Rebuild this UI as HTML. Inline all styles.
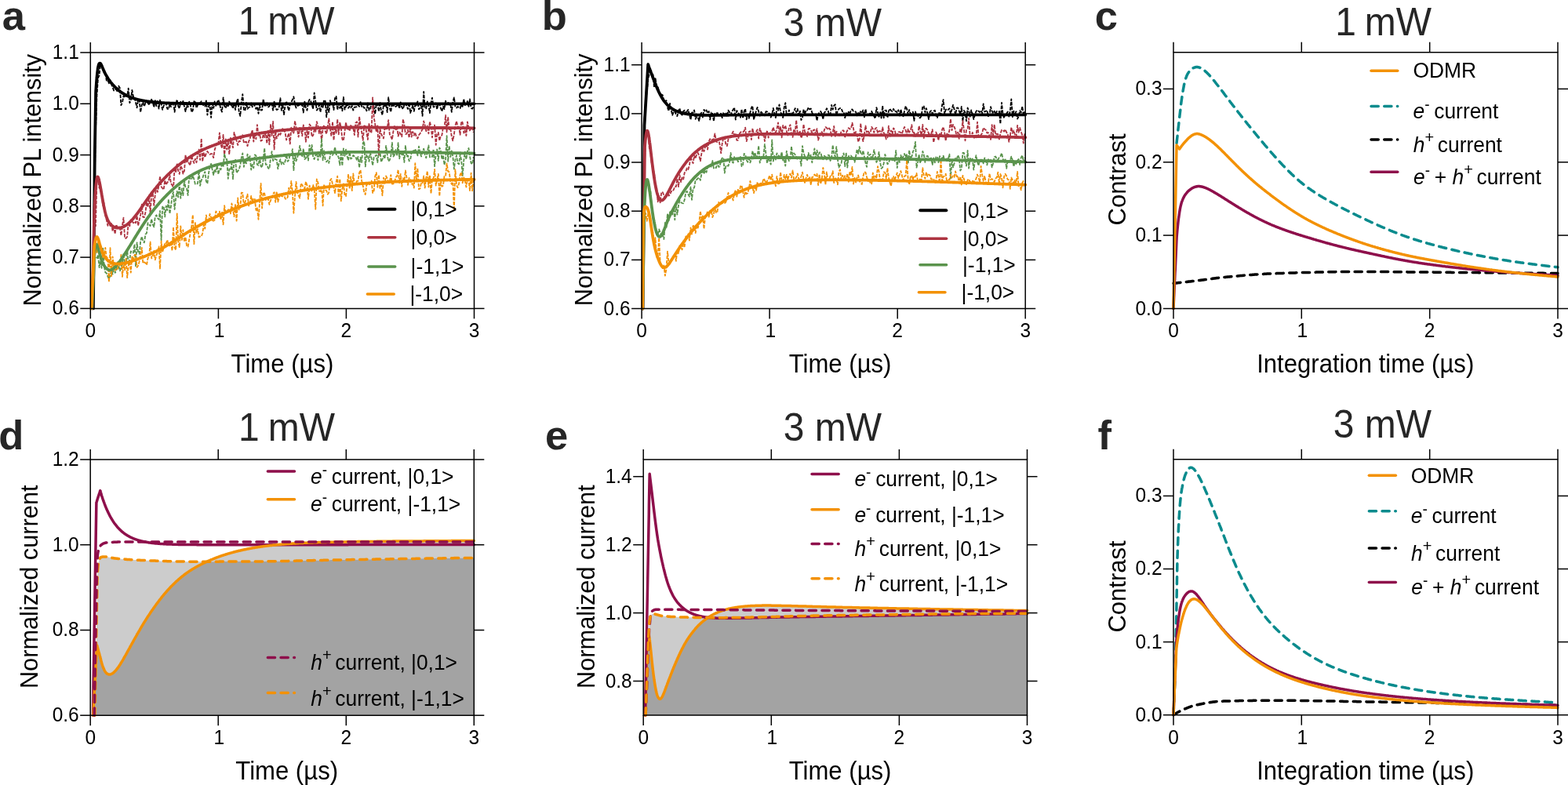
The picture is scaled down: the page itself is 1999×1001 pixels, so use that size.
<!DOCTYPE html>
<html><head><meta charset="utf-8"><title>Figure</title>
<style>html,body{margin:0;padding:0;background:#fff;overflow:hidden}svg{display:block}</style></head><body>
<svg width="1999" height="1001" viewBox="0 0 1999 1001" font-family='"Liberation Sans", Arial, Helvetica, sans-serif'>
<rect width="1999" height="1001" fill="#fff"/>
<g><path d="M117.3 393.4L118.8 390.8L120.4 245.1L121.9 168.4L123.5 121.1L125 99.6L126.6 95.8L128.1 79.9L129.6 83L131.2 88L132.7 92.5L134.3 92.7L135.8 102.7L137.4 102.1L138.9 106.2L140.5 102.3L142 107.4L143.6 111.1L145.1 115.5L146.7 114.1L148.2 114.1L149.8 117.1L151.3 109.6L152.9 112.4L154.4 134.2L156 130.6L157.5 122.1L159.1 124.4L160.6 121.7L162.2 122.4L163.7 112.6L165.3 131.2L166.8 127.8L168.4 114.9L169.9 123.2L171.5 123.6L173 130.7L174.6 137.4L176.1 126.8L177.7 128.5L179.2 143.1L180.8 133.6L182.3 130.5L183.9 135.6L185.4 131.2L187 130.4L188.5 131L190.1 134.2L191.6 128.3L193.2 126.8L194.7 130.2L196.3 136.7L197.8 128.2L199.4 135.2L200.9 127.7L202.5 138.6L204 127.7L205.6 133L207.1 139.9L208.7 134.8L210.2 132.9L211.8 131.7L213.3 138.8L214.9 139.5L216.4 132.4L218 136.1L219.5 132.3L221 129.4L222.6 142.8L224.1 132.3L225.7 127L227.2 135.4L228.8 138.3L230.3 129.7L231.9 132.5L233.4 128.9L235 135.9L236.5 142.2L238.1 134.6L239.6 136.5L241.2 129.7L242.7 133L244.3 143.1L245.8 140.7L247.4 129.2L248.9 130.3L250.5 137.7L252 134.1L253.6 131.7L255.1 131.5L256.7 129.3L258.2 132.7L259.8 135.2L261.3 135.6L262.9 128.3L264.4 146.7L266 135L267.5 134L269.1 150L270.6 132.4L272.2 137.8L273.7 129.4L275.3 134.9L276.8 130.5L278.4 127.4L279.9 132.1L281.5 139.1L283 142.6L284.6 124.5L286.1 134.8L287.7 138L289.2 133.4L290.8 135.3L292.3 129.5L293.9 134L295.4 134.2L297 138.2L298.5 131.6L300.1 140L301.6 130.5L303.2 125.8L304.7 142.7L306.3 147.9L307.8 130.8L309.3 120.1L310.9 139.8L312.4 141.2L314 131L315.5 138.9L317.1 137L318.6 136.2L320.2 131.3L321.7 136.5L323.3 132.7L324.8 135.2L326.4 138.9L327.9 136L329.5 144.8L331 134.2L332.6 140.5L334.1 140.3L335.7 126.2L337.2 134.5L338.8 134.5L340.3 131.4L341.9 136.6L343.4 135.5L345 131.9L346.5 132.7L348.1 140.7L349.6 129.6L351.2 137.5L352.7 140.1L354.3 139.2L355.8 136.4L357.4 125.2L358.9 140.8L360.5 133.4L362 146.1L363.6 134.2L365.1 129.2L366.7 135.6L368.2 141.2L369.8 133L371.3 130.4L372.9 126.9L374.4 123.3L376 133.1L377.5 137.5L379.1 134.9L380.6 134.6L382.2 133.6L383.7 134.4L385.3 133.3L386.8 143.5L388.4 129.6L389.9 137.4L391.5 140.7L393 130.7L394.6 126.9L396.1 128.8L397.6 133.3L399.2 139.4L400.7 118.3L402.3 129.4L403.8 140.6L405.4 138.6L406.9 133.8L408.5 142.9L410 133.3L411.6 136.8L413.1 127.4L414.7 128.9L416.2 149.3L417.8 134L419.3 143.2L420.9 128.1L422.4 133.3L424 131.2L425.5 140.1L427.1 124.1L428.6 123L430.2 140.1L431.7 132.2L433.3 138L434.8 134.4L436.4 141.3L437.9 123.9L439.5 139.6L441 135.9L442.6 131.5L444.1 137.8L445.7 135.6L447.2 137.4L448.8 135L450.3 140.7L451.9 136.7L453.4 136.5L455 136.1L456.5 133.9L458.1 135.9L459.6 130.1L461.2 136L462.7 135L464.3 137.9L465.8 137.2L467.4 141.3L468.9 131.4L470.5 140.6L472 138.4L473.6 132.2L475.1 132L476.7 136.5L478.2 145.4L479.8 131.9L481.3 132.8L482.9 142.1L484.4 130L486 142L487.5 146.7L489 133.2L490.6 135.2L492.1 133.1L493.7 143.1L495.2 124.2L496.8 137.6L498.3 142.8L499.9 130.8L501.4 136.2L503 132.4L504.5 136.1L506.1 134.6L507.6 132.9L509.2 138.4L510.7 130.5L512.3 136.8L513.8 139.1L515.4 133.8L516.9 131.8L518.5 135.5L520 139L521.6 130.8L523.1 144L524.7 140L526.2 134L527.8 141.8L529.3 134.1L530.9 134.5L532.4 129.3L534 139.3L535.5 137.7L537.1 132.4L538.6 147.9L540.2 117L541.7 138.1L543.3 138.3L544.8 129.5L546.4 134.5L547.9 144.1L549.5 130.8L551 124.7L552.6 136.7L554.1 135.8L555.7 131.5L557.2 139.3L558.8 131.8L560.3 133.1L561.9 138L563.4 142L565 135.5L566.5 139.1L568.1 128.7L569.6 133.4L571.2 129.9L572.7 133.5L574.3 132.8L575.8 142.9L577.3 130.5L578.9 124.3L580.4 136L582 137.5L583.5 136L585.1 136.9L586.6 138.1L588.2 133.5L589.7 135.9L591.3 126.3L592.8 134.2L594.4 132.4L595.9 129L597.5 135.9L599 126.3L600.6 137.7L602.1 138.7L603.7 136.3" fill="none" stroke="#000000" stroke-width="1.8" stroke-dasharray="4.5 1.5" stroke-linejoin="round"/>
<path d="M117.3 393.4L118.8 337.7L120.4 277.1L121.9 288.4L123.5 230.3L125 228.2L126.6 239.8L128.1 237.4L129.6 248.4L131.2 262.4L132.7 259L134.3 274.8L135.8 280.3L137.4 287.8L138.9 281.9L140.5 288.1L142 285.1L143.6 294.6L145.1 290.3L146.7 298.3L148.2 286.4L149.8 290.1L151.3 290.6L152.9 290.1L154.4 300.2L156 287.2L157.5 277.7L159.1 303.8L160.6 303.9L162.2 301.7L163.7 284.1L165.3 288.3L166.8 280.5L168.4 281.9L169.9 284.4L171.5 282.5L173 284.3L174.6 275.1L176.1 287.7L177.7 280.7L179.2 273.9L180.8 260.6L182.3 276.9L183.9 277L185.4 271.1L187 257.8L188.5 264.2L190.1 250.8L191.6 271.5L193.2 247.8L194.7 246.3L196.3 261.8L197.8 248.4L199.4 238.8L200.9 244.9L202.5 236.4L204 224.7L205.6 237.9L207.1 240.1L208.7 241.8L210.2 229.9L211.8 235.7L213.3 232.5L214.9 231.1L216.4 223.3L218 234.1L219.5 235.9L221 240.9L222.6 213.4L224.1 220L225.7 208.3L227.2 217.9L228.8 221.8L230.3 211.7L231.9 214.4L233.4 221.6L235 217.8L236.5 197.5L238.1 206.5L239.6 204.9L241.2 208.8L242.7 210.6L244.3 198.2L245.8 204.3L247.4 208L248.9 202.6L250.5 207.2L252 197L253.6 190.7L255.1 204L256.7 176.6L258.2 205.9L259.8 194.4L261.3 200.7L262.9 195.6L264.4 192.9L266 195.6L267.5 196.9L269.1 196L270.6 196.4L272.2 201.1L273.7 191.1L275.3 185.8L276.8 181.5L278.4 182.8L279.9 169.3L281.5 184.1L283 189.1L284.6 171.8L286.1 199.8L287.7 177.3L289.2 190.6L290.8 180.7L292.3 196.9L293.9 175.8L295.4 183L297 188.3L298.5 168.9L300.1 175L301.6 179.4L303.2 185L304.7 179.8L306.3 180L307.8 173.2L309.3 172.3L310.9 182.4L312.4 181.2L314 180.7L315.5 186.2L317.1 180.4L318.6 177.2L320.2 170.5L321.7 165.7L323.3 180.7L324.8 170.6L326.4 177.4L327.9 159.1L329.5 174L331 169.8L332.6 179.8L334.1 178.7L335.7 171.1L337.2 175.1L338.8 169.5L340.3 183L341.9 166.8L343.4 184.3L345 158.8L346.5 173L348.1 154.9L349.6 190.5L351.2 167.2L352.7 176.5L354.3 173.4L355.8 169.5L357.4 171.8L358.9 167.5L360.5 163.8L362 164.3L363.6 169.5L365.1 178.5L366.7 174.3L368.2 169.8L369.8 183.5L371.3 162.7L372.9 169.7L374.4 169.7L376 154.1L377.5 162.8L379.1 165.9L380.6 174.6L382.2 162.8L383.7 164.7L385.3 173.4L386.8 159.5L388.4 163.2L389.9 180.9L391.5 165.8L393 175.7L394.6 158.4L396.1 160.7L397.6 174.3L399.2 172.7L400.7 165.5L402.3 167.9L403.8 155.1L405.4 160.7L406.9 170L408.5 161.8L410 180.5L411.6 163.6L413.1 159.5L414.7 167L416.2 170.8L417.8 161.6L419.3 151.5L420.9 164.1L422.4 173.6L424 155.1L425.5 178.9L427.1 161.8L428.6 169.6L430.2 152L431.7 171.4L433.3 155.8L434.8 163.1L436.4 177.7L437.9 179.4L439.5 167.5L441 155.9L442.6 164.3L444.1 164.7L445.7 166.9L447.2 159.9L448.8 162.4L450.3 163.1L451.9 172.2L453.4 156.6L455 155.3L456.5 174.5L458.1 148.6L459.6 159.9L461.2 168.6L462.7 178.8L464.3 160.4L465.8 161.1L467.4 169.4L468.9 178L470.5 157L472 169.3L473.6 168.5L475.1 124.3L476.7 149.8L478.2 158.3L479.8 168.4L481.3 160.5L482.9 197.9L484.4 164.4L486 170.6L487.5 174.4L489 176.5L490.6 161.4L492.1 164.5L493.7 164L495.2 153.1L496.8 171.3L498.3 174.1L499.9 178L501.4 167.6L503 159.8L504.5 166.3L506.1 160.6L507.6 173.7L509.2 168.6L510.7 170.8L512.3 174.2L513.8 151.9L515.4 159.2L516.9 170.8L518.5 170.8L520 165.7L521.6 175.7L523.1 162.2L524.7 174.6L526.2 168L527.8 172.7L529.3 168.8L530.9 174.9L532.4 176.7L534 172.3L535.5 170.3L537.1 167.5L538.6 164.9L540.2 154.5L541.7 159.6L543.3 167.3L544.8 160.3L546.4 170.4L547.9 155.1L549.5 161.6L551 175.3L552.6 160.1L554.1 159.7L555.7 184.8L557.2 170.9L558.8 169L560.3 179.4L561.9 173.2L563.4 172.4L565 162L566.5 163.5L568.1 146.8L569.6 168.5L571.2 149.1L572.7 165.1L574.3 163.7L575.8 174L577.3 179.4L578.9 171.2L580.4 160.2L582 154.4L583.5 161.4L585.1 162.2L586.6 171.8L588.2 154.7L589.7 156.1L591.3 169.6L592.8 166.1L594.4 173L595.9 155.3L597.5 162.9L599 166.5L600.6 162.9L602.1 162.7L603.7 168.8" fill="none" stroke="#ad3340" stroke-width="1.8" stroke-dasharray="4.5 1.5" stroke-linejoin="round"/>
<path d="M117.3 383.3L118.8 381.9L120.4 327.8L121.9 328.5L123.5 329.8L125 324.8L126.6 341.2L128.1 332.9L129.6 341.9L131.2 315.6L132.7 339.2L134.3 347.2L135.8 348.4L137.4 352.4L138.9 355.8L140.5 351.3L142 344.9L143.6 349.7L145.1 340.5L146.7 347.9L148.2 345.3L149.8 333.2L151.3 339.2L152.9 345.3L154.4 341.6L156 334.8L157.5 323.3L159.1 337.5L160.6 335.6L162.2 317.8L163.7 336.8L165.3 330.8L166.8 320.5L168.4 320.9L169.9 322.5L171.5 311.6L173 339.3L174.6 309.3L176.1 321.1L177.7 323.7L179.2 307.2L180.8 301.6L182.3 307.3L183.9 309.4L185.4 299L187 297.1L188.5 284.2L190.1 286.5L191.6 288.1L193.2 279.2L194.7 286.4L196.3 289.4L197.8 276.3L199.4 274.2L200.9 277.9L202.5 279.9L204 269L205.6 306.2L207.1 263.5L208.7 263.1L210.2 276.5L211.8 262.6L213.3 268.2L214.9 254.1L216.4 272.5L218 262.8L219.5 249.6L221 244.8L222.6 267L224.1 253.6L225.7 243.8L227.2 251.5L228.8 234.3L230.3 252.9L231.9 240.4L233.4 249.2L235 230.2L236.5 239.2L238.1 240.5L239.6 249L241.2 223.4L242.7 229L244.3 227.9L245.8 224L247.4 228.7L248.9 234.7L250.5 234.9L252 234L253.6 217.5L255.1 236.9L256.7 229.9L258.2 227.1L259.8 222.3L261.3 219.1L262.9 231.4L264.4 234.2L266 221.1L267.5 211.7L269.1 208.9L270.6 216.1L272.2 223.1L273.7 215.9L275.3 219.2L276.8 211.1L278.4 222.2L279.9 215.1L281.5 216.4L283 207.3L284.6 213.1L286.1 196L287.7 203.2L289.2 202.9L290.8 227.9L292.3 215.4L293.9 217L295.4 208.5L297 228.4L298.5 203.3L300.1 203.9L301.6 220.6L303.2 218.1L304.7 216.5L306.3 210.3L307.8 201.1L309.3 195.4L310.9 212.8L312.4 204.2L314 208.4L315.5 196.7L317.1 203.8L318.6 199.1L320.2 216.5L321.7 209.9L323.3 214.2L324.8 197.3L326.4 198.5L327.9 209.9L329.5 210.8L331 200.4L332.6 212.2L334.1 213.6L335.7 203.3L337.2 188.9L338.8 209.9L340.3 210.1L341.9 214.4L343.4 215.3L345 201.8L346.5 193.1L348.1 205.1L349.6 202.6L351.2 203.1L352.7 203.6L354.3 215.4L355.8 207.5L357.4 203.2L358.9 209.5L360.5 207.1L362 209.4L363.6 205.7L365.1 197L366.7 205.9L368.2 203.9L369.8 196.8L371.3 197.9L372.9 190.2L374.4 217.2L376 195.9L377.5 205.4L379.1 200.8L380.6 195.6L382.2 186L383.7 193.9L385.3 200.2L386.8 189.6L388.4 203.1L389.9 201.9L391.5 195.1L393 204.7L394.6 185.1L396.1 193.2L397.6 184.8L399.2 200.5L400.7 203L402.3 197.7L403.8 194.8L405.4 204.2L406.9 197.2L408.5 199.9L410 176.5L411.6 204.4L413.1 192.1L414.7 204.2L416.2 206.4L417.8 204.5L419.3 207.9L420.9 198.2L422.4 191.8L424 198L425.5 194.7L427.1 187.4L428.6 197.1L430.2 197.6L431.7 200.9L433.3 210.5L434.8 193.4L436.4 211.4L437.9 189.4L439.5 198.9L441 190.6L442.6 199.2L444.1 204.6L445.7 193.5L447.2 202.6L448.8 201.2L450.3 198L451.9 199.5L453.4 199.9L455 204.5L456.5 199.8L458.1 213.8L459.6 200.7L461.2 207L462.7 182.3L464.3 180.2L465.8 212.4L467.4 197.3L468.9 199.3L470.5 205.9L472 194.5L473.6 201.7L475.1 211L476.7 200.3L478.2 199.4L479.8 197.6L481.3 207.2L482.9 193.9L484.4 193.1L486 206.6L487.5 203.1L489 198.9L490.6 202.4L492.1 185.8L493.7 196.9L495.2 205.6L496.8 204L498.3 198.8L499.9 181.9L501.4 199.7L503 197.5L504.5 191L506.1 198.7L507.6 182.1L509.2 202.3L510.7 193.1L512.3 197.3L513.8 194L515.4 207L516.9 185.8L518.5 199.4L520 198.3L521.6 205.3L523.1 203.8L524.7 194.6L526.2 191.6L527.8 193.2L529.3 190L530.9 193.6L532.4 198.3L534 186.7L535.5 194.5L537.1 199.5L538.6 193.6L540.2 189.6L541.7 197.2L543.3 201.4L544.8 193.7L546.4 185.3L547.9 200.5L549.5 199.6L551 200L552.6 190.2L554.1 212.2L555.7 196.4L557.2 190.5L558.8 205L560.3 188.5L561.9 191.5L563.4 203.2L565 197.8L566.5 210.3L568.1 203.4L569.6 173.1L571.2 205.8L572.7 186.1L574.3 200L575.8 192.3L577.3 199.2L578.9 215.6L580.4 203.6L582 198.2L583.5 207.8L585.1 209.3L586.6 197L588.2 204.3L589.7 224.1L591.3 204.6L592.8 193.6L594.4 203.2L595.9 193.1L597.5 188.9L599 199.4L600.6 208L602.1 209.3L603.7 200.1" fill="none" stroke="#5a934c" stroke-width="1.8" stroke-dasharray="4.5 1.5" stroke-linejoin="round"/>
<path d="M117.3 386L118.8 348.1L120.4 301.3L121.9 305.5L123.5 323.1L125 308.7L126.6 316.7L128.1 314.3L129.6 333.4L131.2 321.5L132.7 324.7L134.3 315.9L135.8 328.7L137.4 328.6L138.9 359.6L140.5 316.1L142 352.3L143.6 327.3L145.1 339.9L146.7 344.8L148.2 343.1L149.8 343.4L151.3 334.5L152.9 338.6L154.4 324.9L156 352.9L157.5 337.2L159.1 344.4L160.6 330L162.2 354.2L163.7 338.8L165.3 333.7L166.8 347.6L168.4 326.2L169.9 332.6L171.5 325.1L173 325L174.6 340.9L176.1 338.8L177.7 333.2L179.2 324.6L180.8 315.9L182.3 335.7L183.9 334.3L185.4 335.3L187 337.8L188.5 329.2L190.1 327.7L191.6 308.5L193.2 329.5L194.7 327L196.3 320L197.8 331.3L199.4 325.6L200.9 321.6L202.5 314.4L204 342.5L205.6 307.7L207.1 321.5L208.7 316.2L210.2 309.6L211.8 310.2L213.3 305.9L214.9 312.5L216.4 313.4L218 309.4L219.5 319.6L221 289.5L222.6 315.7L224.1 318.9L225.7 272.3L227.2 308.5L228.8 315.2L230.3 288.4L231.9 306L233.4 293.2L235 308.2L236.5 302.3L238.1 313.6L239.6 314.5L241.2 305.6L242.7 297L244.3 288.6L245.8 273.9L247.4 311.1L248.9 284.1L250.5 296.9L252 292.1L253.6 302.5L255.1 301.6L256.7 301.4L258.2 297.5L259.8 286.6L261.3 291.7L262.9 274.3L264.4 282.8L266 281.9L267.5 272.8L269.1 277.3L270.6 281.2L272.2 281.7L273.7 280.4L275.3 269.5L276.8 271.2L278.4 274L279.9 269.6L281.5 280.3L283 270.7L284.6 286.3L286.1 262.2L287.7 272.2L289.2 270.7L290.8 266.5L292.3 271L293.9 272.4L295.4 259.5L297 268L298.5 276.1L300.1 260.3L301.6 281.6L303.2 252.5L304.7 267.4L306.3 265L307.8 245.6L309.3 245.9L310.9 262.6L312.4 257.8L314 253.3L315.5 247.7L317.1 262.5L318.6 259.8L320.2 250L321.7 257.6L323.3 253L324.8 253.7L326.4 268L327.9 265.2L329.5 279.9L331 259.2L332.6 233.8L334.1 265.5L335.7 245.2L337.2 246.7L338.8 255.2L340.3 254.4L341.9 253.2L343.4 260.8L345 255.5L346.5 253.1L348.1 247.1L349.6 245.2L351.2 257.9L352.7 244.2L354.3 257.4L355.8 251.9L357.4 247L358.9 250L360.5 250.5L362 246.8L363.6 253.5L365.1 254L366.7 251.6L368.2 239.6L369.8 248.4L371.3 231L372.9 245.1L374.4 271.8L376 250L377.5 231.9L379.1 245.7L380.6 249.2L382.2 252.6L383.7 233.7L385.3 236.1L386.8 238.7L388.4 240.5L389.9 231.6L391.5 236.6L393 253.8L394.6 236.6L396.1 241.4L397.6 243.6L399.2 235.9L400.7 241.9L402.3 266.8L403.8 228.5L405.4 232.7L406.9 243.4L408.5 244.2L410 238.9L411.6 262.4L413.1 235.2L414.7 242.2L416.2 243L417.8 247.7L419.3 245.4L420.9 230.1L422.4 227.9L424 234.8L425.5 239.3L427.1 246.2L428.6 232.5L430.2 224.7L431.7 251.9L433.3 228.1L434.8 256.3L436.4 240.6L437.9 234.3L439.5 249L441 250.1L442.6 235.5L444.1 222.1L445.7 240.9L447.2 225.3L448.8 243.2L450.3 221.5L451.9 235.3L453.4 234.2L455 230.8L456.5 230.5L458.1 220.1L459.6 216.9L461.2 230.9L462.7 236.8L464.3 245.3L465.8 248L467.4 235L468.9 235.8L470.5 235.3L472 234.7L473.6 230.5L475.1 246L476.7 243.2L478.2 224.9L479.8 220.1L481.3 238.8L482.9 223.1L484.4 239.8L486 236.1L487.5 249.3L489 226.6L490.6 233.8L492.1 224.5L493.7 227.5L495.2 232.6L496.8 231.9L498.3 223.1L499.9 234.5L501.4 234.3L503 232.4L504.5 226L506.1 224.9L507.6 216.4L509.2 233.3L510.7 221.8L512.3 237.9L513.8 227.2L515.4 231.1L516.9 217.4L518.5 226.9L520 235.8L521.6 227L523.1 228.9L524.7 234.4L526.2 234.2L527.8 239.6L529.3 208.2L530.9 230.3L532.4 214.5L534 241.3L535.5 240.5L537.1 232.6L538.6 233.3L540.2 224.4L541.7 239.6L543.3 226.5L544.8 218.2L546.4 238.7L547.9 223.2L549.5 246.8L551 227.9L552.6 227.7L554.1 216L555.7 236.6L557.2 229.3L558.8 221.8L560.3 250.1L561.9 230.6L563.4 237.9L565 236.5L566.5 224.7L568.1 224.5L569.6 208.5L571.2 218.7L572.7 219.4L574.3 231.7L575.8 235L577.3 229.1L578.9 268.4L580.4 216.1L582 235.9L583.5 239.2L585.1 234L586.6 222.7L588.2 219.6L589.7 233.3L591.3 226.4L592.8 230.6L594.4 238.5L595.9 228.6L597.5 229.8L599 243.1L600.6 220.7L602.1 243.3L603.7 228" fill="none" stroke="#f39104" stroke-width="1.8" stroke-dasharray="4.5 1.5" stroke-linejoin="round"/>
<path d="M118.9 393.4L119.1 373.8L119.3 354.3L119.5 334.7L119.7 315.2L119.9 295.6L120.1 276.1L120.3 256.5L120.5 237L120.6 217.4L120.8 197.9L120.8 197.6L121 186L121.2 174.3L121.4 162.6L121.6 150.8L121.8 139.1L122 127.4L122.1 119.2L122.2 116L122.4 113.1L122.6 110.1L122.8 107.3L123 104.6L123.2 102.1L123.4 99.7L123.5 98.8L123.6 97.5L123.8 95.4L124 93.5L124.2 91.8L124.4 90.2L124.6 88.8L124.7 87.5L124.9 86.4L125.1 85.6L125.1 85.3L125.3 84.4L125.5 83.6L125.7 82.9L125.9 82.3L126.1 81.9L126.3 81.4L126.5 81.1L126.7 80.9L126.9 80.7L127.1 80.6L127.3 80.6L127.5 80.6L127.7 80.7L127.9 80.8L127.9 80.8L128.1 81L128.3 81.2L128.5 81.5L128.7 81.8L128.9 82.1L129 82.5L129.2 82.9L129.4 83.3L129.6 83.7L129.8 84.1L130 84.6L130.2 85L130.4 85.5L130.6 86L130.8 86.5L131 86.9L131.2 87.4L131.4 87.9L131.6 88.4L131.6 88.4L131.8 88.8L132 89.3L132.2 89.7L132.4 90.2L132.6 90.6L132.8 91L133 91.4L133.1 91.8L133.3 92.2L133.5 92.6L133.7 93L133.9 93.4L134.1 93.8L134.3 94.2L134.5 94.5L134.7 94.9L134.9 95.3L135.1 95.6L135.3 96L135.5 96.3L135.7 96.6L135.9 97L136.1 97.3L136.3 97.6L136.5 97.9L136.7 98.3L136.9 98.6L137.1 98.9L137.3 99.2L137.4 99.5L137.6 99.8L137.8 100.1L138 100.4L138.1 100.5L138.2 100.7L138.4 101L138.6 101.3L138.8 101.6L139 101.8L139.2 102.1L139.4 102.4L139.6 102.7L139.8 102.9L140 103.2L140.2 103.5L140.4 103.7L140.6 104L140.8 104.3L141 104.5L141.2 104.8L141.4 105L141.5 105.3L141.7 105.5L141.9 105.8L142.1 106L142.3 106.2L142.5 106.5L142.7 106.7L142.9 107L143.1 107.2L143.3 107.4L143.5 107.6L143.7 107.9L143.9 108.1L144.1 108.3L144.3 108.5L144.5 108.7L144.7 109L144.9 109.2L145.1 109.4L145.3 109.6L145.5 109.8L145.7 110L145.8 110.2L146 110.4L146.2 110.6L146.4 110.8L146.6 111L146.8 111.2L147 111.4L147.2 111.6L147.4 111.8L147.6 112L147.8 112.1L147.9 112.3L148 112.3L148.2 112.5L148.4 112.7L148.6 112.9L148.8 113.1L149 113.2L149.2 113.4L149.4 113.6L149.6 113.7L149.8 113.9L149.9 114.1L150.1 114.2L150.3 114.4L150.5 114.6L150.7 114.7L150.9 114.9L151.1 115.1L151.3 115.2L151.5 115.4L151.7 115.5L151.9 115.7L152.1 115.8L152.3 116L152.5 116.1L152.7 116.3L152.9 116.4L153.1 116.6L153.3 116.7L153.5 116.9L153.7 117L153.9 117.1L154.1 117.3L154.2 117.4L154.4 117.6L154.6 117.7L154.8 117.8L155 118L155.2 118.1L155.4 118.2L155.6 118.3L155.8 118.5L156 118.6L156.2 118.7L156.4 118.9L156.6 119L156.8 119.1L157 119.2L157.2 119.3L157.4 119.5L157.6 119.6L157.8 119.7L158 119.8L158.2 119.9L158.3 120L158.5 120.1L158.7 120.3L158.9 120.4L159.1 120.5L159.3 120.6L159.5 120.7L159.7 120.8L159.9 120.9L160.1 121L160.3 121.1L160.5 121.2L160.7 121.3L160.9 121.4L161 121.5L161.1 121.5L161.3 121.6L161.5 121.7L161.7 121.8L161.9 121.9L162.1 122L162.3 122.1L162.5 122.2L162.6 122.3L162.8 122.4L163 122.5L163.2 122.6L163.4 122.7L163.6 122.7L163.8 122.8L164 122.9L164.2 123L164.4 123.1L164.6 123.2L164.8 123.3L165 123.3L165.2 123.4L165.4 123.5L165.6 123.6L165.8 123.7L166 123.7L166.2 123.8L166.4 123.9L166.6 124L166.7 124.1L166.9 124.1L167.1 124.2L167.3 124.3L167.5 124.3L167.7 124.4L167.9 124.5L168.1 124.6L168.3 124.6L168.5 124.7L168.7 124.8L168.9 124.8L169.1 124.9L169.3 125L169.5 125L169.7 125.1L169.9 125.2L170.1 125.2L170.3 125.3L170.5 125.4L170.7 125.4L170.9 125.5L171 125.6L171.2 125.6L171.4 125.7L171.6 125.7L171.8 125.8L172 125.9L172.2 125.9L172.4 126L172.6 126L172.8 126.1L173 126.2L173.2 126.2L173.4 126.3L173.6 126.3L173.8 126.4L174 126.4L174.2 126.5L174.4 126.5L174.6 126.6L174.8 126.7L175 126.7L175.1 126.8L175.3 126.8L175.5 126.9L175.7 126.9L175.9 127L176.1 127L176.3 127.1L176.5 127.1L176.7 127.1L176.9 127.2L177.1 127.2L177.3 127.3L177.3 127.3L177.5 127.3L177.7 127.4L177.9 127.4L178.1 127.5L178.3 127.5L178.5 127.6L178.7 127.6L178.9 127.6L179.1 127.7L179.3 127.7L179.4 127.8L179.6 127.8L179.8 127.9L180 127.9L180.2 127.9L180.4 128L180.6 128L180.8 128.1L181 128.1L181.2 128.1L181.4 128.2L181.6 128.2L181.8 128.3L182 128.3L182.2 128.3L182.4 128.4L182.6 128.4L182.8 128.4L183 128.5L183.2 128.5L183.4 128.5L183.5 128.6L183.7 128.6L183.9 128.6L184.1 128.7L184.3 128.7L184.5 128.7L184.7 128.8L184.9 128.8L185.1 128.8L185.3 128.9L185.5 128.9L185.7 128.9L185.9 129L186.1 129L186.3 129L186.5 129.1L186.7 129.1L186.9 129.1L187.1 129.2L187.3 129.2L187.5 129.2L187.7 129.2L187.8 129.3L188 129.3L188.2 129.3L188.4 129.4L188.6 129.4L188.8 129.4L189 129.4L189.2 129.5L189.4 129.5L189.6 129.5L189.8 129.5L190 129.6L190.2 129.6L190.4 129.6L190.6 129.6L190.8 129.7L191 129.7L191.2 129.7L191.4 129.7L191.6 129.8L191.8 129.8L191.9 129.8L192.1 129.8L192.3 129.9L192.5 129.9L192.7 129.9L192.9 129.9L193.1 129.9L193.3 130L193.5 130L193.7 130L193.9 130L194.1 130.1L194.3 130.1L194.5 130.1L194.7 130.1L194.9 130.1L195.1 130.2L195.3 130.2L195.5 130.2L195.7 130.2L195.9 130.2L196.1 130.3L196.2 130.3L196.4 130.3L196.6 130.3L196.8 130.3L197.5 130.4L198.2 130.5L198.9 130.5L199.6 130.6L200.2 130.6L200.9 130.7L201.6 130.7L202.3 130.8L203 130.8L203.6 130.9L204.3 130.9L205 131L205.7 131L206.4 131.1L207 131.1L207.7 131.1L208.4 131.2L209.1 131.2L209.8 131.3L210.4 131.3L211.1 131.3L211.8 131.4L212.5 131.4L213.2 131.4L213.8 131.4L214.5 131.5L215.2 131.5L215.9 131.5L216.6 131.6L217.3 131.6L217.9 131.6L218.6 131.6L219.3 131.6L220 131.7L220.7 131.7L221.3 131.7L222 131.7L222.7 131.7L223.4 131.8L224.1 131.8L224.7 131.8L225.4 131.8L226.1 131.8L226.8 131.8L227.5 131.9L228.1 131.9L228.8 131.9L229.4 131.9L229.5 131.9L230.2 131.9L230.9 131.9L231.5 131.9L232.2 132L232.9 132L233.6 132L234.3 132L234.9 132L235.6 132L236.3 132L237 132L237.7 132L238.3 132L239 132.1L239.7 132.1L240.4 132.1L241.1 132.1L241.8 132.1L242.4 132.1L243.1 132.1L243.8 132.1L244.5 132.1L245.2 132.1L245.8 132.1L246.5 132.1L247.2 132.1L247.9 132.1L248.6 132.1L249.2 132.2L249.9 132.2L250.6 132.2L251.3 132.2L252 132.2L252.6 132.2L253.3 132.2L254 132.2L254.7 132.2L255.4 132.2L256 132.2L256.7 132.2L257.4 132.2L258.1 132.2L258.8 132.2L259.4 132.2L260.1 132.2L260.8 132.2L261.5 132.2L262.2 132.2L262.8 132.2L263.5 132.2L264.2 132.2L264.9 132.2L265.6 132.2L266.3 132.2L266.9 132.2L267.6 132.2L268.3 132.2L269 132.2L269.7 132.2L270.3 132.2L271 132.2L271.7 132.2L272.4 132.2L273.1 132.2L273.7 132.2L274.4 132.2L275.1 132.3L275.8 132.3L276.5 132.3L277.1 132.3L277.8 132.3L278.4 132.3L278.5 132.3L279.2 132.3L279.9 132.3L280.5 132.3L281.2 132.3L281.9 132.3L282.6 132.3L283.3 132.3L283.9 132.3L284.6 132.3L285.3 132.3L286 132.3L286.7 132.3L287.4 132.3L288 132.3L288.7 132.3L289.4 132.3L290.1 132.3L290.8 132.3L291.4 132.3L292.1 132.3L292.8 132.3L293.5 132.3L294.2 132.3L294.8 132.3L295.5 132.3L296.2 132.3L296.9 132.3L297.6 132.3L298.2 132.3L298.9 132.3L299.6 132.3L300.3 132.3L301 132.3L301.6 132.3L302.3 132.3L303 132.3L303.7 132.3L304.4 132.3L305 132.3L305.7 132.3L306.4 132.3L307.1 132.3L307.8 132.3L308.4 132.3L309.1 132.3L309.8 132.3L310.5 132.3L311.2 132.3L311.9 132.3L312.5 132.3L313.2 132.3L313.9 132.3L314.6 132.3L315.3 132.3L315.9 132.3L316.6 132.3L317.3 132.3L318 132.3L318.7 132.3L319.3 132.3L320 132.3L320.7 132.3L321.4 132.3L322.1 132.3L322.7 132.3L323.4 132.3L324.1 132.3L324.8 132.3L325.5 132.3L326.1 132.3L326.8 132.3L327.5 132.3L328.2 132.3L328.9 132.3L329.5 132.3L330.2 132.3L330.9 132.3L331.6 132.3L332.3 132.3L332.9 132.3L333.6 132.3L334.3 132.3L335 132.3L335.7 132.3L336.4 132.3L337 132.3L337.7 132.3L338.4 132.3L339.1 132.3L339.8 132.3L340.4 132.3L341.1 132.3L341.8 132.3L342.5 132.3L343.2 132.3L343.8 132.3L344.5 132.3L345.2 132.3L345.9 132.3L346.6 132.3L347.2 132.3L347.9 132.3L348.6 132.3L349.3 132.3L350 132.3L350.6 132.3L351.3 132.3L352 132.3L352.7 132.3L353.4 132.3L354 132.3L354.7 132.3L355.4 132.3L356.1 132.3L356.8 132.3L357.4 132.3L358.1 132.3L358.8 132.3L359.5 132.3L359.9 132.3L360.2 132.3L360.9 132.3L361.5 132.3L362.2 132.3L362.9 132.3L363.6 132.3L364.3 132.3L364.9 132.3L365.6 132.3L366.3 132.3L367 132.3L367.7 132.3L368.3 132.3L369 132.3L369.7 132.3L370.4 132.3L371.1 132.3L371.7 132.3L372.4 132.3L373.1 132.3L373.8 132.3L374.5 132.3L375.1 132.3L375.8 132.3L376.5 132.3L377.2 132.3L377.9 132.3L378.5 132.3L379.2 132.3L379.9 132.3L380.6 132.3L381.3 132.3L382 132.3L382.6 132.3L383.3 132.3L384 132.3L384.7 132.3L385.4 132.3L386 132.3L386.7 132.3L387.4 132.3L388.1 132.3L388.8 132.3L389.4 132.3L390.1 132.3L390.8 132.3L391.5 132.3L392.2 132.3L392.8 132.3L393.5 132.3L394.2 132.3L394.9 132.3L395.6 132.3L396.2 132.3L396.9 132.3L397.6 132.3L398.3 132.3L399 132.3L399.6 132.3L400.3 132.3L401 132.3L401.7 132.3L402.4 132.3L403 132.3L403.7 132.3L404.4 132.3L405.1 132.3L405.8 132.3L406.5 132.3L407.1 132.3L407.8 132.3L408.5 132.3L409.2 132.3L409.9 132.3L410.5 132.3L411.2 132.3L411.9 132.3L412.6 132.3L413.3 132.3L413.9 132.3L414.6 132.3L415.3 132.3L416 132.3L416.7 132.3L417.3 132.3L418 132.3L418.7 132.3L419.4 132.3L420.1 132.3L420.7 132.3L421.4 132.3L422.1 132.3L422.8 132.3L423.5 132.3L424.1 132.3L424.8 132.3L425.5 132.3L426.2 132.3L426.9 132.3L427.5 132.3L428.2 132.3L428.9 132.3L429.6 132.3L430.3 132.3L431 132.3L431.6 132.3L432.3 132.3L433 132.3L433.7 132.3L434.4 132.3L435 132.3L435.7 132.3L436.4 132.3L437.1 132.3L437.8 132.3L438.4 132.3L439.1 132.3L439.8 132.3L440.5 132.3L441.2 132.3L441.8 132.3L442.5 132.3L443.2 132.3L443.9 132.3L444.6 132.3L445.2 132.3L445.9 132.3L446.6 132.3L447.3 132.3L448 132.3L448.6 132.3L449.3 132.3L450 132.3L450.7 132.3L451.4 132.3L452.1 132.3L452.7 132.3L453.4 132.3L454.1 132.3L454.8 132.3L455.5 132.3L456.1 132.3L456.8 132.3L457.5 132.3L458.2 132.3L458.9 132.3L459.5 132.3L460.2 132.3L460.9 132.3L461.6 132.3L462.3 132.3L462.9 132.3L463.6 132.3L464.3 132.3L465 132.3L465.7 132.3L466.3 132.3L467 132.3L467.7 132.3L468.4 132.3L469.1 132.3L469.7 132.3L470.4 132.3L471.1 132.3L471.8 132.3L472.5 132.3L473.1 132.3L473.8 132.3L474 132.3L474.5 132.3L475.2 132.3L475.9 132.3L476.6 132.3L477.2 132.3L477.9 132.3L478.6 132.3L479.3 132.3L480 132.3L480.6 132.3L481.3 132.3L482 132.3L482.7 132.3L483.4 132.3L484 132.3L484.7 132.3L485.4 132.3L486.1 132.3L486.8 132.3L487.4 132.3L488.1 132.3L488.8 132.3L489.5 132.3L490.2 132.3L490.8 132.3L491.5 132.3L492.2 132.3L492.9 132.3L493.6 132.3L494.2 132.3L494.9 132.3L495.6 132.3L496.3 132.3L497 132.3L497.6 132.3L498.3 132.3L499 132.3L499.7 132.3L500.4 132.3L501.1 132.3L501.7 132.3L502.4 132.3L503.1 132.3L503.8 132.3L504.5 132.3L505.1 132.3L505.8 132.3L506.5 132.3L507.2 132.3L507.9 132.3L508.5 132.3L509.2 132.3L509.9 132.3L510.6 132.3L511.3 132.3L511.9 132.3L512.6 132.3L513.3 132.3L514 132.3L514.7 132.3L515.3 132.3L516 132.3L516.7 132.3L517.4 132.3L518.1 132.3L518.7 132.3L519.4 132.3L520.1 132.3L520.8 132.3L521.5 132.3L522.1 132.3L522.8 132.3L523.5 132.3L524.2 132.3L524.9 132.3L525.6 132.3L526.2 132.3L526.9 132.3L527.6 132.3L528.3 132.3L529 132.3L529.6 132.3L530.3 132.3L531 132.3L531.7 132.3L532.4 132.3L533 132.3L533.7 132.3L534.4 132.3L535.1 132.3L535.8 132.3L536.4 132.3L537.1 132.3L537.8 132.3L538.5 132.3L539.2 132.3L539.8 132.3L540.5 132.3L541.2 132.3L541.9 132.3L542.6 132.3L543.2 132.3L543.9 132.3L544.6 132.3L545.3 132.3L546 132.3L546.7 132.3L547.3 132.3L548 132.3L548.7 132.3L549.4 132.3L550.1 132.3L550.7 132.3L551.4 132.3L552.1 132.3L552.8 132.3L553.5 132.3L554.1 132.3L554.8 132.3L555.5 132.3L556.2 132.3L556.9 132.3L557.5 132.3L558.2 132.3L558.9 132.3L559.6 132.3L560.3 132.3L560.9 132.3L561.6 132.3L562.3 132.3L563 132.3L563.7 132.3L564.3 132.3L565 132.3L565.7 132.3L566.4 132.3L567.1 132.3L567.7 132.3L568.4 132.3L569.1 132.3L569.8 132.3L570.5 132.3L571.2 132.3L571.8 132.3L572.5 132.3L573.2 132.3L573.9 132.3L574.6 132.3L575.2 132.3L575.9 132.3L576.6 132.3L577.3 132.3L578 132.3L578.6 132.3L579.3 132.3L580 132.3L580.7 132.3L581.4 132.3L582 132.3L582.7 132.3L583.4 132.3L584.1 132.3L584.8 132.3L585.4 132.3L586.1 132.3L586.8 132.3L587.5 132.3L588.2 132.3L588.8 132.3L589.5 132.3L590.2 132.3L590.9 132.3L591.6 132.3L592.2 132.3L592.9 132.3L593.6 132.3L594.3 132.3L595 132.3L595.7 132.3L596.3 132.3L597 132.3L597.7 132.3L598.4 132.3L599.1 132.3L599.7 132.3L600.4 132.3L601.1 132.3L601.8 132.3L602.5 132.3L603.1 132.3L603.8 132.3L604.5 132.3" fill="none" stroke="#000000" stroke-width="3.8" stroke-linejoin="round" stroke-linecap="round"/>
<path d="M117.3 393.4L117.5 385.4L117.7 377.4L117.9 369.4L118.1 361.5L118.3 353.5L118.5 345.5L118.7 337.5L118.9 329.5L119.1 321.5L119.3 313.6L119.5 305.6L119.7 297.6L119.8 289.6L120 281.6L120.2 275.9L120.2 272.9L120.4 268.5L120.6 264.3L120.8 260.2L121 256.2L121.2 252.5L121.4 249L121.6 245.7L121.8 242.7L122 239.9L122.1 238.6L122.2 237.4L122.4 235.2L122.6 233.2L122.8 231.5L123 230L123.2 228.8L123.4 227.7L123.6 226.9L123.8 226.2L123.9 226L124 225.8L124.2 225.5L124.4 225.4L124.6 225.4L124.8 225.6L125 225.9L125.2 226.3L125.4 226.8L125.6 227.4L125.8 228L125.9 228.3L126 228.8L126.2 229.5L126.4 230.4L126.6 231.2L126.8 232.1L127 233.1L127.2 234.1L127.4 235.1L127.6 236.2L127.8 237.3L128 238.4L128.2 239.5L128.4 240.6L128.6 241.7L128.8 242.9L129 244.1L129.2 245.2L129.4 246.4L129.6 247.6L129.8 248.7L130 249.6L130 249.9L130.2 251L130.4 252.2L130.6 253.3L130.8 254.4L131 255.6L131.2 256.7L131.4 257.8L131.6 258.8L131.8 259.9L132 260.9L132.2 262L132.4 263L132.6 264L132.8 264.9L133 265.9L133.2 266.8L133.4 267.7L133.6 268.6L133.8 269.5L134 270.3L134.2 271.1L134.4 271.9L134.6 272.6L134.8 273.4L135 274.1L135 274.2L135.2 274.8L135.4 275.4L135.6 276L135.8 276.6L136 277.2L136.2 277.8L136.4 278.3L136.6 278.8L136.8 279.3L137 279.8L137.2 280.2L137.4 280.7L137.6 281.1L137.8 281.5L138 281.9L138.2 282.2L138.4 282.6L138.6 282.9L138.8 283.3L139 283.6L139.2 283.9L139.4 284.2L139.6 284.4L139.8 284.7L140 285L140.2 285.2L140.4 285.5L140.6 285.7L140.8 285.9L141 286.1L141.2 286.3L141.4 286.5L141.4 286.5L141.6 286.7L141.8 286.9L142 287.1L142.2 287.3L142.4 287.4L142.6 287.6L142.8 287.8L143 287.9L143.2 288.1L143.4 288.2L143.6 288.4L143.8 288.5L144 288.6L144.2 288.7L144.4 288.9L144.6 289L144.8 289.1L145 289.2L145.2 289.3L145.4 289.4L145.6 289.5L145.8 289.6L146 289.7L146.2 289.7L146.4 289.8L146.6 289.9L146.8 290L147 290L147.2 290.1L147.4 290.1L147.6 290.2L147.8 290.2L148 290.3L148.2 290.3L148.4 290.4L148.6 290.4L148.8 290.4L149 290.5L149.2 290.5L149.4 290.5L149.6 290.5L149.8 290.5L150 290.5L150.2 290.6L150.4 290.6L150.6 290.6L150.8 290.6L151 290.6L151.2 290.6L151.2 290.6L151.4 290.6L151.6 290.5L151.8 290.5L152 290.5L152.2 290.5L152.4 290.5L152.6 290.5L152.8 290.4L153 290.4L153.2 290.4L153.4 290.3L153.6 290.3L153.8 290.3L154 290.2L154.2 290.2L154.4 290.1L154.6 290.1L154.8 290L155 290L155.2 289.9L155.3 289.8L155.5 289.8L155.7 289.7L155.9 289.7L156.1 289.6L156.3 289.5L156.5 289.4L156.7 289.4L156.9 289.3L157.1 289.2L157.3 289.1L157.5 289L157.7 288.9L157.9 288.8L158.1 288.7L158.3 288.6L158.5 288.5L158.7 288.4L158.9 288.3L159.1 288.2L159.3 288.1L159.5 288L159.7 287.8L159.9 287.7L160.1 287.6L160.3 287.5L160.5 287.3L160.7 287.2L160.9 287.1L161.1 286.9L161.3 286.8L161.5 286.7L161.7 286.5L161.9 286.4L161.9 286.4L162.1 286.2L162.3 286.1L162.5 285.9L162.7 285.8L162.9 285.6L163.1 285.4L163.3 285.3L163.5 285.1L163.7 284.9L163.9 284.8L164.1 284.6L164.3 284.4L164.5 284.2L164.7 284.1L164.9 283.9L165.1 283.7L165.3 283.5L165.5 283.3L165.7 283.1L165.9 282.9L166.1 282.7L166.3 282.5L166.5 282.3L166.7 282.1L166.9 281.9L167.1 281.7L167.3 281.5L167.5 281.3L167.7 281.1L167.9 280.9L168.1 280.7L168.3 280.4L168.5 280.2L168.7 280L168.9 279.8L169.1 279.6L169.3 279.3L169.5 279.1L169.7 278.9L169.9 278.6L170.1 278.4L170.3 278.2L170.5 277.9L170.7 277.7L170.9 277.5L171.1 277.2L171.3 277L171.5 276.7L171.7 276.5L171.9 276.2L172.1 276L172.3 275.7L172.5 275.5L172.7 275.2L172.9 275L173.1 274.7L173.3 274.5L173.5 274.2L173.7 274L173.9 273.7L174.1 273.4L174.3 273.2L174.5 272.9L174.7 272.6L174.9 272.4L175.1 272.1L175.3 271.8L175.5 271.6L175.5 271.6L175.7 271.3L175.9 271L176.1 270.7L176.3 270.5L176.5 270.2L176.7 269.9L176.9 269.6L177.1 269.4L177.3 269.1L177.5 268.8L177.7 268.5L177.9 268.2L178.1 268L178.3 267.7L178.5 267.4L178.7 267.1L178.9 266.8L179.1 266.5L179.3 266.2L179.5 266L179.7 265.7L179.9 265.4L180.1 265.1L180.3 264.8L180.5 264.5L180.7 264.2L180.9 263.9L181.1 263.6L181.3 263.4L181.5 263.1L181.7 262.8L181.9 262.5L182.1 262.2L182.3 261.9L182.5 261.6L182.7 261.3L182.9 261L183.1 260.7L183.3 260.4L183.5 260.2L183.7 259.9L183.9 259.6L184.1 259.3L184.3 259L184.5 258.7L184.7 258.4L184.9 258.1L185.1 257.8L185.3 257.5L185.5 257.3L185.7 257L185.9 256.7L186.1 256.4L186.3 256.1L186.5 255.8L186.7 255.5L186.9 255.2L187.1 255L187.3 254.7L187.5 254.4L187.7 254.1L187.9 253.8L188.1 253.5L188.3 253.3L188.5 253L188.7 252.7L188.9 252.4L189.1 252.1L189.3 251.9L189.5 251.6L189.7 251.3L189.9 251L190 250.8L190.1 250.8L190.3 250.5L190.5 250.2L190.7 249.9L190.9 249.7L191 249.4L191.2 249.1L191.4 248.8L191.6 248.6L191.8 248.3L192 248L192.2 247.8L192.4 247.5L192.6 247.2L192.8 247L193 246.7L193.2 246.5L193.4 246.2L193.6 245.9L193.8 245.7L194 245.4L194.2 245.2L194.4 244.9L194.6 244.6L194.8 244.4L195 244.1L195.2 243.9L195.4 243.6L195.6 243.4L195.8 243.1L196 242.9L196.2 242.6L196.4 242.4L196.6 242.1L196.8 241.9L197.5 241L198.2 240.2L198.9 239.4L199.6 238.5L200.2 237.7L200.9 236.9L201.6 236.1L202.3 235.3L203 234.6L203.6 233.8L204.3 233L205 232.3L205.7 231.5L206.4 230.8L207 230L207.7 229.3L208.4 228.6L209.1 227.9L209.8 227.2L210 226.9L210.4 226.5L211.1 225.8L211.8 225.1L212.5 224.4L213.2 223.7L213.8 223L214.5 222.4L215.2 221.7L215.9 221.1L216.6 220.4L217.3 219.8L217.9 219.1L218.6 218.5L219.3 217.9L220 217.3L220.7 216.7L221.3 216.1L222 215.5L222.7 214.9L223.4 214.3L224.1 213.7L224.7 213.1L225.4 212.5L226.1 212L226.8 211.4L227.5 210.9L228.1 210.3L228.8 209.8L229.5 209.2L230.1 208.8L230.2 208.7L230.9 208.2L231.5 207.6L232.2 207.1L232.9 206.6L233.6 206.1L234.3 205.6L234.9 205.1L235.6 204.6L236.3 204.1L237 203.6L237.7 203.2L238.3 202.7L239 202.2L239.7 201.8L240.4 201.3L241.1 200.9L241.8 200.4L242.4 200L243.1 199.5L243.8 199.1L244.5 198.7L245.2 198.3L245.8 197.9L246.5 197.5L247.2 197L247.9 196.7L248.6 196.3L249.2 195.9L249.9 195.5L250 195.4L250.6 195.1L251.3 194.7L252 194.4L252.6 194L253.3 193.7L254 193.3L254.7 193L255.4 192.6L256 192.3L256.7 191.9L257.4 191.6L258.1 191.3L258.8 191L259.4 190.6L260.1 190.3L260.8 190L261.5 189.7L262.2 189.4L262.8 189.1L263.5 188.8L264.2 188.5L264.9 188.2L265.6 187.9L266.3 187.7L266.9 187.4L267.6 187.1L268.3 186.8L269 186.6L269.7 186.3L270.3 186L271 185.8L271.7 185.5L272.4 185.3L273.1 185L273.7 184.8L274.4 184.5L275.1 184.3L275.8 184L276.5 183.8L277.1 183.5L277.8 183.3L278.5 183.1L279.2 182.8L279.9 182.6L280 182.5L280.5 182.4L281.2 182.1L281.9 181.9L282.6 181.7L283.3 181.5L283.9 181.2L284.6 181L285.3 180.8L286 180.6L286.7 180.4L287.4 180.2L288 179.9L288.7 179.7L289.4 179.5L290.1 179.3L290.8 179.1L291.4 178.9L292.1 178.7L292.8 178.5L293.5 178.3L294.2 178.1L294.8 177.9L295.5 177.8L296.2 177.6L296.9 177.4L297.6 177.2L298.2 177L298.9 176.8L299.6 176.6L300.3 176.5L301 176.3L301.6 176.1L302.3 175.9L303 175.8L303.7 175.6L304.4 175.4L305 175.2L305.7 175.1L306.4 174.9L307.1 174.7L307.8 174.6L308.4 174.4L309.1 174.3L309.8 174.1L310.5 173.9L311.2 173.8L311.9 173.6L312.5 173.5L313.2 173.3L313.9 173.2L314.6 173L315.1 172.9L315.3 172.9L315.9 172.8L316.6 172.6L317.3 172.5L318 172.3L318.7 172.2L319.3 172.1L320 171.9L320.7 171.8L321.4 171.7L322.1 171.5L322.7 171.4L323.4 171.3L324.1 171.1L324.8 171L325.5 170.9L326.1 170.8L326.8 170.6L327.5 170.5L328.2 170.4L328.9 170.3L329.5 170.2L330.2 170.1L330.9 169.9L331.6 169.8L332.3 169.7L332.9 169.6L333.6 169.5L334.3 169.4L335 169.3L335.7 169.2L336.4 169.1L337 169L337.7 168.9L338.4 168.8L339.1 168.7L339.8 168.6L340.4 168.5L341.1 168.4L341.8 168.3L342.5 168.2L343.2 168.1L343.8 168L344.5 167.9L345.2 167.8L345.9 167.7L346.6 167.6L347.2 167.6L347.9 167.5L348.6 167.4L349.3 167.3L350 167.2L350.6 167.1L351.3 167.1L352 167L352.7 166.9L353.4 166.8L354 166.7L354.7 166.7L355.4 166.6L356.1 166.5L356.8 166.4L357.4 166.4L358.1 166.3L358.8 166.2L359.5 166.2L360.2 166.1L360.9 166L361.5 166L362.2 165.9L362.9 165.8L363.6 165.8L364.3 165.7L364.9 165.6L365.6 165.6L366.3 165.5L367 165.5L367.7 165.4L368.3 165.3L369 165.3L369.7 165.2L370 165.2L370.4 165.2L371.1 165.1L371.7 165.1L372.4 165L373.1 165L373.8 164.9L374.5 164.9L375.1 164.8L375.8 164.8L376.5 164.7L377.2 164.7L377.9 164.6L378.5 164.6L379.2 164.5L379.9 164.5L380.6 164.4L381.3 164.4L382 164.4L382.6 164.3L383.3 164.3L384 164.2L384.7 164.2L385.4 164.1L386 164.1L386.7 164.1L387.4 164L388.1 164L388.8 164L389.4 163.9L390.1 163.9L390.8 163.9L391.5 163.8L392.2 163.8L392.8 163.8L393.5 163.7L394.2 163.7L394.9 163.7L395.6 163.6L396.2 163.6L396.9 163.6L397.6 163.5L398.3 163.5L399 163.5L399.6 163.5L400.3 163.4L401 163.4L401.7 163.4L402.4 163.4L403 163.3L403.7 163.3L404.4 163.3L405.1 163.3L405.8 163.2L406.5 163.2L407.1 163.2L407.8 163.2L408.5 163.1L409.2 163.1L409.9 163.1L410.5 163.1L411.2 163.1L411.9 163L412.6 163L413.3 163L413.9 163L414.6 163L415.3 163L416 162.9L416.7 162.9L417.3 162.9L418 162.9L418.7 162.9L419.4 162.9L420.1 162.9L420.7 162.8L421.4 162.8L422.1 162.8L422.8 162.8L423.5 162.8L424.1 162.8L424.8 162.8L425.1 162.8L425.5 162.8L426.2 162.7L426.9 162.7L427.5 162.7L428.2 162.7L428.9 162.7L429.6 162.7L430.3 162.7L431 162.7L431.6 162.7L432.3 162.7L433 162.6L433.7 162.6L434.4 162.6L435 162.6L435.7 162.6L436.4 162.6L437.1 162.6L437.8 162.6L438.4 162.6L439.1 162.6L439.8 162.6L440.5 162.6L441.2 162.6L441.8 162.6L442.5 162.6L443.2 162.5L443.9 162.5L444.6 162.5L445.2 162.5L445.9 162.5L446.6 162.5L447.3 162.5L448 162.5L448.6 162.5L449.3 162.5L450 162.5L450.7 162.5L451.4 162.5L452.1 162.5L452.7 162.5L453.4 162.5L454.1 162.5L454.8 162.5L455.5 162.5L456.1 162.5L456.8 162.5L457.5 162.5L458.2 162.5L458.9 162.5L459.5 162.5L460.2 162.5L460.9 162.5L461.6 162.5L462.3 162.5L462.9 162.5L463.6 162.5L464.3 162.5L465 162.5L465.7 162.5L466.3 162.5L467 162.5L467.7 162.5L468.4 162.5L469.1 162.5L469.7 162.5L470.4 162.5L471.1 162.5L471.8 162.5L472.5 162.5L473.1 162.5L473.8 162.5L474.5 162.5L475.2 162.5L475.9 162.5L476.6 162.5L477.2 162.5L477.9 162.5L478.6 162.5L479.3 162.5L480 162.5L480.6 162.5L481.3 162.5L482 162.5L482.7 162.6L483.4 162.6L484 162.6L484.7 162.6L485.4 162.6L486.1 162.6L486.8 162.6L487.4 162.6L488.1 162.6L488.8 162.6L489.5 162.6L490.2 162.6L490.4 162.6L490.8 162.6L491.5 162.6L492.2 162.6L492.9 162.6L493.6 162.6L494.2 162.6L494.9 162.6L495.6 162.6L496.3 162.6L497 162.6L497.6 162.6L498.3 162.6L499 162.6L499.7 162.6L500.4 162.6L501.1 162.6L501.7 162.6L502.4 162.6L503.1 162.7L503.8 162.7L504.5 162.7L505.1 162.7L505.8 162.7L506.5 162.7L507.2 162.7L507.9 162.7L508.5 162.7L509.2 162.7L509.9 162.7L510.6 162.7L511.3 162.7L511.9 162.7L512.6 162.7L513.3 162.7L514 162.7L514.7 162.7L515.3 162.7L516 162.7L516.7 162.7L517.4 162.7L518.1 162.7L518.7 162.7L519.4 162.7L520.1 162.7L520.8 162.7L521.5 162.8L522.1 162.8L522.8 162.8L523.5 162.8L524.2 162.8L524.9 162.8L525.6 162.8L526.2 162.8L526.9 162.8L527.6 162.8L528.3 162.8L529 162.8L529.6 162.8L530.3 162.8L531 162.8L531.7 162.8L532.4 162.8L533 162.8L533.7 162.8L534.4 162.8L535.1 162.8L535.8 162.8L536.4 162.8L537.1 162.8L537.8 162.9L538.5 162.9L539.2 162.9L539.8 162.9L540.5 162.9L541.2 162.9L541.9 162.9L542.6 162.9L543.2 162.9L543.9 162.9L544.6 162.9L545.3 162.9L546 162.9L546.7 162.9L547.3 162.9L548 162.9L548.7 162.9L549.4 162.9L550.1 162.9L550.7 162.9L551.4 162.9L552.1 162.9L552.8 162.9L553.5 163L554.1 163L554.8 163L555.5 163L556.2 163L556.9 163L557.5 163L558.2 163L558.9 163L559.6 163L560.3 163L560.9 163L561.6 163L562.3 163L563 163L563.7 163L564.3 163L565 163L565.7 163L566.4 163L567.1 163L567.7 163L568.4 163L569.1 163.1L569.8 163.1L570.5 163.1L571.2 163.1L571.8 163.1L572.5 163.1L573.2 163.1L573.9 163.1L574.6 163.1L575.2 163.1L575.9 163.1L576.6 163.1L577.3 163.1L578 163.1L578.6 163.1L579.3 163.1L580 163.1L580.7 163.1L581.4 163.1L582 163.1L582.7 163.1L583.4 163.1L584.1 163.2L584.8 163.2L585.4 163.2L586.1 163.2L586.8 163.2L587.5 163.2L588.2 163.2L588.8 163.2L589.5 163.2L590.2 163.2L590.9 163.2L591.6 163.2L592.2 163.2L592.9 163.2L593.6 163.2L594.3 163.2L595 163.2L595.7 163.2L596.3 163.2L597 163.2L597.7 163.2L598.4 163.2L599.1 163.2L599.7 163.3L600.4 163.3L601.1 163.3L601.8 163.3L602.5 163.3L603.1 163.3L603.8 163.3L604.5 163.3" fill="none" stroke="#ad3340" stroke-width="3.8" stroke-linejoin="round" stroke-linecap="round"/>
<path d="M117.3 393.4L117.5 389L117.7 384.5L117.9 380.1L118.1 375.7L118.3 371.2L118.5 366.8L118.7 362.4L118.9 357.9L119.1 353.5L119.3 349L119.5 344.6L119.7 340.2L119.8 335.7L120 331.3L120.2 328.1L120.2 326.5L120.4 324.7L120.6 323L120.8 321.3L121 319.7L121.2 318.3L121.4 316.9L121.6 315.7L121.8 314.7L122 313.7L122.2 313L122.4 312.4L122.6 312L122.6 312L122.8 311.7L123 311.6L123.2 311.7L123.4 311.9L123.6 312.1L123.8 312.5L124 313L124.2 313.5L124.4 314.1L124.6 314.7L124.8 315.4L125 316.1L125.1 316.2L125.2 316.8L125.4 317.5L125.6 318.2L125.8 318.9L126 319.7L126.2 320.4L126.4 321.2L126.6 321.9L126.8 322.6L127 323.4L127.2 324.1L127.4 324.8L127.6 325.5L127.8 326.2L128 326.9L128.2 327.6L128.4 328.3L128.6 329L128.8 329.6L129 330.2L129.2 330.8L129.4 331.4L129.6 332L129.8 332.6L130 333L130 333.1L130.2 333.6L130.4 334.1L130.6 334.6L130.8 335L131 335.5L131.2 335.9L131.4 336.3L131.6 336.7L131.8 337.1L132 337.4L132.2 337.8L132.4 338.1L132.6 338.4L132.8 338.7L133 339L133.2 339.3L133.4 339.6L133.6 339.9L133.8 340.1L134 340.4L134.2 340.6L134.4 340.9L134.6 341.1L134.8 341.3L134.9 341.4L135 341.5L135.2 341.7L135.4 341.9L135.6 342.1L135.8 342.3L136 342.5L136.2 342.7L136.4 342.8L136.6 343L136.8 343.1L137 343.3L137.2 343.4L137.4 343.5L137.6 343.6L137.8 343.7L138 343.8L138.2 343.9L138.4 344L138.6 344.1L138.8 344.2L139 344.2L139.2 344.2L139.4 344.3L139.4 344.3L139.6 344.3L139.8 344.3L140 344.3L140.2 344.3L140.4 344.3L140.6 344.3L140.8 344.3L141 344.2L141.2 344.2L141.4 344.1L141.6 344.1L141.8 344L142 343.9L142.2 343.9L142.4 343.8L142.6 343.7L142.8 343.6L143 343.5L143.2 343.4L143.4 343.2L143.6 343.1L143.8 343L144 342.9L144.2 342.7L144.4 342.6L144.6 342.4L144.8 342.3L145 342.1L145.2 341.9L145.4 341.8L145.6 341.6L145.8 341.4L146 341.2L146.2 341L146.4 340.8L146.6 340.6L146.8 340.4L147 340.2L147.2 340L147.4 339.8L147.6 339.6L147.8 339.4L148 339.2L148.2 338.9L148.4 338.7L148.6 338.5L148.8 338.2L149 338L149.2 337.8L149.4 337.5L149.6 337.3L149.8 337L150 336.8L150.2 336.5L150.4 336.3L150.6 336L150.8 335.8L151 335.5L151.2 335.2L151.4 335L151.6 334.7L151.8 334.4L152 334.2L152.2 333.9L152.4 333.6L152.6 333.4L152.8 333.1L153 332.8L153 332.8L153.2 332.5L153.4 332.3L153.6 332L153.8 331.7L154 331.4L154.2 331.1L154.4 330.9L154.6 330.6L154.8 330.3L155 330L155.2 329.7L155.3 329.4L155.5 329.1L155.7 328.8L155.9 328.5L156.1 328.3L156.3 328L156.5 327.7L156.7 327.4L156.9 327.1L157.1 326.8L157.3 326.5L157.5 326.2L157.7 325.9L157.9 325.6L158.1 325.3L158.3 325L158.5 324.7L158.7 324.4L158.9 324.1L159.1 323.8L159.3 323.5L159.5 323.1L159.7 322.8L159.9 322.5L160.1 322.2L160.3 321.9L160.5 321.6L160.7 321.3L160.9 321L161.1 320.7L161.3 320.4L161.5 320L161.7 319.7L161.9 319.4L162.1 319.1L162.3 318.8L162.5 318.5L162.7 318.2L162.9 317.8L163.1 317.5L163.3 317.2L163.5 316.9L163.7 316.6L163.7 316.6L163.9 316.2L164.1 315.9L164.3 315.6L164.5 315.3L164.7 315L164.9 314.6L165.1 314.3L165.3 314L165.5 313.7L165.7 313.3L165.9 313L166.1 312.7L166.3 312.4L166.5 312L166.7 311.7L166.9 311.4L167.1 311.1L167.3 310.7L167.5 310.4L167.7 310.1L167.9 309.8L168.1 309.4L168.3 309.1L168.5 308.8L168.7 308.5L168.9 308.1L169.1 307.8L169.3 307.5L169.5 307.2L169.7 306.8L169.9 306.5L170.1 306.2L170.3 305.8L170.5 305.5L170.7 305.2L170.9 304.9L170.9 304.9L171.1 304.5L171.3 304.2L171.5 303.9L171.7 303.6L171.9 303.2L172.1 302.9L172.3 302.6L172.5 302.3L172.7 301.9L172.9 301.6L173.1 301.3L173.3 301L173.5 300.6L173.7 300.3L173.9 300L174.1 299.7L174.3 299.3L174.5 299L174.7 298.7L174.9 298.4L175.1 298L175.3 297.7L175.5 297.4L175.7 297.1L175.9 296.8L176.1 296.4L176.3 296.1L176.5 295.8L176.7 295.5L176.9 295.2L177.1 294.8L177.3 294.5L177.5 294.2L177.7 293.9L177.9 293.6L178.1 293.2L178.3 292.9L178.5 292.6L178.7 292.3L178.9 292L179.1 291.7L179.3 291.4L179.5 291L179.7 290.7L179.9 290.4L179.9 290.4L180.1 290.1L180.3 289.8L180.5 289.5L180.7 289.2L180.9 288.9L181.1 288.6L181.3 288.2L181.5 287.9L181.7 287.6L181.9 287.3L182.1 287L182.3 286.7L182.5 286.4L182.7 286.1L182.9 285.8L183.1 285.5L183.3 285.2L183.5 284.9L183.7 284.6L183.9 284.3L184.1 284L184.3 283.7L184.5 283.4L184.7 283.1L184.9 282.8L185.1 282.5L185.3 282.2L185.5 281.9L185.7 281.6L185.9 281.3L186.1 281L186.3 280.7L186.5 280.5L186.7 280.2L186.9 279.9L187.1 279.6L187.3 279.3L187.5 279L187.7 278.7L187.9 278.4L188.1 278.2L188.3 277.9L188.5 277.6L188.7 277.3L188.8 277L188.9 277L189.1 276.7L189.3 276.5L189.5 276.2L189.7 275.9L189.9 275.6L190.1 275.4L190.3 275.1L190.5 274.8L190.7 274.5L190.9 274.3L191 274L191.2 273.7L191.4 273.4L191.6 273.2L191.8 272.9L192 272.6L192.2 272.4L192.4 272.1L192.6 271.8L192.8 271.6L193 271.3L193.2 271.1L193.4 270.8L193.6 270.5L193.8 270.3L194 270L194.2 269.7L194.4 269.5L194.6 269.2L194.8 269L195 268.7L195.2 268.5L195.4 268.2L195.6 268L195.8 267.7L196 267.4L196.2 267.2L196.4 266.9L196.6 266.7L196.8 266.4L197.5 265.6L198.2 264.8L198.9 263.9L199.6 263.1L199.8 262.9L200.2 262.3L200.9 261.5L201.6 260.7L202.3 259.9L203 259.1L203.6 258.4L204.3 257.6L205 256.8L205.7 256.1L206.4 255.3L207 254.6L207.7 253.9L208.4 253.1L209.1 252.4L209.8 251.7L210 251.4L210.4 251L211.1 250.3L211.8 249.6L212.5 248.9L213.2 248.2L213.8 247.5L214.5 246.9L215.2 246.2L215.9 245.5L216.6 244.9L217.3 244.2L217.9 243.6L218.6 242.9L219.3 242.3L220 241.7L220.7 241.1L221.3 240.5L222 239.9L222.7 239.3L223.4 238.7L224.1 238.1L224.7 237.5L225.4 236.9L226.1 236.4L226.8 235.8L227.5 235.2L228.1 234.7L228.8 234.1L229.5 233.6L230.1 233.1L230.2 233.1L230.9 232.5L231.5 232L232.2 231.5L232.9 231L233.6 230.5L234.3 230L234.9 229.5L235.6 229L236.3 228.5L237 228.1L237.7 227.6L238.3 227.1L239 226.7L239.7 226.2L240.4 225.8L241.1 225.4L241.8 224.9L242.4 224.5L243.1 224.1L243.8 223.7L244.5 223.3L245.2 222.9L245.8 222.5L246.5 222.1L247.2 221.7L247.9 221.3L248.6 221L249.2 220.6L249.9 220.2L250 220.2L250.6 219.9L251.3 219.5L252 219.2L252.6 218.9L253.3 218.5L254 218.2L254.7 217.9L255.4 217.6L256 217.3L256.7 216.9L257.4 216.6L258.1 216.4L258.8 216.1L259.4 215.8L260.1 215.5L260.8 215.2L261.5 215L262.2 214.7L262.8 214.4L263.5 214.2L264.2 213.9L264.9 213.7L265.6 213.4L266.3 213.2L266.9 213L267.6 212.7L268.3 212.5L269 212.3L269.7 212.1L270.3 211.9L271 211.7L271.7 211.5L272.4 211.3L273.1 211.1L273.7 210.9L274.4 210.7L275.1 210.5L275.8 210.3L276.5 210.1L277.1 210L277.8 209.8L278.5 209.6L279.2 209.5L279.9 209.3L280 209.3L280.5 209.1L281.2 209L281.9 208.8L282.6 208.7L283.3 208.5L283.9 208.4L284.6 208.3L285.3 208.1L286 208L286.7 207.9L287.4 207.7L288 207.6L288.7 207.5L289.4 207.4L290.1 207.2L290.8 207.1L291.4 207L292.1 206.9L292.8 206.8L293.5 206.7L294.2 206.6L294.8 206.5L295.5 206.4L296.2 206.3L296.9 206.2L297.6 206.1L298.2 206L298.9 205.9L299.6 205.8L300.3 205.7L301 205.6L301.6 205.5L302.3 205.4L303 205.3L303.7 205.2L304.4 205.1L305 205L305.7 205L306.4 204.9L307.1 204.8L307.8 204.7L308.4 204.6L309.1 204.5L309.8 204.4L310.5 204.4L311.2 204.3L311.9 204.2L312.5 204.1L313.2 204L313.9 203.9L314.6 203.8L315.1 203.8L315.3 203.8L315.9 203.7L316.6 203.6L317.3 203.5L318 203.4L318.7 203.3L319.3 203.2L320 203.1L320.7 203.1L321.4 203L322.1 202.9L322.7 202.8L323.4 202.7L324.1 202.6L324.8 202.5L325.5 202.4L326.1 202.4L326.8 202.3L327.5 202.2L328.2 202.1L328.9 202L329.5 201.9L330.2 201.8L330.9 201.7L331.6 201.7L332.3 201.6L332.9 201.5L333.6 201.4L334.3 201.3L335 201.2L335.7 201.1L336.4 201L337 201L337.7 200.9L338.4 200.8L339.1 200.7L339.8 200.6L340.4 200.5L341.1 200.4L341.8 200.4L342.5 200.3L343.2 200.2L343.8 200.1L344.5 200L345.2 199.9L345.9 199.9L346.6 199.8L347.2 199.7L347.9 199.6L348.6 199.5L349.3 199.5L350 199.4L350.6 199.3L351.3 199.2L352 199.1L352.7 199.1L353.4 199L354 198.9L354.7 198.8L355.4 198.8L356.1 198.7L356.8 198.6L357.4 198.5L358.1 198.5L358.8 198.4L359.5 198.3L360.2 198.3L360.9 198.2L361.5 198.1L362.2 198L362.9 198L363.6 197.9L364.3 197.8L364.9 197.8L365.6 197.7L366.3 197.6L367 197.6L367.7 197.5L368.3 197.5L369 197.4L369.7 197.3L370 197.3L370.4 197.3L371.1 197.2L371.7 197.1L372.4 197.1L373.1 197L373.8 197L374.5 196.9L375.1 196.9L375.8 196.8L376.5 196.8L377.2 196.7L377.9 196.6L378.5 196.6L379.2 196.5L379.9 196.5L380.6 196.4L381.3 196.4L382 196.3L382.6 196.3L383.3 196.3L384 196.2L384.7 196.2L385.4 196.1L386 196.1L386.7 196L387.4 196L388.1 195.9L388.8 195.9L389.4 195.9L390.1 195.8L390.8 195.8L391.5 195.7L392.2 195.7L392.8 195.6L393.5 195.6L394.2 195.6L394.9 195.5L395.6 195.5L396.2 195.5L396.9 195.4L397.6 195.4L398.3 195.4L399 195.3L399.6 195.3L400.3 195.3L401 195.2L401.7 195.2L402.4 195.2L403 195.1L403.7 195.1L404.4 195.1L405.1 195L405.8 195L406.5 195L407.1 194.9L407.8 194.9L408.5 194.9L409.2 194.9L409.9 194.8L410.5 194.8L411.2 194.8L411.9 194.8L412.6 194.7L413.3 194.7L413.9 194.7L414.6 194.7L415.3 194.6L416 194.6L416.7 194.6L417.3 194.6L418 194.5L418.7 194.5L419.4 194.5L420.1 194.5L420.7 194.5L421.4 194.4L422.1 194.4L422.8 194.4L423.5 194.4L424.1 194.4L424.8 194.3L425.1 194.3L425.5 194.3L426.2 194.3L426.9 194.3L427.5 194.3L428.2 194.3L428.9 194.2L429.6 194.2L430.3 194.2L431 194.2L431.6 194.2L432.3 194.2L433 194.2L433.7 194.1L434.4 194.1L435 194.1L435.7 194.1L436.4 194.1L437.1 194.1L437.8 194.1L438.4 194L439.1 194L439.8 194L440.5 194L441.2 194L441.8 194L442.5 194L443.2 194L443.9 194L444.6 194L445.2 193.9L445.9 193.9L446.6 193.9L447.3 193.9L448 193.9L448.6 193.9L449.3 193.9L450 193.9L450.7 193.9L451.4 193.9L452.1 193.9L452.7 193.9L453.4 193.9L454.1 193.8L454.8 193.8L455.5 193.8L456.1 193.8L456.8 193.8L457.5 193.8L458.2 193.8L458.9 193.8L459.5 193.8L460.2 193.8L460.9 193.8L461.6 193.8L462.3 193.8L462.9 193.8L463.6 193.8L464.3 193.8L465 193.8L465.7 193.8L466.3 193.8L467 193.8L467.7 193.8L468.4 193.8L469.1 193.8L469.7 193.8L470.4 193.8L471.1 193.8L471.8 193.8L472.5 193.8L473.1 193.8L473.8 193.8L474.5 193.8L475.2 193.8L475.9 193.8L476.6 193.8L477.2 193.8L477.9 193.8L478.6 193.8L479.3 193.8L479.9 193.8L480 193.8L480.6 193.8L481.3 193.8L482 193.8L482.7 193.8L483.4 193.8L484 193.8L484.7 193.8L485.4 193.8L486.1 193.8L486.8 193.8L487.4 193.8L488.1 193.8L488.8 193.8L489.5 193.8L490.2 193.8L490.8 193.8L491.5 193.8L492.2 193.8L492.9 193.8L493.6 193.8L494.2 193.8L494.9 193.8L495.6 193.8L496.3 193.8L497 193.9L497.6 193.9L498.3 193.9L499 193.9L499.7 193.9L500.4 193.9L501.1 193.9L501.7 193.9L502.4 193.9L503.1 193.9L503.8 193.9L504.5 193.9L505.1 193.9L505.8 193.9L506.5 193.9L507.2 193.9L507.9 193.9L508.5 194L509.2 194L509.9 194L510.6 194L511.3 194L511.9 194L512.6 194L513.3 194L514 194L514.7 194L515.3 194L516 194L516.7 194L517.4 194.1L518.1 194.1L518.7 194.1L519.4 194.1L520.1 194.1L520.8 194.1L521.5 194.1L522.1 194.1L522.8 194.1L523.5 194.1L524.2 194.1L524.9 194.2L525.6 194.2L526.2 194.2L526.9 194.2L527.6 194.2L528.3 194.2L529 194.2L529.6 194.2L530.3 194.2L531 194.2L531.7 194.3L532.4 194.3L533 194.3L533.7 194.3L534.4 194.3L535.1 194.3L535.8 194.3L536.4 194.3L537.1 194.3L537.8 194.3L538.5 194.4L539.2 194.4L539.8 194.4L540.5 194.4L541.2 194.4L541.9 194.4L542.6 194.4L543.2 194.4L543.9 194.4L544.6 194.5L545.3 194.5L546 194.5L546.7 194.5L547.3 194.5L548 194.5L548.7 194.5L549.4 194.5L550.1 194.6L550.7 194.6L551.4 194.6L552.1 194.6L552.8 194.6L553.5 194.6L554.1 194.6L554.8 194.6L555.5 194.6L556.2 194.7L556.9 194.7L557.5 194.7L558.2 194.7L558.9 194.7L559.6 194.7L560.3 194.7L560.9 194.7L561.6 194.8L562.3 194.8L563 194.8L563.7 194.8L564.3 194.8L565 194.8L565.7 194.8L566.4 194.8L567.1 194.9L567.7 194.9L568.4 194.9L569.1 194.9L569.8 194.9L570.5 194.9L571.2 194.9L571.8 194.9L572.5 195L573.2 195L573.9 195L574.6 195L575.2 195L575.9 195L576.6 195L577.3 195.1L578 195.1L578.6 195.1L579.3 195.1L580 195.1L580.7 195.1L581.4 195.1L582 195.1L582.7 195.2L583.4 195.2L584.1 195.2L584.8 195.2L585.4 195.2L586.1 195.2L586.8 195.2L587.5 195.2L588.2 195.3L588.8 195.3L589.5 195.3L590.2 195.3L590.9 195.3L591.6 195.3L592.2 195.3L592.9 195.4L593.6 195.4L594.3 195.4L595 195.4L595.7 195.4L596.3 195.4L597 195.4L597.7 195.4L598.4 195.5L599.1 195.5L599.7 195.5L600.4 195.5L601.1 195.5L601.8 195.5L602.5 195.5L603.1 195.6L603.8 195.6L604.5 195.6" fill="none" stroke="#5a934c" stroke-width="3.8" stroke-linejoin="round" stroke-linecap="round"/>
<path d="M116.6 393.4L116.8 389L117 384.6L117.2 380.2L117.4 375.8L117.6 371.4L117.8 367.1L118 362.7L118.2 358.3L118.4 353.9L118.6 349.5L118.8 345.1L119 340.7L119.2 336.3L119.4 331.9L119.6 327.5L119.8 323.1L120 318.8L120.2 315.1L120.2 314.3L120.4 313L120.6 311.8L120.8 310.6L121 309.5L121.2 308.4L121.4 307.4L121.6 306.4L121.8 305.6L122 304.8L122.2 304.1L122.4 303.5L122.6 303L122.8 302.6L123 302.3L123.2 302.1L123.4 302L123.6 302L123.6 302L123.8 302.1L124 302.3L124.2 302.6L124.4 303L124.6 303.4L124.8 303.9L125 304.4L125.3 305L125.5 305.6L125.7 306.2L125.9 306.9L126.1 307.6L126.3 308.3L126.5 309L126.7 309.7L126.7 309.9L126.9 310.4L127.1 311.1L127.3 311.7L127.5 312.4L127.7 313.1L127.9 313.7L128.1 314.4L128.3 315L128.5 315.6L128.7 316.3L128.9 316.9L129.1 317.5L129.3 318.1L129.5 318.6L129.7 319.2L129.9 319.7L130.1 320.3L130.3 320.8L130.5 321.3L130.7 321.8L130.9 322.3L131.1 322.8L131.3 323.2L131.5 323.7L131.7 324.1L131.9 324.5L131.9 324.6L132.1 324.9L132.3 325.3L132.5 325.7L132.7 326.1L132.9 326.4L133.1 326.8L133.3 327.1L133.5 327.4L133.7 327.7L133.9 328L134.1 328.3L134.3 328.6L134.5 328.8L134.7 329.1L134.9 329.4L135 329.5L135.1 329.6L135.3 329.8L135.5 330.1L135.7 330.3L135.9 330.5L136.1 330.7L136.3 331L136.5 331.2L136.7 331.4L136.9 331.5L137.1 331.7L137.3 331.9L137.5 332.1L137.7 332.3L137.9 332.4L138.1 332.6L138.3 332.8L138.5 332.9L138.7 333.1L138.9 333.2L139.1 333.3L139.3 333.5L139.5 333.6L139.7 333.7L139.9 333.9L140.1 334L140.3 334.1L140.5 334.2L140.7 334.3L140.9 334.4L141.1 334.5L141.3 334.6L141.4 334.7L141.5 334.7L141.7 334.8L141.9 334.9L142.1 335L142.3 335.1L142.5 335.2L142.7 335.2L142.9 335.3L143.1 335.4L143.3 335.4L143.5 335.5L143.7 335.6L144 335.6L144.2 335.7L144.4 335.8L144.6 335.8L144.8 335.9L145 335.9L145.2 336L145.4 336L145.6 336L145.8 336.1L146 336.1L146.2 336.2L146.4 336.2L146.6 336.2L146.8 336.2L147 336.3L147.2 336.3L147.4 336.3L147.6 336.3L147.8 336.4L148 336.4L148.2 336.4L148.4 336.4L148.6 336.4L148.8 336.4L149 336.4L149.2 336.5L149.4 336.5L149.6 336.5L149.8 336.5L150 336.5L150.2 336.5L150.4 336.5L150.6 336.5L150.8 336.5L151 336.5L151.2 336.5L151.4 336.5L151.6 336.4L151.8 336.4L152 336.4L152.2 336.4L152.4 336.4L152.6 336.4L152.8 336.4L153 336.4L153 336.3L153.2 336.3L153.4 336.3L153.6 336.3L153.8 336.3L154 336.3L154.2 336.2L154.4 336.2L154.6 336.2L154.8 336.2L155 336.1L155.2 336.1L155.4 336.1L155.6 336L155.8 336L156 336L156.2 336L156.4 335.9L156.6 335.9L156.8 335.9L157 335.8L157.2 335.8L157.4 335.7L157.6 335.7L157.8 335.7L158 335.6L158.2 335.6L158.4 335.6L158.6 335.5L158.8 335.5L159 335.4L159.2 335.4L159.4 335.3L159.6 335.3L159.8 335.2L160 335.2L160.2 335.2L160.4 335.1L160.6 335.1L160.8 335L161 335L161.2 334.9L161.4 334.9L161.6 334.8L161.8 334.8L162 334.7L162.2 334.7L162.4 334.6L162.7 334.6L162.9 334.5L163.1 334.4L163.3 334.4L163.5 334.3L163.7 334.3L163.9 334.2L164.1 334.2L164.3 334.1L164.5 334.1L164.7 334L164.9 333.9L165.1 333.9L165.3 333.8L165.5 333.8L165.7 333.7L165.9 333.6L166.1 333.6L166.3 333.5L166.5 333.5L166.7 333.4L166.9 333.3L167.1 333.3L167.3 333.2L167.5 333.1L167.7 333.1L167.9 333L168.1 333L168.3 332.9L168.5 332.8L168.7 332.8L168.9 332.7L169.1 332.6L169.3 332.6L169.5 332.5L169.7 332.4L169.9 332.4L170.1 332.3L170.3 332.2L170.5 332.2L170.7 332.1L170.9 332L170.9 332L171.1 332L171.3 331.9L171.5 331.8L171.7 331.7L171.9 331.7L172.1 331.6L172.3 331.5L172.5 331.5L172.7 331.4L172.9 331.3L173.1 331.3L173.3 331.2L173.5 331.1L173.7 331L173.9 331L174.1 330.9L174.3 330.8L174.5 330.8L174.7 330.7L174.9 330.6L175.1 330.5L175.3 330.5L175.5 330.4L175.7 330.3L175.9 330.2L176.1 330.2L176.3 330.1L176.5 330L176.7 329.9L176.9 329.9L177.1 329.8L177.3 329.7L177.5 329.6L177.7 329.6L177.9 329.5L178.1 329.4L178.3 329.3L178.5 329.3L178.7 329.2L178.9 329.1L179.1 329L179.3 329L179.5 328.9L179.7 328.8L179.9 328.7L180.1 328.6L180.3 328.6L180.5 328.5L180.7 328.4L180.9 328.3L181.1 328.2L181.4 328.2L181.6 328.1L181.8 328L182 327.9L182.2 327.9L182.4 327.8L182.6 327.7L182.8 327.6L183 327.5L183.2 327.5L183.4 327.4L183.6 327.3L183.8 327.2L184 327.1L184.2 327L184.4 327L184.6 326.9L184.8 326.8L185 326.7L185.2 326.6L185.4 326.6L185.6 326.5L185.8 326.4L186 326.3L186.2 326.2L186.4 326.1L186.6 326.1L186.8 326L187 325.9L187.2 325.8L187.4 325.7L187.6 325.6L187.8 325.6L188 325.5L188.2 325.4L188.4 325.3L188.6 325.2L188.8 325.1L188.8 325.1L189 325L189.2 325L189.4 324.9L189.6 324.8L189.8 324.7L190 324.6L190.2 324.5L190.4 324.4L190.6 324.4L190.8 324.3L191 324.2L191.2 324.1L191.4 324L191.6 323.9L191.8 323.8L192 323.8L192.2 323.7L192.4 323.6L192.6 323.5L192.8 323.4L193 323.3L193.2 323.2L193.4 323.1L193.6 323L193.8 323L194 322.9L194.2 322.8L194.4 322.7L194.6 322.6L194.8 322.5L195 322.4L195.2 322.3L195.4 322.2L195.6 322.1L195.8 322L196 322L196.2 321.9L196.4 321.8L196.6 321.7L196.8 321.6L197.5 321.3L198.2 320.9L198.9 320.6L199.6 320.3L200.2 319.9L200.9 319.6L201.6 319.3L202.3 318.9L203 318.6L203.6 318.2L204.3 317.8L205 317.5L205 317.5L205.7 317.1L206.4 316.7L207 316.3L207.7 316L208.4 315.6L209.1 315.2L209.8 314.8L210.4 314.4L211.1 314L211.8 313.6L212.5 313.2L213.2 312.7L213.8 312.3L214.5 311.9L215.2 311.5L215.9 311.1L216.6 310.6L217.3 310.2L217.9 309.8L218.6 309.4L219.3 308.9L220 308.5L220.7 308.1L221.3 307.6L222 307.2L222.7 306.7L223.4 306.3L224.1 305.9L224.7 305.4L225.4 305L226.1 304.5L226.8 304.1L227.5 303.7L228.1 303.2L228.8 302.8L229.5 302.4L230.2 301.9L230.9 301.5L231.5 301L232.2 300.6L232.9 300.2L233.6 299.7L234.3 299.3L234.9 298.9L235.6 298.4L236.3 298L237 297.6L237.7 297.1L238.3 296.7L239 296.3L239.7 295.9L240.4 295.5L241.1 295L241.8 294.6L241.8 294.6L242.4 294.2L243.1 293.8L243.8 293.4L244.5 293L245.2 292.6L245.8 292.2L246.5 291.8L247.2 291.4L247.9 291L248.6 290.6L249.2 290.2L249.9 289.8L250.6 289.4L251.3 289L252 288.6L252.6 288.2L253.3 287.9L254 287.5L254.7 287.1L255.4 286.7L256 286.4L256.7 286L257.4 285.6L258.1 285.2L258.8 284.9L259.4 284.5L260.1 284.1L260.8 283.8L261.5 283.4L262.2 283.1L262.8 282.7L263.5 282.4L264.2 282L264.9 281.7L265.6 281.3L266.3 281L266.9 280.6L267.6 280.3L268.3 279.9L269 279.6L269.7 279.3L270.3 278.9L271 278.6L271.7 278.2L272.4 277.9L273.1 277.6L273.7 277.3L274.4 276.9L275.1 276.6L275.8 276.3L276.5 276L277.1 275.6L277.8 275.3L278.5 275L279.2 274.7L279.9 274.4L280.5 274.1L281.2 273.8L281.9 273.4L282.6 273.1L283.3 272.8L283.9 272.5L284.6 272.2L285.3 271.9L286 271.6L286.7 271.3L287.4 271L288 270.7L288.7 270.4L289.4 270.2L289.9 269.9L290.1 269.9L290.8 269.6L291.4 269.3L292.1 269L292.8 268.7L293.5 268.4L294.2 268.2L294.8 267.9L295.5 267.6L296.2 267.3L296.9 267L297.6 266.8L298.2 266.5L298.9 266.2L299.6 266L300.3 265.7L301 265.4L301.6 265.2L302.3 264.9L303 264.6L303.7 264.4L304.4 264.1L305 263.9L305.7 263.6L306.4 263.4L307.1 263.1L307.8 262.9L308.4 262.6L309.1 262.4L309.8 262.1L310.5 261.9L311.2 261.6L311.9 261.4L312.5 261.1L313.2 260.9L313.9 260.7L314.6 260.4L315.3 260.2L315.9 260L316.6 259.7L317.3 259.5L318 259.3L318.7 259L319.3 258.8L320 258.6L320.7 258.4L321.4 258.2L322.1 257.9L322.7 257.7L323.4 257.5L324.1 257.3L324.8 257.1L325.5 256.9L326.1 256.6L326.8 256.4L327.5 256.2L328.2 256L328.9 255.8L329.5 255.6L329.9 255.5L330.2 255.4L330.9 255.2L331.6 255L332.3 254.8L332.9 254.6L333.6 254.4L334.3 254.2L335 254L335.7 253.9L336.4 253.7L337 253.5L337.7 253.3L338.4 253.1L339.1 252.9L339.8 252.7L340.4 252.6L341.1 252.4L341.8 252.2L342.5 252L343.2 251.9L343.8 251.7L344.5 251.5L345.2 251.3L345.9 251.2L346.6 251L347.2 250.8L347.9 250.7L348.6 250.5L349.3 250.3L350 250.2L350.6 250L351.3 249.8L352 249.7L352.7 249.5L353.4 249.4L354 249.2L354.7 249L355.4 248.9L356.1 248.7L356.8 248.6L357.4 248.4L358.1 248.3L358.8 248.1L359.5 248L360.2 247.8L360.9 247.7L361.5 247.5L362.2 247.4L362.9 247.3L363.6 247.1L364.3 247L364.9 246.8L365.6 246.7L366.3 246.6L367 246.4L367.7 246.3L368.3 246.1L369 246L369.7 245.9L369.8 245.8L370.4 245.7L371.1 245.6L371.7 245.5L372.4 245.3L373.1 245.2L373.8 245.1L374.5 245L375.1 244.8L375.8 244.7L376.5 244.6L377.2 244.5L377.9 244.3L378.5 244.2L379.2 244.1L379.9 244L380.6 243.8L381.3 243.7L382 243.6L382.6 243.5L383.3 243.4L384 243.3L384.7 243.1L385.4 243L386 242.9L386.7 242.8L387.4 242.7L388.1 242.6L388.8 242.5L389.4 242.4L390.1 242.2L390.8 242.1L391.5 242L392.2 241.9L392.8 241.8L393.5 241.7L394.2 241.6L394.9 241.5L395.6 241.4L396.2 241.3L396.9 241.2L397.6 241.1L398.3 241L399 240.9L399.6 240.8L400.3 240.7L401 240.6L401.7 240.5L402.4 240.4L403 240.3L403.7 240.2L404.4 240.1L405.1 240L405.8 239.9L406.5 239.8L407.1 239.7L407.8 239.6L408.5 239.5L409.2 239.4L409.8 239.4L409.9 239.3L410.5 239.3L411.2 239.2L411.9 239.1L412.6 239L413.3 238.9L413.9 238.8L414.6 238.7L415.3 238.6L416 238.6L416.7 238.5L417.3 238.4L418 238.3L418.7 238.2L419.4 238.1L420.1 238.1L420.7 238L421.4 237.9L422.1 237.8L422.8 237.7L423.5 237.7L424.1 237.6L424.8 237.5L425.5 237.4L426.2 237.3L426.9 237.3L427.5 237.2L428.2 237.1L428.9 237L429.6 237L430.3 236.9L431 236.8L431.6 236.7L432.3 236.7L433 236.6L433.7 236.5L434.4 236.5L435 236.4L435.7 236.3L436.4 236.3L437.1 236.2L437.8 236.1L438.4 236.1L439.1 236L439.8 235.9L440.5 235.9L441.2 235.8L441.8 235.7L442.5 235.7L443.2 235.6L443.9 235.5L444.6 235.5L445.2 235.4L445.9 235.3L446.6 235.3L447.3 235.2L448 235.2L448.6 235.1L449.3 235.1L449.9 235L450 235L450.7 234.9L451.4 234.9L452.1 234.8L452.7 234.8L453.4 234.7L454.1 234.7L454.8 234.6L455.5 234.5L456.1 234.5L456.8 234.4L457.5 234.4L458.2 234.3L458.9 234.3L459.5 234.2L460.2 234.2L460.9 234.1L461.6 234.1L462.3 234L462.9 234L463.6 233.9L464.3 233.9L465 233.8L465.7 233.8L466.3 233.7L467 233.7L467.7 233.7L468.4 233.6L469.1 233.6L469.7 233.5L470.4 233.5L471.1 233.4L471.8 233.4L472.5 233.3L473.1 233.3L473.8 233.3L474.5 233.2L475.2 233.2L475.9 233.1L476.6 233.1L477.2 233L477.9 233L478.6 233L479.3 232.9L480 232.9L480.6 232.8L481.3 232.8L482 232.8L482.7 232.7L483.4 232.7L484 232.6L484.7 232.6L485.4 232.6L486.1 232.5L486.8 232.5L487.4 232.5L488.1 232.4L488.8 232.4L489.5 232.3L489.9 232.3L490.2 232.3L490.8 232.3L491.5 232.2L492.2 232.2L492.9 232.2L493.6 232.1L494.2 232.1L494.9 232.1L495.6 232L496.3 232L497 232L497.6 231.9L498.3 231.9L499 231.9L499.7 231.8L500.4 231.8L501.1 231.8L501.7 231.7L502.4 231.7L503.1 231.7L503.8 231.6L504.5 231.6L505.1 231.6L505.8 231.5L506.5 231.5L507.2 231.5L507.9 231.4L508.5 231.4L509.2 231.4L509.9 231.4L510.6 231.3L511.3 231.3L511.9 231.3L512.6 231.2L513.3 231.2L514 231.2L514.7 231.2L515.3 231.1L516 231.1L516.7 231.1L517.4 231L518.1 231L518.7 231L519.4 231L520.1 230.9L520.8 230.9L521.5 230.9L522.1 230.9L522.8 230.8L523.5 230.8L524.2 230.8L524.9 230.7L525.6 230.7L526.2 230.7L526.9 230.7L527.6 230.6L528.3 230.6L529 230.6L529.6 230.6L530.3 230.6L531 230.5L531.7 230.5L532.4 230.5L533 230.5L533.7 230.4L534.4 230.4L535.1 230.4L535.8 230.4L536.4 230.3L537.1 230.3L537.8 230.3L538.5 230.3L539.2 230.3L539.3 230.3L539.8 230.2L540.5 230.2L541.2 230.2L541.9 230.2L542.6 230.2L543.2 230.1L543.9 230.1L544.6 230.1L545.3 230.1L546 230.1L546.7 230L547.3 230L548 230L548.7 230L549.4 230L550.1 230L550.7 229.9L551.4 229.9L552.1 229.9L552.8 229.9L553.5 229.9L554.1 229.8L554.8 229.8L555.5 229.8L556.2 229.8L556.9 229.8L557.5 229.8L558.2 229.7L558.9 229.7L559.6 229.7L560.3 229.7L560.9 229.7L561.6 229.7L562.3 229.6L563 229.6L563.7 229.6L564.3 229.6L565 229.6L565.7 229.6L566.4 229.6L567.1 229.5L567.7 229.5L568.4 229.5L569.1 229.5L569.8 229.5L570.5 229.5L571.2 229.5L571.8 229.4L572.5 229.4L573.2 229.4L573.9 229.4L574.6 229.4L575.2 229.4L575.9 229.4L576.6 229.3L577.3 229.3L578 229.3L578.6 229.3L579.3 229.3L580 229.3L580.7 229.3L581.4 229.3L582 229.2L582.7 229.2L583.4 229.2L584.1 229.2L584.8 229.2L585.4 229.2L586.1 229.2L586.8 229.2L587.5 229.1L588.2 229.1L588.8 229.1L589.5 229.1L590.2 229.1L590.9 229.1L591.6 229.1L592.2 229.1L592.9 229L593.6 229L594.3 229L595 229L595.7 229L596.3 229L597 229L597.7 229L598.4 228.9L599.1 228.9L599.7 228.9L600.4 228.9L601.1 228.9L601.8 228.9L602.5 228.9L603.1 228.9L603.8 228.9L604.5 228.8" fill="none" stroke="#f39104" stroke-width="3.8" stroke-linejoin="round" stroke-linecap="round"/>
</g>
<path d="M820.1 320.8L821.6 151.5L823.2 127.7L824.7 117.8L826.3 100.8L827.8 94.4L829.3 88.9L830.9 95.1L832.4 95L834 111.1L835.5 99.1L837.1 110.5L838.6 110.4L840.2 117.5L841.7 121.7L843.3 120.5L844.8 121.3L846.4 128.4L847.9 130.2L849.5 128.1L851 137L852.6 141.5L854.1 132L855.7 140L857.2 146.9L858.8 142.7L860.3 141.9L861.9 146.1L863.4 148.1L865 141.4L866.5 138.1L868.1 145L869.6 146.7L871.2 141.8L872.7 140.6L874.3 145.7L875.8 142L877.4 139.9L878.9 146L880.5 152.8L882 143.7L883.6 143.2L885.1 140.5L886.7 151.8L888.2 148.9L889.8 149.9L891.3 154.1L892.9 145.5L894.4 143.7L895.9 149.6L897.5 139.8L899 142.4L900.6 140.4L902.1 144.4L903.7 141.9L905.2 152.5L906.8 143.5L908.3 143.5L909.9 154.6L911.4 144.7L913 147.5L914.5 142.7L916.1 148.3L917.6 146.3L919.2 144.6L920.7 150.2L922.3 143.2L923.8 146.5L925.4 143.6L926.9 148.3L928.5 140.7L930 142.9L931.6 146.5L933.1 142.6L934.7 139.6L936.2 137.1L937.8 152.7L939.3 141.2L940.9 143.1L942.4 145.6L944 149.8L945.5 139.2L947.1 150.9L948.6 142.3L950.2 138.8L951.7 152.3L953.3 146.2L954.8 150.8L956.4 143.5L957.9 137.5L959.4 135.1L961 152.8L962.5 147.1L964.1 141.1L965.6 136.9L967.2 142.3L968.7 147.7L970.3 142.7L971.8 144.2L973.4 145L974.9 147.4L976.5 142.1L978 142.4L979.6 144.2L981.1 144.8L982.7 149.7L984.2 145.9L985.8 138L987.3 144.4L988.9 150.2L990.4 137.2L992 140.9L993.5 133.5L995.1 143L996.6 145.4L998.2 150L999.7 137.1L1001.3 131.2L1002.8 147L1004.4 146.2L1005.9 140.4L1007.5 147.1L1009 144.5L1010.6 144.8L1012.1 142.3L1013.7 138.1L1015.2 143.1L1016.8 138.9L1018.3 147.1L1019.9 141.7L1021.4 153.2L1023 150L1024.5 139.5L1026 146L1027.6 140.5L1029.1 140.7L1030.7 137L1032.2 139.4L1033.8 138.5L1035.3 143.7L1036.9 146.5L1038.4 146.6L1040 145.5L1041.5 153.7L1043.1 145.8L1044.6 143.6L1046.2 142L1047.7 144.8L1049.3 152.2L1050.8 143.6L1052.4 142.2L1053.9 138.2L1055.5 140.5L1057 146.2L1058.6 146.6L1060.1 133.8L1061.7 139.7L1063.2 134.7L1064.8 133.3L1066.3 147L1067.9 141.4L1069.4 138.9L1071 138L1072.5 138.2L1074.1 142.3L1075.6 142.4L1077.2 150.2L1078.7 144L1080.3 146.7L1081.8 142.6L1083.4 145.4L1084.9 140.3L1086.5 139.4L1088 141.8L1089.6 141.8L1091.1 142.8L1092.6 147.4L1094.2 144L1095.7 145.5L1097.3 141.4L1098.8 143.2L1100.4 140.5L1101.9 149.4L1103.5 139.1L1105 146.8L1106.6 146.7L1108.1 144.2L1109.7 145.9L1111.2 141.9L1112.8 145.9L1114.3 148.2L1115.9 151.1L1117.4 137.1L1119 143L1120.5 148.7L1122.1 143.2L1123.6 150.5L1125.2 134.9L1126.7 150.3L1128.3 141L1129.8 140.7L1131.4 150L1132.9 141.8L1134.5 138.6L1136 141.1L1137.6 142L1139.1 138.8L1140.7 142.5L1142.2 141.7L1143.8 143.8L1145.3 140.3L1146.9 147.6L1148.4 139.5L1150 145.6L1151.5 148.3L1153.1 141.5L1154.6 135.3L1156.1 138.8L1157.7 145.6L1159.2 140L1160.8 145.4L1162.3 143.8L1163.9 142.8L1165.4 154L1167 142.3L1168.5 148L1170.1 146.5L1171.6 150.1L1173.2 150.3L1174.7 147.6L1176.3 135.5L1177.8 135.5L1179.4 143.4L1180.9 138.1L1182.5 144.5L1184 152.1L1185.6 142.5L1187.1 141.2L1188.7 145.2L1190.2 141.8L1191.8 140.6L1193.3 147.3L1194.9 150.1L1196.4 144.3L1198 144.2L1199.5 144.9L1201.1 134L1202.6 127.1L1204.2 145.2L1205.7 140L1207.3 138.8L1208.8 139.9L1210.4 138.3L1211.9 145L1213.5 139.8L1215 133.8L1216.6 139.5L1218.1 146.1L1219.7 137.6L1221.2 137.3L1222.7 141.5L1224.3 145.9L1225.8 136L1227.4 154.9L1228.9 140.9L1230.5 143.3L1232 154.4L1233.6 137.5L1235.1 141.6L1236.7 148.7L1238.2 140.4L1239.8 145.2L1241.3 152.1L1242.9 146.4L1244.4 142L1246 140.3L1247.5 141.7L1249.1 143L1250.6 141L1252.2 144.2L1253.7 132.3L1255.3 142.5L1256.8 141.9L1258.4 140.7L1259.9 148.2L1261.5 146.5L1263 136.1L1264.6 141.7L1266.1 144.5L1267.7 141.6L1269.2 145.5L1270.8 141.9L1272.3 146.3L1273.9 141.9L1275.4 157.9L1277 130.8L1278.5 145.6L1280.1 150.6L1281.6 144.3L1283.2 145L1284.7 142.5L1286.3 148.6L1287.8 141.4L1289.3 126.3L1290.9 149.2L1292.4 141.6L1294 144.7L1295.5 142.3L1297.1 151.7L1298.6 148.6L1300.2 141.1L1301.7 143.4L1303.3 135.6L1304.8 146.5L1306.4 142.4" fill="none" stroke="#000000" stroke-width="1.8" stroke-dasharray="4.5 1.5" stroke-linejoin="round"/>
<path d="M820.1 343.8L821.6 216.5L823.2 173L824.7 172.6L826.3 169.7L827.8 188.8L829.3 195.2L830.9 210.2L832.4 215.3L834 220L835.5 234.4L837.1 239.1L838.6 257.4L840.2 250.4L841.7 258.3L843.3 245.1L844.8 245.2L846.4 249L847.9 253.2L849.5 248.2L851 246.2L852.6 249.6L854.1 248.3L855.7 244L857.2 244.3L858.8 242L860.3 238L861.9 238L863.4 227.9L865 238.1L866.5 223.2L868.1 232.1L869.6 226.3L871.2 228.6L872.7 220.2L874.3 218.8L875.8 214.4L877.4 216.1L878.9 210.7L880.5 199.5L882 204.9L883.6 208.2L885.1 198.2L886.7 202.2L888.2 196.6L889.8 194.9L891.3 198.7L892.9 205.3L894.4 195.6L895.9 189.5L897.5 193.1L899 187.6L900.6 183.6L902.1 190.6L903.7 180.2L905.2 177.2L906.8 179.2L908.3 177.9L909.9 177.4L911.4 170.5L913 180.7L914.5 181L916.1 177.2L917.6 184.5L919.2 195.4L920.7 183L922.3 175.8L923.8 174.7L925.4 184.8L926.9 186.1L928.5 177.4L930 176.2L931.6 175.1L933.1 170.9L934.7 167.6L936.2 172.5L937.8 170.1L939.3 178.8L940.9 178.9L942.4 171.2L944 168.6L945.5 168L947.1 168.5L948.6 167.2L950.2 162.6L951.7 180.2L953.3 174.6L954.8 168.1L956.4 167.2L957.9 178.1L959.4 163.7L961 172.1L962.5 170.8L964.1 168L965.6 165.3L967.2 176.7L968.7 163.8L970.3 168.4L971.8 172.8L973.4 170L974.9 180L976.5 171.8L978 166.3L979.6 175.6L981.1 169.7L982.7 168.7L984.2 167.5L985.8 162.3L987.3 167.7L988.9 168.9L990.4 164.6L992 156.4L993.5 169.1L995.1 161.8L996.6 175.4L998.2 159.9L999.7 163.6L1001.3 160L1002.8 167.4L1004.4 172.6L1005.9 162.4L1007.5 159.1L1009 171.7L1010.6 174.9L1012.1 164.7L1013.7 168L1015.2 153.3L1016.8 170.4L1018.3 169.9L1019.9 167.7L1021.4 176L1023 171.9L1024.5 158.5L1026 167.9L1027.6 170.5L1029.1 174L1030.7 164.2L1032.2 163.8L1033.8 166L1035.3 169.4L1036.9 165.8L1038.4 165.4L1040 171L1041.5 164.2L1043.1 178.7L1044.6 174.3L1046.2 169.2L1047.7 168.1L1049.3 173.7L1050.8 165.9L1052.4 162.1L1053.9 162.9L1055.5 165.3L1057 163.4L1058.6 165.6L1060.1 173.8L1061.7 168.9L1063.2 161L1064.8 173.9L1066.3 167.6L1067.9 170L1069.4 172.7L1071 173.3L1072.5 167.5L1074.1 166.4L1075.6 166.4L1077.2 175.7L1078.7 169.6L1080.3 166.3L1081.8 163.1L1083.4 164.6L1084.9 163.8L1086.5 156.6L1088 163.9L1089.6 172.6L1091.1 168L1092.6 172.1L1094.2 180.9L1095.7 177.2L1097.3 157.3L1098.8 174.3L1100.4 180.2L1101.9 171.5L1103.5 160.4L1105 168.7L1106.6 166.3L1108.1 169.9L1109.7 169.3L1111.2 161.8L1112.8 164.3L1114.3 169L1115.9 163.8L1117.4 162.9L1119 169.7L1120.5 167.1L1122.1 167.2L1123.6 172.1L1125.2 162.5L1126.7 169.5L1128.3 171.9L1129.8 177.5L1131.4 175.3L1132.9 160.6L1134.5 174.7L1136 166.4L1137.6 170.7L1139.1 163.3L1140.7 165.6L1142.2 172.9L1143.8 171.8L1145.3 168.3L1146.9 168.2L1148.4 169L1150 170.5L1151.5 165.5L1153.1 161.9L1154.6 166L1156.1 172.8L1157.7 164.7L1159.2 168.6L1160.8 166.5L1162.3 159.2L1163.9 170.1L1165.4 169L1167 173.7L1168.5 170.5L1170.1 172L1171.6 160.6L1173.2 167.4L1174.7 172.1L1176.3 158.9L1177.8 176.1L1179.4 164.6L1180.9 163.8L1182.5 166.1L1184 170.5L1185.6 169.9L1187.1 171L1188.7 165.1L1190.2 181.6L1191.8 174.7L1193.3 168.5L1194.9 172.4L1196.4 178.9L1198 170.6L1199.5 173.4L1201.1 165.2L1202.6 162L1204.2 169.1L1205.7 179.7L1207.3 170.5L1208.8 174.4L1210.4 165.9L1211.9 151.7L1213.5 166.2L1215 158.9L1216.6 161.6L1218.1 166L1219.7 174.2L1221.2 168.6L1222.7 176.8L1224.3 163.7L1225.8 168.5L1227.4 154L1228.9 165.4L1230.5 179.4L1232 165.7L1233.6 164.3L1235.1 150.8L1236.7 174.4L1238.2 174.1L1239.8 168.9L1241.3 174.9L1242.9 176.6L1244.4 175.2L1246 155.7L1247.5 172.8L1249.1 174.9L1250.6 172L1252.2 169.7L1253.7 162.9L1255.3 164.8L1256.8 165.7L1258.4 169.6L1259.9 169.1L1261.5 173.3L1263 177.9L1264.6 159.2L1266.1 172.4L1267.7 158.8L1269.2 171.8L1270.8 170.6L1272.3 171L1273.9 177.5L1275.4 170.6L1277 165.7L1278.5 165.9L1280.1 167.7L1281.6 165L1283.2 168.8L1284.7 170.5L1286.3 180.9L1287.8 173.3L1289.3 162.3L1290.9 169.9L1292.4 166.4L1294 171.8L1295.5 174.2L1297.1 159.9L1298.6 168.8L1300.2 162.9L1301.7 168L1303.3 172.4L1304.8 182.7L1306.4 170.4" fill="none" stroke="#ad3340" stroke-width="1.8" stroke-dasharray="4.5 1.5" stroke-linejoin="round"/>
<path d="M820.1 342.4L821.6 278.9L823.2 233.8L824.7 235.9L826.3 232.5L827.8 242.2L829.3 243.5L830.9 263.3L832.4 278.9L834 279.2L835.5 287.1L837.1 298.5L838.6 299.5L840.2 292.4L841.7 296.6L843.3 302.1L844.8 299.7L846.4 305L847.9 283.9L849.5 290.9L851 272.5L852.6 281.4L854.1 270.3L855.7 269.7L857.2 273.5L858.8 264.9L860.3 280.4L861.9 261.4L863.4 273.6L865 261.8L866.5 255.8L868.1 258.1L869.6 259.1L871.2 259.3L872.7 254.8L874.3 245.3L875.8 243.9L877.4 247.8L878.9 250.7L880.5 238.3L882 254.9L883.6 240.3L885.1 239.3L886.7 229.5L888.2 229.1L889.8 227.3L891.3 226.6L892.9 229.9L894.4 221.9L895.9 215.8L897.5 222L899 217.1L900.6 219.8L902.1 212.4L903.7 213.2L905.2 211L906.8 212.7L908.3 204.9L909.9 214.6L911.4 213.6L913 214.1L914.5 207L916.1 212.8L917.6 212.3L919.2 204.4L920.7 201.5L922.3 201L923.8 220.7L925.4 211.1L926.9 211.3L928.5 211.6L930 207L931.6 194.9L933.1 205.7L934.7 207.7L936.2 199.8L937.8 202.9L939.3 201.7L940.9 206.3L942.4 202.5L944 200L945.5 212.2L947.1 210.4L948.6 196L950.2 197.1L951.7 204.1L953.3 206.7L954.8 202.2L956.4 207.4L957.9 202.8L959.4 192.2L961 199.4L962.5 194.5L964.1 201.8L965.6 198.6L967.2 185.8L968.7 207.5L970.3 202.2L971.8 201.1L973.4 198.8L974.9 183.8L976.5 196.5L978 208L979.6 201.5L981.1 204.7L982.7 209.7L984.2 178.5L985.8 205.5L987.3 198.6L988.9 203.6L990.4 195.3L992 197.9L993.5 199.1L995.1 200.5L996.6 193.7L998.2 204.6L999.7 203.6L1001.3 211.5L1002.8 192.7L1004.4 201.3L1005.9 205.2L1007.5 202L1009 186.6L1010.6 200.9L1012.1 195.3L1013.7 197.3L1015.2 199.9L1016.8 203.5L1018.3 201.6L1019.9 201.7L1021.4 211.5L1023 186.2L1024.5 195L1026 199.3L1027.6 201L1029.1 204.1L1030.7 195L1032.2 201L1033.8 197.5L1035.3 207.4L1036.9 198L1038.4 189.5L1040 201.6L1041.5 191.7L1043.1 199.9L1044.6 194.3L1046.2 194.5L1047.7 199.9L1049.3 203.2L1050.8 198.7L1052.4 200L1053.9 203.5L1055.5 197.9L1057 198L1058.6 205L1060.1 201L1061.7 185L1063.2 196.1L1064.8 199.9L1066.3 187.2L1067.9 202.9L1069.4 213.6L1071 210.6L1072.5 208.6L1074.1 199.2L1075.6 195.4L1077.2 212.1L1078.7 194.7L1080.3 213.6L1081.8 199.3L1083.4 198.2L1084.9 198.4L1086.5 200.7L1088 199.9L1089.6 206.8L1091.1 199.3L1092.6 190.5L1094.2 195.9L1095.7 187.1L1097.3 195.2L1098.8 197.1L1100.4 192.1L1101.9 199.7L1103.5 207.8L1105 212.8L1106.6 194.2L1108.1 198L1109.7 196.6L1111.2 202.8L1112.8 199.2L1114.3 191.1L1115.9 199.3L1117.4 207L1119 203.4L1120.5 193.8L1122.1 206.9L1123.6 214.8L1125.2 213.3L1126.7 208.3L1128.3 197L1129.8 200.8L1131.4 209.3L1132.9 208.1L1134.5 202.5L1136 202.2L1137.6 204.4L1139.1 202.7L1140.7 205.5L1142.2 191.9L1143.8 214L1145.3 200.8L1146.9 206.9L1148.4 197.8L1150 202.8L1151.5 199.6L1153.1 196L1154.6 200.5L1156.1 196.4L1157.7 209L1159.2 191.6L1160.8 202.9L1162.3 199.7L1163.9 193.5L1165.4 189.9L1167 180.8L1168.5 213.7L1170.1 206.9L1171.6 196.8L1173.2 207.9L1174.7 202.9L1176.3 192.9L1177.8 197.4L1179.4 207.1L1180.9 199.6L1182.5 198.7L1184 201.7L1185.6 202.7L1187.1 201.4L1188.7 210.1L1190.2 201.5L1191.8 207.4L1193.3 200.2L1194.9 200L1196.4 207.1L1198 199.1L1199.5 200.5L1201.1 202.7L1202.6 198.6L1204.2 204.2L1205.7 204L1207.3 202.2L1208.8 202.9L1210.4 196.6L1211.9 227.7L1213.5 204.3L1215 213.4L1216.6 208.3L1218.1 201.6L1219.7 203L1221.2 197.9L1222.7 201.4L1224.3 217.6L1225.8 215.2L1227.4 195L1228.9 195L1230.5 202.8L1232 211.6L1233.6 192L1235.1 214.6L1236.7 201.9L1238.2 203.9L1239.8 202.4L1241.3 216.5L1242.9 205.9L1244.4 198.1L1246 206.5L1247.5 211.2L1249.1 204L1250.6 203.5L1252.2 204.8L1253.7 208.3L1255.3 201.3L1256.8 204.9L1258.4 210.4L1259.9 203.1L1261.5 204.5L1263 203.6L1264.6 213.4L1266.1 208.5L1267.7 200.1L1269.2 199.5L1270.8 202.7L1272.3 203.7L1273.9 200.7L1275.4 199.3L1277 195.2L1278.5 202.1L1280.1 207.6L1281.6 202.1L1283.2 214.9L1284.7 204.3L1286.3 207L1287.8 204.8L1289.3 199.6L1290.9 204.4L1292.4 212.4L1294 206.6L1295.5 209L1297.1 204.9L1298.6 202.9L1300.2 210L1301.7 201L1303.3 198.1L1304.8 206.4L1306.4 201.1" fill="none" stroke="#5a934c" stroke-width="1.8" stroke-dasharray="4.5 1.5" stroke-linejoin="round"/>
<path d="M820.1 278L821.6 271.3L823.2 272.1L824.7 281.8L826.3 272.8L827.8 270.2L829.3 284.4L830.9 290.7L832.4 296.8L834 314.9L835.5 303.2L837.1 327.7L838.6 326L840.2 303.2L841.7 336L843.3 337.3L844.8 342.2L846.4 338.5L847.9 351.6L849.5 343.1L851 320.6L852.6 335.9L854.1 336.4L855.7 331.1L857.2 328.7L858.8 327.8L860.3 323.3L861.9 332.9L863.4 318.7L865 323.2L866.5 313.3L868.1 315.4L869.6 318.4L871.2 311.4L872.7 314.3L874.3 301.5L875.8 305L877.4 298.3L878.9 306.7L880.5 290.3L882 298.5L883.6 287.8L885.1 288.6L886.7 297.1L888.2 287.8L889.8 290.6L891.3 283.9L892.9 269.2L894.4 279L895.9 275.4L897.5 291.8L899 276.8L900.6 274.5L902.1 269.1L903.7 276.6L905.2 268.9L906.8 268.2L908.3 277.1L909.9 273.2L911.4 264L913 271.3L914.5 270.2L916.1 257.8L917.6 259.7L919.2 261.1L920.7 258.1L922.3 259.6L923.8 259.1L925.4 257.5L926.9 251.9L928.5 245.9L930 254.3L931.6 251.1L933.1 250.9L934.7 255.5L936.2 246.5L937.8 242.4L939.3 250.5L940.9 240.8L942.4 247.4L944 237.5L945.5 236.4L947.1 244.1L948.6 251.9L950.2 244.3L951.7 247.3L953.3 246.3L954.8 240L956.4 230.9L957.9 238L959.4 238.1L961 246.2L962.5 239.1L964.1 242.7L965.6 232.1L967.2 237.2L968.7 234.2L970.3 233.6L971.8 234.1L973.4 227.7L974.9 229.7L976.5 233.6L978 230.8L979.6 228.3L981.1 223.7L982.7 229.9L984.2 222.6L985.8 233.1L987.3 230.9L988.9 237.3L990.4 224.8L992 234.3L993.5 234.1L995.1 219.5L996.6 231L998.2 231.9L999.7 222.8L1001.3 228.6L1002.8 222.7L1004.4 229.5L1005.9 223.4L1007.5 221.5L1009 226.6L1010.6 217.4L1012.1 228.9L1013.7 227.9L1015.2 226.2L1016.8 221.3L1018.3 228L1019.9 228.7L1021.4 225L1023 219.7L1024.5 228.4L1026 232.9L1027.6 226.8L1029.1 222.8L1030.7 228.9L1032.2 225.3L1033.8 235.8L1035.3 225.8L1036.9 225.3L1038.4 222.5L1040 224.1L1041.5 221.7L1043.1 236.2L1044.6 222.2L1046.2 234.4L1047.7 228.8L1049.3 214L1050.8 221.1L1052.4 235.4L1053.9 219.4L1055.5 230.2L1057 229.7L1058.6 224.5L1060.1 224.9L1061.7 218.2L1063.2 233.2L1064.8 227.9L1066.3 227.1L1067.9 235.3L1069.4 219.4L1071 216.3L1072.5 228.9L1074.1 223.6L1075.6 227.1L1077.2 224.2L1078.7 229.2L1080.3 221.3L1081.8 231.9L1083.4 218.5L1084.9 223.8L1086.5 212.9L1088 234.5L1089.6 226.8L1091.1 232.6L1092.6 226.5L1094.2 223.5L1095.7 230.7L1097.3 233.4L1098.8 235L1100.4 224.7L1101.9 219.2L1103.5 219.8L1105 225.8L1106.6 231.1L1108.1 227.9L1109.7 234L1111.2 234.4L1112.8 220.5L1114.3 227.6L1115.9 224.5L1117.4 227.6L1119 212.2L1120.5 218.6L1122.1 230.4L1123.6 228.2L1125.2 229.9L1126.7 219.4L1128.3 219.8L1129.8 227.9L1131.4 214.3L1132.9 226.3L1134.5 232.9L1136 237.3L1137.6 227.3L1139.1 224.9L1140.7 229.7L1142.2 224.7L1143.8 220.4L1145.3 227L1146.9 222.3L1148.4 218L1150 224.2L1151.5 229.9L1153.1 224.6L1154.6 224.1L1156.1 204.4L1157.7 229.3L1159.2 235.2L1160.8 225.5L1162.3 223.7L1163.9 229.4L1165.4 224.2L1167 225.6L1168.5 220.9L1170.1 231.8L1171.6 231.1L1173.2 227.5L1174.7 230.2L1176.3 214.1L1177.8 224.5L1179.4 227.7L1180.9 219.6L1182.5 225L1184 222.5L1185.6 223.5L1187.1 228.6L1188.7 228.6L1190.2 227.9L1191.8 233.7L1193.3 229.8L1194.9 219L1196.4 224.8L1198 233.1L1199.5 203.2L1201.1 233.7L1202.6 225L1204.2 224.5L1205.7 221.6L1207.3 233L1208.8 228.4L1210.4 229.5L1211.9 222.5L1213.5 226.6L1215 224.2L1216.6 225.8L1218.1 218.4L1219.7 225.2L1221.2 224.1L1222.7 233.7L1224.3 225.2L1225.8 235.5L1227.4 223.9L1228.9 228.1L1230.5 233.6L1232 235.1L1233.6 229.5L1235.1 228.4L1236.7 232.1L1238.2 230.9L1239.8 230.8L1241.3 232L1242.9 230.3L1244.4 227.9L1246 222.5L1247.5 226L1249.1 232.4L1250.6 211.9L1252.2 223.2L1253.7 230.9L1255.3 224.2L1256.8 232.4L1258.4 233.6L1259.9 233.5L1261.5 221.2L1263 229L1264.6 228.1L1266.1 229.5L1267.7 232L1269.2 227.4L1270.8 226.4L1272.3 219.6L1273.9 234.5L1275.4 222L1277 226.6L1278.5 239.3L1280.1 225.1L1281.6 221.7L1283.2 224.5L1284.7 229L1286.3 229.5L1287.8 240.9L1289.3 226.3L1290.9 229.6L1292.4 235.5L1294 229.6L1295.5 234.2L1297.1 218.9L1298.6 237.3L1300.2 235.7L1301.7 242.4L1303.3 233.2L1304.8 230.6L1306.4 231.2" fill="none" stroke="#f39104" stroke-width="1.8" stroke-dasharray="4.5 1.5" stroke-linejoin="round"/>
<path d="M819.4 393.5L819.6 371.3L819.8 349.2L820 327L820.2 304.8L820.4 282.7L820.6 260.5L820.8 238.3L821 216.2L821.2 194L821.4 171.8L821.5 159.8L821.6 158.3L821.8 155L822 151.7L822.2 148.4L822.4 145.1L822.6 141.8L822.8 138.5L823 135.2L823.2 131.9L823.4 128.6L823.6 125.3L823.8 122L824 118.7L824.2 115.4L824.4 112.1L824.6 108.8L824.8 105.5L825 102.1L825.2 98.8L825.4 95.5L825.6 92.2L825.8 88.9L826 85.6L826.2 82.3L826.3 82.1L826.4 82.6L826.6 83.2L826.8 83.8L827 84.4L827.2 85L827.4 85.5L827.6 86.1L827.8 86.6L828 87.2L828.2 87.8L828.5 88.3L828.7 88.9L828.9 89.4L829.1 89.9L829.3 90.5L829.5 91L829.7 91.6L829.9 92.1L830.1 92.7L830.3 93.2L830.3 93.4L830.5 93.8L830.7 94.3L830.9 94.9L831.1 95.4L831.3 95.9L831.5 96.5L831.7 97L831.9 97.6L832.1 98.1L832.3 98.7L832.5 99.2L832.7 99.7L832.9 100.3L833.1 100.8L833.3 101.4L833.5 101.9L833.7 102.4L833.9 102.9L834.1 103.5L834.3 104L834.5 104.5L834.7 105L834.9 105.5L835.1 106L835.3 106.5L835.5 107L835.7 107.5L835.7 107.6L835.9 108L836.1 108.5L836.3 109L836.5 109.5L836.7 110L836.9 110.5L837.1 110.9L837.3 111.4L837.5 111.9L837.7 112.3L837.9 112.8L838.1 113.3L838.3 113.7L838.5 114.2L838.7 114.6L838.9 115L839.1 115.5L839.3 115.9L839.5 116.3L839.7 116.8L839.9 117.2L840.1 117.6L840.3 118L840.5 118.4L840.7 118.8L840.9 119.2L841.1 119.6L841.3 120L841.5 120.4L841.7 120.8L841.9 121.2L842.1 121.5L842.3 121.9L842.5 122.3L842.7 122.6L842.9 123L843.1 123.3L843.3 123.7L843.5 124L843.7 124.4L843.9 124.7L844.1 125L844.3 125.3L844.5 125.7L844.7 126L844.9 126.3L845.1 126.6L845.2 126.6L845.3 126.9L845.5 127.2L845.7 127.5L845.9 127.8L846.1 128.1L846.3 128.4L846.5 128.6L846.7 128.9L846.9 129.2L847.1 129.5L847.3 129.7L847.5 130L847.8 130.2L848 130.5L848.2 130.7L848.4 131L848.6 131.2L848.8 131.5L849 131.7L849.2 131.9L849.4 132.1L849.6 132.4L849.8 132.6L850 132.8L850.2 133L850.4 133.2L850.6 133.4L850.8 133.7L851 133.9L851.2 134.1L851.4 134.3L851.6 134.4L851.8 134.6L852 134.8L852.2 135L852.4 135.2L852.6 135.4L852.8 135.6L853 135.7L853.2 135.9L853.4 136.1L853.6 136.2L853.8 136.4L854 136.6L854.2 136.7L854.4 136.9L854.6 137L854.6 137.1L854.8 137.2L855 137.3L855.2 137.5L855.4 137.6L855.6 137.8L855.8 137.9L856 138.1L856.2 138.2L856.4 138.3L856.6 138.5L856.8 138.6L857 138.7L857.2 138.9L857.4 139L857.6 139.1L857.8 139.2L858 139.4L858.2 139.5L858.4 139.6L858.6 139.7L858.8 139.8L859 139.9L859.2 140.1L859.4 140.2L859.6 140.3L859.8 140.4L860 140.5L860.2 140.6L860.4 140.7L860.6 140.8L860.8 140.9L861 141L861.2 141.1L861.4 141.2L861.6 141.3L861.8 141.4L862 141.4L862.2 141.5L862.4 141.6L862.6 141.7L862.8 141.8L863 141.9L863.2 142L863.4 142L863.6 142.1L863.8 142.2L864 142.3L864.2 142.3L864.4 142.4L864.6 142.5L864.8 142.6L865 142.6L865.2 142.7L865.4 142.8L865.6 142.8L865.8 142.9L866 143L866.2 143L866.4 143.1L866.6 143.2L866.8 143.2L867 143.3L867.3 143.4L867.5 143.4L867.7 143.5L867.9 143.5L868.1 143.6L868.3 143.7L868.5 143.7L868.7 143.8L868.9 143.8L869 143.9L869.1 143.9L869.3 143.9L869.5 144L869.7 144L869.9 144.1L870.1 144.1L870.3 144.2L870.5 144.2L870.7 144.3L870.9 144.3L871.1 144.4L871.3 144.4L871.5 144.5L871.7 144.5L871.9 144.6L872.1 144.6L872.3 144.6L872.5 144.7L872.7 144.7L872.9 144.8L873.1 144.8L873.3 144.8L873.5 144.9L873.7 144.9L873.9 145L874.1 145L874.3 145L874.5 145.1L874.7 145.1L874.9 145.1L875.1 145.2L875.3 145.2L875.5 145.2L875.7 145.3L875.9 145.3L876.1 145.3L876.3 145.4L876.5 145.4L876.7 145.4L876.9 145.5L877.1 145.5L877.3 145.5L877.5 145.5L877.7 145.6L877.9 145.6L878.1 145.6L878.3 145.7L878.5 145.7L878.7 145.7L878.9 145.7L879.1 145.8L879.3 145.8L879.5 145.8L879.7 145.8L879.9 145.9L880.1 145.9L880.3 145.9L880.5 145.9L880.7 145.9L880.9 146L881.1 146L881.3 146L881.5 146L881.7 146L881.9 146.1L882.1 146.1L882.3 146.1L882.5 146.1L882.7 146.1L882.9 146.2L883.1 146.2L883.3 146.2L883.5 146.2L883.7 146.2L883.9 146.2L884.1 146.3L884.3 146.3L884.5 146.3L884.7 146.3L884.9 146.3L885.1 146.3L885.3 146.4L885.5 146.4L885.7 146.4L885.9 146.4L886.1 146.4L886.3 146.4L886.5 146.4L886.8 146.4L887 146.5L887.2 146.5L887.4 146.5L887.6 146.5L887.8 146.5L888 146.5L888.2 146.5L888.4 146.5L888.6 146.6L888.8 146.6L889 146.6L889.2 146.6L889.4 146.6L889.6 146.6L889.8 146.6L890 146.6L890.2 146.6L890.4 146.6L890.6 146.7L890.8 146.7L891 146.7L891.2 146.7L891.4 146.7L891.6 146.7L891.8 146.7L892 146.7L892 146.7L892.2 146.7L892.4 146.7L892.6 146.7L892.8 146.7L893 146.7L893.2 146.8L893.4 146.8L893.6 146.8L893.8 146.8L894 146.8L894.2 146.8L894.4 146.8L894.6 146.8L894.8 146.8L895 146.8L895.2 146.8L895.4 146.8L895.6 146.8L895.8 146.8L896 146.8L896.2 146.8L896.4 146.8L896.6 146.8L896.8 146.9L897 146.9L897.2 146.9L897.4 146.9L897.6 146.9L897.8 146.9L898 146.9L898.2 146.9L898.4 146.9L898.6 146.9L898.8 146.9L899 146.9L899.2 146.9L899.4 146.9L899.6 146.9L900.3 146.9L901 146.9L901.7 146.9L902.3 146.9L903 146.9L903.7 146.9L904.4 147L905.1 147L905.7 147L906.4 147L907.1 147L907.8 147L908.5 147L909.1 147L909.8 147L910.5 147L911.2 146.9L911.9 146.9L912.5 146.9L913.2 146.9L913.9 146.9L914.6 146.9L915.3 146.9L915.9 146.9L916.6 146.9L917.3 146.9L918 146.9L918.7 146.9L919.3 146.9L920 146.9L920.7 146.9L921.4 146.9L922.1 146.8L922.8 146.8L923.4 146.8L924.1 146.8L924.8 146.8L925.5 146.8L926.2 146.8L926.8 146.8L927.5 146.8L928.2 146.8L928.9 146.8L929.6 146.7L930.2 146.7L930.9 146.7L931.6 146.7L932.2 146.7L932.3 146.7L933 146.7L933.6 146.7L934.3 146.7L935 146.7L935.7 146.7L936.4 146.7L937 146.7L937.7 146.6L938.4 146.6L939.1 146.6L939.8 146.6L940.4 146.6L941.1 146.6L941.8 146.6L942.5 146.6L943.2 146.6L943.8 146.6L944.5 146.6L945.2 146.6L945.9 146.6L946.6 146.6L947.2 146.6L947.9 146.5L948.6 146.5L949.3 146.5L950 146.5L950.6 146.5L951.3 146.5L952 146.5L952.7 146.5L953.4 146.5L954.1 146.5L954.7 146.5L955.4 146.5L956.1 146.5L956.8 146.5L957.5 146.5L958.1 146.5L958.8 146.5L959.5 146.5L960.2 146.5L960.9 146.5L961.5 146.5L962.2 146.5L962.9 146.4L963.6 146.4L964.3 146.4L964.9 146.4L965.6 146.4L966.3 146.4L967 146.4L967.7 146.4L968.3 146.4L969 146.4L969.7 146.4L970.4 146.4L971.1 146.4L971.7 146.4L972.4 146.4L973.1 146.4L973.8 146.4L974.5 146.4L975.1 146.4L975.8 146.4L976.5 146.4L977.2 146.4L977.9 146.4L978.5 146.4L979.2 146.4L979.9 146.4L980.6 146.4L981.3 146.4L981.9 146.4L982.6 146.4L983.3 146.4L984 146.4L984.7 146.4L985.4 146.4L986 146.4L986.7 146.4L987.4 146.4L988.1 146.4L988.8 146.4L989.4 146.4L990.1 146.3L990.8 146.3L991.5 146.3L992.2 146.3L992.8 146.3L993.5 146.3L994.2 146.3L994.9 146.3L995.6 146.3L996.2 146.3L996.9 146.3L997.6 146.3L998.3 146.3L999 146.3L999.6 146.3L1000.3 146.3L1001 146.3L1001.7 146.3L1002.4 146.3L1003 146.3L1003.7 146.3L1004.4 146.3L1005.1 146.3L1005.8 146.3L1006.4 146.3L1007.1 146.3L1007.8 146.3L1008.5 146.3L1009.2 146.3L1009.8 146.3L1010.5 146.3L1011.2 146.3L1011.9 146.3L1012.6 146.3L1013.3 146.3L1013.9 146.3L1014.6 146.3L1015.3 146.3L1016 146.3L1016.7 146.3L1017.3 146.3L1018 146.3L1018.7 146.3L1019.4 146.3L1020.1 146.3L1020.7 146.3L1021.4 146.3L1022.1 146.3L1022.8 146.3L1023.5 146.3L1024.1 146.3L1024.8 146.3L1025.5 146.3L1026.2 146.3L1026.9 146.3L1027.5 146.3L1028.2 146.3L1028.9 146.3L1029.6 146.3L1030.3 146.3L1030.9 146.3L1031.6 146.3L1032.3 146.3L1033 146.3L1033.7 146.3L1034.3 146.3L1035 146.3L1035.7 146.3L1036.4 146.3L1037.1 146.3L1037.7 146.3L1038.4 146.3L1039.1 146.3L1039.8 146.3L1040.5 146.3L1041.1 146.3L1041.8 146.3L1042.5 146.3L1043.2 146.3L1043.9 146.3L1044.6 146.3L1045.2 146.3L1045.9 146.3L1046.6 146.3L1047.3 146.3L1048 146.3L1048.6 146.3L1049.3 146.3L1050 146.3L1050.7 146.3L1051.4 146.3L1052 146.3L1052.7 146.3L1053.4 146.3L1054.1 146.3L1054.8 146.3L1055.4 146.3L1056.1 146.3L1056.8 146.3L1057.5 146.3L1058.2 146.3L1058.8 146.3L1059.5 146.3L1060.2 146.3L1060.9 146.3L1061.6 146.3L1062.2 146.3L1062.7 146.3L1062.9 146.3L1063.6 146.3L1064.3 146.3L1065 146.3L1065.6 146.3L1066.3 146.3L1067 146.3L1067.7 146.3L1068.4 146.3L1069 146.3L1069.7 146.3L1070.4 146.3L1071.1 146.3L1071.8 146.3L1072.4 146.3L1073.1 146.3L1073.8 146.3L1074.5 146.3L1075.2 146.3L1075.9 146.3L1076.5 146.3L1077.2 146.3L1077.9 146.3L1078.6 146.3L1079.3 146.3L1079.9 146.3L1080.6 146.3L1081.3 146.3L1082 146.3L1082.7 146.3L1083.3 146.3L1084 146.3L1084.7 146.3L1085.4 146.3L1086.1 146.3L1086.7 146.3L1087.4 146.3L1088.1 146.3L1088.8 146.3L1089.5 146.3L1090.1 146.3L1090.8 146.3L1091.5 146.3L1092.2 146.3L1092.9 146.3L1093.5 146.3L1094.2 146.3L1094.9 146.3L1095.6 146.3L1096.3 146.3L1096.9 146.3L1097.6 146.3L1098.3 146.3L1099 146.3L1099.7 146.3L1100.3 146.3L1101 146.3L1101.7 146.3L1102.4 146.3L1103.1 146.3L1103.7 146.3L1104.4 146.3L1105.1 146.3L1105.8 146.3L1106.5 146.3L1107.2 146.3L1107.8 146.3L1108.5 146.3L1109.2 146.3L1109.9 146.3L1110.6 146.3L1111.2 146.3L1111.9 146.3L1112.6 146.3L1113.3 146.3L1114 146.3L1114.6 146.3L1115.3 146.3L1116 146.3L1116.7 146.3L1117.4 146.3L1118 146.3L1118.7 146.3L1119.4 146.3L1120.1 146.3L1120.8 146.3L1121.4 146.3L1122.1 146.3L1122.8 146.3L1123.5 146.3L1124.2 146.3L1124.8 146.3L1125.5 146.3L1126.2 146.3L1126.9 146.3L1127.6 146.3L1128.2 146.3L1128.9 146.3L1129.6 146.3L1130.3 146.3L1131 146.3L1131.6 146.3L1132.3 146.3L1133 146.3L1133.7 146.3L1134.4 146.3L1135 146.3L1135.7 146.3L1136.4 146.3L1137.1 146.3L1137.8 146.3L1138.5 146.3L1139.1 146.3L1139.8 146.3L1140.5 146.3L1141.2 146.3L1141.9 146.3L1142.5 146.3L1143.2 146.3L1143.9 146.3L1144.6 146.3L1145.3 146.3L1145.9 146.3L1146.6 146.3L1147.3 146.3L1148 146.3L1148.7 146.3L1149.3 146.3L1150 146.3L1150.7 146.3L1151.4 146.3L1152.1 146.3L1152.7 146.3L1153.4 146.3L1154.1 146.3L1154.8 146.3L1155.5 146.3L1156.1 146.3L1156.8 146.3L1157.5 146.3L1158.2 146.3L1158.9 146.3L1159.5 146.3L1160.2 146.3L1160.9 146.3L1161.6 146.3L1162.3 146.3L1162.9 146.3L1163.6 146.3L1164.3 146.3L1165 146.3L1165.7 146.3L1166.3 146.3L1167 146.3L1167.7 146.3L1168.4 146.3L1169.1 146.3L1169.8 146.3L1170.4 146.3L1171.1 146.3L1171.8 146.3L1172.5 146.3L1173.2 146.3L1173.8 146.3L1174.5 146.3L1175.2 146.3L1175.9 146.3L1176.6 146.3L1177.2 146.3L1177.9 146.3L1178.6 146.3L1179.3 146.3L1180 146.3L1180.6 146.3L1181.3 146.3L1182 146.3L1182.7 146.3L1183.4 146.3L1184 146.3L1184.7 146.3L1185.4 146.3L1186.1 146.3L1186.8 146.3L1187.4 146.3L1188.1 146.3L1188.8 146.3L1189.5 146.3L1190.2 146.3L1190.8 146.3L1191.5 146.3L1192.2 146.3L1192.9 146.3L1193.6 146.3L1194.2 146.3L1194.9 146.3L1195.6 146.3L1196.3 146.3L1197 146.3L1197.6 146.3L1198.3 146.3L1199 146.3L1199.7 146.3L1200.4 146.3L1201.1 146.3L1201.7 146.3L1202.4 146.3L1203.1 146.3L1203.8 146.3L1204.5 146.3L1205.1 146.3L1205.8 146.3L1206.5 146.3L1207.2 146.3L1207.9 146.3L1208.5 146.3L1209.2 146.3L1209.9 146.3L1210.6 146.3L1211.3 146.3L1211.9 146.3L1212.6 146.3L1213.3 146.3L1214 146.3L1214.7 146.3L1215.3 146.3L1216 146.3L1216.7 146.3L1217.4 146.3L1218.1 146.3L1218.7 146.3L1219.4 146.3L1220.1 146.3L1220.8 146.3L1221.5 146.3L1222.1 146.3L1222.8 146.3L1223.5 146.3L1224.2 146.3L1224.9 146.3L1225.5 146.3L1226.2 146.3L1226.9 146.3L1227.6 146.3L1228.3 146.3L1228.9 146.3L1229.6 146.3L1230.3 146.3L1231 146.3L1231.7 146.3L1232.4 146.3L1233 146.3L1233.7 146.3L1234.4 146.3L1235.1 146.3L1235.8 146.3L1236.4 146.3L1237.1 146.3L1237.8 146.3L1238.5 146.3L1239.2 146.3L1239.8 146.3L1240.5 146.3L1241.2 146.3L1241.9 146.3L1242.6 146.3L1243.2 146.3L1243.9 146.3L1244.6 146.3L1245.3 146.3L1246 146.3L1246.6 146.3L1247.3 146.3L1248 146.3L1248.7 146.3L1249.4 146.3L1250 146.3L1250.7 146.3L1251.4 146.3L1252.1 146.3L1252.8 146.3L1253.4 146.3L1254.1 146.3L1254.8 146.3L1255.5 146.3L1256.2 146.3L1256.8 146.3L1257.5 146.3L1258.2 146.3L1258.9 146.3L1259.6 146.3L1260.2 146.3L1260.9 146.3L1261.6 146.3L1262.3 146.3L1263 146.3L1263.7 146.3L1264.3 146.3L1265 146.3L1265.7 146.3L1266.4 146.3L1267.1 146.3L1267.7 146.3L1268.4 146.3L1269.1 146.3L1269.8 146.3L1270.5 146.3L1271.1 146.3L1271.8 146.3L1272.5 146.3L1273.2 146.3L1273.9 146.3L1274.5 146.3L1275.2 146.3L1275.9 146.3L1276.6 146.3L1277.3 146.3L1277.9 146.3L1278.6 146.3L1279.3 146.3L1280 146.3L1280.7 146.3L1281.3 146.3L1282 146.3L1282.7 146.3L1283.4 146.3L1284.1 146.3L1284.7 146.3L1285.4 146.3L1286.1 146.3L1286.8 146.3L1287.5 146.3L1288.1 146.3L1288.8 146.3L1289.5 146.3L1290.2 146.3L1290.9 146.3L1291.5 146.3L1292.2 146.3L1292.9 146.3L1293.6 146.3L1294.3 146.3L1295 146.3L1295.6 146.3L1296.3 146.3L1297 146.3L1297.7 146.3L1298.4 146.3L1299 146.3L1299.7 146.3L1300.4 146.3L1301.1 146.3L1301.8 146.3L1302.4 146.3L1303.1 146.3L1303.8 146.3L1304.5 146.3L1305.2 146.3L1305.8 146.3L1306.5 146.3L1307.2 146.3" fill="none" stroke="#000000" stroke-width="3.8" stroke-linejoin="round" stroke-linecap="round"/>
<path d="M819.4 393.5L819.6 378.2L819.8 362.8L820 347.5L820.2 332.2L820.4 316.9L820.6 301.5L820.8 286.2L821 270.9L821 269.2L821.2 254.4L821.4 237.8L821.6 221.2L821.8 204.6L822 188.4L822 187.4L822.2 185L822.4 182.7L822.6 180.5L822.8 178.4L823 176.5L823.2 174.7L823.4 173.1L823.6 171.6L823.8 170.5L823.8 170.4L824 169.3L824.2 168.4L824.4 167.7L824.6 167.2L824.8 166.8L825 166.7L825.2 166.6L825.4 166.8L825.6 167.1L825.8 167.3L825.8 167.5L826 168.1L826.2 168.8L826.4 169.7L826.6 170.7L826.8 171.7L827 172.9L827.2 174.2L827.4 175.5L827.6 176.3L827.6 176.9L827.8 178.4L828 179.9L828.2 181.5L828.5 183.1L828.7 184.8L828.9 186.5L829.1 188.2L829.3 189.9L829.5 191.6L829.7 193.3L829.7 193.5L829.9 195L830.1 196.7L830.3 198.4L830.5 200.1L830.7 201.8L830.9 203.4L831.1 205.1L831.3 206.7L831.5 208.4L831.7 210L831.9 211.5L832.1 213.1L832.3 214.7L832.5 216.2L832.7 217.7L832.9 219.2L833.1 220.6L833.3 222L833.5 223.4L833.7 224.8L833.9 226.2L834 226.9L834.1 227.5L834.3 228.8L834.5 230L834.7 231.3L834.9 232.5L835.1 233.7L835.3 234.8L835.5 235.9L835.7 237L835.9 238.1L836.1 239.1L836.3 240.1L836.5 241L836.7 242L836.9 242.9L837.1 243.7L837.3 244.6L837.5 245.4L837.7 246.1L837.9 246.8L838.1 247.5L838.3 248.2L838.4 248.5L838.5 248.8L838.7 249.4L838.9 250L839.1 250.5L839.3 251L839.5 251.5L839.7 251.9L839.9 252.4L840.1 252.7L840.3 253.1L840.5 253.4L840.7 253.7L840.9 254L841.1 254.2L841.3 254.5L841.5 254.7L841.7 254.9L841.9 255L842.1 255.1L842.3 255.3L842.5 255.3L842.7 255.4L842.8 255.4L842.9 255.5L843.1 255.5L843.3 255.5L843.5 255.5L843.7 255.5L843.9 255.4L844.1 255.4L844.3 255.3L844.5 255.2L844.7 255.1L844.9 255L845.1 254.8L845.3 254.7L845.5 254.5L845.7 254.3L845.9 254.2L846.1 254L846.3 253.7L846.5 253.5L846.7 253.3L846.9 253.1L847.1 252.8L847.3 252.5L847.5 252.3L847.8 252L848 251.7L848.2 251.4L848.4 251.1L848.6 250.8L848.8 250.5L849 250.2L849.1 250L849.2 249.9L849.4 249.6L849.6 249.2L849.8 248.9L850 248.6L850.2 248.2L850.4 247.9L850.6 247.5L850.8 247.1L851 246.8L851.2 246.4L851.4 246.1L851.6 245.7L851.8 245.3L852 244.9L852.2 244.6L852.4 244.2L852.6 243.8L852.8 243.4L853 243L853.2 242.6L853.4 242.2L853.6 241.9L853.8 241.5L854 241.1L854.2 240.7L854.4 240.3L854.6 239.9L854.8 239.5L855 239.1L855.2 238.7L855.4 238.3L855.6 237.9L855.8 237.5L856 237.1L856.2 236.7L856.4 236.3L856.6 235.9L856.8 235.6L857 235.2L857.2 234.8L857.4 234.4L857.6 234L857.8 233.6L858 233.2L858.2 232.8L858.4 232.5L858.5 232.2L858.6 232.1L858.8 231.7L859 231.3L859.2 231L859.4 230.6L859.6 230.2L859.8 229.8L860 229.5L860.2 229.1L860.4 228.8L860.6 228.4L860.8 228L861 227.7L861.2 227.3L861.4 227L861.6 226.6L861.8 226.3L862 225.9L862.2 225.6L862.4 225.2L862.6 224.9L862.8 224.5L863 224.2L863.2 223.9L863.4 223.5L863.6 223.2L863.8 222.9L864 222.5L864.2 222.2L864.4 221.9L864.6 221.5L864.8 221.2L865 220.9L865.2 220.6L865.4 220.2L865.6 219.9L865.8 219.6L866 219.3L866.2 219L866.4 218.7L866.6 218.3L866.8 218L867 217.7L867.3 217.4L867.5 217.1L867.7 216.8L867.8 216.5L867.9 216.5L868.1 216.2L868.3 215.9L868.5 215.6L868.7 215.3L868.9 215L869.1 214.7L869.3 214.4L869.5 214.1L869.7 213.8L869.9 213.5L870.1 213.2L870.3 212.9L870.5 212.7L870.7 212.4L870.9 212.1L871.1 211.8L871.3 211.5L871.5 211.3L871.7 211L871.9 210.7L872.1 210.4L872.3 210.1L872.5 209.9L872.7 209.6L872.9 209.3L873.1 209.1L873.3 208.8L873.5 208.5L873.7 208.3L873.9 208L874.1 207.7L874.3 207.5L874.5 207.2L874.7 207L874.9 206.7L875.1 206.5L875.3 206.2L875.5 205.9L875.7 205.7L875.9 205.4L876.1 205.2L876.3 205L876.5 204.7L876.7 204.5L876.9 204.2L877.1 204L877.3 203.7L877.4 203.6L877.5 203.5L877.7 203.3L877.9 203L878.1 202.8L878.3 202.6L878.5 202.3L878.7 202.1L878.9 201.9L879.1 201.6L879.3 201.4L879.5 201.2L879.7 201L879.9 200.7L880.1 200.5L880.3 200.3L880.5 200.1L880.7 199.9L880.9 199.6L881.1 199.4L881.3 199.2L881.5 199L881.7 198.8L881.9 198.6L882.1 198.4L882.3 198.2L882.5 197.9L882.7 197.7L882.9 197.5L883.1 197.3L883.3 197.1L883.5 196.9L883.7 196.7L883.9 196.5L884.1 196.3L884.3 196.2L884.5 196L884.7 195.8L884.9 195.6L885.1 195.4L885.3 195.2L885.5 195L885.7 194.8L885.9 194.6L886.1 194.5L886.3 194.3L886.5 194.1L886.8 193.9L886.9 193.8L887 193.7L887.2 193.6L887.4 193.4L887.6 193.2L887.8 193L888 192.9L888.2 192.7L888.4 192.5L888.6 192.4L888.8 192.2L889 192L889.2 191.9L889.4 191.7L889.6 191.5L889.8 191.4L890 191.2L890.2 191.1L890.4 190.9L890.6 190.7L890.8 190.6L891 190.4L891.2 190.3L891.4 190.1L891.6 190L891.8 189.8L892 189.7L892.2 189.5L892.4 189.4L892.6 189.2L892.8 189.1L893 189L893.2 188.8L893.4 188.7L893.6 188.5L893.8 188.4L894 188.2L894.2 188.1L894.4 188L894.6 187.8L894.8 187.7L895 187.6L895.2 187.4L895.4 187.3L895.6 187.2L895.8 187L896 186.9L896.2 186.8L896.4 186.7L896.6 186.5L896.8 186.4L897 186.3L897.2 186.2L897.4 186L897.6 185.9L897.8 185.8L898 185.7L898.2 185.6L898.4 185.4L898.6 185.3L898.8 185.2L899 185.1L899.2 185L899.4 184.9L899.6 184.7L900.3 184.4L901 184L901.7 183.6L902.3 183.3L903 182.9L903.7 182.6L904.4 182.3L905.1 181.9L905.7 181.6L905.8 181.6L906.4 181.3L907.1 181L907.8 180.7L908.5 180.4L909.1 180.2L909.8 179.9L910.5 179.6L911.2 179.4L911.9 179.1L912.5 178.9L913.2 178.6L913.9 178.4L914.6 178.2L915.3 177.9L915.9 177.7L916.6 177.5L917.3 177.3L918 177.1L918.7 176.9L919.3 176.7L920 176.5L920 176.5L920.7 176.4L921.4 176.2L922.1 176L922.8 175.9L923.4 175.7L924.1 175.5L924.8 175.4L925.5 175.2L926.2 175.1L926.8 175L927.5 174.8L928.2 174.7L928.9 174.6L929.6 174.5L930.2 174.4L930.9 174.2L931.6 174.1L932.3 174L933 173.9L933.6 173.8L934.3 173.7L935 173.6L935.7 173.5L936.4 173.4L937 173.4L937.7 173.3L938.4 173.2L939.1 173.1L939.8 173L940.4 173L940.4 173L941.1 172.9L941.8 172.8L942.5 172.7L943.2 172.7L943.8 172.6L944.5 172.5L945.2 172.5L945.9 172.4L946.6 172.4L947.2 172.3L947.9 172.2L948.6 172.2L949.3 172.1L950 172.1L950.6 172L951.3 172L952 171.9L952.7 171.9L953.4 171.8L954.1 171.8L954.7 171.8L955.4 171.7L956.1 171.7L956.8 171.6L957.5 171.6L958.1 171.6L958.8 171.5L959.5 171.5L959.9 171.5L960.2 171.5L960.9 171.4L961.5 171.4L962.2 171.4L962.9 171.3L963.6 171.3L964.3 171.3L964.9 171.2L965.6 171.2L966.3 171.2L967 171.2L967.7 171.1L968.3 171.1L969 171.1L969.7 171.1L970.4 171.1L971.1 171L971.7 171L972.4 171L973.1 171L973.8 171L974.5 171L975.1 170.9L975.8 170.9L976.5 170.9L977.2 170.9L977.9 170.9L978.5 170.9L979.2 170.9L979.9 170.9L980.6 170.9L981.3 170.8L981.9 170.8L982.6 170.8L983.3 170.8L984 170.8L984.7 170.8L985.4 170.8L986 170.8L986.7 170.8L987.4 170.8L988.1 170.8L988.8 170.8L989.4 170.8L990.1 170.8L990.8 170.8L991.5 170.8L992.2 170.8L992.8 170.8L993.5 170.8L994.2 170.8L994.9 170.8L995.6 170.8L996.2 170.8L996.9 170.8L997.6 170.8L998.3 170.8L999 170.8L999.6 170.8L1000 170.8L1000.3 170.8L1001 170.8L1001.7 170.8L1002.4 170.8L1003 170.8L1003.7 170.8L1004.4 170.8L1005.1 170.8L1005.8 170.8L1006.4 170.8L1007.1 170.8L1007.8 170.8L1008.5 170.8L1009.2 170.9L1009.8 170.9L1010.5 170.9L1011.2 170.9L1011.9 170.9L1012.6 170.9L1013.3 170.9L1013.9 170.9L1014.6 170.9L1015.3 170.9L1016 170.9L1016.7 170.9L1017.3 170.9L1018 171L1018.7 171L1019.4 171L1020.1 171L1020.7 171L1021.4 171L1022.1 171L1022.8 171L1023.5 171L1024.1 171L1024.8 171L1025.5 171.1L1026.2 171.1L1026.9 171.1L1027.5 171.1L1028.2 171.1L1028.9 171.1L1029.6 171.1L1030.3 171.1L1030.9 171.1L1031.6 171.2L1032.3 171.2L1033 171.2L1033.7 171.2L1034.3 171.2L1035 171.2L1035.7 171.2L1036.4 171.2L1037.1 171.2L1037.7 171.3L1038.4 171.3L1039.1 171.3L1039.8 171.3L1040.5 171.3L1041.1 171.3L1041.8 171.3L1042.5 171.3L1043.2 171.3L1043.9 171.4L1044.6 171.4L1045.2 171.4L1045.9 171.4L1046.6 171.4L1047.3 171.4L1048 171.4L1048.6 171.4L1049.3 171.5L1050 171.5L1050.7 171.5L1051.4 171.5L1052 171.5L1052.7 171.5L1053.4 171.5L1054.1 171.5L1054.8 171.5L1055.4 171.6L1056.1 171.6L1056.8 171.6L1057.5 171.6L1058.2 171.6L1058.8 171.6L1059.5 171.6L1060.2 171.6L1060.9 171.7L1061.6 171.7L1062.2 171.7L1062.9 171.7L1063.6 171.7L1064.3 171.7L1065 171.7L1065.6 171.7L1066.3 171.7L1067 171.8L1067.7 171.8L1068.4 171.8L1069 171.8L1069.7 171.8L1070.4 171.8L1071.1 171.8L1071.8 171.8L1072.4 171.8L1073.1 171.8L1073.8 171.9L1074.5 171.9L1075.2 171.9L1075.9 171.9L1076.5 171.9L1077.2 171.9L1077.9 171.9L1078.6 171.9L1079.3 171.9L1079.9 171.9L1079.9 171.9L1080.6 172L1081.3 172L1082 172L1082.7 172L1083.3 172L1084 172L1084.7 172L1085.4 172L1086.1 172L1086.7 172L1087.4 172L1088.1 172L1088.8 172.1L1089.5 172.1L1090.1 172.1L1090.8 172.1L1091.5 172.1L1092.2 172.1L1092.9 172.1L1093.5 172.1L1094.2 172.1L1094.9 172.1L1095.6 172.1L1096.3 172.1L1096.9 172.1L1097.6 172.2L1098.3 172.2L1099 172.2L1099.7 172.2L1100.3 172.2L1101 172.2L1101.7 172.2L1102.4 172.2L1103.1 172.2L1103.7 172.2L1104.4 172.2L1105.1 172.2L1105.8 172.2L1106.5 172.2L1107.2 172.2L1107.8 172.2L1108.5 172.3L1109.2 172.3L1109.9 172.3L1110.6 172.3L1111.2 172.3L1111.9 172.3L1112.6 172.3L1113.3 172.3L1114 172.3L1114.6 172.3L1115.3 172.3L1116 172.3L1116.7 172.3L1117.4 172.3L1118 172.3L1118.7 172.3L1119.4 172.4L1120.1 172.4L1120.8 172.4L1121.4 172.4L1122.1 172.4L1122.8 172.4L1123.5 172.4L1124.2 172.4L1124.8 172.4L1125.5 172.4L1126.2 172.4L1126.9 172.4L1127.6 172.4L1128.2 172.4L1128.9 172.4L1129.6 172.4L1130.3 172.4L1131 172.4L1131.6 172.5L1132.3 172.5L1133 172.5L1133.7 172.5L1134.4 172.5L1135 172.5L1135.7 172.5L1136.4 172.5L1137.1 172.5L1137.8 172.5L1138.5 172.5L1139.1 172.5L1139.8 172.5L1140.5 172.5L1141.2 172.5L1141.9 172.5L1142.5 172.5L1143.2 172.6L1143.9 172.6L1144.6 172.6L1145.3 172.6L1145.9 172.6L1146.6 172.6L1147.3 172.6L1148 172.6L1148.7 172.6L1149.3 172.6L1150 172.6L1150.7 172.6L1151.4 172.6L1152.1 172.6L1152.7 172.6L1153.4 172.6L1154.1 172.7L1154.8 172.7L1155.5 172.7L1156.1 172.7L1156.8 172.7L1157.5 172.7L1158.2 172.7L1158.9 172.7L1159.5 172.7L1160.2 172.7L1160.9 172.7L1161.6 172.7L1162.3 172.7L1162.9 172.7L1163.6 172.7L1164.3 172.8L1165 172.8L1165.7 172.8L1166.3 172.8L1167 172.8L1167.7 172.8L1168.4 172.8L1169.1 172.8L1169.8 172.8L1170.4 172.8L1171.1 172.8L1171.8 172.8L1172.5 172.8L1173.2 172.9L1173.8 172.9L1174.5 172.9L1175.2 172.9L1175.9 172.9L1176.6 172.9L1176.8 172.9L1177.2 172.9L1177.9 172.9L1178.6 172.9L1179.3 172.9L1180 172.9L1180.6 172.9L1181.3 173L1182 173L1182.7 173L1183.4 173L1184 173L1184.7 173L1185.4 173L1186.1 173L1186.8 173L1187.4 173L1188.1 173L1188.8 173.1L1189.5 173.1L1190.2 173.1L1190.8 173.1L1191.5 173.1L1192.2 173.1L1192.9 173.1L1193.6 173.1L1194.2 173.1L1194.9 173.1L1195.6 173.2L1196.3 173.2L1197 173.2L1197.6 173.2L1198.3 173.2L1199 173.2L1199.7 173.2L1200.4 173.2L1201.1 173.2L1201.7 173.3L1202.4 173.3L1203.1 173.3L1203.8 173.3L1204.5 173.3L1205.1 173.3L1205.8 173.3L1206.5 173.3L1207.2 173.3L1207.9 173.3L1208.5 173.4L1209.2 173.4L1209.9 173.4L1210.6 173.4L1211.3 173.4L1211.9 173.4L1212.6 173.4L1213.3 173.4L1214 173.5L1214.7 173.5L1215.3 173.5L1216 173.5L1216.7 173.5L1217.4 173.5L1218.1 173.5L1218.7 173.5L1219.4 173.5L1220.1 173.6L1220.8 173.6L1221.5 173.6L1222.1 173.6L1222.8 173.6L1223.5 173.6L1224.2 173.6L1224.9 173.6L1225.5 173.7L1226.2 173.7L1226.9 173.7L1227.6 173.7L1228.3 173.7L1228.9 173.7L1229.6 173.7L1230.3 173.7L1231 173.7L1231.7 173.8L1232.4 173.8L1233 173.8L1233.7 173.8L1234.4 173.8L1235.1 173.8L1235.8 173.8L1236.4 173.8L1237.1 173.9L1237.8 173.9L1238.5 173.9L1239.2 173.9L1239.8 173.9L1240.5 173.9L1241.2 173.9L1241.9 173.9L1242.6 174L1243.2 174L1243.9 174L1244.6 174L1245.3 174L1246 174L1246.6 174L1247.3 174.1L1248 174.1L1248.7 174.1L1249.4 174.1L1250 174.1L1250.7 174.1L1251.4 174.1L1252.1 174.1L1252.8 174.2L1253.4 174.2L1254.1 174.2L1254.8 174.2L1255.5 174.2L1256.2 174.2L1256.8 174.2L1257.5 174.2L1258.2 174.3L1258.9 174.3L1259.6 174.3L1260.2 174.3L1260.9 174.3L1261.6 174.3L1262.3 174.3L1263 174.4L1263.7 174.4L1264.3 174.4L1265 174.4L1265.7 174.4L1266.4 174.4L1267.1 174.4L1267.7 174.4L1268.4 174.5L1269.1 174.5L1269.8 174.5L1270.5 174.5L1271.1 174.5L1271.8 174.5L1272.5 174.5L1273.2 174.6L1273.9 174.6L1274.5 174.6L1275.2 174.6L1275.9 174.6L1276.6 174.6L1277.3 174.6L1277.9 174.6L1278.6 174.7L1279.3 174.7L1280 174.7L1280.7 174.7L1281.3 174.7L1282 174.7L1282.7 174.7L1283.4 174.8L1284.1 174.8L1284.7 174.8L1285.4 174.8L1286.1 174.8L1286.8 174.8L1287.5 174.8L1288.1 174.8L1288.8 174.9L1289.5 174.9L1290.2 174.9L1290.9 174.9L1291.5 174.9L1292.2 174.9L1292.9 174.9L1293.6 175L1294.3 175L1295 175L1295.6 175L1296.3 175L1297 175L1297.7 175L1298.4 175L1299 175.1L1299.7 175.1L1300.4 175.1L1301.1 175.1L1301.8 175.1L1302.4 175.1L1303.1 175.1L1303.8 175.2L1304.5 175.2L1305.2 175.2L1305.8 175.2L1306.5 175.2L1307.2 175.2" fill="none" stroke="#ad3340" stroke-width="3.8" stroke-linejoin="round" stroke-linecap="round"/>
<path d="M819.4 393.5L819.6 380.7L819.8 368L820 355.2L820.2 342.4L820.4 329.6L820.6 316.9L820.8 304.1L821 291.3L821.2 278.5L821.4 269.2L821.4 266.7L821.6 262.4L821.8 258.4L822 254.5L822.2 250.9L822.4 247.6L822.6 244.5L822.8 241.7L823 239.6L823 239.3L823.2 237.1L823.4 235.2L823.6 233.7L823.8 232.3L824 231.2L824.2 230.4L824.4 229.7L824.6 229.3L824.8 229L825 228.9L825.2 229L825.4 229.3L825.6 229.6L825.6 229.7L825.8 230.2L826 230.9L826.2 231.7L826.4 232.5L826.6 233.5L826.8 234.6L827 235.8L827.2 237L827.4 238.3L827.6 239.6L827.8 241L827.9 241.3L828 242.5L828.2 243.9L828.5 245.4L828.7 247L828.9 248.5L829.1 250.1L829.3 251.6L829.5 253.2L829.7 254.8L829.9 256.3L830.1 257.9L830.2 258.7L830.3 259.4L830.5 261L830.7 262.5L830.9 264L831.1 265.5L831.3 266.9L831.5 268.4L831.7 269.8L831.9 271.2L832.1 272.6L832.3 273.9L832.5 275.2L832.7 276.5L832.9 277.8L833.1 279L833.3 280.2L833.5 281.4L833.7 282.5L833.9 283.6L834.1 284.7L834.1 284.7L834.3 285.7L834.5 286.7L834.7 287.7L834.9 288.6L835.1 289.5L835.3 290.4L835.5 291.2L835.7 292.1L835.9 292.8L836.1 293.6L836.3 294.3L836.5 294.9L836.7 295.6L836.9 296.2L837.1 296.8L837.3 297.3L837.5 297.8L837.7 298.3L837.9 298.7L838.1 299.2L838.3 299.6L838.5 299.9L838.7 300.2L838.9 300.5L839.1 300.8L839.3 301L839.5 301.2L839.7 301.4L839.9 301.6L839.9 301.6L840.1 301.7L840.3 301.8L840.5 301.8L840.7 301.9L840.9 301.9L841.1 301.9L841.3 301.8L841.5 301.8L841.7 301.7L841.9 301.5L842.1 301.4L842.3 301.2L842.5 301L842.7 300.8L842.9 300.6L843.1 300.4L843.3 300.1L843.5 299.8L843.7 299.5L843.9 299.1L844.1 298.8L844.2 298.7L844.3 298.4L844.5 298L844.7 297.6L844.9 297.2L845.1 296.8L845.3 296.4L845.5 295.9L845.7 295.4L845.9 295L846.1 294.5L846.3 294L846.5 293.5L846.7 292.9L846.9 292.4L847.1 291.9L847.3 291.4L847.5 290.8L847.8 290.3L848 289.8L848.2 289.2L848.4 288.7L848.6 288.1L848.8 287.6L849 287L849.2 286.5L849.4 286L849.6 285.4L849.8 284.9L850 284.3L850.2 283.8L850.4 283.3L850.6 282.8L850.8 282.3L851 281.8L851 281.6L851.2 281.3L851.4 280.8L851.6 280.3L851.8 279.8L852 279.3L852.2 278.9L852.4 278.4L852.6 277.9L852.8 277.5L853 277.1L853.2 276.6L853.4 276.2L853.6 275.8L853.8 275.3L854 274.9L854.2 274.5L854.4 274.1L854.6 273.7L854.8 273.3L855 272.9L855.2 272.5L855.4 272.1L855.6 271.7L855.8 271.3L856 270.9L856.2 270.5L856.4 270.1L856.6 269.7L856.8 269.3L857 269L857.2 268.6L857.4 268.2L857.6 267.8L857.8 267.5L858 267.1L858.2 266.7L858.4 266.3L858.5 266.1L858.6 266L858.8 265.6L859 265.2L859.2 264.9L859.4 264.5L859.6 264.1L859.8 263.8L860 263.4L860.2 263L860.4 262.7L860.6 262.3L860.8 261.9L861 261.6L861.2 261.2L861.4 260.8L861.6 260.5L861.8 260.1L862 259.8L862.2 259.4L862.4 259.1L862.6 258.7L862.8 258.3L863 258L863.2 257.6L863.4 257.3L863.6 256.9L863.8 256.6L864 256.2L864.2 255.9L864.4 255.5L864.6 255.2L864.8 254.8L865 254.5L865.2 254.2L865.4 253.8L865.6 253.5L865.8 253.1L866 252.8L866.2 252.5L866.4 252.1L866.6 251.8L866.8 251.5L867 251.1L867.3 250.8L867.5 250.5L867.7 250.1L867.8 249.9L867.9 249.8L868.1 249.5L868.3 249.2L868.5 248.8L868.7 248.5L868.9 248.2L869.1 247.9L869.3 247.6L869.5 247.2L869.7 246.9L869.9 246.6L870.1 246.3L870.3 246L870.5 245.7L870.7 245.4L870.9 245.1L871.1 244.8L871.3 244.5L871.5 244.2L871.7 243.9L871.9 243.6L872.1 243.3L872.3 243L872.5 242.7L872.7 242.4L872.9 242.1L873.1 241.8L873.3 241.5L873.5 241.2L873.7 240.9L873.9 240.6L874.1 240.4L874.3 240.1L874.5 239.8L874.7 239.5L874.9 239.2L875.1 239L875.3 238.7L875.5 238.4L875.7 238.1L875.9 237.8L876.1 237.6L876.3 237.3L876.5 237L876.7 236.8L876.9 236.5L877.1 236.2L877.3 236L877.4 235.8L877.5 235.7L877.7 235.4L877.9 235.2L878.1 234.9L878.3 234.7L878.5 234.4L878.7 234.2L878.9 233.9L879.1 233.6L879.3 233.4L879.5 233.1L879.7 232.9L879.9 232.7L880.1 232.4L880.3 232.2L880.5 231.9L880.7 231.7L880.9 231.4L881.1 231.2L881.3 231L881.5 230.7L881.7 230.5L881.9 230.2L882.1 230L882.3 229.8L882.5 229.5L882.7 229.3L882.9 229.1L883.1 228.9L883.3 228.6L883.5 228.4L883.7 228.2L883.9 228L884.1 227.7L884.3 227.5L884.5 227.3L884.7 227.1L884.9 226.9L885.1 226.7L885.3 226.4L885.5 226.2L885.7 226L885.9 225.8L886.1 225.6L886.3 225.4L886.5 225.2L886.8 225L886.9 224.8L887 224.8L887.2 224.6L887.4 224.4L887.6 224.2L887.8 224L888 223.8L888.2 223.6L888.4 223.4L888.6 223.2L888.8 223L889 222.8L889.2 222.6L889.4 222.5L889.6 222.3L889.8 222.1L890 221.9L890.2 221.7L890.4 221.5L890.6 221.3L890.8 221.2L891 221L891.2 220.8L891.4 220.6L891.6 220.5L891.8 220.3L892 220.1L892.2 219.9L892.4 219.8L892.6 219.6L892.8 219.4L893 219.3L893.2 219.1L893.4 218.9L893.6 218.8L893.8 218.6L894 218.5L894.2 218.3L894.4 218.1L894.6 218L894.8 217.8L895 217.7L895.2 217.5L895.4 217.4L895.6 217.2L895.8 217.1L896 216.9L896.2 216.8L896.4 216.6L896.6 216.5L896.8 216.3L897 216.2L897.2 216L897.4 215.9L897.6 215.7L897.8 215.6L898 215.5L898.2 215.3L898.4 215.2L898.6 215.1L898.8 214.9L899 214.8L899.2 214.7L899.4 214.5L899.6 214.4L900.3 214L901 213.5L901.7 213.1L902.3 212.7L903 212.3L903.7 212L904.4 211.6L905.1 211.2L905.7 210.9L905.8 210.8L906.4 210.5L907.1 210.2L907.8 209.9L908.5 209.6L909.1 209.3L909.8 209L910.5 208.8L911.2 208.5L911.9 208.2L912.5 208L913.2 207.7L913.9 207.5L914.6 207.3L915.3 207L915.9 206.8L916.6 206.6L917.3 206.4L918 206.2L918.7 206L919.3 205.8L920 205.7L920 205.7L920.7 205.5L921.4 205.3L922.1 205.2L922.8 205L923.4 204.9L924.1 204.7L924.8 204.6L925.5 204.4L926.2 204.3L926.8 204.2L927.5 204L928.2 203.9L928.9 203.8L929.6 203.7L929.9 203.6L930.2 203.6L930.9 203.5L931.6 203.4L932.3 203.3L933 203.2L933.6 203.1L934.3 203L935 202.9L935.7 202.8L936.4 202.7L937 202.6L937.7 202.6L938.4 202.5L939.1 202.4L939.8 202.4L940.4 202.3L941.1 202.2L941.8 202.2L942.5 202.1L943.2 202.1L943.8 202L944.5 202L945.2 201.9L945.9 201.9L946.6 201.8L947.2 201.8L947.9 201.8L948.6 201.7L949.3 201.7L950 201.6L950.6 201.6L951.3 201.6L952 201.5L952.7 201.5L953.4 201.5L954.1 201.5L954.7 201.4L955.4 201.4L956.1 201.4L956.8 201.4L957.5 201.3L958.1 201.3L958.8 201.3L959.5 201.3L959.9 201.3L960.2 201.3L960.9 201.2L961.5 201.2L962.2 201.2L962.9 201.2L963.6 201.2L964.3 201.2L964.9 201.1L965.6 201.1L966.3 201.1L967 201.1L967.7 201.1L968.3 201.1L969 201.1L969.7 201.1L970.4 201L971.1 201L971.7 201L972.4 201L973.1 201L973.8 201L974.5 201L975.1 201L975.8 201L976.5 201L977.2 201L977.9 201L978.5 201L979.2 201L979.9 201L980.6 201L981.3 201L981.9 201L982.6 200.9L983.3 200.9L984 200.9L984.7 200.9L985.4 200.9L986 200.9L986.7 200.9L987.4 200.9L988.1 200.9L988.8 200.9L989.4 200.9L990.1 200.9L990.8 200.9L991.5 201L992.2 201L992.8 201L993.5 201L994.2 201L994.9 201L995.6 201L996.2 201L996.9 201L997.6 201L998.3 201L999 201L999.6 201L1000 201L1000.3 201L1001 201L1001.7 201L1002.4 201L1003 201L1003.7 201L1004.4 201L1005.1 201L1005.8 201L1006.4 201L1007.1 201L1007.8 201.1L1008.5 201.1L1009.2 201.1L1009.8 201.1L1010.5 201.1L1011.2 201.1L1011.9 201.1L1012.6 201.1L1013.3 201.1L1013.9 201.1L1014.6 201.1L1015.3 201.1L1016 201.1L1016.7 201.1L1017.3 201.1L1018 201.2L1018.7 201.2L1019.4 201.2L1020.1 201.2L1020.7 201.2L1021.4 201.2L1022.1 201.2L1022.8 201.2L1023.5 201.2L1024.1 201.2L1024.8 201.2L1025.5 201.2L1026.2 201.2L1026.9 201.3L1027.5 201.3L1028.2 201.3L1028.9 201.3L1029.6 201.3L1030.3 201.3L1030.9 201.3L1031.6 201.3L1032.3 201.3L1033 201.3L1033.7 201.3L1034.3 201.4L1035 201.4L1035.7 201.4L1036.4 201.4L1037.1 201.4L1037.7 201.4L1038.4 201.4L1039.1 201.4L1039.8 201.4L1040.5 201.4L1041.1 201.4L1041.8 201.5L1042.5 201.5L1043.2 201.5L1043.9 201.5L1044.6 201.5L1045.2 201.5L1045.9 201.5L1046.6 201.5L1047.3 201.5L1048 201.5L1048.6 201.5L1049.3 201.6L1050 201.6L1050.7 201.6L1051.4 201.6L1052 201.6L1052.7 201.6L1053.4 201.6L1054.1 201.6L1054.8 201.6L1055.4 201.6L1056.1 201.7L1056.8 201.7L1057.5 201.7L1058.2 201.7L1058.8 201.7L1059.5 201.7L1060.2 201.7L1060.9 201.7L1061.6 201.7L1062.2 201.7L1062.9 201.8L1063.6 201.8L1064.3 201.8L1065 201.8L1065.6 201.8L1066.3 201.8L1067 201.8L1067.7 201.8L1068.4 201.8L1069 201.8L1069.7 201.8L1070.4 201.9L1071.1 201.9L1071.8 201.9L1072.4 201.9L1073.1 201.9L1073.8 201.9L1074.5 201.9L1075.2 201.9L1075.9 201.9L1076.5 201.9L1077.2 202L1077.9 202L1078.6 202L1079.3 202L1079.9 202L1079.9 202L1080.6 202L1081.3 202L1082 202L1082.7 202L1083.3 202L1084 202L1084.7 202L1085.4 202.1L1086.1 202.1L1086.7 202.1L1087.4 202.1L1088.1 202.1L1088.8 202.1L1089.5 202.1L1090.1 202.1L1090.8 202.1L1091.5 202.1L1092.2 202.1L1092.9 202.2L1093.5 202.2L1094.2 202.2L1094.9 202.2L1095.6 202.2L1096.3 202.2L1096.9 202.2L1097.6 202.2L1098.3 202.2L1099 202.2L1099.7 202.2L1100.3 202.2L1101 202.3L1101.7 202.3L1102.4 202.3L1103.1 202.3L1103.7 202.3L1104.4 202.3L1105.1 202.3L1105.8 202.3L1106.5 202.3L1107.2 202.3L1107.8 202.3L1108.5 202.3L1109.2 202.4L1109.9 202.4L1110.6 202.4L1111.2 202.4L1111.9 202.4L1112.6 202.4L1113.3 202.4L1114 202.4L1114.6 202.4L1115.3 202.4L1116 202.4L1116.7 202.4L1117.4 202.5L1118 202.5L1118.7 202.5L1119.4 202.5L1120.1 202.5L1120.8 202.5L1121.4 202.5L1122.1 202.5L1122.8 202.5L1123.5 202.5L1124.2 202.5L1124.8 202.6L1125.5 202.6L1126.2 202.6L1126.9 202.6L1127.6 202.6L1128.2 202.6L1128.9 202.6L1129.6 202.6L1130.3 202.6L1131 202.6L1131.6 202.6L1132.3 202.7L1133 202.7L1133.7 202.7L1134.4 202.7L1135 202.7L1135.7 202.7L1136.4 202.7L1137.1 202.7L1137.8 202.7L1138.5 202.7L1139.1 202.7L1139.8 202.8L1140.5 202.8L1141.2 202.8L1141.9 202.8L1142.5 202.8L1143.2 202.8L1143.9 202.8L1144.6 202.8L1145.3 202.8L1145.9 202.8L1146.6 202.9L1147.3 202.9L1148 202.9L1148.7 202.9L1149.3 202.9L1150 202.9L1150.7 202.9L1151.4 202.9L1152.1 202.9L1152.7 202.9L1153.4 203L1154.1 203L1154.8 203L1155.5 203L1156.1 203L1156.8 203L1157.5 203L1158.2 203L1158.9 203L1159.5 203L1160.2 203.1L1160.9 203.1L1161.6 203.1L1162.3 203.1L1162.9 203.1L1163.6 203.1L1164.3 203.1L1165 203.1L1165.7 203.1L1166.3 203.2L1167 203.2L1167.7 203.2L1168.4 203.2L1169.1 203.2L1169.8 203.2L1170.4 203.2L1171.1 203.2L1171.8 203.3L1172.5 203.3L1173.2 203.3L1173.8 203.3L1174.5 203.3L1175.2 203.3L1175.9 203.3L1176.6 203.3L1176.8 203.3L1177.2 203.4L1177.9 203.4L1178.6 203.4L1179.3 203.4L1180 203.4L1180.6 203.4L1181.3 203.4L1182 203.4L1182.7 203.5L1183.4 203.5L1184 203.5L1184.7 203.5L1185.4 203.5L1186.1 203.5L1186.8 203.5L1187.4 203.6L1188.1 203.6L1188.8 203.6L1189.5 203.6L1190.2 203.6L1190.8 203.6L1191.5 203.6L1192.2 203.6L1192.9 203.7L1193.6 203.7L1194.2 203.7L1194.9 203.7L1195.6 203.7L1196.3 203.7L1197 203.7L1197.6 203.8L1198.3 203.8L1199 203.8L1199.7 203.8L1200.4 203.8L1201.1 203.8L1201.7 203.8L1202.4 203.9L1203.1 203.9L1203.8 203.9L1204.5 203.9L1205.1 203.9L1205.8 203.9L1206.5 204L1207.2 204L1207.9 204L1208.5 204L1209.2 204L1209.9 204L1210.6 204L1211.3 204.1L1211.9 204.1L1212.6 204.1L1213.3 204.1L1214 204.1L1214.7 204.1L1215.3 204.2L1216 204.2L1216.7 204.2L1217.4 204.2L1218.1 204.2L1218.7 204.2L1219.4 204.2L1220.1 204.3L1220.8 204.3L1221.5 204.3L1222.1 204.3L1222.8 204.3L1223.5 204.3L1224.2 204.4L1224.9 204.4L1225.5 204.4L1226.2 204.4L1226.9 204.4L1227.6 204.4L1228.3 204.5L1228.9 204.5L1229.6 204.5L1230.3 204.5L1231 204.5L1231.7 204.5L1232.4 204.5L1233 204.6L1233.7 204.6L1234.4 204.6L1235.1 204.6L1235.8 204.6L1236.4 204.6L1237.1 204.7L1237.8 204.7L1238.5 204.7L1239.2 204.7L1239.8 204.7L1240.5 204.7L1241.2 204.8L1241.9 204.8L1242.6 204.8L1243.2 204.8L1243.9 204.8L1244.6 204.8L1245.3 204.9L1246 204.9L1246.6 204.9L1247.3 204.9L1248 204.9L1248.7 204.9L1249.4 205L1250 205L1250.7 205L1251.4 205L1252.1 205L1252.8 205L1253.4 205.1L1254.1 205.1L1254.8 205.1L1255.5 205.1L1256.2 205.1L1256.8 205.2L1257.5 205.2L1258.2 205.2L1258.9 205.2L1259.6 205.2L1260.2 205.2L1260.9 205.3L1261.6 205.3L1262.3 205.3L1263 205.3L1263.7 205.3L1264.3 205.3L1265 205.4L1265.7 205.4L1266.4 205.4L1267.1 205.4L1267.7 205.4L1268.4 205.4L1269.1 205.5L1269.8 205.5L1270.5 205.5L1271.1 205.5L1271.8 205.5L1272.5 205.5L1273.2 205.6L1273.9 205.6L1274.5 205.6L1275.2 205.6L1275.9 205.6L1276.6 205.6L1277.3 205.7L1277.9 205.7L1278.6 205.7L1279.3 205.7L1280 205.7L1280.7 205.8L1281.3 205.8L1282 205.8L1282.7 205.8L1283.4 205.8L1284.1 205.8L1284.7 205.9L1285.4 205.9L1286.1 205.9L1286.8 205.9L1287.5 205.9L1288.1 205.9L1288.8 206L1289.5 206L1290.2 206L1290.9 206L1291.5 206L1292.2 206L1292.9 206.1L1293.6 206.1L1294.3 206.1L1295 206.1L1295.6 206.1L1296.3 206.1L1297 206.2L1297.7 206.2L1298.4 206.2L1299 206.2L1299.7 206.2L1300.4 206.2L1301.1 206.3L1301.8 206.3L1302.4 206.3L1303.1 206.3L1303.8 206.3L1304.5 206.4L1305.2 206.4L1305.8 206.4L1306.5 206.4L1307.2 206.4" fill="none" stroke="#5a934c" stroke-width="3.8" stroke-linejoin="round" stroke-linecap="round"/>
<path d="M819.1 393.5L819.3 370.4L819.5 347.3L819.7 324.2L819.9 301.2L820.1 281.6L820.1 280.4L820.3 277.7L820.5 275.3L820.7 273L820.9 271L821.1 269.3L821.3 267.8L821.4 267.4L821.5 266.6L821.7 265.7L821.9 265L822.1 264.5L822.3 264.1L822.5 263.8L822.7 263.7L822.9 263.6L823.1 263.6L823.3 263.6L823.5 263.7L823.7 263.8L823.8 263.9L823.9 264L824.1 264.1L824.3 264.3L824.5 264.5L824.7 264.7L824.9 264.9L825.1 265.2L825.3 265.6L825.5 266L825.7 266.4L825.9 266.9L826.1 267.5L826.3 267.8L826.3 268.1L826.5 268.8L826.7 269.5L827 270.3L827.2 271.1L827.4 272L827.6 273L827.8 274L828 275L828.2 276.1L828.4 277.3L828.6 278.4L828.7 279.2L828.8 279.7L829 280.9L829.2 282.2L829.4 283.5L829.6 284.8L829.8 286.2L830 287.5L830.2 288.9L830.4 290.2L830.6 291.6L830.8 293L831 294.3L831.2 295.6L831.4 296.9L831.5 297.4L831.6 298.2L831.8 299.5L832 300.7L832.2 301.9L832.4 303.1L832.6 304.3L832.8 305.4L833 306.5L833.2 307.6L833.4 308.7L833.6 309.7L833.8 310.8L834 311.7L834.2 312.7L834.4 313.6L834.4 313.6L834.6 314.6L834.8 315.4L835 316.3L835.2 317.1L835.4 318L835.6 318.8L835.8 319.5L836 320.3L836.2 321L836.4 321.8L836.6 322.5L836.8 323.2L837 323.8L837.2 324.5L837.4 325.2L837.6 325.8L837.9 326.4L838 326.9L838.1 327.1L838.3 327.7L838.5 328.3L838.7 328.8L838.9 329.4L839.1 330L839.3 330.5L839.5 331.1L839.7 331.6L839.9 332.1L840.1 332.6L840.3 333.1L840.5 333.6L840.7 334.1L840.9 334.5L841.1 335L841.3 335.4L841.5 335.8L841.7 336.2L841.7 336.3L841.9 336.6L842.1 337L842.3 337.3L842.5 337.7L842.7 338L842.9 338.3L843.1 338.6L843.3 338.9L843.5 339.2L843.7 339.4L843.9 339.6L844.1 339.9L844.3 340.1L844.5 340.2L844.7 340.4L844.9 340.6L845.1 340.7L845.3 340.8L845.5 340.9L845.7 341L845.8 341L845.9 341.1L846.1 341.1L846.3 341.2L846.5 341.2L846.7 341.2L846.9 341.2L847.1 341.2L847.3 341.1L847.5 341.1L847.7 341L847.9 340.9L848.1 340.9L848.3 340.8L848.5 340.6L848.8 340.5L849 340.4L849.2 340.2L849.4 340.1L849.6 339.9L849.8 339.8L850 339.6L850.2 339.4L850.4 339.2L850.6 339L850.7 338.9L850.8 338.8L851 338.6L851.2 338.4L851.4 338.1L851.6 337.9L851.8 337.7L852 337.4L852.2 337.2L852.4 336.9L852.6 336.7L852.8 336.4L853 336.1L853.2 335.9L853.4 335.6L853.6 335.3L853.8 335L854 334.7L854.2 334.4L854.4 334.1L854.6 333.8L854.8 333.5L855 333.2L855.2 332.9L855.4 332.6L855.6 332.3L855.8 332L856 331.7L856.2 331.4L856.4 331.1L856.6 330.8L856.8 330.4L857 330.1L857.2 329.8L857.4 329.5L857.6 329.2L857.8 328.9L858 328.5L858.2 328.2L858.4 327.9L858.5 327.8L858.6 327.6L858.8 327.3L859 327L859.2 326.6L859.4 326.3L859.7 326L859.9 325.7L860.1 325.4L860.3 325.1L860.5 324.8L860.7 324.4L860.9 324.1L861.1 323.8L861.3 323.5L861.5 323.2L861.7 322.9L861.9 322.6L862.1 322.3L862.3 322L862.5 321.7L862.7 321.3L862.9 321L863.1 320.7L863.3 320.4L863.5 320.1L863.7 319.8L863.9 319.5L864.1 319.2L864.3 318.9L864.5 318.6L864.7 318.3L864.9 318L865.1 317.7L865.3 317.4L865.5 317.1L865.7 316.8L865.9 316.5L866.1 316.2L866.3 315.9L866.5 315.6L866.7 315.3L866.9 315L867.1 314.7L867.3 314.4L867.5 314.2L867.7 313.9L867.8 313.7L867.9 313.6L868.1 313.3L868.3 313L868.5 312.7L868.7 312.4L868.9 312.1L869.1 311.8L869.3 311.5L869.5 311.3L869.7 311L869.9 310.7L870.1 310.4L870.3 310.1L870.6 309.8L870.8 309.6L871 309.3L871.2 309L871.4 308.7L871.6 308.4L871.8 308.2L872 307.9L872.2 307.6L872.4 307.3L872.6 307L872.8 306.8L873 306.5L873.2 306.2L873.4 305.9L873.6 305.7L873.8 305.4L874 305.1L874.2 304.9L874.4 304.6L874.6 304.3L874.8 304L875 303.8L875.2 303.5L875.4 303.2L875.6 303L875.8 302.7L876 302.4L876.2 302.2L876.4 301.9L876.6 301.6L876.8 301.4L877 301.1L877.2 300.9L877.4 300.6L877.4 300.6L877.6 300.3L877.8 300.1L878 299.8L878.2 299.6L878.4 299.3L878.6 299L878.8 298.8L879 298.5L879.2 298.3L879.4 298L879.6 297.8L879.8 297.5L880 297.3L880.2 297L880.4 296.8L880.6 296.5L880.8 296.3L881 296L881.2 295.8L881.5 295.5L881.7 295.3L881.9 295L882.1 294.8L882.3 294.5L882.5 294.3L882.7 294.1L882.9 293.8L883.1 293.6L883.3 293.3L883.5 293.1L883.7 292.8L883.9 292.6L884.1 292.4L884.3 292.1L884.5 291.9L884.7 291.7L884.9 291.4L885.1 291.2L885.3 290.9L885.5 290.7L885.7 290.5L885.9 290.2L886.1 290L886.3 289.8L886.5 289.5L886.7 289.3L886.9 289.1L887.1 288.9L887.3 288.6L887.5 288.4L887.7 288.2L887.9 287.9L888.1 287.7L888.3 287.5L888.5 287.3L888.7 287L888.9 286.8L889.1 286.6L889.3 286.4L889.5 286.1L889.7 285.9L889.9 285.7L890.1 285.5L890.3 285.3L890.5 285L890.7 284.8L890.9 284.6L891.1 284.4L891.3 284.2L891.5 283.9L891.7 283.7L891.9 283.5L892.1 283.3L892.4 283.1L892.6 282.9L892.8 282.6L893 282.4L893.2 282.2L893.4 282L893.6 281.8L893.8 281.6L894 281.4L894.2 281.2L894.4 281L894.6 280.7L894.8 280.5L895 280.3L895.2 280.1L895.4 279.9L895.6 279.7L895.8 279.5L896 279.3L896.2 279.1L896.4 278.9L896.6 278.7L896.8 278.5L897 278.3L897.2 278.1L897.4 277.9L897.6 277.7L897.8 277.5L898 277.3L898.2 277.1L898.4 276.9L898.6 276.7L898.8 276.5L899 276.3L899.2 276.1L899.4 275.9L899.6 275.7L900.3 275L901 274.4L901.7 273.7L902.3 273.1L903 272.4L903.7 271.8L904.4 271.2L905.1 270.5L905.7 269.9L905.8 269.9L906.4 269.3L907.1 268.7L907.8 268.1L908.5 267.5L909.1 266.9L909.8 266.3L910.5 265.7L911.2 265.2L911.9 264.6L912.5 264L913.2 263.5L913.9 262.9L914.6 262.4L915.3 261.8L915.9 261.3L916.6 260.7L917.3 260.2L918 259.7L918.7 259.2L919.3 258.7L920 258.2L920.7 257.7L921.4 257.2L922.1 256.7L922.8 256.2L923.4 255.7L924.1 255.2L924.8 254.8L925.5 254.3L926.2 253.9L926.8 253.4L927.5 253L928.2 252.5L928.9 252.1L929.6 251.7L929.9 251.5L930.2 251.3L930.9 250.9L931.6 250.5L932.3 250.1L933 249.7L933.6 249.3L934.3 248.9L935 248.5L935.7 248.2L936.4 247.8L937 247.4L937.7 247.1L938.4 246.7L939.1 246.4L939.8 246.1L940.4 245.7L941.1 245.4L941.8 245.1L942.5 244.8L943.2 244.5L943.8 244.2L944.5 243.9L945.2 243.6L945.9 243.3L946.6 243L947.2 242.7L947.9 242.4L948.6 242.2L949.3 241.9L950 241.6L950.6 241.4L951.3 241.1L952 240.9L952.7 240.6L953.4 240.4L954.1 240.1L954.7 239.9L955.4 239.7L956.1 239.5L956.8 239.2L957.5 239L958.1 238.8L958.8 238.6L959.5 238.4L959.9 238.3L960.2 238.2L960.9 238L961.5 237.8L962.2 237.6L962.9 237.4L963.6 237.2L964.3 237.1L964.9 236.9L965.6 236.7L966.3 236.5L967 236.4L967.7 236.2L968.3 236.1L969 235.9L969.7 235.8L970.4 235.6L971.1 235.5L971.7 235.3L972.4 235.2L973.1 235L973.8 234.9L974.5 234.8L975.1 234.6L975.8 234.5L976.5 234.4L977.2 234.3L977.9 234.1L978.5 234L979.2 233.9L979.9 233.8L980.6 233.7L981.3 233.6L981.9 233.5L982.6 233.4L983.3 233.3L984 233.2L984.7 233.1L985.4 233L986 232.9L986.7 232.8L987.4 232.7L988.1 232.6L988.8 232.5L989.4 232.5L990.1 232.4L990.8 232.3L991.5 232.2L992.2 232.1L992.8 232.1L993.5 232L994.2 231.9L994.9 231.8L995.6 231.8L996.2 231.7L996.9 231.6L997.6 231.6L998.3 231.5L999 231.5L999.6 231.4L1000 231.4L1000.3 231.3L1001 231.3L1001.7 231.2L1002.4 231.2L1003 231.1L1003.7 231.1L1004.4 231L1005.1 230.9L1005.8 230.9L1006.4 230.8L1007.1 230.8L1007.8 230.8L1008.5 230.7L1009.2 230.7L1009.8 230.6L1010.5 230.6L1011.2 230.5L1011.9 230.5L1012.6 230.4L1013.3 230.4L1013.9 230.4L1014.6 230.3L1015.3 230.3L1016 230.3L1016.7 230.2L1017.3 230.2L1018 230.2L1018.7 230.1L1019.4 230.1L1020.1 230.1L1020.7 230L1021.4 230L1022.1 230L1022.8 229.9L1023.5 229.9L1024.1 229.9L1024.8 229.9L1025.5 229.8L1026.2 229.8L1026.9 229.8L1027.5 229.8L1028.2 229.8L1028.9 229.7L1029.6 229.7L1030.3 229.7L1030.9 229.7L1031.6 229.7L1032.3 229.6L1033 229.6L1033.7 229.6L1034.3 229.6L1035 229.6L1035.7 229.6L1036.4 229.5L1037.1 229.5L1037.7 229.5L1038.4 229.5L1039.1 229.5L1039.8 229.5L1040 229.5L1040.5 229.5L1041.1 229.5L1041.8 229.4L1042.5 229.4L1043.2 229.4L1043.9 229.4L1044.6 229.4L1045.2 229.4L1045.9 229.4L1046.6 229.4L1047.3 229.4L1048 229.4L1048.6 229.4L1049.3 229.4L1050 229.4L1050.7 229.4L1051.4 229.3L1052 229.3L1052.7 229.3L1053.4 229.3L1054.1 229.3L1054.8 229.3L1055.4 229.3L1056.1 229.3L1056.8 229.3L1057.5 229.3L1058.2 229.3L1058.8 229.3L1059.5 229.3L1060.2 229.3L1060.9 229.3L1061.6 229.3L1062.2 229.3L1062.9 229.3L1063.6 229.3L1064.3 229.3L1065 229.3L1065.6 229.3L1066.3 229.3L1067 229.3L1067.7 229.3L1068.4 229.3L1069 229.3L1069.7 229.4L1070.4 229.4L1071.1 229.4L1071.8 229.4L1072.4 229.4L1073.1 229.4L1073.8 229.4L1074.5 229.4L1075.2 229.4L1075.9 229.4L1076.5 229.4L1077.2 229.4L1077.9 229.4L1078.6 229.4L1079.3 229.4L1079.9 229.4L1079.9 229.4L1080.6 229.4L1081.3 229.4L1082 229.4L1082.7 229.5L1083.3 229.5L1084 229.5L1084.7 229.5L1085.4 229.5L1086.1 229.5L1086.7 229.5L1087.4 229.5L1088.1 229.5L1088.8 229.5L1089.5 229.5L1090.1 229.5L1090.8 229.5L1091.5 229.5L1092.2 229.6L1092.9 229.6L1093.5 229.6L1094.2 229.6L1094.9 229.6L1095.6 229.6L1096.3 229.6L1096.9 229.6L1097.6 229.6L1098.3 229.6L1099 229.6L1099.7 229.6L1100.3 229.7L1101 229.7L1101.7 229.7L1102.4 229.7L1103.1 229.7L1103.7 229.7L1104.4 229.7L1105.1 229.7L1105.8 229.7L1106.5 229.7L1107.2 229.8L1107.8 229.8L1108.5 229.8L1109.2 229.8L1109.9 229.8L1110.6 229.8L1111.2 229.8L1111.9 229.8L1112.6 229.8L1113.3 229.9L1114 229.9L1114.6 229.9L1115.3 229.9L1116 229.9L1116.7 229.9L1117.4 229.9L1118 229.9L1118.7 229.9L1119.4 230L1120.1 230L1120.8 230L1121.4 230L1122.1 230L1122.8 230L1123.5 230L1124.2 230L1124.8 230.1L1125.5 230.1L1126.2 230.1L1126.9 230.1L1127.6 230.1L1128.2 230.1L1128.9 230.1L1129.6 230.2L1130.3 230.2L1131 230.2L1131.6 230.2L1132.3 230.2L1133 230.2L1133.7 230.2L1134.4 230.3L1135 230.3L1135.7 230.3L1136.4 230.3L1137.1 230.3L1137.8 230.3L1138.5 230.3L1139.1 230.4L1139.8 230.4L1140.5 230.4L1141.2 230.4L1141.9 230.4L1142.5 230.4L1143.2 230.4L1143.9 230.5L1144.6 230.5L1145.3 230.5L1145.9 230.5L1146.6 230.5L1147.3 230.5L1148 230.6L1148.7 230.6L1149.3 230.6L1150 230.6L1150.7 230.6L1151.4 230.6L1152.1 230.7L1152.7 230.7L1153.4 230.7L1154.1 230.7L1154.8 230.7L1155.5 230.7L1156.1 230.8L1156.8 230.8L1157.5 230.8L1158.2 230.8L1158.9 230.8L1159.5 230.8L1160.2 230.9L1160.9 230.9L1161.6 230.9L1162.3 230.9L1162.9 230.9L1163.6 230.9L1164.3 231L1165 231L1165.7 231L1166.3 231L1167 231L1167.7 231L1168.4 231.1L1169.1 231.1L1169.8 231.1L1170.4 231.1L1171.1 231.1L1171.8 231.2L1172.5 231.2L1173.2 231.2L1173.8 231.2L1174.5 231.2L1175.2 231.3L1175.9 231.3L1176.6 231.3L1176.8 231.3L1177.2 231.3L1177.9 231.3L1178.6 231.4L1179.3 231.4L1180 231.4L1180.6 231.4L1181.3 231.4L1182 231.4L1182.7 231.5L1183.4 231.5L1184 231.5L1184.7 231.5L1185.4 231.5L1186.1 231.6L1186.8 231.6L1187.4 231.6L1188.1 231.6L1188.8 231.6L1189.5 231.7L1190.2 231.7L1190.8 231.7L1191.5 231.7L1192.2 231.8L1192.9 231.8L1193.6 231.8L1194.2 231.8L1194.9 231.8L1195.6 231.9L1196.3 231.9L1197 231.9L1197.6 231.9L1198.3 231.9L1199 232L1199.7 232L1200.4 232L1201.1 232L1201.7 232L1202.4 232.1L1203.1 232.1L1203.8 232.1L1204.5 232.1L1205.1 232.2L1205.8 232.2L1206.5 232.2L1207.2 232.2L1207.9 232.2L1208.5 232.3L1209.2 232.3L1209.9 232.3L1210.6 232.3L1211.3 232.3L1211.9 232.4L1212.6 232.4L1213.3 232.4L1214 232.4L1214.7 232.5L1215.3 232.5L1216 232.5L1216.7 232.5L1217.4 232.5L1218.1 232.6L1218.7 232.6L1219.4 232.6L1220.1 232.6L1220.8 232.7L1221.5 232.7L1222.1 232.7L1222.8 232.7L1223.5 232.8L1224.2 232.8L1224.9 232.8L1225.5 232.8L1226.2 232.8L1226.9 232.9L1227.6 232.9L1228.3 232.9L1228.9 232.9L1229.6 233L1230.3 233L1231 233L1231.7 233L1232.4 233L1233 233.1L1233.7 233.1L1234.4 233.1L1235.1 233.1L1235.8 233.2L1236.4 233.2L1237.1 233.2L1237.8 233.2L1238.5 233.3L1239.2 233.3L1239.8 233.3L1240.5 233.3L1241.2 233.3L1241.9 233.4L1242.6 233.4L1243.2 233.4L1243.9 233.4L1244.6 233.5L1245.3 233.5L1246 233.5L1246.6 233.5L1247.3 233.6L1248 233.6L1248.7 233.6L1249.4 233.6L1250 233.7L1250.7 233.7L1251.4 233.7L1252.1 233.7L1252.8 233.7L1253.4 233.8L1254.1 233.8L1254.8 233.8L1255.5 233.8L1256.2 233.9L1256.8 233.9L1257.5 233.9L1258.2 233.9L1258.9 234L1259.6 234L1260.2 234L1260.9 234L1261.6 234.1L1262.3 234.1L1263 234.1L1263.7 234.1L1264.3 234.1L1265 234.2L1265.7 234.2L1266.4 234.2L1267.1 234.2L1267.7 234.3L1268.4 234.3L1269.1 234.3L1269.8 234.3L1270.5 234.4L1271.1 234.4L1271.8 234.4L1272.5 234.4L1273.2 234.5L1273.9 234.5L1274.5 234.5L1275.2 234.5L1275.9 234.5L1276.6 234.6L1277.3 234.6L1277.9 234.6L1278.6 234.6L1279.3 234.7L1280 234.7L1280.7 234.7L1281.3 234.7L1282 234.8L1282.7 234.8L1283.4 234.8L1284.1 234.8L1284.7 234.9L1285.4 234.9L1286.1 234.9L1286.8 234.9L1287.5 234.9L1288.1 235L1288.8 235L1289.5 235L1290.2 235L1290.9 235.1L1291.5 235.1L1292.2 235.1L1292.9 235.1L1293.6 235.2L1294.3 235.2L1295 235.2L1295.6 235.2L1296.3 235.3L1297 235.3L1297.7 235.3L1298.4 235.3L1299 235.3L1299.7 235.4L1300.4 235.4L1301.1 235.4L1301.8 235.4L1302.4 235.5L1303.1 235.5L1303.8 235.5L1304.5 235.5L1305.2 235.6L1305.8 235.6L1306.5 235.6L1307.2 235.6" fill="none" stroke="#f39104" stroke-width="3.8" stroke-linejoin="round" stroke-linecap="round"/>
<path d="M1496 361.3L1496.2 361.3L1496.4 361.2L1496.6 361.2L1496.8 361.2L1497 361.2L1497.2 361.2L1497.4 361.1L1497.6 361.1L1497.8 361.1L1498 361.1L1498.3 361L1498.5 361L1498.7 361L1498.9 361L1499.1 361L1499.3 360.9L1499.5 360.9L1499.7 360.9L1499.9 360.9L1500.1 360.8L1500.3 360.8L1500.5 360.8L1500.7 360.8L1500.9 360.8L1501.1 360.7L1501.3 360.7L1501.5 360.7L1501.7 360.7L1501.9 360.6L1502.1 360.6L1502.3 360.6L1502.5 360.6L1502.8 360.6L1503 360.5L1503.2 360.5L1503.4 360.5L1503.6 360.5L1503.8 360.4L1504 360.4L1504.2 360.4L1504.4 360.4L1504.6 360.3L1504.8 360.3L1505 360.3L1505.2 360.3L1505.4 360.3L1505.6 360.2L1505.8 360.2L1506 360.2L1506.2 360.2L1506.4 360.1L1506.6 360.1L1506.8 360.1L1507.1 360.1L1507.3 360.1L1507.5 360L1507.7 360L1507.9 360L1508.1 360L1508.3 359.9L1508.5 359.9L1508.7 359.9L1508.9 359.9L1509.1 359.8L1509.3 359.8L1509.5 359.8L1509.7 359.8L1509.9 359.7L1510.1 359.7L1510.3 359.7L1510.5 359.7L1510.7 359.7L1510.9 359.6L1511.1 359.6L1511.4 359.6L1511.6 359.6L1511.8 359.5L1512 359.5L1512.2 359.5L1512.4 359.5L1512.6 359.4L1512.8 359.4L1513 359.4L1513.2 359.4L1513.4 359.4L1513.6 359.3L1513.8 359.3L1514 359.3L1514.2 359.3L1514.4 359.2L1514.6 359.2L1514.8 359.2L1515 359.2L1515.2 359.1L1515.4 359.1L1515.6 359.1L1515.9 359.1L1516.1 359L1516.3 359L1516.5 359L1516.7 359L1516.9 359L1517.1 358.9L1517.3 358.9L1517.5 358.9L1517.7 358.9L1517.9 358.8L1518.1 358.8L1518.3 358.8L1518.5 358.8L1518.7 358.7L1518.9 358.7L1519.1 358.7L1519.3 358.7L1519.5 358.6L1519.7 358.6L1519.9 358.6L1520.2 358.6L1520.4 358.5L1520.6 358.5L1520.8 358.5L1521 358.5L1521.2 358.4L1521.4 358.4L1521.6 358.4L1521.8 358.4L1522 358.3L1522.2 358.3L1522.4 358.3L1522.6 358.3L1522.8 358.3L1523 358.2L1523.2 358.2L1523.4 358.2L1523.6 358.2L1523.8 358.1L1524 358.1L1524.2 358.1L1524.5 358.1L1524.7 358L1524.9 358L1525.1 358L1525.3 358L1525.5 357.9L1525.7 357.9L1525.9 357.9L1526.1 357.9L1526.3 357.8L1526.5 357.8L1526.7 357.8L1526.9 357.8L1527.1 357.7L1527.3 357.7L1527.5 357.7L1527.7 357.7L1527.9 357.6L1528.1 357.6L1528.3 357.6L1528.5 357.6L1528.7 357.6L1528.7 357.5L1529 357.5L1529.2 357.5L1529.4 357.5L1529.6 357.4L1529.8 357.4L1530 357.4L1530.2 357.4L1530.4 357.3L1530.6 357.3L1530.8 357.3L1531 357.3L1531.2 357.2L1531.4 357.2L1531.6 357.2L1531.8 357.2L1532 357.1L1532.2 357.1L1532.4 357.1L1532.6 357.1L1532.8 357L1533 357L1533.3 357L1533.5 356.9L1533.7 356.9L1533.9 356.9L1534.1 356.9L1534.3 356.8L1534.5 356.8L1534.7 356.8L1534.9 356.8L1535.1 356.7L1535.3 356.7L1535.5 356.7L1535.7 356.6L1535.9 356.6L1536.1 356.6L1536.3 356.6L1536.5 356.5L1536.7 356.5L1536.9 356.5L1537.1 356.4L1537.3 356.4L1537.5 356.4L1537.8 356.4L1538 356.3L1538.2 356.3L1538.4 356.3L1538.6 356.3L1538.8 356.2L1539 356.2L1539.2 356.2L1539.4 356.1L1539.6 356.1L1539.8 356.1L1540 356.1L1540.2 356L1540.4 356L1540.6 356L1540.8 355.9L1541 355.9L1541.2 355.9L1541.4 355.9L1541.6 355.8L1541.8 355.8L1542.1 355.8L1542.3 355.7L1542.5 355.7L1542.7 355.7L1542.9 355.7L1543.1 355.6L1543.3 355.6L1543.5 355.6L1543.7 355.5L1543.9 355.5L1544.1 355.5L1544.3 355.5L1544.5 355.4L1544.7 355.4L1544.9 355.4L1545.1 355.4L1545.3 355.3L1545.5 355.3L1545.7 355.3L1545.9 355.2L1546.1 355.2L1546.4 355.2L1546.6 355.2L1546.8 355.1L1547 355.1L1547.2 355.1L1547.4 355.1L1547.6 355L1547.8 355L1548 355L1548.2 354.9L1548.4 354.9L1548.6 354.9L1548.8 354.9L1549 354.8L1549.2 354.8L1549.4 354.8L1549.6 354.8L1549.8 354.7L1550 354.7L1550.2 354.7L1550.4 354.7L1550.6 354.6L1550.9 354.6L1551.1 354.6L1551.3 354.6L1551.5 354.5L1551.7 354.5L1551.9 354.5L1552.1 354.5L1552.3 354.4L1552.5 354.4L1552.7 354.4L1552.9 354.4L1553.1 354.3L1553.3 354.3L1553.5 354.3L1553.7 354.3L1553.9 354.2L1554.1 354.2L1554.3 354.2L1554.5 354.2L1554.7 354.1L1554.9 354.1L1555.2 354.1L1555.4 354.1L1555.6 354.1L1555.8 354L1556 354L1556.2 354L1556.4 354L1556.6 354L1556.8 353.9L1557 353.9L1557.2 353.9L1557.4 353.9L1557.6 353.8L1557.8 353.8L1557.9 353.8L1558 353.8L1558.2 353.8L1558.4 353.8L1558.6 353.7L1558.8 353.7L1559 353.7L1559.2 353.7L1559.5 353.7L1559.7 353.6L1559.9 353.6L1560.1 353.6L1560.3 353.6L1560.5 353.6L1560.7 353.5L1560.9 353.5L1561.1 353.5L1561.3 353.5L1561.5 353.5L1561.7 353.4L1561.9 353.4L1562.1 353.4L1562.3 353.4L1562.5 353.4L1562.7 353.3L1562.9 353.3L1563.1 353.3L1563.3 353.3L1563.5 353.3L1563.7 353.2L1564 353.2L1564.2 353.2L1564.4 353.2L1564.6 353.2L1564.8 353.1L1565 353.1L1565.2 353.1L1565.4 353.1L1565.6 353.1L1565.8 353L1566 353L1566.2 353L1566.4 353L1566.6 353L1566.8 352.9L1567 352.9L1567.2 352.9L1567.4 352.9L1567.6 352.9L1567.8 352.8L1568 352.8L1568.3 352.8L1568.5 352.8L1568.7 352.8L1568.9 352.8L1569.1 352.7L1569.3 352.7L1569.5 352.7L1569.7 352.7L1569.9 352.7L1570.1 352.6L1570.3 352.6L1570.5 352.6L1570.7 352.6L1570.9 352.6L1571.1 352.5L1571.3 352.5L1571.5 352.5L1571.7 352.5L1571.9 352.5L1572.1 352.4L1572.3 352.4L1572.5 352.4L1572.8 352.4L1573 352.4L1573.2 352.3L1573.4 352.3L1573.6 352.3L1573.8 352.3L1574 352.3L1574.2 352.2L1574.4 352.2L1574.6 352.2L1574.8 352.2L1575 352.2L1575.2 352.2L1575.4 352.1L1575.6 352.1L1575.8 352.1L1576 352.1L1576.2 352.1L1576.4 352L1576.6 352L1576.8 352L1577.1 352L1577.3 352L1577.5 351.9L1577.7 351.9L1578.3 351.9L1579 351.8L1579.7 351.7L1580.4 351.7L1581.1 351.6L1581.8 351.6L1582.4 351.5L1583.1 351.4L1583.8 351.4L1584.5 351.3L1585.2 351.3L1585.8 351.2L1586.5 351.1L1587.2 351.1L1587.9 351L1588.6 351L1589.3 350.9L1589.9 350.9L1590.6 350.8L1591.3 350.7L1592 350.7L1592.7 350.6L1593.3 350.6L1594 350.5L1594.7 350.5L1595.4 350.4L1596.1 350.4L1596.8 350.3L1597.4 350.3L1598.1 350.2L1598.8 350.2L1599.5 350.1L1600.2 350.1L1600.8 350L1601.5 350L1602.2 349.9L1602.9 349.9L1603.6 349.8L1604.3 349.8L1604.9 349.7L1605.6 349.7L1606.3 349.7L1607 349.6L1607.7 349.6L1608.3 349.5L1609 349.5L1609.7 349.4L1610.4 349.4L1611.1 349.4L1611.8 349.3L1612.4 349.3L1613.1 349.2L1613.8 349.2L1614.5 349.2L1615.2 349.1L1615.8 349.1L1616.5 349.1L1617.2 349L1617.9 349L1618.6 349L1619.2 348.9L1619.9 348.9L1620.6 348.9L1621.3 348.9L1622 348.8L1622.7 348.8L1623.3 348.8L1624 348.7L1624.7 348.7L1625.4 348.7L1625.8 348.7L1626.1 348.7L1626.7 348.7L1627.4 348.6L1628.1 348.6L1628.8 348.6L1629.5 348.6L1630.2 348.5L1630.8 348.5L1631.5 348.5L1632.2 348.5L1632.9 348.4L1633.6 348.4L1634.2 348.4L1634.9 348.4L1635.6 348.4L1636.3 348.3L1637 348.3L1637.7 348.3L1638.3 348.3L1639 348.2L1639.7 348.2L1640.4 348.2L1641.1 348.2L1641.7 348.2L1642.4 348.1L1643.1 348.1L1643.8 348.1L1644.5 348.1L1645.2 348.1L1645.8 348L1646.5 348L1647.2 348L1647.9 348L1648.6 347.9L1649.2 347.9L1649.9 347.9L1650.6 347.9L1651.3 347.9L1652 347.8L1652.7 347.8L1653.3 347.8L1654 347.8L1654.7 347.8L1655.4 347.7L1656.1 347.7L1656.7 347.7L1657.4 347.7L1658.1 347.7L1658.8 347.6L1659.5 347.6L1660.2 347.6L1660.8 347.6L1661.5 347.6L1662.2 347.6L1662.9 347.5L1663.6 347.5L1664.2 347.5L1664.9 347.5L1665.6 347.5L1666.3 347.4L1667 347.4L1667.6 347.4L1668.3 347.4L1669 347.4L1669.7 347.4L1670.4 347.3L1671.1 347.3L1671.7 347.3L1672.4 347.3L1673.1 347.3L1673.8 347.2L1674.5 347.2L1675.1 347.2L1675.8 347.2L1676.5 347.2L1677.2 347.2L1677.9 347.1L1678.6 347.1L1679.2 347.1L1679.9 347.1L1680.6 347.1L1681.3 347.1L1682 347.1L1682.6 347L1683.3 347L1684 347L1684.7 347L1685.4 347L1686.1 347L1686.7 346.9L1687.4 346.9L1688.1 346.9L1688.8 346.9L1689.5 346.9L1690.1 346.9L1690.8 346.9L1691.5 346.9L1692.2 346.8L1692.9 346.8L1693.6 346.8L1694.2 346.8L1694.9 346.8L1695.6 346.8L1696.3 346.8L1697 346.8L1697.6 346.7L1698.3 346.7L1699 346.7L1699.7 346.7L1700.4 346.7L1701.1 346.7L1701.7 346.7L1702.4 346.7L1703.1 346.6L1703.8 346.6L1704.5 346.6L1705.1 346.6L1705.8 346.6L1706.5 346.6L1707.2 346.6L1707.9 346.6L1708.6 346.6L1709.2 346.6L1709.9 346.6L1710.6 346.5L1711.3 346.5L1712 346.5L1712.6 346.5L1713.3 346.5L1714 346.5L1714.7 346.5L1715.4 346.5L1716.1 346.5L1716.7 346.5L1717.4 346.5L1718.1 346.5L1718.8 346.5L1719.5 346.4L1720.1 346.4L1720.8 346.4L1721.5 346.4L1722.2 346.4L1722.9 346.4L1723.5 346.4L1724.2 346.4L1724.9 346.4L1725.6 346.4L1726.3 346.4L1727 346.4L1727.6 346.4L1728.3 346.4L1729 346.4L1729.7 346.4L1730.4 346.4L1731 346.4L1731.7 346.4L1732.4 346.4L1733.1 346.4L1733.8 346.4L1734.5 346.4L1735.1 346.4L1735.8 346.4L1736.5 346.4L1737.2 346.3L1737.9 346.3L1738.5 346.3L1739.2 346.3L1739.9 346.3L1740 346.3L1740.6 346.3L1741.3 346.3L1742 346.3L1742.6 346.3L1743.3 346.4L1744 346.4L1744.7 346.4L1745.4 346.4L1746 346.4L1746.7 346.4L1747.4 346.4L1748.1 346.4L1748.8 346.4L1749.5 346.4L1750.1 346.4L1750.8 346.4L1751.5 346.4L1752.2 346.4L1752.9 346.4L1753.5 346.4L1754.2 346.4L1754.9 346.4L1755.6 346.4L1756.3 346.4L1757 346.4L1757.6 346.4L1758.3 346.5L1759 346.5L1759.7 346.5L1760.4 346.5L1761 346.5L1761.7 346.5L1762.4 346.5L1763.1 346.5L1763.8 346.5L1764.5 346.5L1765.1 346.5L1765.8 346.5L1766.5 346.5L1767.2 346.6L1767.9 346.6L1768.5 346.6L1769.2 346.6L1769.9 346.6L1770.6 346.6L1771.3 346.6L1771.9 346.6L1772.6 346.6L1773.3 346.6L1774 346.6L1774.7 346.6L1775.4 346.7L1776 346.7L1776.7 346.7L1777.4 346.7L1778.1 346.7L1778.8 346.7L1779.4 346.7L1780.1 346.7L1780.8 346.7L1781.5 346.7L1782.2 346.7L1782.9 346.7L1783.5 346.7L1784.2 346.8L1784.9 346.8L1785.6 346.8L1786.3 346.8L1786.9 346.8L1787.6 346.8L1788.3 346.8L1789 346.8L1789.7 346.8L1790 346.8L1790.4 346.8L1791 346.8L1791.7 346.8L1792.4 346.8L1793.1 346.8L1793.8 346.8L1794.4 346.9L1795.1 346.9L1795.8 346.9L1796.5 346.9L1797.2 346.9L1797.9 346.9L1798.5 346.9L1799.2 346.9L1799.9 346.9L1800.6 346.9L1801.3 346.9L1801.9 346.9L1802.6 346.9L1803.3 346.9L1804 346.9L1804.7 346.9L1805.4 347L1806 347L1806.7 347L1807.4 347L1808.1 347L1808.8 347L1809.4 347L1810.1 347L1810.8 347L1811.5 347L1812.2 347L1812.9 347L1813.5 347L1814.2 347L1814.9 347L1815.6 347L1816.3 347.1L1816.9 347.1L1817.6 347.1L1818.3 347.1L1819 347.1L1819.7 347.1L1820.3 347.1L1821 347.1L1821.7 347.1L1822.4 347.1L1823.1 347.1L1823.8 347.1L1824.4 347.1L1825.1 347.1L1825.8 347.1L1826.5 347.1L1827.2 347.1L1827.8 347.2L1828.5 347.2L1829.2 347.2L1829.9 347.2L1830.6 347.2L1831.3 347.2L1831.9 347.2L1832.6 347.2L1833.3 347.2L1834 347.2L1834.7 347.2L1835.3 347.2L1836 347.2L1836.7 347.2L1837.4 347.2L1838.1 347.2L1838.8 347.3L1839.4 347.3L1840.1 347.3L1840.8 347.3L1841.5 347.3L1842.2 347.3L1842.8 347.3L1843.5 347.3L1844.2 347.3L1844.9 347.3L1845.6 347.3L1846.3 347.3L1846.9 347.3L1847.6 347.3L1848.3 347.3L1849 347.3L1849.7 347.3L1850.3 347.4L1851 347.4L1851.7 347.4L1852.4 347.4L1853.1 347.4L1853.8 347.4L1854.4 347.4L1855.1 347.4L1855.8 347.4L1856.5 347.4L1857.2 347.4L1857.8 347.4L1858.5 347.4L1859.2 347.4L1859.9 347.4L1860.6 347.4L1861.3 347.4L1861.9 347.5L1862.6 347.5L1863.3 347.5L1864 347.5L1864.7 347.5L1865.3 347.5L1866 347.5L1866.7 347.5L1867.4 347.5L1868.1 347.5L1868.7 347.5L1869.4 347.5L1870.1 347.5L1870.8 347.5L1871.5 347.5L1872.2 347.5L1872.8 347.5L1873.5 347.6L1874.2 347.6L1874.9 347.6L1875.6 347.6L1876.2 347.6L1876.9 347.6L1877.6 347.6L1878.3 347.6L1879 347.6L1879.7 347.6L1880.3 347.6L1881 347.6L1881.7 347.6L1882.4 347.6L1883.1 347.6L1883.7 347.6L1884.4 347.6L1885.1 347.7L1885.8 347.7L1886.5 347.7L1887.2 347.7L1887.8 347.7L1888.5 347.7L1889.2 347.7L1889.9 347.7L1890.6 347.7L1891.2 347.7L1891.9 347.7L1892.6 347.7L1893.3 347.7L1894 347.7L1894.7 347.7L1895.3 347.7L1896 347.7L1896.7 347.8L1897.4 347.8L1898.1 347.8L1898.7 347.8L1899.4 347.8L1900.1 347.8L1900.8 347.8L1901.5 347.8L1902.2 347.8L1902.8 347.8L1903.5 347.8L1904.2 347.8L1904.9 347.8L1905.6 347.8L1906.2 347.8L1906.9 347.8L1907.6 347.8L1908.3 347.9L1909 347.9L1909.7 347.9L1910.3 347.9L1911 347.9L1911.7 347.9L1912.4 347.9L1913.1 347.9L1913.7 347.9L1914.4 347.9L1915.1 347.9L1915.8 347.9L1916.5 347.9L1917.1 347.9L1917.8 347.9L1918.5 347.9L1919.2 347.9L1919.9 348L1920.6 348L1921.2 348L1921.9 348L1922.6 348L1923.3 348L1924 348L1924.6 348L1925.3 348L1926 348L1926.7 348L1927.4 348L1928.1 348L1928.7 348L1929.4 348L1930.1 348L1930.8 348L1931.5 348L1932.1 348.1L1932.8 348.1L1933.5 348.1L1934.2 348.1L1934.9 348.1L1935.6 348.1L1936.2 348.1L1936.9 348.1L1937.6 348.1L1938.3 348.1L1939 348.1L1939.6 348.1L1940.3 348.1L1941 348.1L1941.7 348.1L1942.4 348.1L1943.1 348.1L1943.7 348.2L1944.4 348.2L1945.1 348.2L1945.8 348.2L1946.5 348.2L1947.1 348.2L1947.8 348.2L1948.5 348.2L1949.2 348.2L1949.9 348.2L1950.6 348.2L1951.2 348.2L1951.9 348.2L1952.6 348.2L1953.3 348.2L1954 348.2L1954.6 348.2L1955.3 348.2L1956 348.3L1956.7 348.3L1957.4 348.3L1958.1 348.3L1958.7 348.3L1959.4 348.3L1960.1 348.3L1960.8 348.3L1961.5 348.3L1962.1 348.3L1962.8 348.3L1963.5 348.3L1964.2 348.3L1964.9 348.3L1965.5 348.3L1966.2 348.3L1966.9 348.3L1967.6 348.3L1968.3 348.4L1969 348.4L1969.6 348.4L1970.3 348.4L1971 348.4L1971.7 348.4L1972.4 348.4L1973 348.4L1973.7 348.4L1974.4 348.4L1975.1 348.4L1975.8 348.4L1976.5 348.4L1977.1 348.4L1977.8 348.4L1978.5 348.4L1979.2 348.4L1979.9 348.4L1980.5 348.5L1981.2 348.5L1981.9 348.5L1982.6 348.5L1983.3 348.5L1984 348.5L1984.6 348.5L1985.3 348.5L1986 348.5" fill="none" stroke="#000000" stroke-width="3.5" stroke-linejoin="round" stroke-linecap="round" stroke-dasharray="9.2 7.5"/>
<path d="M1500 182.5L1500.2 180.8L1500.4 179L1500.6 177.3L1500.8 175.6L1501 173.9L1501.2 172.2L1501.4 170.5L1501.6 168.8L1501.8 167L1501.9 165.3L1502.1 163.6L1502.3 161.9L1502.5 160.2L1502.7 158.5L1502.9 156.7L1503.1 155L1503.3 153.3L1503.5 151.6L1503.7 150.1L1503.7 149.7L1503.9 147.9L1504.1 146.1L1504.3 144.4L1504.5 142.7L1504.7 141L1504.9 139.4L1505.1 137.7L1505.3 136.1L1505.5 134.5L1505.6 133L1505.8 131.5L1506 130L1506.2 128.5L1506.4 127.1L1506.6 125.7L1506.8 124.3L1507 122.9L1507.2 121.6L1507.4 120.3L1507.6 119.1L1507.8 117.9L1508 116.7L1508.2 115.5L1508.4 114.4L1508.6 113.3L1508.8 112.2L1509 111.2L1509.2 110.2L1509.3 109.2L1509.5 108.3L1509.7 107.4L1509.9 106.5L1510.1 105.7L1510.3 104.9L1510.4 104.7L1510.5 104.1L1510.7 103.4L1510.9 102.6L1511.1 101.9L1511.3 101.3L1511.5 100.7L1511.7 100L1511.9 99.5L1512.1 98.9L1512.3 98.4L1512.5 97.9L1512.7 97.4L1512.8 96.9L1513 96.4L1513.2 96L1513.4 95.6L1513.6 95.2L1513.8 94.8L1514 94.4L1514.2 94L1514.4 93.7L1514.6 93.4L1514.8 93L1515 92.7L1515.2 92.4L1515.4 92.2L1515.6 91.9L1515.8 91.6L1516 91.4L1516.2 91.1L1516.4 90.9L1516.5 90.6L1516.7 90.4L1516.9 90.2L1517.1 90L1517.2 89.9L1517.3 89.8L1517.5 89.6L1517.7 89.4L1517.9 89.2L1518.1 89L1518.3 88.8L1518.5 88.6L1518.7 88.5L1518.9 88.3L1519.1 88.2L1519.3 88L1519.5 87.9L1519.7 87.7L1519.9 87.6L1520.1 87.4L1520.2 87.3L1520.4 87.2L1520.6 87.1L1520.8 86.9L1521 86.8L1521.2 86.7L1521.4 86.6L1521.6 86.5L1521.8 86.4L1522 86.4L1522.2 86.3L1522.4 86.2L1522.6 86.1L1522.8 86.1L1523 86L1523.2 85.9L1523.4 85.9L1523.6 85.8L1523.7 85.8L1523.9 85.7L1524.1 85.7L1524.3 85.7L1524.5 85.6L1524.7 85.6L1524.9 85.6L1525.1 85.6L1525.3 85.6L1525.5 85.5L1525.7 85.5L1525.9 85.5L1526.1 85.5L1526.3 85.6L1526.5 85.6L1526.7 85.6L1526.9 85.6L1527.1 85.6L1527.3 85.7L1527.4 85.7L1527.4 85.7L1527.6 85.7L1527.8 85.8L1528 85.8L1528.2 85.8L1528.4 85.9L1528.6 85.9L1528.8 86L1529 86.1L1529.2 86.1L1529.4 86.2L1529.6 86.3L1529.8 86.3L1530 86.4L1530 86.4L1530.2 86.5L1530.4 86.6L1530.6 86.7L1530.8 86.8L1531 86.9L1531.1 87L1531.3 87.1L1531.5 87.2L1531.7 87.3L1531.9 87.4L1532.1 87.5L1532.3 87.6L1532.5 87.7L1532.7 87.9L1532.9 88L1533.1 88.1L1533.3 88.3L1533.5 88.4L1533.7 88.5L1533.9 88.7L1534.1 88.8L1534.3 88.9L1534.5 89.1L1534.6 89.2L1534.8 89.4L1535 89.5L1535.2 89.7L1535.4 89.8L1535.6 90L1535.8 90.2L1536 90.3L1536.2 90.5L1536.4 90.7L1536.6 90.8L1536.8 91L1537 91.2L1537.2 91.4L1537.4 91.5L1537.6 91.7L1537.8 91.9L1538 92.1L1538.2 92.3L1538.3 92.4L1538.5 92.6L1538.7 92.8L1538.9 93L1539.1 93.2L1539.3 93.4L1539.5 93.6L1539.7 93.8L1539.9 94L1540.1 94.2L1540.3 94.4L1540.5 94.6L1540.7 94.8L1540.9 95L1541.1 95.2L1541.3 95.4L1541.5 95.6L1541.7 95.8L1541.9 96L1542 96.3L1542.2 96.5L1542.4 96.7L1542.6 96.9L1542.8 97.1L1543 97.3L1543.2 97.6L1543.4 97.8L1543.6 98L1543.8 98.2L1544 98.4L1544.2 98.7L1544.4 98.9L1544.6 99.1L1544.8 99.3L1545 99.6L1545.2 99.8L1545.4 100L1545.5 100.3L1545.7 100.5L1545.9 100.7L1546.1 101L1546.3 101.2L1546.5 101.4L1546.7 101.7L1546.9 101.9L1547.1 102.1L1547.3 102.4L1547.5 102.6L1547.7 102.8L1547.9 103.1L1547.9 103.1L1548.1 103.3L1548.3 103.6L1548.5 103.8L1548.7 104L1548.9 104.3L1549.1 104.5L1549.2 104.8L1549.4 105L1549.6 105.3L1549.8 105.5L1550 105.7L1550.2 106L1550.4 106.2L1550.6 106.5L1550.8 106.7L1551 107L1551.2 107.2L1551.4 107.5L1551.6 107.7L1551.8 108L1552 108.2L1552.2 108.4L1552.4 108.7L1552.6 108.9L1552.8 109.2L1552.9 109.4L1553.1 109.7L1553.3 109.9L1553.5 110.2L1553.7 110.4L1553.9 110.7L1554.1 111L1554.3 111.2L1554.5 111.5L1554.7 111.7L1554.9 112L1555.1 112.2L1555.3 112.5L1555.5 112.7L1555.7 113L1555.9 113.2L1556.1 113.5L1556.3 113.7L1556.4 114L1556.6 114.2L1556.8 114.5L1557 114.8L1557.2 115L1557.4 115.3L1557.6 115.5L1557.8 115.8L1558 116L1558.2 116.3L1558.4 116.5L1558.6 116.8L1558.8 117.1L1559 117.3L1559.2 117.6L1559.4 117.8L1559.6 118.1L1559.8 118.3L1560 118.6L1560.1 118.9L1560.3 119.1L1560.5 119.4L1560.7 119.6L1560.9 119.9L1561.1 120.1L1561.3 120.4L1561.5 120.7L1561.7 120.9L1561.9 121.2L1562.1 121.4L1562.3 121.7L1562.5 121.9L1562.7 122.2L1562.9 122.5L1563.1 122.7L1563.3 123L1563.5 123.2L1563.7 123.5L1563.8 123.7L1564 124L1564.2 124.3L1564.4 124.5L1564.6 124.8L1564.8 125L1565 125.3L1565.2 125.5L1565.4 125.8L1565.6 126.1L1565.8 126.3L1566 126.6L1566.1 126.7L1566.2 126.8L1566.4 127.1L1566.6 127.3L1566.8 127.6L1567 127.9L1567.2 128.1L1567.4 128.4L1567.5 128.6L1567.7 128.9L1567.9 129.1L1568.1 129.4L1568.3 129.7L1568.5 129.9L1568.7 130.2L1568.9 130.4L1569.1 130.7L1569.3 130.9L1569.5 131.2L1569.7 131.5L1569.9 131.7L1570.1 132L1570.3 132.2L1570.5 132.5L1570.7 132.7L1570.9 133L1571 133.2L1571.2 133.5L1571.4 133.7L1571.6 134L1571.8 134.3L1572 134.5L1572.2 134.8L1572.4 135L1572.6 135.3L1572.8 135.5L1573 135.8L1573.2 136L1573.4 136.3L1573.6 136.5L1573.8 136.8L1574 137.1L1574.2 137.3L1574.4 137.6L1574.6 137.8L1574.7 138.1L1574.9 138.3L1575.1 138.6L1575.3 138.8L1575.5 139.1L1575.7 139.3L1575.9 139.6L1576.1 139.8L1576.3 140.1L1576.5 140.3L1576.7 140.6L1576.9 140.8L1577.1 141.1L1577.3 141.3L1577.5 141.6L1577.7 141.8L1578.3 142.7L1579 143.6L1579.7 144.5L1580.4 145.4L1581.1 146.2L1581.8 147.1L1582.4 148L1583.1 148.8L1583.8 149.7L1584 150L1584.5 150.6L1585.2 151.4L1585.8 152.3L1586.5 153.1L1587.2 154L1587.9 154.9L1588.6 155.7L1589.3 156.6L1589.9 157.4L1590.6 158.3L1591.3 159.1L1592 159.9L1592.7 160.8L1593.3 161.6L1594 162.5L1594.7 163.3L1595.4 164.2L1596.1 165L1596.8 165.8L1597.4 166.7L1598.1 167.5L1598.8 168.3L1599.5 169.2L1600.2 170L1600.8 170.8L1601.5 171.7L1601.8 172L1602.2 172.5L1602.9 173.3L1603.6 174.1L1604.3 175L1604.9 175.8L1605.6 176.6L1606.3 177.4L1607 178.3L1607.7 179.1L1608.3 179.9L1609 180.7L1609.7 181.5L1610.4 182.3L1611.1 183.2L1611.8 184L1612.4 184.8L1613.1 185.6L1613.8 186.4L1614.5 187.2L1615.2 188L1615.8 188.8L1616.5 189.6L1617.2 190.4L1617.9 191.2L1618.6 192L1619.2 192.8L1619.9 193.5L1620 193.6L1620.6 194.3L1621.3 195.1L1622 195.9L1622.7 196.7L1623.3 197.4L1624 198.2L1624.7 199L1625.4 199.7L1626.1 200.5L1626.7 201.3L1627.4 202L1628.1 202.8L1628.8 203.5L1629.5 204.3L1630.2 205L1630.8 205.8L1631.5 206.5L1632.2 207.2L1632.9 208L1633.6 208.7L1634.2 209.4L1634.9 210.1L1635.6 210.9L1636.3 211.6L1637 212.3L1637.7 213L1637.9 213.3L1638.3 213.7L1639 214.4L1639.7 215.1L1640.4 215.8L1641.1 216.5L1641.7 217.2L1642.4 217.8L1643.1 218.5L1643.8 219.2L1644.5 219.8L1645.2 220.5L1645.8 221.2L1646.5 221.8L1647.2 222.5L1647.9 223.1L1648.6 223.7L1649.2 224.4L1649.9 225L1650.6 225.6L1651.3 226.2L1652 226.8L1652.7 227.4L1653.3 228.1L1654 228.6L1654.7 229.2L1655.4 229.8L1656.1 230.4L1656.7 231L1657.4 231.6L1658.1 232.1L1658.8 232.7L1659 232.9L1659.5 233.2L1660.2 233.8L1660.8 234.3L1661.5 234.9L1662.2 235.4L1662.9 235.9L1663.6 236.4L1664.2 237L1664.9 237.5L1665.6 238L1666.3 238.5L1667 239L1667.6 239.5L1668.3 240L1669 240.5L1669.7 240.9L1670.4 241.4L1671.1 241.9L1671.7 242.4L1672.4 242.8L1673.1 243.3L1673.8 243.7L1674.5 244.2L1675.1 244.7L1675.8 245.1L1676.5 245.5L1677.2 246L1677.9 246.4L1678.6 246.9L1679.2 247.3L1679.9 247.7L1680.6 248.2L1681.3 248.6L1682 249L1682.6 249.4L1683.3 249.8L1684 250.3L1684.7 250.7L1685 250.8L1685.4 251.1L1686.1 251.5L1686.7 251.9L1687.4 252.3L1688.1 252.7L1688.8 253.1L1689.5 253.5L1690.1 253.9L1690.8 254.3L1691.5 254.7L1692.2 255.1L1692.9 255.4L1693.6 255.8L1694.2 256.2L1694.9 256.6L1695.6 257L1696.3 257.4L1697 257.7L1697.6 258.1L1698.3 258.5L1699 258.9L1699.7 259.2L1700.4 259.6L1701.1 260L1701.7 260.3L1702.4 260.7L1703.1 261.1L1703.8 261.4L1704.5 261.8L1705.1 262.1L1705.8 262.5L1706.5 262.9L1707.2 263.2L1707.9 263.6L1708.6 263.9L1709.2 264.3L1709.9 264.6L1710.6 265L1710.9 265.2L1711.3 265.4L1712 265.7L1712.6 266.1L1713.3 266.4L1714 266.8L1714.7 267.1L1715.4 267.4L1716.1 267.8L1716.7 268.1L1717.4 268.5L1718.1 268.8L1718.8 269.2L1719.5 269.5L1720.1 269.9L1720.8 270.2L1721.5 270.5L1722.2 270.9L1722.9 271.2L1723.5 271.6L1724.2 271.9L1724.9 272.2L1725.6 272.6L1726.3 272.9L1727 273.2L1727.6 273.6L1728.3 273.9L1729 274.2L1729.7 274.6L1730.4 274.9L1731 275.2L1731.7 275.6L1732.4 275.9L1733.1 276.2L1733.8 276.5L1734.5 276.9L1735.1 277.2L1735.8 277.5L1736.5 277.8L1736.9 278L1737.2 278.2L1737.9 278.5L1738.5 278.8L1739.2 279.1L1739.9 279.5L1740.6 279.8L1741.3 280.1L1742 280.4L1742.6 280.7L1743.3 281.1L1744 281.4L1744.7 281.7L1745.4 282L1746 282.3L1746.7 282.6L1747.4 283L1748.1 283.3L1748.8 283.6L1749.5 283.9L1750.1 284.2L1750.8 284.5L1751.5 284.8L1752.2 285.1L1752.9 285.4L1753.5 285.7L1754.2 286.1L1754.9 286.4L1755.6 286.7L1756.3 287L1757 287.3L1757.6 287.6L1758.3 287.9L1759 288.2L1759.7 288.5L1760.4 288.8L1761 289.1L1761.7 289.4L1762.4 289.7L1762.9 289.9L1763.1 290L1763.8 290.3L1764.5 290.5L1765.1 290.8L1765.8 291.1L1766.5 291.4L1767.2 291.7L1767.9 292L1768.5 292.3L1769.2 292.6L1769.9 292.9L1770.6 293.1L1771.3 293.4L1771.9 293.7L1772.6 294L1773.3 294.3L1774 294.6L1774.7 294.8L1775.4 295.1L1776 295.4L1776.7 295.7L1777.4 295.9L1778.1 296.2L1778.8 296.5L1779.4 296.7L1780.1 297L1780.8 297.3L1781.5 297.5L1782.2 297.8L1782.9 298.1L1783.5 298.3L1784.2 298.6L1784.9 298.8L1785.6 299.1L1786.3 299.4L1786.9 299.6L1787.6 299.9L1788.3 300.1L1789 300.4L1789.7 300.6L1790 300.7L1790.4 300.9L1791 301.1L1791.7 301.3L1792.4 301.6L1793.1 301.8L1793.8 302.1L1794.4 302.3L1795.1 302.5L1795.8 302.8L1796.5 303L1797.2 303.2L1797.9 303.5L1798.5 303.7L1799.2 303.9L1799.9 304.1L1800.6 304.4L1801.3 304.6L1801.9 304.8L1802.6 305L1803.3 305.3L1804 305.5L1804.7 305.7L1805.4 305.9L1806 306.1L1806.7 306.3L1807.4 306.5L1808.1 306.8L1808.8 307L1809.4 307.2L1810.1 307.4L1810.8 307.6L1811.5 307.8L1812.2 308L1812.9 308.2L1813.5 308.4L1814.2 308.6L1814.9 308.8L1815.6 309L1816.3 309.2L1816.9 309.4L1817.6 309.6L1818.3 309.8L1819 310L1819.7 310.2L1820.3 310.4L1821 310.6L1821.7 310.8L1822.4 311L1823.1 311.1L1823.8 311.3L1824.4 311.5L1825.1 311.7L1825.8 311.9L1826.5 312.1L1827.2 312.3L1827.8 312.4L1828.5 312.6L1829.2 312.8L1829.9 313L1830.6 313.2L1831.3 313.4L1831.9 313.5L1832.6 313.7L1833.3 313.9L1833.9 314.1L1834 314.1L1834.7 314.3L1835.3 314.4L1836 314.6L1836.7 314.8L1837.4 315L1838.1 315.1L1838.8 315.3L1839.4 315.5L1840.1 315.7L1840.8 315.8L1841.5 316L1842.2 316.2L1842.8 316.3L1843.5 316.5L1844.2 316.7L1844.9 316.8L1845.6 317L1846.3 317.2L1846.9 317.4L1847.6 317.5L1848.3 317.7L1849 317.9L1849.7 318L1850.3 318.2L1851 318.3L1851.7 318.5L1852.4 318.7L1853.1 318.8L1853.8 319L1854.4 319.2L1855.1 319.3L1855.8 319.5L1856.5 319.6L1857.2 319.8L1857.8 319.9L1858.5 320.1L1859.2 320.3L1859.9 320.4L1860.6 320.6L1861.3 320.7L1861.9 320.9L1862.6 321L1863.3 321.2L1864 321.3L1864.7 321.5L1865.3 321.6L1866 321.8L1866.7 321.9L1867.4 322.1L1868.1 322.2L1868.7 322.4L1869.4 322.5L1870.1 322.7L1870.8 322.8L1871.5 323L1872.2 323.1L1872.8 323.3L1873.5 323.4L1874.2 323.6L1874.9 323.7L1875.6 323.9L1876.2 324L1876.9 324.1L1877.6 324.3L1877.9 324.3L1878.3 324.4L1879 324.6L1879.7 324.7L1880.3 324.8L1881 325L1881.7 325.1L1882.4 325.3L1883.1 325.4L1883.7 325.5L1884.4 325.7L1885.1 325.8L1885.8 325.9L1886.5 326.1L1887.2 326.2L1887.8 326.3L1888.5 326.5L1889.2 326.6L1889.9 326.7L1890.6 326.9L1891.2 327L1891.9 327.1L1892.6 327.3L1893.3 327.4L1894 327.5L1894.7 327.7L1895.3 327.8L1896 327.9L1896.7 328L1897.4 328.2L1898.1 328.3L1898.7 328.4L1899.4 328.5L1900.1 328.7L1900.8 328.8L1901.5 328.9L1902.2 329L1902.8 329.2L1903.5 329.3L1904.2 329.4L1904.9 329.5L1905.6 329.6L1906.2 329.8L1906.9 329.9L1907.6 330L1908.3 330.1L1909 330.2L1909.7 330.3L1910.3 330.5L1911 330.6L1911.7 330.7L1912.4 330.8L1913.1 330.9L1913.7 331L1914.4 331.1L1915.1 331.3L1915.8 331.4L1916.5 331.5L1917.1 331.6L1917.8 331.7L1918.5 331.8L1919.2 331.9L1919.9 332L1920.6 332.1L1921.2 332.2L1921.9 332.3L1922 332.4L1922.6 332.5L1923.3 332.6L1924 332.7L1924.6 332.8L1925.3 332.9L1926 333L1926.7 333.1L1927.4 333.2L1928.1 333.3L1928.7 333.4L1929.4 333.5L1930.1 333.6L1930.8 333.7L1931.5 333.8L1932.1 333.9L1932.8 334L1933.5 334.1L1934.2 334.2L1934.9 334.3L1935.6 334.4L1936.2 334.5L1936.9 334.6L1937.6 334.7L1938.3 334.8L1939 334.9L1939.6 335L1940.3 335.1L1941 335.1L1941.7 335.2L1942.4 335.3L1943.1 335.4L1943.7 335.5L1944.4 335.6L1945.1 335.7L1945.8 335.8L1946.5 335.9L1947.1 336L1947.8 336.1L1948.5 336.2L1949.2 336.3L1949.9 336.3L1950.6 336.4L1951.2 336.5L1951.9 336.6L1952.6 336.7L1953.3 336.8L1954 336.9L1954.6 337L1955.3 337L1956 337.1L1956.7 337.2L1957.4 337.3L1958.1 337.4L1958.7 337.5L1959.4 337.6L1960.1 337.7L1960.8 337.7L1961.5 337.8L1962.1 337.9L1962.8 338L1963.5 338.1L1964.2 338.2L1964.9 338.2L1965.5 338.3L1966.2 338.4L1966.9 338.5L1967.6 338.6L1968.3 338.7L1969 338.8L1969.6 338.8L1970.3 338.9L1971 339L1971.7 339.1L1972.4 339.2L1973 339.2L1973.7 339.3L1974.4 339.4L1975.1 339.5L1975.8 339.6L1976.5 339.7L1977.1 339.7L1977.8 339.8L1978.5 339.9L1979.2 340L1979.9 340.1L1980.5 340.1L1981.2 340.2L1981.9 340.3L1982.6 340.4L1983.3 340.5L1984 340.5L1984.6 340.6L1985.3 340.7L1986 340.8" fill="none" stroke="#0a8b8d" stroke-width="3.5" stroke-linejoin="round" stroke-linecap="round" stroke-dasharray="9.2 7.5"/>
<path d="M1496 393.5L1496.2 389L1496.4 384.4L1496.6 379.9L1496.8 375.3L1497 370.8L1497.2 366.3L1497.4 361.7L1497.6 357.2L1497.8 352.6L1498 348.1L1498.3 343.6L1498.5 339L1498.7 334.5L1498.9 329.9L1499.1 325.4L1499.3 320.9L1499.5 316.3L1499.7 311.8L1499.9 307.2L1500.1 302.9L1500.1 302.6L1500.3 300.3L1500.5 298L1500.7 295.8L1500.9 293.7L1501.1 291.6L1501.3 289.5L1501.5 287.6L1501.7 285.7L1501.9 283.8L1502.1 282L1502.3 280.3L1502.5 278.7L1502.8 277.1L1503 275.5L1503.2 274.1L1503.4 272.7L1503.6 271.3L1503.8 270L1504 268.8L1504.2 267.8L1504.2 267.6L1504.4 266.5L1504.6 265.5L1504.8 264.5L1505 263.5L1505.2 262.6L1505.4 261.8L1505.6 261L1505.8 260.2L1506 259.5L1506.2 258.8L1506.4 258.1L1506.6 257.4L1506.8 256.8L1507.1 256.3L1507.3 255.7L1507.5 255.2L1507.7 254.6L1507.9 254.2L1508.1 253.7L1508.3 253.2L1508.5 252.8L1508.7 252.4L1508.9 252L1509.1 251.6L1509.3 251.2L1509.5 250.8L1509.7 250.5L1509.9 250.1L1510 250L1510.1 249.8L1510.3 249.4L1510.5 249.1L1510.7 248.8L1510.9 248.5L1511.1 248.2L1511.4 247.9L1511.6 247.6L1511.8 247.3L1512 247L1512.2 246.8L1512.4 246.5L1512.6 246.3L1512.8 246L1513 245.8L1513.2 245.5L1513.4 245.3L1513.6 245.1L1513.8 244.8L1514 244.6L1514.2 244.4L1514.4 244.2L1514.6 244L1514.8 243.8L1515 243.6L1515.2 243.4L1515.4 243.2L1515.6 243L1515.9 242.9L1516.1 242.7L1516.3 242.5L1516.5 242.3L1516.7 242.2L1516.9 242L1517.1 241.9L1517.2 241.7L1517.3 241.7L1517.5 241.5L1517.7 241.4L1517.9 241.2L1518.1 241.1L1518.3 241L1518.5 240.8L1518.7 240.7L1518.9 240.5L1519.1 240.4L1519.3 240.3L1519.5 240.2L1519.7 240L1519.9 239.9L1520.2 239.8L1520.4 239.7L1520.6 239.6L1520.8 239.5L1521 239.4L1521.2 239.3L1521.4 239.2L1521.6 239.1L1521.8 239L1522 238.9L1522.2 238.8L1522.4 238.7L1522.6 238.6L1522.8 238.6L1523 238.5L1523.2 238.4L1523.4 238.4L1523.6 238.3L1523.8 238.2L1524 238.2L1524.2 238.1L1524.5 238.1L1524.7 238L1524.9 238L1525.1 237.9L1525.3 237.9L1525.5 237.8L1525.7 237.8L1525.9 237.8L1526.1 237.7L1526.3 237.7L1526.5 237.7L1526.7 237.7L1526.9 237.6L1527.1 237.6L1527.3 237.6L1527.5 237.6L1527.5 237.6L1527.7 237.6L1527.9 237.6L1528.1 237.6L1528.3 237.6L1528.5 237.6L1528.7 237.6L1529 237.6L1529.2 237.6L1529.4 237.6L1529.6 237.7L1529.8 237.7L1530 237.7L1530.2 237.7L1530.4 237.7L1530.6 237.8L1530.8 237.8L1531 237.8L1531.2 237.9L1531.4 237.9L1531.6 237.9L1531.8 238L1532 238L1532.2 238.1L1532.4 238.1L1532.6 238.2L1532.8 238.2L1533 238.3L1533.3 238.3L1533.5 238.4L1533.7 238.4L1533.9 238.5L1534.1 238.6L1534.3 238.6L1534.5 238.7L1534.7 238.7L1534.9 238.8L1535.1 238.9L1535.3 238.9L1535.5 239L1535.7 239.1L1535.9 239.2L1536.1 239.2L1536.3 239.3L1536.5 239.4L1536.7 239.5L1536.9 239.6L1537.1 239.6L1537.3 239.7L1537.5 239.8L1537.8 239.9L1538 240L1538.2 240.1L1538.4 240.2L1538.6 240.2L1538.8 240.3L1539 240.4L1539.2 240.5L1539.4 240.6L1539.6 240.7L1539.8 240.8L1540 240.9L1540.2 241L1540.4 241.1L1540.6 241.2L1540.8 241.3L1541 241.4L1541.2 241.5L1541.4 241.6L1541.6 241.7L1541.8 241.8L1542.1 241.9L1542.3 242L1542.5 242.1L1542.7 242.2L1542.9 242.3L1543.1 242.5L1543.3 242.6L1543.5 242.7L1543.7 242.8L1543.9 242.9L1544.1 243L1544.3 243.1L1544.5 243.2L1544.7 243.3L1544.9 243.5L1545.1 243.6L1545.3 243.7L1545.5 243.8L1545.7 243.9L1545.9 244L1546.1 244.1L1546.4 244.3L1546.6 244.4L1546.8 244.5L1547 244.6L1547.2 244.7L1547.4 244.8L1547.6 245L1547.8 245.1L1547.9 245.2L1548 245.2L1548.2 245.3L1548.4 245.4L1548.6 245.6L1548.8 245.7L1549 245.8L1549.2 245.9L1549.4 246L1549.6 246.2L1549.8 246.3L1550 246.4L1550.2 246.5L1550.4 246.6L1550.6 246.8L1550.9 246.9L1551.1 247L1551.3 247.1L1551.5 247.3L1551.7 247.4L1551.9 247.5L1552.1 247.6L1552.3 247.8L1552.5 247.9L1552.7 248L1552.9 248.1L1553.1 248.2L1553.3 248.4L1553.5 248.5L1553.7 248.6L1553.9 248.7L1554.1 248.9L1554.3 249L1554.5 249.1L1554.7 249.3L1554.9 249.4L1555.2 249.5L1555.4 249.6L1555.6 249.8L1555.8 249.9L1556 250L1556.2 250.1L1556.4 250.3L1556.6 250.4L1556.8 250.5L1557 250.6L1557.2 250.8L1557.4 250.9L1557.6 251L1557.8 251.2L1558 251.3L1558.2 251.4L1558.4 251.5L1558.6 251.7L1558.8 251.8L1559 251.9L1559.2 252L1559.5 252.2L1559.7 252.3L1559.9 252.4L1560.1 252.6L1560.3 252.7L1560.5 252.8L1560.7 252.9L1560.9 253.1L1561.1 253.2L1561.3 253.3L1561.5 253.5L1561.7 253.6L1561.9 253.7L1562.1 253.9L1562.3 254L1562.5 254.1L1562.7 254.2L1562.9 254.4L1563.1 254.5L1563.3 254.6L1563.5 254.8L1563.7 254.9L1564 255L1564.2 255.1L1564.4 255.3L1564.6 255.4L1564.8 255.5L1565 255.7L1565.2 255.8L1565.4 255.9L1565.6 256L1565.8 256.2L1566 256.3L1566.1 256.4L1566.2 256.4L1566.4 256.6L1566.6 256.7L1566.8 256.8L1567 257L1567.2 257.1L1567.4 257.2L1567.6 257.3L1567.8 257.5L1568 257.6L1568.3 257.7L1568.5 257.9L1568.7 258L1568.9 258.1L1569.1 258.2L1569.3 258.4L1569.5 258.5L1569.7 258.6L1569.9 258.8L1570.1 258.9L1570.3 259L1570.5 259.2L1570.7 259.3L1570.9 259.4L1571.1 259.5L1571.3 259.7L1571.5 259.8L1571.7 259.9L1571.9 260.1L1572.1 260.2L1572.3 260.3L1572.5 260.4L1572.8 260.6L1573 260.7L1573.2 260.8L1573.4 261L1573.6 261.1L1573.8 261.2L1574 261.3L1574.2 261.5L1574.4 261.6L1574.6 261.7L1574.8 261.8L1575 262L1575.2 262.1L1575.4 262.2L1575.6 262.4L1575.8 262.5L1576 262.6L1576.2 262.7L1576.4 262.9L1576.6 263L1576.8 263.1L1577.1 263.2L1577.3 263.4L1577.5 263.5L1577.7 263.6L1578.3 264L1579 264.5L1579.7 264.9L1580.4 265.3L1581.1 265.7L1581.8 266.1L1582.4 266.5L1583.1 266.9L1583.8 267.4L1584.5 267.8L1585.2 268.2L1585.8 268.6L1586.5 269L1587.2 269.4L1587.9 269.8L1588.6 270.2L1589.3 270.6L1589.9 271L1590.6 271.4L1591.3 271.7L1591.9 272.1L1592 272.1L1592.7 272.5L1593.3 272.9L1594 273.3L1594.7 273.7L1595.4 274L1596.1 274.4L1596.8 274.8L1597.4 275.2L1598.1 275.5L1598.8 275.9L1599.5 276.3L1600.2 276.6L1600.8 277L1601.5 277.3L1602.2 277.7L1602.9 278.1L1603.6 278.4L1604.3 278.8L1604.9 279.1L1605.6 279.5L1606.3 279.8L1607 280.1L1607.7 280.5L1608.3 280.8L1609 281.2L1609.7 281.5L1610.4 281.8L1611.1 282.1L1611.8 282.5L1612.4 282.8L1613.1 283.1L1613.8 283.4L1614.5 283.7L1615.2 284.1L1615.8 284.4L1616.5 284.7L1617.2 285L1617.9 285.3L1618.6 285.6L1619.2 285.9L1619.9 286.2L1620 286.2L1620.6 286.5L1621.3 286.8L1622 287.1L1622.7 287.4L1623.3 287.6L1624 287.9L1624.7 288.2L1625.4 288.5L1626.1 288.8L1626.7 289L1627.4 289.3L1628.1 289.6L1628.8 289.8L1629.5 290.1L1630.2 290.4L1630.8 290.6L1631.5 290.9L1632.2 291.2L1632.9 291.4L1633.6 291.7L1634.2 291.9L1634.9 292.2L1635.6 292.4L1636.3 292.7L1637 292.9L1637.7 293.2L1638.3 293.4L1639 293.7L1639.7 293.9L1640.4 294.2L1641.1 294.4L1641.7 294.6L1642.4 294.9L1643.1 295.1L1643.8 295.3L1644.5 295.6L1645.2 295.8L1645.8 296L1645.9 296.1L1646.5 296.3L1647.2 296.5L1647.9 296.7L1648.6 296.9L1649.2 297.2L1649.9 297.4L1650.6 297.6L1651.3 297.8L1652 298.1L1652.7 298.3L1653.3 298.5L1654 298.7L1654.7 298.9L1655.4 299.2L1656.1 299.4L1656.7 299.6L1657.4 299.8L1658.1 300L1658.8 300.2L1659.5 300.4L1660.2 300.6L1660.8 300.9L1661.5 301.1L1662.2 301.3L1662.9 301.5L1663.6 301.7L1664.2 301.9L1664.9 302.1L1665.6 302.3L1666.3 302.5L1667 302.7L1667.6 302.9L1668.3 303.1L1669 303.3L1669.7 303.5L1670.4 303.7L1671.1 303.9L1671.7 304.1L1671.9 304.2L1672.4 304.3L1673.1 304.6L1673.8 304.8L1674.5 305L1675.1 305.2L1675.8 305.4L1676.5 305.6L1677.2 305.8L1677.9 306L1678.6 306.2L1679.2 306.4L1679.9 306.6L1680.6 306.8L1681.3 306.9L1682 307.1L1682.6 307.3L1683.3 307.5L1684 307.7L1684.7 307.9L1685.4 308.1L1686.1 308.3L1686.7 308.5L1687.4 308.7L1688.1 308.9L1688.8 309.1L1689.5 309.3L1690.1 309.5L1690.8 309.7L1691.5 309.9L1692.2 310L1692.9 310.2L1693.6 310.4L1694.2 310.6L1694.9 310.8L1695.6 311L1696.3 311.2L1697 311.3L1697.6 311.5L1697.9 311.6L1698.3 311.7L1699 311.9L1699.7 312.1L1700.4 312.3L1701.1 312.4L1701.7 312.6L1702.4 312.8L1703.1 313L1703.8 313.1L1704.5 313.3L1705.1 313.5L1705.8 313.7L1706.5 313.9L1707.2 314L1707.9 314.2L1708.6 314.4L1709.2 314.5L1709.9 314.7L1710.6 314.9L1711.3 315.1L1712 315.2L1712.6 315.4L1713.3 315.6L1714 315.7L1714.7 315.9L1715.4 316.1L1716.1 316.2L1716.7 316.4L1717.4 316.6L1718.1 316.7L1718.8 316.9L1719.5 317L1720.1 317.2L1720.8 317.4L1721.5 317.5L1722.2 317.7L1722.9 317.9L1723.5 318L1723.8 318.1L1724.2 318.2L1724.9 318.3L1725.6 318.5L1726.3 318.6L1727 318.8L1727.6 319L1728.3 319.1L1729 319.3L1729.7 319.4L1730.4 319.6L1731 319.7L1731.7 319.9L1732.4 320L1733.1 320.2L1733.8 320.3L1734.5 320.5L1735.1 320.6L1735.8 320.8L1736.5 320.9L1737.2 321.1L1737.9 321.2L1738.5 321.4L1739.2 321.5L1739.9 321.7L1740.6 321.8L1741.3 322L1742 322.1L1742.6 322.3L1743.3 322.4L1744 322.6L1744.7 322.7L1745.4 322.9L1746 323L1746.7 323.2L1747.4 323.3L1748.1 323.5L1748.8 323.6L1749.5 323.8L1749.8 323.8L1750.1 323.9L1750.8 324.1L1751.5 324.2L1752.2 324.4L1752.9 324.5L1753.5 324.7L1754.2 324.8L1754.9 324.9L1755.6 325.1L1756.3 325.2L1757 325.4L1757.6 325.5L1758.3 325.7L1759 325.8L1759.7 326L1760.4 326.1L1761 326.3L1761.7 326.4L1762.4 326.6L1763.1 326.7L1763.8 326.8L1764.5 327L1765.1 327.1L1765.8 327.3L1766.5 327.4L1767.2 327.6L1767.9 327.7L1768.5 327.9L1769.2 328L1769.9 328.1L1770.6 328.3L1771.3 328.4L1771.9 328.6L1772.6 328.7L1773.3 328.8L1774 329L1774.7 329.1L1775.4 329.2L1776 329.4L1776.7 329.5L1777.4 329.7L1778.1 329.8L1778.8 329.9L1779.4 330.1L1780.1 330.2L1780.8 330.3L1781.5 330.5L1782.2 330.6L1782.9 330.7L1783.5 330.9L1784.2 331L1784.9 331.1L1785.6 331.2L1786.3 331.4L1786.9 331.5L1787.6 331.6L1788.3 331.7L1789 331.9L1789.7 332L1790 332.1L1790.4 332.1L1791 332.2L1791.7 332.4L1792.4 332.5L1793.1 332.6L1793.8 332.7L1794.4 332.8L1795.1 333L1795.8 333.1L1796.5 333.2L1797.2 333.3L1797.9 333.4L1798.5 333.5L1799.2 333.6L1799.9 333.8L1800.6 333.9L1801.3 334L1801.9 334.1L1802.6 334.2L1803.3 334.3L1804 334.4L1804.7 334.5L1805.4 334.6L1806 334.7L1806.7 334.8L1807.4 335L1808.1 335.1L1808.8 335.2L1809.4 335.3L1810.1 335.4L1810.8 335.5L1811.5 335.6L1812.2 335.7L1812.9 335.8L1813.5 335.9L1814.2 336L1814.9 336.1L1815.6 336.2L1816.3 336.3L1816.9 336.4L1817.6 336.5L1818.3 336.6L1819 336.7L1819.7 336.8L1820.3 336.9L1821 337L1821.7 337L1822.4 337.1L1823.1 337.2L1823.8 337.3L1824.4 337.4L1825.1 337.5L1825.8 337.6L1826.5 337.7L1827.2 337.8L1827.8 337.9L1828.5 338L1829.2 338.1L1829.9 338.1L1830.6 338.2L1831.3 338.3L1831.9 338.4L1832.6 338.5L1833.3 338.6L1833.9 338.7L1834 338.7L1834.7 338.8L1835.3 338.8L1836 338.9L1836.7 339L1837.4 339.1L1838.1 339.2L1838.8 339.3L1839.4 339.4L1840.1 339.4L1840.8 339.5L1841.5 339.6L1842.2 339.7L1842.8 339.8L1843.5 339.9L1844.2 339.9L1844.9 340L1845.6 340.1L1846.3 340.2L1846.9 340.3L1847.6 340.3L1848.3 340.4L1849 340.5L1849.7 340.6L1850.3 340.7L1851 340.7L1851.7 340.8L1852.4 340.9L1853.1 341L1853.8 341L1854.4 341.1L1855.1 341.2L1855.8 341.3L1856.5 341.3L1857.2 341.4L1857.8 341.5L1858.5 341.6L1859.2 341.6L1859.9 341.7L1860.6 341.8L1861.3 341.9L1861.9 341.9L1862.6 342L1863.3 342.1L1864 342.2L1864.7 342.2L1865.3 342.3L1866 342.4L1866.7 342.4L1867.4 342.5L1868.1 342.6L1868.7 342.7L1869.4 342.7L1870.1 342.8L1870.8 342.9L1871.5 342.9L1872.2 343L1872.8 343.1L1873.5 343.1L1874.2 343.2L1874.9 343.3L1875.6 343.3L1876.2 343.4L1876.9 343.5L1877.6 343.5L1877.9 343.6L1878.3 343.6L1879 343.7L1879.7 343.7L1880.3 343.8L1881 343.9L1881.7 343.9L1882.4 344L1883.1 344.1L1883.7 344.1L1884.4 344.2L1885.1 344.3L1885.8 344.3L1886.5 344.4L1887.2 344.4L1887.8 344.5L1888.5 344.6L1889.2 344.6L1889.9 344.7L1890.6 344.8L1891.2 344.8L1891.9 344.9L1892.6 344.9L1893.3 345L1894 345.1L1894.7 345.1L1895.3 345.2L1896 345.2L1896.7 345.3L1897.4 345.4L1898.1 345.4L1898.7 345.5L1899.4 345.5L1900.1 345.6L1900.8 345.6L1901.5 345.7L1902.2 345.8L1902.8 345.8L1903.5 345.9L1904.2 345.9L1904.9 346L1905.6 346L1906.2 346.1L1906.9 346.1L1907.6 346.2L1908.3 346.3L1909 346.3L1909.7 346.4L1910.3 346.4L1911 346.5L1911.7 346.5L1912.4 346.6L1913.1 346.6L1913.7 346.7L1914.4 346.7L1915.1 346.8L1915.8 346.8L1916.5 346.9L1917.1 346.9L1917.8 347L1918.5 347.1L1919.2 347.1L1919.9 347.2L1920.6 347.2L1921.2 347.3L1921.9 347.3L1922 347.3L1922.6 347.4L1923.3 347.4L1924 347.5L1924.6 347.5L1925.3 347.5L1926 347.6L1926.7 347.6L1927.4 347.7L1928.1 347.7L1928.7 347.8L1929.4 347.8L1930.1 347.9L1930.8 347.9L1931.5 348L1932.1 348L1932.8 348.1L1933.5 348.1L1934.2 348.2L1934.9 348.2L1935.6 348.3L1936.2 348.3L1936.9 348.3L1937.6 348.4L1938.3 348.4L1939 348.5L1939.6 348.5L1940.3 348.6L1941 348.6L1941.7 348.7L1942.4 348.7L1943.1 348.7L1943.7 348.8L1944.4 348.8L1945.1 348.9L1945.8 348.9L1946.5 349L1947.1 349L1947.8 349L1948.5 349.1L1949.2 349.1L1949.9 349.2L1950.6 349.2L1951.2 349.3L1951.9 349.3L1952.6 349.3L1953.3 349.4L1954 349.4L1954.6 349.5L1955.3 349.5L1956 349.5L1956.7 349.6L1957.4 349.6L1958.1 349.7L1958.7 349.7L1959.4 349.7L1960.1 349.8L1960.8 349.8L1961.5 349.9L1962.1 349.9L1962.8 349.9L1963.5 350L1964.2 350L1964.9 350.1L1965.5 350.1L1966.2 350.1L1966.9 350.2L1967.6 350.2L1968.3 350.3L1969 350.3L1969.6 350.3L1970.3 350.4L1971 350.4L1971.7 350.5L1972.4 350.5L1973 350.5L1973.7 350.6L1974.4 350.6L1975.1 350.7L1975.8 350.7L1976.5 350.7L1977.1 350.8L1977.8 350.8L1978.5 350.8L1979.2 350.9L1979.9 350.9L1980.5 351L1981.2 351L1981.9 351L1982.6 351.1L1983.3 351.1L1984 351.2L1984.6 351.2L1985.3 351.2L1986 351.3" fill="none" stroke="#8e0f4b" stroke-width="3.5" stroke-linejoin="round" stroke-linecap="round"/>
<path d="M1496 393.5L1496.2 382.8L1496.4 372.2L1496.6 361.5L1496.8 350.9L1497 340.2L1497.2 329.5L1497.4 318.9L1497.6 308.2L1497.8 297.6L1498 286.9L1498.3 276.2L1498.5 265.6L1498.7 254.9L1498.9 244.3L1499.1 233.6L1499.3 222.9L1499.5 212.3L1499.7 201.6L1499.9 191L1500 185.1L1500.1 185.2L1500.3 185.5L1500.5 185.8L1500.7 186L1500.9 186.3L1501.1 186.6L1501.3 186.9L1501.5 187.1L1501.7 187.4L1501.9 187.7L1502.1 188L1502.3 188.3L1502.5 188.5L1502.8 188.8L1503 189.1L1503.2 189.4L1503.4 189.6L1503.6 189.9L1503.7 190L1503.8 189.9L1504 189.6L1504.2 189.3L1504.4 189L1504.6 188.7L1504.8 188.4L1505 188.1L1505.2 187.8L1505.4 187.5L1505.6 187.2L1505.8 187L1506 186.7L1506.2 186.4L1506.4 186.1L1506.6 185.9L1506.8 185.6L1507.1 185.4L1507.3 185.1L1507.5 184.8L1507.7 184.6L1507.9 184.3L1508.1 184.1L1508.3 183.8L1508.5 183.6L1508.7 183.3L1508.9 183.1L1509.1 182.8L1509.3 182.6L1509.5 182.3L1509.7 182.1L1509.9 181.9L1510.1 181.6L1510.3 181.4L1510.5 181.2L1510.7 180.9L1510.9 180.7L1511.1 180.5L1511.4 180.3L1511.6 180L1511.8 179.8L1512 179.6L1512.2 179.4L1512.3 179.2L1512.4 179.1L1512.6 178.9L1512.8 178.7L1513 178.5L1513.2 178.3L1513.4 178L1513.6 177.8L1513.8 177.6L1514 177.4L1514.2 177.2L1514.4 177L1514.6 176.8L1514.8 176.6L1515 176.4L1515.2 176.2L1515.4 176L1515.6 175.8L1515.9 175.6L1516.1 175.4L1516.3 175.2L1516.5 175.1L1516.7 174.9L1516.9 174.7L1517.1 174.5L1517.3 174.4L1517.5 174.2L1517.7 174L1517.9 173.9L1518.1 173.7L1518.3 173.6L1518.5 173.4L1518.7 173.3L1518.9 173.1L1519.1 173L1519.3 172.9L1519.5 172.7L1519.7 172.6L1519.9 172.5L1520.2 172.4L1520.4 172.2L1520.6 172.1L1520.8 172L1521 171.9L1521.2 171.8L1521.4 171.7L1521.6 171.6L1521.8 171.5L1522 171.4L1522.2 171.4L1522.4 171.3L1522.6 171.2L1522.8 171.1L1523 171.1L1523.2 171L1523.4 171L1523.6 170.9L1523.8 170.9L1524 170.8L1524.2 170.8L1524.5 170.7L1524.7 170.7L1524.9 170.7L1525.1 170.6L1525.3 170.6L1525.5 170.6L1525.7 170.6L1525.9 170.6L1526.1 170.6L1526.3 170.6L1526.5 170.6L1526.7 170.6L1526.9 170.6L1527.1 170.6L1527.3 170.7L1527.5 170.7L1527.5 170.7L1527.7 170.7L1527.9 170.8L1528.1 170.8L1528.3 170.9L1528.5 170.9L1528.7 171L1529 171L1529.2 171.1L1529.4 171.1L1529.6 171.2L1529.8 171.3L1530 171.3L1530 171.3L1530.2 171.4L1530.4 171.5L1530.6 171.5L1530.8 171.6L1531 171.7L1531.2 171.8L1531.4 171.9L1531.6 171.9L1531.8 172L1532 172.1L1532.2 172.2L1532.4 172.3L1532.6 172.4L1532.8 172.5L1533 172.6L1533.3 172.7L1533.5 172.8L1533.7 172.9L1533.9 173L1534.1 173.1L1534.3 173.2L1534.5 173.3L1534.7 173.4L1534.9 173.5L1535.1 173.6L1535.3 173.7L1535.5 173.8L1535.7 173.9L1535.9 174L1536.1 174.2L1536.3 174.3L1536.5 174.4L1536.7 174.5L1536.9 174.6L1537.1 174.8L1537.3 174.9L1537.5 175L1537.8 175.1L1538 175.3L1538.2 175.4L1538.4 175.5L1538.6 175.7L1538.8 175.8L1539 175.9L1539.2 176.1L1539.4 176.2L1539.6 176.3L1539.8 176.5L1540 176.6L1540.2 176.8L1540.4 176.9L1540.6 177.1L1540.8 177.2L1541 177.3L1541.2 177.5L1541.4 177.6L1541.6 177.8L1541.8 177.9L1542.1 178.1L1542.3 178.2L1542.5 178.4L1542.7 178.6L1542.9 178.7L1543.1 178.9L1543.3 179L1543.5 179.2L1543.7 179.3L1543.9 179.5L1544.1 179.7L1544.3 179.8L1544.5 180L1544.7 180.2L1544.9 180.3L1545.1 180.5L1545.3 180.7L1545.5 180.8L1545.7 181L1545.9 181.2L1546.1 181.3L1546.4 181.5L1546.6 181.7L1546.8 181.8L1547 182L1547.2 182.2L1547.4 182.4L1547.6 182.5L1547.8 182.7L1547.9 182.9L1548 182.9L1548.2 183.1L1548.4 183.3L1548.6 183.4L1548.8 183.6L1549 183.8L1549.2 184L1549.4 184.2L1549.6 184.4L1549.8 184.5L1550 184.7L1550.2 184.9L1550.4 185.1L1550.6 185.3L1550.9 185.5L1551.1 185.7L1551.3 185.8L1551.5 186L1551.7 186.2L1551.9 186.4L1552.1 186.6L1552.3 186.8L1552.5 187L1552.7 187.2L1552.9 187.4L1553.1 187.6L1553.3 187.8L1553.5 188L1553.7 188.2L1553.9 188.4L1554.1 188.6L1554.3 188.7L1554.5 188.9L1554.7 189.1L1554.9 189.3L1555.2 189.5L1555.4 189.7L1555.6 189.9L1555.8 190.1L1556 190.3L1556.2 190.5L1556.4 190.7L1556.6 190.9L1556.8 191.1L1557 191.3L1557.2 191.5L1557.4 191.7L1557.6 191.9L1557.8 192.2L1558 192.4L1558.2 192.6L1558.4 192.8L1558.6 193L1558.8 193.2L1559 193.4L1559.2 193.6L1559.5 193.8L1559.7 194L1559.9 194.2L1560.1 194.4L1560.3 194.6L1560.5 194.8L1560.7 195L1560.9 195.2L1561.1 195.4L1561.3 195.6L1561.5 195.8L1561.7 196L1561.9 196.3L1562.1 196.5L1562.3 196.7L1562.5 196.9L1562.7 197.1L1562.9 197.3L1563.1 197.5L1563.3 197.7L1563.5 197.9L1563.7 198.1L1564 198.3L1564.2 198.5L1564.4 198.7L1564.6 199L1564.8 199.2L1565 199.4L1565.2 199.6L1565.4 199.8L1565.6 200L1565.8 200.2L1566 200.4L1566.1 200.5L1566.2 200.6L1566.4 200.8L1566.6 201L1566.8 201.2L1567 201.5L1567.2 201.7L1567.4 201.9L1567.6 202.1L1567.8 202.3L1568 202.5L1568.3 202.7L1568.5 202.9L1568.7 203.1L1568.9 203.3L1569.1 203.5L1569.3 203.7L1569.5 203.9L1569.7 204.2L1569.9 204.4L1570.1 204.6L1570.3 204.8L1570.5 205L1570.7 205.2L1570.9 205.4L1571.1 205.6L1571.3 205.8L1571.5 206L1571.7 206.2L1571.9 206.4L1572.1 206.6L1572.3 206.8L1572.5 207.1L1572.8 207.3L1573 207.5L1573.2 207.7L1573.4 207.9L1573.6 208.1L1573.8 208.3L1574 208.5L1574.2 208.7L1574.4 208.9L1574.6 209.1L1574.8 209.3L1575 209.5L1575.2 209.7L1575.4 209.9L1575.6 210.1L1575.8 210.3L1576 210.5L1576.2 210.7L1576.4 211L1576.6 211.2L1576.8 211.4L1577.1 211.6L1577.3 211.8L1577.5 212L1577.7 212.2L1578.3 212.8L1579 213.5L1579.7 214.2L1580.4 214.9L1581.1 215.5L1581.8 216.2L1582.4 216.8L1583.1 217.5L1583.8 218.2L1584 218.4L1584.5 218.8L1585.2 219.5L1585.8 220.1L1586.5 220.7L1587.2 221.4L1587.9 222L1588.6 222.7L1589.3 223.3L1589.9 223.9L1590.6 224.5L1591.3 225.2L1592 225.8L1592.7 226.4L1593.3 227L1594 227.6L1594.7 228.2L1595.4 228.8L1596.1 229.4L1596.8 230L1597.4 230.6L1598.1 231.2L1598.8 231.8L1599.5 232.4L1600.2 233L1600.8 233.6L1601.5 234.1L1601.8 234.4L1602.2 234.7L1602.9 235.3L1603.6 235.8L1604.3 236.4L1604.9 237L1605.6 237.5L1606.3 238.1L1607 238.6L1607.7 239.2L1608.3 239.7L1609 240.3L1609.7 240.8L1610.4 241.4L1611.1 241.9L1611.8 242.4L1612.4 243L1613.1 243.5L1613.8 244L1614.5 244.6L1615.2 245.1L1615.8 245.6L1616.5 246.1L1617.2 246.7L1617.9 247.2L1618.6 247.7L1619.2 248.2L1619.9 248.8L1620 248.8L1620.6 249.3L1621.3 249.8L1622 250.3L1622.7 250.8L1623.3 251.3L1624 251.9L1624.7 252.4L1625.4 252.9L1626.1 253.4L1626.7 253.9L1627.4 254.4L1628.1 254.9L1628.8 255.4L1629.5 255.9L1630.2 256.4L1630.8 256.9L1631.5 257.4L1632.2 257.9L1632.9 258.4L1633.6 258.9L1634.2 259.4L1634.9 259.8L1635.6 260.3L1636.3 260.8L1637 261.3L1637.7 261.8L1638.3 262.2L1639 262.7L1639.7 263.2L1640.4 263.7L1641.1 264.1L1641.7 264.6L1642.4 265.1L1643.1 265.5L1643.8 266L1644.5 266.4L1645.2 266.9L1645.8 267.3L1645.9 267.4L1646.5 267.8L1647.2 268.2L1647.9 268.7L1648.6 269.1L1649.2 269.6L1649.9 270L1650.6 270.4L1651.3 270.9L1652 271.3L1652.7 271.7L1653.3 272.2L1654 272.6L1654.7 273L1655.4 273.4L1656.1 273.8L1656.7 274.2L1657.4 274.7L1658.1 275.1L1658.8 275.5L1659.5 275.9L1660.2 276.3L1660.8 276.7L1661.5 277.1L1662.2 277.5L1662.9 277.9L1663.6 278.3L1664.2 278.6L1664.9 279L1665.6 279.4L1666.3 279.8L1667 280.2L1667.6 280.5L1668.3 280.9L1669 281.3L1669.7 281.6L1670.4 282L1671.1 282.4L1671.7 282.7L1671.9 282.8L1672.4 283.1L1673.1 283.4L1673.8 283.8L1674.5 284.1L1675.1 284.5L1675.8 284.8L1676.5 285.2L1677.2 285.5L1677.9 285.9L1678.6 286.2L1679.2 286.5L1679.9 286.9L1680.6 287.2L1681.3 287.5L1682 287.9L1682.6 288.2L1683.3 288.5L1684 288.8L1684.7 289.1L1685.4 289.5L1686.1 289.8L1686.7 290.1L1687.4 290.4L1688.1 290.7L1688.8 291L1689.5 291.3L1690.1 291.6L1690.8 292L1691.5 292.3L1692.2 292.6L1692.9 292.9L1693.6 293.2L1694.2 293.5L1694.9 293.8L1695.6 294.1L1696.3 294.3L1697 294.6L1697.6 294.9L1697.9 295L1698.3 295.2L1699 295.5L1699.7 295.8L1700.4 296.1L1701.1 296.4L1701.7 296.7L1702.4 296.9L1703.1 297.2L1703.8 297.5L1704.5 297.8L1705.1 298.1L1705.8 298.4L1706.5 298.6L1707.2 298.9L1707.9 299.2L1708.6 299.5L1709.2 299.7L1709.9 300L1710.6 300.3L1711.3 300.5L1712 300.8L1712.6 301.1L1713.3 301.3L1714 301.6L1714.7 301.9L1715.4 302.1L1716.1 302.4L1716.7 302.7L1717.4 302.9L1718.1 303.2L1718.8 303.4L1719.5 303.7L1720.1 304L1720.8 304.2L1721.5 304.5L1722.2 304.7L1722.9 305L1723.5 305.2L1723.8 305.3L1724.2 305.5L1724.9 305.7L1725.6 306L1726.3 306.2L1727 306.5L1727.6 306.7L1728.3 307L1729 307.2L1729.7 307.4L1730.4 307.7L1731 307.9L1731.7 308.2L1732.4 308.4L1733.1 308.6L1733.8 308.9L1734.5 309.1L1735.1 309.3L1735.8 309.6L1736.5 309.8L1737.2 310L1737.9 310.3L1738.5 310.5L1739.2 310.7L1739.9 310.9L1740.6 311.2L1741.3 311.4L1742 311.6L1742.6 311.8L1743.3 312.1L1744 312.3L1744.7 312.5L1745.4 312.7L1746 312.9L1746.7 313.1L1747.4 313.4L1748.1 313.6L1748.8 313.8L1749.5 314L1749.8 314.1L1750.1 314.2L1750.8 314.4L1751.5 314.6L1752.2 314.8L1752.9 315L1753.5 315.2L1754.2 315.4L1754.9 315.6L1755.6 315.8L1756.3 316L1757 316.2L1757.6 316.4L1758.3 316.6L1759 316.8L1759.7 317L1760.4 317.2L1761 317.4L1761.7 317.6L1762.4 317.8L1763.1 318L1763.8 318.2L1764.5 318.3L1765.1 318.5L1765.8 318.7L1766.5 318.9L1767.2 319.1L1767.9 319.3L1768.5 319.5L1769.2 319.6L1769.9 319.8L1770.6 320L1771.3 320.2L1771.9 320.4L1772.6 320.5L1773.3 320.7L1774 320.9L1774.7 321.1L1775.4 321.2L1775.8 321.4L1776 321.4L1776.7 321.6L1777.4 321.8L1778.1 321.9L1778.8 322.1L1779.4 322.3L1780.1 322.5L1780.8 322.6L1781.5 322.8L1782.2 323L1782.9 323.1L1783.5 323.3L1784.2 323.5L1784.9 323.6L1785.6 323.8L1786.3 324L1786.9 324.1L1787.6 324.3L1788.3 324.4L1789 324.6L1789.7 324.8L1790 324.8L1790.4 324.9L1791 325.1L1791.7 325.2L1792.4 325.4L1793.1 325.5L1793.8 325.7L1794.4 325.8L1795.1 326L1795.8 326.1L1796.5 326.3L1797.2 326.4L1797.9 326.6L1798.5 326.7L1799.2 326.9L1799.9 327L1800.6 327.1L1801.3 327.3L1801.9 327.4L1802.6 327.6L1803.3 327.7L1804 327.8L1804.7 328L1805.4 328.1L1806 328.3L1806.7 328.4L1807.4 328.5L1808.1 328.7L1808.8 328.8L1809.4 328.9L1810.1 329.1L1810.8 329.2L1811.5 329.3L1812.2 329.5L1812.9 329.6L1813.5 329.7L1814.2 329.8L1814.9 330L1815.6 330.1L1816.3 330.2L1816.9 330.4L1817.6 330.5L1818.3 330.6L1819 330.7L1819.7 330.9L1820.3 331L1821 331.1L1821.7 331.2L1822.4 331.4L1823.1 331.5L1823.8 331.6L1824.4 331.7L1825.1 331.9L1825.8 332L1826.5 332.1L1827.2 332.2L1827.8 332.3L1828.5 332.5L1829.2 332.6L1829.9 332.7L1830.6 332.8L1831.3 333L1831.9 333.1L1832.6 333.2L1833.3 333.3L1833.9 333.4L1834 333.4L1834.7 333.6L1835.3 333.7L1836 333.8L1836.7 333.9L1837.4 334L1838.1 334.2L1838.8 334.3L1839.4 334.4L1840.1 334.5L1840.8 334.6L1841.5 334.8L1842.2 334.9L1842.8 335L1843.5 335.1L1844.2 335.2L1844.9 335.3L1845.6 335.5L1846.3 335.6L1846.9 335.7L1847.6 335.8L1848.3 335.9L1849 336.1L1849.7 336.2L1850.3 336.3L1851 336.4L1851.7 336.5L1852.4 336.6L1853.1 336.7L1853.8 336.9L1854.4 337L1855.1 337.1L1855.8 337.2L1856.5 337.3L1857.2 337.4L1857.8 337.6L1858.5 337.7L1859.2 337.8L1859.9 337.9L1860.6 338L1861.3 338.1L1861.9 338.2L1862.6 338.3L1863.3 338.5L1864 338.6L1864.7 338.7L1865.3 338.8L1866 338.9L1866.7 339L1867.4 339.1L1868.1 339.2L1868.7 339.3L1869.4 339.4L1870.1 339.6L1870.8 339.7L1871.5 339.8L1872.2 339.9L1872.8 340L1873.5 340.1L1874.2 340.2L1874.9 340.3L1875.6 340.4L1876.2 340.5L1876.9 340.6L1877.6 340.7L1877.9 340.8L1878.3 340.8L1879 340.9L1879.7 341L1880.3 341.1L1881 341.2L1881.7 341.3L1882.4 341.4L1883.1 341.5L1883.7 341.6L1884.4 341.7L1885.1 341.8L1885.8 341.9L1886.5 342L1887.2 342.1L1887.8 342.2L1888.5 342.3L1889.2 342.4L1889.9 342.5L1890.6 342.6L1891.2 342.7L1891.9 342.8L1892.6 342.9L1893.3 343L1894 343.1L1894.7 343.2L1895.3 343.3L1896 343.4L1896.7 343.5L1897.4 343.6L1898.1 343.7L1898.7 343.8L1899.4 343.9L1900.1 343.9L1900.8 344L1901.5 344.1L1902.2 344.2L1902.8 344.3L1903.5 344.4L1904.2 344.5L1904.9 344.6L1905.6 344.7L1906.2 344.8L1906.9 344.8L1907.6 344.9L1908.3 345L1909 345.1L1909.7 345.2L1910.3 345.3L1911 345.4L1911.7 345.5L1912.4 345.5L1913.1 345.6L1913.7 345.7L1914.4 345.8L1915.1 345.9L1915.8 346L1916.5 346L1917.1 346.1L1917.8 346.2L1918.5 346.3L1919.2 346.4L1919.9 346.4L1920.6 346.5L1921.2 346.6L1921.9 346.7L1922 346.7L1922.6 346.8L1923.3 346.8L1924 346.9L1924.6 347L1925.3 347.1L1926 347.2L1926.7 347.2L1927.4 347.3L1928.1 347.4L1928.7 347.5L1929.4 347.5L1930.1 347.6L1930.8 347.7L1931.5 347.8L1932.1 347.8L1932.8 347.9L1933.5 348L1934.2 348.1L1934.9 348.1L1935.6 348.2L1936.2 348.3L1936.9 348.3L1937.6 348.4L1938.3 348.5L1939 348.6L1939.6 348.6L1940.3 348.7L1941 348.8L1941.7 348.8L1942.4 348.9L1943.1 349L1943.7 349L1944.4 349.1L1945.1 349.2L1945.8 349.2L1946.5 349.3L1947.1 349.4L1947.8 349.5L1948.5 349.5L1949.2 349.6L1949.9 349.7L1950.6 349.7L1951.2 349.8L1951.9 349.9L1952.6 349.9L1953.3 350L1954 350.1L1954.6 350.1L1955.3 350.2L1956 350.2L1956.7 350.3L1957.4 350.4L1958.1 350.4L1958.7 350.5L1959.4 350.6L1960.1 350.6L1960.8 350.7L1961.5 350.8L1962.1 350.8L1962.8 350.9L1963.5 351L1964.2 351L1964.9 351.1L1965.5 351.1L1966.2 351.2L1966.9 351.3L1967.6 351.3L1968.3 351.4L1969 351.5L1969.6 351.5L1970.3 351.6L1971 351.6L1971.7 351.7L1972.4 351.8L1973 351.8L1973.7 351.9L1974.4 352L1975.1 352L1975.8 352.1L1976.5 352.1L1977.1 352.2L1977.8 352.3L1978.5 352.3L1979.2 352.4L1979.9 352.4L1980.5 352.5L1981.2 352.6L1981.9 352.6L1982.6 352.7L1983.3 352.7L1984 352.8L1984.6 352.9L1985.3 352.9L1986 353" fill="none" stroke="#f39104" stroke-width="3.5" stroke-linejoin="round" stroke-linecap="round"/>
<path d="M120.9 873L121.1 869.5L121.3 866L121.5 862.5L121.7 859L121.9 855.5L122 849.5L122.2 839L122.4 828.6L122.6 818.1L122.8 807.7L123 797.2L123.2 786.7L123.4 776.3L123.6 765.8L123.8 755.4L123.9 744.9L124.1 734.5L124.3 730.7L124.5 728.3L124.7 725.9L124.9 723.7L125.1 721.7L125.3 719.8L125.5 718.3L125.7 717.1L125.8 716.3L126 715.6L126.2 715L126.4 714.4L126.6 713.9L126.8 713.4L127 712.9L127.2 712.4L127.4 712L127.6 711.7L127.7 711.4L127.9 711.1L128.1 710.9L128.3 710.7L128.5 710.6L128.7 710.5L128.9 710.5L129.1 710.4L129.3 710.4L129.5 710.3L129.6 710.3L129.8 710.3L130 710.2L130.2 710.2L130.4 710.2L130.6 710.1L130.8 710.1L131 710.1L131.2 710.1L131.4 710L131.5 710L131.7 710L131.9 710L132.1 710L132.3 710L132.5 710L132.7 710L132.9 710L133.1 710L133.3 710L133.4 710L133.6 710L133.8 710L134 710L134.2 710L134.4 710L134.6 710L134.8 710L135 710L135.2 710L135.3 710.1L135.5 710.1L135.7 710.1L135.9 710.1L136.1 710.1L136.3 710.2L136.5 710.2L136.7 710.2L136.9 710.2L137.1 710.3L137.2 710.3L137.4 710.3L137.6 710.3L137.8 710.4L138 710.4L138.2 710.4L138.4 710.5L138.6 710.5L138.8 710.5L139 710.6L139.1 710.6L139.3 710.6L139.5 710.7L139.7 710.7L139.9 710.7L140.1 710.8L140.3 710.8L140.5 710.9L140.7 710.9L140.9 710.9L141 711L141.2 711L141.4 711L141.6 711.1L141.8 711.1L142 711.2L142.2 711.2L142.4 711.2L142.6 711.3L142.8 711.3L142.9 711.4L143.1 711.4L143.3 711.4L143.5 711.5L143.7 711.5L143.9 711.5L144.1 711.6L144.3 711.6L144.5 711.6L144.7 711.7L144.8 711.7L145 711.7L145.2 711.8L145.4 711.8L145.6 711.8L145.8 711.9L146 711.9L146.2 711.9L146.4 712L146.6 712L146.7 712L146.9 712L147.1 712.1L147.3 712.1L147.5 712.1L147.7 712.1L147.9 712.1L148.1 712.2L148.3 712.2L148.5 712.2L148.6 712.2L148.8 712.2L149 712.3L149.2 712.3L149.4 712.3L149.6 712.3L149.8 712.3L150 712.3L150.2 712.4L150.4 712.4L150.5 712.4L150.7 712.4L150.9 712.4L151.1 712.5L151.3 712.5L151.5 712.5L151.7 712.5L151.9 712.5L152.1 712.5L152.3 712.6L152.4 712.6L152.6 712.6L152.8 712.6L153 712.6L153.2 712.6L153.4 712.7L153.6 712.7L153.8 712.7L154 712.7L154.2 712.7L154.3 712.8L154.5 712.8L154.7 712.8L154.9 712.8L155.1 712.8L155.3 712.8L155.5 712.9L155.7 712.9L155.9 712.9L156.1 712.9L156.2 712.9L156.4 712.9L156.6 712.9L156.8 713L157 713L157.2 713L157.4 713L157.6 713L157.8 713L158 713.1L158.1 713.1L158.3 713.1L158.5 713.1L158.7 713.1L158.9 713.1L159.1 713.1L159.3 713.2L159.5 713.2L159.7 713.2L159.9 713.2L160 713.2L160.2 713.2L160.4 713.3L160.6 713.3L160.8 713.3L161 713.3L161.2 713.3L161.4 713.3L161.6 713.3L161.8 713.4L161.9 713.4L162.1 713.4L162.3 713.4L162.5 713.4L162.7 713.4L162.9 713.4L163.1 713.5L163.3 713.5L163.5 713.5L163.7 713.5L163.8 713.5L164 713.5L164.2 713.5L164.4 713.5L164.6 713.6L164.8 713.6L165 713.6L165.2 713.6L165.4 713.6L165.6 713.6L165.7 713.6L165.9 713.6L166.1 713.7L166.3 713.7L166.5 713.7L166.7 713.7L166.9 713.7L167.1 713.7L167.3 713.7L167.5 713.7L167.6 713.8L167.8 713.8L168 713.8L168.2 713.8L168.4 713.8L168.6 713.8L168.8 713.8L169 713.8L169.2 713.9L169.4 713.9L169.5 713.9L169.7 713.9L169.9 713.9L170.1 713.9L170.3 713.9L170.5 713.9L170.7 713.9L170.9 714L171.1 714L171.3 714L171.4 714L171.6 714L171.8 714L172 714L172.2 714L172.4 714L172.6 714L172.8 714.1L173 714.1L173.2 714.1L173.3 714.1L173.5 714.1L173.7 714.1L173.9 714.1L174.1 714.1L174.3 714.1L174.5 714.1L174.7 714.2L174.9 714.2L175.1 714.2L175.2 714.2L175.4 714.2L175.6 714.2L175.8 714.2L176 714.2L176.2 714.2L176.4 714.2L176.6 714.2L176.8 714.3L177 714.3L177.1 714.3L177.3 714.3L177.5 714.3L177.7 714.3L177.9 714.3L178.1 714.3L178.3 714.3L178.5 714.3L178.7 714.3L178.9 714.3L179 714.4L179.2 714.4L179.4 714.4L179.6 714.4L179.8 714.4L180 714.4L180.2 714.4L180.4 714.4L180.6 714.4L180.8 714.4L180.9 714.4L181.1 714.4L181.3 714.4L181.5 714.5L181.7 714.5L181.9 714.5L182.1 714.5L182.3 714.5L182.5 714.5L182.7 714.5L182.8 714.5L183 714.5L183.2 714.5L183.4 714.5L183.6 714.5L183.8 714.6L184 714.6L184.2 714.6L184.4 714.6L184.6 714.6L184.7 714.6L184.9 714.6L185.1 714.6L185.3 714.6L185.5 714.6L185.7 714.6L185.9 714.6L186.1 714.7L186.3 714.7L186.5 714.7L186.6 714.7L186.8 714.7L187 714.7L187.2 714.7L187.4 714.7L187.6 714.7L187.8 714.7L188 714.7L188.2 714.7L188.4 714.7L188.5 714.8L188.7 714.8L188.9 714.8L189.1 714.8L189.3 714.8L189.5 714.8L189.7 714.8L189.9 714.8L190.1 714.8L190.3 714.8L190.4 714.8L190.6 714.8L190.8 714.8L191 714.9L191.2 714.9L191.4 714.9L191.6 714.9L191.8 714.9L192 714.9L192.2 714.9L192.3 714.9L192.5 714.9L192.7 714.9L192.9 714.9L193.1 714.9L193.3 714.9L193.5 715L193.7 715L193.9 715L194.1 715L194.2 715L194.4 715L194.6 715L194.8 715L195 715L195.2 715L195.4 715L195.6 715L195.8 715L196 715.1L196.1 715.1L196.3 715.1L196.5 715.1L196.7 715.1L198.1 715.1L199.4 715.2L200.8 715.2L202.2 715.3L203.5 715.3L204.9 715.4L206.3 715.4L207.6 715.5L209 715.5L210.3 715.6L211.7 715.6L213.1 715.7L214.4 715.7L215.8 715.7L217.2 715.8L218.5 715.8L219.9 715.9L221.3 715.9L222.6 715.9L224 716L225.3 716L226.7 716L228.1 716L229.4 716.1L230.8 716.1L232.2 716.1L233.5 716.1L234.9 716.1L236.2 716.2L237.6 716.2L239 716.2L240.3 716.2L241.7 716.2L243.1 716.2L244.4 716.2L245.8 716.2L247.2 716.2L248.5 716.2L249.9 716.2L251.2 716.2L252.6 716.2L254 716.2L255.3 716.2L256.7 716.2L258.1 716.2L259.4 716.2L260.8 716.2L262.1 716.2L263.5 716.2L264.9 715.6L266.2 715L267.6 714.4L269 713.9L270.3 713.3L271.7 712.7L273.1 712.2L274.4 711.7L275.8 711.1L277.1 710.6L278.5 710.1L279.9 709.6L281.2 709.2L282.6 708.7L284 708.2L285.3 707.8L286.7 707.3L288 706.9L289.4 706.5L290.8 706.1L292.1 705.7L293.5 705.3L294.9 704.9L296.2 704.5L297.6 704.2L299 703.8L300.3 703.4L301.7 703.1L303 702.8L304.4 702.4L305.8 702.1L307.1 701.8L308.5 701.5L309.9 701.2L311.2 700.9L312.6 700.6L313.9 700.3L315.3 700.1L316.7 699.8L318 699.5L319.4 699.3L320.8 699L322.1 698.8L323.5 698.5L324.9 698.3L326.2 698.1L327.6 697.9L328.9 697.7L330.3 697.5L331.7 697.3L333 697.1L334.4 696.9L335.8 696.7L337.1 696.5L338.5 696.3L339.8 696.1L341.2 696L342.6 695.8L343.9 695.6L345.3 695.5L346.7 695.3L348 695.2L349.4 695L350.8 694.9L352.1 694.8L353.5 694.6L354.8 694.5L356.2 694.4L357.6 694.3L358.9 694.1L360.3 694L361.7 693.9L363 693.8L364.4 693.7L365.7 693.6L367.1 693.5L368.5 693.4L369.8 693.3L371.2 693.2L372.6 693.1L373.9 693.1L375.3 693L376.7 692.9L378 692.8L379.4 692.7L380.7 692.7L382.1 692.6L383.5 692.5L384.8 692.5L386.2 692.4L387.6 692.3L388.9 692.3L390.3 692.2L391.6 692.1L393 692.1L394.4 692L395.7 692L397.1 691.9L398.5 691.9L399.8 691.8L401.2 691.8L402.6 691.7L403.9 691.7L405.3 691.7L406.6 691.6L408 691.6L409.4 691.5L410.7 691.5L412.1 691.5L413.5 691.4L414.8 691.4L416.2 691.4L417.5 691.3L418.9 691.3L420.3 691.3L421.6 691.2L423 691.2L424.4 691.2L425.7 691.1L427.1 691.1L428.5 691.1L429.8 691.1L431.2 691L432.5 691L433.9 691L435.3 691L436.6 690.9L438 690.9L439.4 690.9L440.7 690.9L442.1 690.9L443.4 690.8L444.8 690.8L446.2 690.8L447.5 690.8L448.9 690.7L450.3 690.7L451.6 690.7L453 690.7L454.4 690.7L455.7 690.7L457.1 690.6L458.4 690.6L459.8 690.6L461.2 690.6L462.5 690.6L463.9 690.5L465.3 690.5L466.6 690.5L468 690.5L469.3 690.5L470.7 690.5L472.1 690.4L473.4 690.4L474.8 690.4L476.2 690.4L477.5 690.4L478.9 690.4L480.3 690.3L481.6 690.3L483 690.3L484.3 690.3L485.7 690.3L487.1 690.3L488.4 690.3L489.8 690.2L491.2 690.2L492.5 690.2L493.9 690.2L495.2 690.2L496.6 690.2L498 690.2L499.3 690.2L500.7 690.1L502.1 690.1L503.4 690.1L504.8 690.1L506.2 690.1L507.5 690.1L508.9 690.1L510.2 690.1L511.6 690.1L513 690L514.3 690L515.7 690L517.1 690L518.4 690L519.8 690L521.1 690L522.5 690L523.9 690L525.2 690L526.6 689.9L528 689.9L529.3 689.9L530.7 689.9L532.1 689.9L533.4 689.9L534.8 689.9L536.1 689.9L537.5 689.9L538.9 689.9L540.2 689.9L541.6 689.8L543 689.8L544.3 689.8L545.7 689.8L547 689.8L548.4 689.8L549.8 689.8L551.1 689.8L552.5 689.8L553.9 689.8L555.2 689.8L556.6 689.8L558 689.7L559.3 689.7L560.7 689.7L562 689.7L563.4 689.7L564.8 689.7L566.1 689.7L567.5 689.7L568.9 689.7L570.2 689.7L571.6 689.7L572.9 689.7L574.3 689.7L575.7 689.6L577 689.6L578.4 689.6L579.8 689.6L581.1 689.6L582.5 689.6L583.9 689.6L585.2 689.6L586.6 689.6L587.9 689.6L589.3 689.6L590.7 689.6L592 689.6L593.4 689.6L594.8 689.6L596.1 689.5L597.5 689.5L598.8 689.5L600.2 689.5L601.6 689.5L602.9 689.5L604.3 689.5L604.3 711.3L602.9 711.3L601.6 711.4L600.2 711.4L598.8 711.4L597.5 711.4L596.1 711.4L594.8 711.4L593.4 711.5L592 711.5L590.7 711.5L589.3 711.5L587.9 711.5L586.6 711.5L585.2 711.6L583.9 711.6L582.5 711.6L581.1 711.6L579.8 711.6L578.4 711.7L577 711.7L575.7 711.7L574.3 711.7L572.9 711.7L571.6 711.8L570.2 711.8L568.9 711.8L567.5 711.8L566.1 711.8L564.8 711.8L563.4 711.9L562 711.9L560.7 711.9L559.3 711.9L558 711.9L556.6 712L555.2 712L553.9 712L552.5 712L551.1 712L549.8 712.1L548.4 712.1L547 712.1L545.7 712.1L544.3 712.1L543 712.2L541.6 712.2L540.2 712.2L538.9 712.2L537.5 712.2L536.1 712.3L534.8 712.3L533.4 712.3L532.1 712.3L530.7 712.3L529.3 712.4L528 712.4L526.6 712.4L525.2 712.4L523.9 712.4L522.5 712.5L521.1 712.5L519.8 712.5L518.4 712.5L517.1 712.5L515.7 712.6L514.3 712.6L513 712.6L511.6 712.6L510.2 712.6L508.9 712.7L507.5 712.7L506.2 712.7L504.8 712.7L503.4 712.8L502.1 712.8L500.7 712.8L499.3 712.8L498 712.8L496.6 712.9L495.2 712.9L493.9 712.9L492.5 712.9L491.2 712.9L489.8 713L488.4 713L487.1 713L485.7 713L484.3 713.1L483 713.1L481.6 713.1L480.3 713.1L478.9 713.1L477.5 713.2L476.2 713.2L474.8 713.2L473.4 713.2L472.1 713.3L470.7 713.3L469.3 713.3L468 713.3L466.6 713.3L465.3 713.4L463.9 713.4L462.5 713.4L461.2 713.4L459.8 713.5L458.4 713.5L457.1 713.5L455.7 713.5L454.4 713.5L453 713.6L451.6 713.6L450.3 713.6L448.9 713.6L447.5 713.7L446.2 713.7L444.8 713.7L443.4 713.7L442.1 713.7L440.7 713.8L439.4 713.8L438 713.8L436.6 713.8L435.3 713.9L433.9 713.9L432.5 713.9L431.2 713.9L429.8 714L428.5 714L427.1 714L425.7 714.1L424.4 714.1L423 714.1L421.6 714.1L420.3 714.2L418.9 714.2L417.5 714.2L416.2 714.3L414.8 714.3L413.5 714.3L412.1 714.4L410.7 714.4L409.4 714.4L408 714.4L406.6 714.5L405.3 714.5L403.9 714.5L402.6 714.6L401.2 714.6L399.8 714.6L398.5 714.7L397.1 714.7L395.7 714.7L394.4 714.8L393 714.8L391.6 714.8L390.3 714.9L388.9 714.9L387.6 714.9L386.2 714.9L384.8 715L383.5 715L382.1 715L380.7 715.1L379.4 715.1L378 715.1L376.7 715.2L375.3 715.2L373.9 715.2L372.6 715.2L371.2 715.3L369.8 715.3L368.5 715.3L367.1 715.4L365.7 715.4L364.4 715.4L363 715.4L361.7 715.5L360.3 715.5L358.9 715.5L357.6 715.5L356.2 715.6L354.8 715.6L353.5 715.6L352.1 715.6L350.8 715.7L349.4 715.7L348 715.7L346.7 715.7L345.3 715.7L343.9 715.8L342.6 715.8L341.2 715.8L339.8 715.8L338.5 715.8L337.1 715.8L335.8 715.9L334.4 715.9L333 715.9L331.7 715.9L330.3 715.9L328.9 715.9L327.6 715.9L326.2 715.9L324.9 715.9L323.5 715.9L322.1 716L320.8 716L319.4 716L318 716L316.7 716L315.3 716L313.9 716L312.6 716L311.2 716L309.9 716L308.5 716L307.1 716L305.8 716L304.4 716L303 716.1L301.7 716.1L300.3 716.1L299 716.1L297.6 716.1L296.2 716.1L294.9 716.1L293.5 716.1L292.1 716.1L290.8 716.1L289.4 716.1L288 716.1L286.7 716.1L285.3 716.1L284 716.1L282.6 716.1L281.2 716.1L279.9 716.1L278.5 716.2L277.1 716.2L275.8 716.2L274.4 716.2L273.1 716.2L271.7 716.2L270.3 716.2L269 716.2L267.6 716.2L266.2 716.2L264.9 716.2L263.5 716.3L262.1 716.9L260.8 717.5L259.4 718.2L258.1 718.8L256.7 719.5L255.3 720.2L254 720.9L252.6 721.6L251.2 722.4L249.9 723.1L248.5 723.9L247.2 724.7L245.8 725.5L244.4 726.4L243.1 727.3L241.7 728.1L240.3 729.1L239 730L237.6 731L236.2 732L234.9 733L233.5 734L232.2 735.1L230.8 736.2L229.4 737.4L228.1 738.5L226.7 739.7L225.3 741L224 742.2L222.6 743.5L221.3 744.8L219.9 746.2L218.5 747.6L217.2 749L215.8 750.5L214.4 751.9L213.1 753.5L211.7 755L210.3 756.6L209 758.2L207.6 759.8L206.3 761.5L204.9 763.2L203.5 765L202.2 766.7L200.8 768.6L199.4 770.4L198.1 772.3L196.7 774.2L196.5 774.4L196.3 774.7L196.1 775L196 775.2L195.8 775.5L195.6 775.8L195.4 776L195.2 776.3L195 776.6L194.8 776.9L194.6 777.1L194.4 777.4L194.2 777.7L194.1 778L193.9 778.2L193.7 778.5L193.5 778.8L193.3 779.1L193.1 779.3L192.9 779.6L192.7 779.9L192.5 780.2L192.3 780.5L192.2 780.7L192 781L191.8 781.3L191.6 781.6L191.4 781.9L191.2 782.2L191 782.4L190.8 782.7L190.6 783L190.4 783.3L190.3 783.6L190.1 783.9L189.9 784.2L189.7 784.4L189.5 784.7L189.3 785L189.1 785.3L188.9 785.6L188.7 785.9L188.5 786.2L188.4 786.5L188.2 786.8L188 787.1L187.8 787.4L187.6 787.7L187.4 788L187.2 788.3L187 788.6L186.8 788.9L186.6 789.1L186.5 789.4L186.3 789.7L186.1 790L185.9 790.3L185.7 790.7L185.5 791L185.3 791.3L185.1 791.6L184.9 791.9L184.7 792.2L184.6 792.5L184.4 792.8L184.2 793.1L184 793.4L183.8 793.7L183.6 794L183.4 794.3L183.2 794.6L183 794.9L182.8 795.2L182.7 795.6L182.5 795.9L182.3 796.2L182.1 796.5L181.9 796.8L181.7 797.1L181.5 797.4L181.3 797.7L181.1 798.1L180.9 798.4L180.8 798.7L180.6 799L180.4 799.3L180.2 799.6L180 800L179.8 800.3L179.6 800.6L179.4 800.9L179.2 801.2L179 801.6L178.9 801.9L178.7 802.2L178.5 802.5L178.3 802.9L178.1 803.2L177.9 803.5L177.7 803.8L177.5 804.2L177.3 804.5L177.1 804.8L177 805.1L176.8 805.5L176.6 805.8L176.4 806.1L176.2 806.5L176 806.8L175.8 807.1L175.6 807.5L175.4 807.8L175.2 808.1L175.1 808.5L174.9 808.8L174.7 809.1L174.5 809.5L174.3 809.8L174.1 810.1L173.9 810.5L173.7 810.8L173.5 811.1L173.3 811.5L173.2 811.8L173 812.1L172.8 812.5L172.6 812.8L172.4 813.2L172.2 813.5L172 813.8L171.8 814.2L171.6 814.5L171.4 814.9L171.3 815.2L171.1 815.5L170.9 815.9L170.7 816.2L170.5 816.6L170.3 816.9L170.1 817.3L169.9 817.6L169.7 817.9L169.5 818.3L169.4 818.6L169.2 819L169 819.3L168.8 819.7L168.6 820L168.4 820.4L168.2 820.7L168 821L167.8 821.4L167.6 821.7L167.5 822.1L167.3 822.4L167.1 822.8L166.9 823.1L166.7 823.5L166.5 823.8L166.3 824.2L166.1 824.5L165.9 824.8L165.7 825.2L165.6 825.5L165.4 825.9L165.2 826.2L165 826.6L164.8 826.9L164.6 827.3L164.4 827.6L164.2 828L164 828.3L163.8 828.6L163.7 829L163.5 829.3L163.3 829.7L163.1 830L162.9 830.4L162.7 830.7L162.5 831.1L162.3 831.4L162.1 831.7L161.9 832.1L161.8 832.4L161.6 832.8L161.4 833.1L161.2 833.5L161 833.8L160.8 834.1L160.6 834.5L160.4 834.8L160.2 835.2L160 835.5L159.9 835.8L159.7 836.2L159.5 836.5L159.3 836.8L159.1 837.2L158.9 837.5L158.7 837.9L158.5 838.2L158.3 838.5L158.1 838.9L158 839.2L157.8 839.5L157.6 839.8L157.4 840.2L157.2 840.5L157 840.8L156.8 841.2L156.6 841.5L156.4 841.8L156.2 842.1L156.1 842.5L155.9 842.8L155.7 843.1L155.5 843.4L155.3 843.7L155.1 844.1L154.9 844.4L154.7 844.7L154.5 845L154.3 845.3L154.2 845.6L154 845.9L153.8 846.2L153.6 846.5L153.4 846.8L153.2 847.1L153 847.4L152.8 847.7L152.6 848L152.4 848.3L152.3 848.6L152.1 848.9L151.9 849.2L151.7 849.5L151.5 849.7L151.3 850L151.1 850.3L150.9 850.6L150.7 850.8L150.5 851.1L150.4 851.4L150.2 851.6L150 851.9L149.8 852.1L149.6 852.4L149.4 852.6L149.2 852.9L149 853.1L148.8 853.4L148.6 853.6L148.5 853.9L148.3 854.1L148.1 854.3L147.9 854.5L147.7 854.8L147.5 855L147.3 855.2L147.1 855.4L146.9 855.6L146.7 855.8L146.6 856L146.4 856.2L146.2 856.4L146 856.6L145.8 856.8L145.6 856.9L145.4 857.1L145.2 857.3L145 857.5L144.8 857.6L144.7 857.8L144.5 857.9L144.3 858.1L144.1 858.2L143.9 858.3L143.7 858.5L143.5 858.6L143.3 858.7L143.1 858.8L142.9 859L142.8 859.1L142.6 859.2L142.4 859.3L142.2 859.4L142 859.4L141.8 859.5L141.6 859.6L141.4 859.7L141.2 859.7L141 859.8L140.9 859.8L140.7 859.9L140.5 859.9L140.3 859.9L140.1 860L139.9 860L139.7 860L139.5 860L139.3 860L139.1 860L139 860L138.8 859.9L138.6 859.9L138.4 859.9L138.2 859.8L138 859.7L137.8 859.7L137.6 859.6L137.4 859.5L137.2 859.4L137.1 859.3L136.9 859.2L136.7 859.1L136.5 859L136.3 858.8L136.1 858.7L135.9 858.5L135.7 858.3L135.5 858.1L135.3 857.9L135.2 857.7L135 857.5L134.8 857.3L134.6 857L134.4 856.8L134.2 856.5L134 856.2L133.8 855.9L133.6 855.6L133.4 855.3L133.3 854.9L133.1 854.6L132.9 854.2L132.7 853.8L132.5 853.4L132.3 853L132.1 852.5L131.9 852.1L131.7 851.6L131.5 851.1L131.4 850.6L131.2 850L131 849.5L130.8 848.9L130.6 848.4L130.4 847.8L130.2 847.1L130 846.5L129.8 845.9L129.6 845.2L129.5 844.5L129.3 843.9L129.1 843.2L128.9 842.5L128.7 841.8L128.5 841.1L128.3 840.3L128.1 839.6L127.9 838.9L127.7 838.2L127.6 837.4L127.4 836.7L127.2 836L127 835.2L126.8 834.5L126.6 833.8L126.4 833.1L126.2 832.4L126 831.7L125.8 831L125.7 830.3L125.5 829.6L125.3 828.9L125.1 828.2L124.9 827.5L124.7 826.9L124.5 826.2L124.3 825.5L124.1 824.8L123.9 824.1L123.8 823.4L123.6 823.9L123.4 827.4L123.2 830.9L123 834.4L122.8 837.9L122.6 841.4L122.4 845L122.2 848.5L122 852L121.9 859.9L121.7 870.4L121.5 880.8L121.3 891.3L121.1 901.7L120.9 912.2Z" fill="#cccccc"/>
<path d="M120.9 912.2L120.9 912.2L121.1 901.7L121.3 891.3L121.5 880.8L121.7 870.4L121.9 859.9L122 852L122.2 848.5L122.4 845L122.6 841.4L122.8 837.9L123 834.4L123.2 830.9L123.4 827.4L123.6 823.9L123.8 823.4L123.9 824.1L124.1 824.8L124.3 825.5L124.5 826.2L124.7 826.9L124.9 827.5L125.1 828.2L125.3 828.9L125.5 829.6L125.7 830.3L125.8 831L126 831.7L126.2 832.4L126.4 833.1L126.6 833.8L126.8 834.5L127 835.2L127.2 836L127.4 836.7L127.6 837.4L127.7 838.2L127.9 838.9L128.1 839.6L128.3 840.3L128.5 841.1L128.7 841.8L128.9 842.5L129.1 843.2L129.3 843.9L129.5 844.5L129.6 845.2L129.8 845.9L130 846.5L130.2 847.1L130.4 847.8L130.6 848.4L130.8 848.9L131 849.5L131.2 850L131.4 850.6L131.5 851.1L131.7 851.6L131.9 852.1L132.1 852.5L132.3 853L132.5 853.4L132.7 853.8L132.9 854.2L133.1 854.6L133.3 854.9L133.4 855.3L133.6 855.6L133.8 855.9L134 856.2L134.2 856.5L134.4 856.8L134.6 857L134.8 857.3L135 857.5L135.2 857.7L135.3 857.9L135.5 858.1L135.7 858.3L135.9 858.5L136.1 858.7L136.3 858.8L136.5 859L136.7 859.1L136.9 859.2L137.1 859.3L137.2 859.4L137.4 859.5L137.6 859.6L137.8 859.7L138 859.7L138.2 859.8L138.4 859.9L138.6 859.9L138.8 859.9L139 860L139.1 860L139.3 860L139.5 860L139.7 860L139.9 860L140.1 860L140.3 859.9L140.5 859.9L140.7 859.9L140.9 859.8L141 859.8L141.2 859.7L141.4 859.7L141.6 859.6L141.8 859.5L142 859.4L142.2 859.4L142.4 859.3L142.6 859.2L142.8 859.1L142.9 859L143.1 858.8L143.3 858.7L143.5 858.6L143.7 858.5L143.9 858.3L144.1 858.2L144.3 858.1L144.5 857.9L144.7 857.8L144.8 857.6L145 857.5L145.2 857.3L145.4 857.1L145.6 856.9L145.8 856.8L146 856.6L146.2 856.4L146.4 856.2L146.6 856L146.7 855.8L146.9 855.6L147.1 855.4L147.3 855.2L147.5 855L147.7 854.8L147.9 854.5L148.1 854.3L148.3 854.1L148.5 853.9L148.6 853.6L148.8 853.4L149 853.1L149.2 852.9L149.4 852.6L149.6 852.4L149.8 852.1L150 851.9L150.2 851.6L150.4 851.4L150.5 851.1L150.7 850.8L150.9 850.6L151.1 850.3L151.3 850L151.5 849.7L151.7 849.5L151.9 849.2L152.1 848.9L152.3 848.6L152.4 848.3L152.6 848L152.8 847.7L153 847.4L153.2 847.1L153.4 846.8L153.6 846.5L153.8 846.2L154 845.9L154.2 845.6L154.3 845.3L154.5 845L154.7 844.7L154.9 844.4L155.1 844.1L155.3 843.7L155.5 843.4L155.7 843.1L155.9 842.8L156.1 842.5L156.2 842.1L156.4 841.8L156.6 841.5L156.8 841.2L157 840.8L157.2 840.5L157.4 840.2L157.6 839.8L157.8 839.5L158 839.2L158.1 838.9L158.3 838.5L158.5 838.2L158.7 837.9L158.9 837.5L159.1 837.2L159.3 836.8L159.5 836.5L159.7 836.2L159.9 835.8L160 835.5L160.2 835.2L160.4 834.8L160.6 834.5L160.8 834.1L161 833.8L161.2 833.5L161.4 833.1L161.6 832.8L161.8 832.4L161.9 832.1L162.1 831.7L162.3 831.4L162.5 831.1L162.7 830.7L162.9 830.4L163.1 830L163.3 829.7L163.5 829.3L163.7 829L163.8 828.6L164 828.3L164.2 828L164.4 827.6L164.6 827.3L164.8 826.9L165 826.6L165.2 826.2L165.4 825.9L165.6 825.5L165.7 825.2L165.9 824.8L166.1 824.5L166.3 824.2L166.5 823.8L166.7 823.5L166.9 823.1L167.1 822.8L167.3 822.4L167.5 822.1L167.6 821.7L167.8 821.4L168 821L168.2 820.7L168.4 820.4L168.6 820L168.8 819.7L169 819.3L169.2 819L169.4 818.6L169.5 818.3L169.7 817.9L169.9 817.6L170.1 817.3L170.3 816.9L170.5 816.6L170.7 816.2L170.9 815.9L171.1 815.5L171.3 815.2L171.4 814.9L171.6 814.5L171.8 814.2L172 813.8L172.2 813.5L172.4 813.2L172.6 812.8L172.8 812.5L173 812.1L173.2 811.8L173.3 811.5L173.5 811.1L173.7 810.8L173.9 810.5L174.1 810.1L174.3 809.8L174.5 809.5L174.7 809.1L174.9 808.8L175.1 808.5L175.2 808.1L175.4 807.8L175.6 807.5L175.8 807.1L176 806.8L176.2 806.5L176.4 806.1L176.6 805.8L176.8 805.5L177 805.1L177.1 804.8L177.3 804.5L177.5 804.2L177.7 803.8L177.9 803.5L178.1 803.2L178.3 802.9L178.5 802.5L178.7 802.2L178.9 801.9L179 801.6L179.2 801.2L179.4 800.9L179.6 800.6L179.8 800.3L180 800L180.2 799.6L180.4 799.3L180.6 799L180.8 798.7L180.9 798.4L181.1 798.1L181.3 797.7L181.5 797.4L181.7 797.1L181.9 796.8L182.1 796.5L182.3 796.2L182.5 795.9L182.7 795.6L182.8 795.2L183 794.9L183.2 794.6L183.4 794.3L183.6 794L183.8 793.7L184 793.4L184.2 793.1L184.4 792.8L184.6 792.5L184.7 792.2L184.9 791.9L185.1 791.6L185.3 791.3L185.5 791L185.7 790.7L185.9 790.3L186.1 790L186.3 789.7L186.5 789.4L186.6 789.1L186.8 788.9L187 788.6L187.2 788.3L187.4 788L187.6 787.7L187.8 787.4L188 787.1L188.2 786.8L188.4 786.5L188.5 786.2L188.7 785.9L188.9 785.6L189.1 785.3L189.3 785L189.5 784.7L189.7 784.4L189.9 784.2L190.1 783.9L190.3 783.6L190.4 783.3L190.6 783L190.8 782.7L191 782.4L191.2 782.2L191.4 781.9L191.6 781.6L191.8 781.3L192 781L192.2 780.7L192.3 780.5L192.5 780.2L192.7 779.9L192.9 779.6L193.1 779.3L193.3 779.1L193.5 778.8L193.7 778.5L193.9 778.2L194.1 778L194.2 777.7L194.4 777.4L194.6 777.1L194.8 776.9L195 776.6L195.2 776.3L195.4 776L195.6 775.8L195.8 775.5L196 775.2L196.1 775L196.3 774.7L196.5 774.4L196.7 774.2L198.1 772.3L199.4 770.4L200.8 768.6L202.2 766.7L203.5 765L204.9 763.2L206.3 761.5L207.6 759.8L209 758.2L210.3 756.6L211.7 755L213.1 753.5L214.4 751.9L215.8 750.5L217.2 749L218.5 747.6L219.9 746.2L221.3 744.8L222.6 743.5L224 742.2L225.3 741L226.7 739.7L228.1 738.5L229.4 737.4L230.8 736.2L232.2 735.1L233.5 734L234.9 733L236.2 732L237.6 731L239 730L240.3 729.1L241.7 728.1L243.1 727.3L244.4 726.4L245.8 725.5L247.2 724.7L248.5 723.9L249.9 723.1L251.2 722.4L252.6 721.6L254 720.9L255.3 720.2L256.7 719.5L258.1 718.8L259.4 718.2L260.8 717.5L262.1 716.9L263.5 716.3L264.9 716.2L266.2 716.2L267.6 716.2L269 716.2L270.3 716.2L271.7 716.2L273.1 716.2L274.4 716.2L275.8 716.2L277.1 716.2L278.5 716.2L279.9 716.1L281.2 716.1L282.6 716.1L284 716.1L285.3 716.1L286.7 716.1L288 716.1L289.4 716.1L290.8 716.1L292.1 716.1L293.5 716.1L294.9 716.1L296.2 716.1L297.6 716.1L299 716.1L300.3 716.1L301.7 716.1L303 716.1L304.4 716L305.8 716L307.1 716L308.5 716L309.9 716L311.2 716L312.6 716L313.9 716L315.3 716L316.7 716L318 716L319.4 716L320.8 716L322.1 716L323.5 715.9L324.9 715.9L326.2 715.9L327.6 715.9L328.9 715.9L330.3 715.9L331.7 715.9L333 715.9L334.4 715.9L335.8 715.9L337.1 715.8L338.5 715.8L339.8 715.8L341.2 715.8L342.6 715.8L343.9 715.8L345.3 715.7L346.7 715.7L348 715.7L349.4 715.7L350.8 715.7L352.1 715.6L353.5 715.6L354.8 715.6L356.2 715.6L357.6 715.5L358.9 715.5L360.3 715.5L361.7 715.5L363 715.4L364.4 715.4L365.7 715.4L367.1 715.4L368.5 715.3L369.8 715.3L371.2 715.3L372.6 715.2L373.9 715.2L375.3 715.2L376.7 715.2L378 715.1L379.4 715.1L380.7 715.1L382.1 715L383.5 715L384.8 715L386.2 714.9L387.6 714.9L388.9 714.9L390.3 714.9L391.6 714.8L393 714.8L394.4 714.8L395.7 714.7L397.1 714.7L398.5 714.7L399.8 714.6L401.2 714.6L402.6 714.6L403.9 714.5L405.3 714.5L406.6 714.5L408 714.4L409.4 714.4L410.7 714.4L412.1 714.4L413.5 714.3L414.8 714.3L416.2 714.3L417.5 714.2L418.9 714.2L420.3 714.2L421.6 714.1L423 714.1L424.4 714.1L425.7 714.1L427.1 714L428.5 714L429.8 714L431.2 713.9L432.5 713.9L433.9 713.9L435.3 713.9L436.6 713.8L438 713.8L439.4 713.8L440.7 713.8L442.1 713.7L443.4 713.7L444.8 713.7L446.2 713.7L447.5 713.7L448.9 713.6L450.3 713.6L451.6 713.6L453 713.6L454.4 713.5L455.7 713.5L457.1 713.5L458.4 713.5L459.8 713.5L461.2 713.4L462.5 713.4L463.9 713.4L465.3 713.4L466.6 713.3L468 713.3L469.3 713.3L470.7 713.3L472.1 713.3L473.4 713.2L474.8 713.2L476.2 713.2L477.5 713.2L478.9 713.1L480.3 713.1L481.6 713.1L483 713.1L484.3 713.1L485.7 713L487.1 713L488.4 713L489.8 713L491.2 712.9L492.5 712.9L493.9 712.9L495.2 712.9L496.6 712.9L498 712.8L499.3 712.8L500.7 712.8L502.1 712.8L503.4 712.8L504.8 712.7L506.2 712.7L507.5 712.7L508.9 712.7L510.2 712.6L511.6 712.6L513 712.6L514.3 712.6L515.7 712.6L517.1 712.5L518.4 712.5L519.8 712.5L521.1 712.5L522.5 712.5L523.9 712.4L525.2 712.4L526.6 712.4L528 712.4L529.3 712.4L530.7 712.3L532.1 712.3L533.4 712.3L534.8 712.3L536.1 712.3L537.5 712.2L538.9 712.2L540.2 712.2L541.6 712.2L543 712.2L544.3 712.1L545.7 712.1L547 712.1L548.4 712.1L549.8 712.1L551.1 712L552.5 712L553.9 712L555.2 712L556.6 712L558 711.9L559.3 711.9L560.7 711.9L562 711.9L563.4 711.9L564.8 711.8L566.1 711.8L567.5 711.8L568.9 711.8L570.2 711.8L571.6 711.8L572.9 711.7L574.3 711.7L575.7 711.7L577 711.7L578.4 711.7L579.8 711.6L581.1 711.6L582.5 711.6L583.9 711.6L585.2 711.6L586.6 711.5L587.9 711.5L589.3 711.5L590.7 711.5L592 711.5L593.4 711.5L594.8 711.4L596.1 711.4L597.5 711.4L598.8 711.4L600.2 711.4L601.6 711.4L602.9 711.3L604.3 711.3L604.3 912.2Z" fill="#a3a3a3"/>
<path d="M120.9 912.2L121.1 901.7L121.3 891.3L121.5 880.8L121.7 870.4L121.9 859.9L122 849.5L122.2 839L122.4 828.6L122.6 818.1L122.8 807.7L123 797.2L123.2 786.7L123.4 776.3L123.6 765.8L123.8 755.4L123.9 744.9L124.1 734.5L124.2 732.8L124.3 730.7L124.5 728.3L124.7 725.9L124.9 723.7L125.1 721.7L125.3 719.8L125.5 718.3L125.7 717.1L125.8 716.5L125.8 716.3L126 715.6L126.2 715L126.4 714.4L126.6 713.9L126.8 713.4L127 712.9L127.2 712.4L127.4 712L127.6 711.7L127.7 711.4L127.9 711.1L128.1 710.9L128.3 710.7L128.5 710.6L128.7 710.5L128.7 710.5L128.9 710.5L129.1 710.4L129.3 710.4L129.5 710.3L129.6 710.3L129.8 710.3L130 710.2L130.2 710.2L130.4 710.2L130.6 710.1L130.8 710.1L131 710.1L131.2 710.1L131.4 710L131.5 710L131.7 710L131.9 710L132.1 710L132.3 710L132.5 710L132.7 710L132.9 710L133.1 710L133.1 710L133.3 710L133.4 710L133.6 710L133.8 710L134 710L134.2 710L134.4 710L134.6 710L134.8 710L135 710L135.2 710L135.3 710.1L135.5 710.1L135.7 710.1L135.9 710.1L136.1 710.1L136.3 710.2L136.5 710.2L136.7 710.2L136.9 710.2L137.1 710.3L137.2 710.3L137.4 710.3L137.6 710.3L137.8 710.4L138 710.4L138.2 710.4L138.4 710.5L138.6 710.5L138.8 710.5L139 710.6L139.1 710.6L139.3 710.6L139.5 710.7L139.7 710.7L139.9 710.7L140.1 710.8L140.3 710.8L140.5 710.9L140.7 710.9L140.9 710.9L141 711L141.2 711L141.4 711L141.6 711.1L141.8 711.1L142 711.2L142.2 711.2L142.4 711.2L142.6 711.3L142.8 711.3L142.9 711.4L143.1 711.4L143.3 711.4L143.5 711.5L143.7 711.5L143.9 711.5L144.1 711.6L144.3 711.6L144.5 711.6L144.7 711.7L144.8 711.7L145 711.7L145.2 711.8L145.4 711.8L145.6 711.8L145.8 711.9L146 711.9L146.2 711.9L146.4 712L146.6 712L146.7 712L146.9 712L147.1 712.1L147.3 712.1L147.5 712.1L147.7 712.1L147.8 712.1L147.9 712.1L148.1 712.2L148.3 712.2L148.5 712.2L148.6 712.2L148.8 712.2L149 712.3L149.2 712.3L149.4 712.3L149.6 712.3L149.8 712.3L150 712.3L150.2 712.4L150.4 712.4L150.5 712.4L150.7 712.4L150.9 712.4L151.1 712.5L151.3 712.5L151.5 712.5L151.7 712.5L151.9 712.5L152.1 712.5L152.3 712.6L152.4 712.6L152.6 712.6L152.8 712.6L153 712.6L153.2 712.6L153.4 712.7L153.6 712.7L153.8 712.7L154 712.7L154.2 712.7L154.3 712.8L154.5 712.8L154.7 712.8L154.9 712.8L155.1 712.8L155.3 712.8L155.5 712.9L155.7 712.9L155.9 712.9L156.1 712.9L156.2 712.9L156.4 712.9L156.6 712.9L156.8 713L157 713L157.2 713L157.4 713L157.6 713L157.8 713L158 713.1L158.1 713.1L158.3 713.1L158.5 713.1L158.7 713.1L158.9 713.1L159.1 713.1L159.3 713.2L159.5 713.2L159.7 713.2L159.9 713.2L160 713.2L160.2 713.2L160.4 713.3L160.6 713.3L160.8 713.3L161 713.3L161.2 713.3L161.4 713.3L161.6 713.3L161.8 713.4L161.9 713.4L162.1 713.4L162.3 713.4L162.5 713.4L162.7 713.4L162.9 713.4L163.1 713.5L163.3 713.5L163.5 713.5L163.7 713.5L163.8 713.5L164 713.5L164.2 713.5L164.4 713.5L164.6 713.6L164.8 713.6L165 713.6L165.2 713.6L165.4 713.6L165.6 713.6L165.7 713.6L165.9 713.6L166.1 713.7L166.3 713.7L166.5 713.7L166.7 713.7L166.9 713.7L167.1 713.7L167.3 713.7L167.5 713.7L167.6 713.8L167.8 713.8L168 713.8L168.2 713.8L168.4 713.8L168.6 713.8L168.8 713.8L169 713.8L169.2 713.9L169.4 713.9L169.5 713.9L169.7 713.9L169.9 713.9L170.1 713.9L170.3 713.9L170.5 713.9L170.7 713.9L170.9 714L171.1 714L171.3 714L171.4 714L171.6 714L171.8 714L172 714L172.2 714L172.4 714L172.6 714L172.8 714.1L173 714.1L173.2 714.1L173.3 714.1L173.5 714.1L173.7 714.1L173.9 714.1L174.1 714.1L174.3 714.1L174.5 714.1L174.7 714.2L174.9 714.2L175.1 714.2L175.2 714.2L175.4 714.2L175.6 714.2L175.8 714.2L176 714.2L176.2 714.2L176.4 714.2L176.6 714.2L176.8 714.3L177 714.3L177.1 714.3L177.3 714.3L177.5 714.3L177.7 714.3L177.9 714.3L178 714.3L178.1 714.3L178.3 714.3L178.5 714.3L178.7 714.3L178.9 714.3L179 714.4L179.2 714.4L179.4 714.4L179.6 714.4L179.8 714.4L180 714.4L180.2 714.4L180.4 714.4L180.6 714.4L180.8 714.4L180.9 714.4L181.1 714.4L181.3 714.4L181.5 714.5L181.7 714.5L181.9 714.5L182.1 714.5L182.3 714.5L182.5 714.5L182.7 714.5L182.8 714.5L183 714.5L183.2 714.5L183.4 714.5L183.6 714.5L183.8 714.6L184 714.6L184.2 714.6L184.4 714.6L184.6 714.6L184.7 714.6L184.9 714.6L185.1 714.6L185.3 714.6L185.5 714.6L185.7 714.6L185.9 714.6L186.1 714.7L186.3 714.7L186.5 714.7L186.6 714.7L186.8 714.7L187 714.7L187.2 714.7L187.4 714.7L187.6 714.7L187.8 714.7L188 714.7L188.2 714.7L188.4 714.7L188.5 714.8L188.7 714.8L188.9 714.8L189.1 714.8L189.3 714.8L189.5 714.8L189.7 714.8L189.9 714.8L190.1 714.8L190.3 714.8L190.4 714.8L190.6 714.8L190.8 714.8L191 714.9L191.2 714.9L191.4 714.9L191.6 714.9L191.8 714.9L192 714.9L192.2 714.9L192.3 714.9L192.5 714.9L192.7 714.9L192.9 714.9L193.1 714.9L193.3 714.9L193.5 715L193.7 715L193.9 715L194.1 715L194.2 715L194.4 715L194.6 715L194.8 715L195 715L195.2 715L195.4 715L195.6 715L195.8 715L196 715.1L196.1 715.1L196.3 715.1L196.5 715.1L196.7 715.1L197.4 715.1L198.1 715.1L198.8 715.2L199.4 715.2L200.1 715.2L200.8 715.2L201.5 715.3L202.2 715.3L202.8 715.3L203.5 715.3L204.2 715.4L204.9 715.4L205.6 715.4L206.2 715.4L206.9 715.5L207.6 715.5L208.3 715.5L209 715.5L209.6 715.6L210.3 715.6L211 715.6L211.7 715.6L212.4 715.6L213 715.7L213.7 715.7L214.4 715.7L215.1 715.7L215.8 715.7L216.4 715.8L217.1 715.8L217.8 715.8L218.5 715.8L219.2 715.8L219.9 715.9L220.5 715.9L221.2 715.9L221.9 715.9L222.6 715.9L223.3 715.9L223.9 715.9L224.6 716L225.3 716L226 716L226.7 716L227.3 716L228 716L228.7 716L229.4 716.1L230.1 716.1L230.7 716.1L231.4 716.1L232.1 716.1L232.8 716.1L233.5 716.1L234.1 716.1L234.8 716.1L235.5 716.1L236.2 716.2L236.9 716.2L237.5 716.2L238.2 716.2L238.9 716.2L239.6 716.2L240.3 716.2L240.9 716.2L241.6 716.2L242.3 716.2L243 716.2L243.7 716.2L244.3 716.2L245 716.2L245.6 716.2L245.7 716.2L246.4 716.2L247.1 716.2L247.7 716.2L248.4 716.2L249.1 716.2L249.8 716.2L250.5 716.2L251.2 716.2L251.8 716.2L252.5 716.2L253.2 716.2L253.9 716.2L254.6 716.2L255.2 716.2L255.9 716.2L256.6 716.2L257.3 716.2L258 716.2L258.6 716.2L259.3 716.2L260 716.2L260.7 716.2L261.4 716.2L262 716.2L262.7 716.2L263.4 716.2L264.1 716.2L264.8 716.2L265.4 716.2L266.1 716.2L266.8 716.2L267.5 716.2L268.2 716.2L268.8 716.2L269.5 716.2L270.2 716.2L270.9 716.2L271.6 716.2L272.2 716.2L272.9 716.2L273.6 716.2L274.3 716.2L275 716.2L275.6 716.2L276.3 716.2L277 716.2L277.7 716.2L278.4 716.2L279 716.2L279.7 716.1L280.4 716.1L281.1 716.1L281.8 716.1L282.5 716.1L283.1 716.1L283.8 716.1L284.5 716.1L285.2 716.1L285.9 716.1L286.5 716.1L287.2 716.1L287.9 716.1L288.6 716.1L289.3 716.1L289.9 716.1L290.6 716.1L291.3 716.1L292 716.1L292.7 716.1L293.3 716.1L294 716.1L294.7 716.1L295.4 716.1L296.1 716.1L296.7 716.1L297.4 716.1L298.1 716.1L298.8 716.1L299.5 716.1L300.1 716.1L300.8 716.1L301.5 716.1L302.2 716.1L302.9 716.1L303.5 716.1L304.2 716L304.9 716L305.6 716L306.3 716L306.9 716L307.6 716L308.3 716L309 716L309.7 716L310.4 716L311 716L311.7 716L312.4 716L313.1 716L313.8 716L314.4 716L315.1 716L315.8 716L316.5 716L317.2 716L317.8 716L318.5 716L319.2 716L319.9 716L320.6 716L321.2 716L321.9 716L322.6 716L323.3 715.9L324 715.9L324.6 715.9L325.3 715.9L325.5 715.9L326 715.9L326.7 715.9L327.4 715.9L328 715.9L328.7 715.9L329.4 715.9L330.1 715.9L330.8 715.9L331.4 715.9L332.1 715.9L332.8 715.9L333.5 715.9L334.2 715.9L334.8 715.9L335.5 715.9L336.2 715.9L336.9 715.8L337.6 715.8L338.2 715.8L338.9 715.8L339.6 715.8L340.3 715.8L341 715.8L341.7 715.8L342.3 715.8L343 715.8L343.7 715.8L344.4 715.8L345.1 715.7L345.7 715.7L346.4 715.7L347.1 715.7L347.8 715.7L348.5 715.7L349.1 715.7L349.8 715.7L350.5 715.7L351.2 715.7L351.9 715.6L352.5 715.6L353.2 715.6L353.9 715.6L354.6 715.6L355.3 715.6L355.9 715.6L356.6 715.6L357.3 715.5L358 715.5L358.7 715.5L359.3 715.5L360 715.5L360.7 715.5L361.4 715.5L362.1 715.5L362.7 715.4L363.4 715.4L364.1 715.4L364.8 715.4L365.5 715.4L366.1 715.4L366.8 715.4L367.5 715.4L368.2 715.3L368.9 715.3L369.5 715.3L370.2 715.3L370.9 715.3L371.6 715.3L372.3 715.3L373 715.2L373.6 715.2L374.3 715.2L375 715.2L375.7 715.2L376.4 715.2L377 715.2L377.7 715.1L378.4 715.1L379.1 715.1L379.8 715.1L380.4 715.1L381.1 715.1L381.8 715L382.5 715L383.2 715L383.8 715L384.5 715L385.2 715L385.9 715L386.6 714.9L387.2 714.9L387.9 714.9L388.6 714.9L389.3 714.9L390 714.9L390.6 714.8L391.3 714.8L392 714.8L392.7 714.8L393.4 714.8L394 714.8L394.7 714.8L395.4 714.7L396.1 714.7L396.8 714.7L397.4 714.7L398.1 714.7L398.8 714.7L399.5 714.6L400.2 714.6L400.8 714.6L401.5 714.6L402.2 714.6L402.9 714.6L403.6 714.5L404.3 714.5L404.9 714.5L405.6 714.5L406.3 714.5L407 714.5L407.7 714.5L408.3 714.4L409 714.4L409.7 714.4L410.4 714.4L411.1 714.4L411.7 714.4L412.4 714.3L413.1 714.3L413.8 714.3L414.5 714.3L415.1 714.3L415.8 714.3L416.5 714.3L417.2 714.2L417.9 714.2L418.5 714.2L419.2 714.2L419.9 714.2L420.6 714.2L421.3 714.1L421.9 714.1L422.6 714.1L423.3 714.1L424 714.1L424.7 714.1L425.3 714.1L426 714L426.7 714L427.4 714L428.1 714L428.7 714L429.4 714L430.1 714L430.8 714L431.5 713.9L432.1 713.9L432.8 713.9L433.5 713.9L434.2 713.9L434.9 713.9L435.6 713.9L436.2 713.8L436.9 713.8L437.6 713.8L438.3 713.8L439 713.8L439.6 713.8L440.3 713.8L441 713.8L441.3 713.8L441.7 713.8L442.4 713.7L443 713.7L443.7 713.7L444.4 713.7L445.1 713.7L445.8 713.7L446.4 713.7L447.1 713.7L447.8 713.7L448.5 713.6L449.2 713.6L449.8 713.6L450.5 713.6L451.2 713.6L451.9 713.6L452.6 713.6L453.2 713.6L453.9 713.6L454.6 713.5L455.3 713.5L456 713.5L456.6 713.5L457.3 713.5L458 713.5L458.7 713.5L459.4 713.5L460 713.4L460.7 713.4L461.4 713.4L462.1 713.4L462.8 713.4L463.4 713.4L464.1 713.4L464.8 713.4L465.5 713.4L466.2 713.3L466.9 713.3L467.5 713.3L468.2 713.3L468.9 713.3L469.6 713.3L470.3 713.3L470.9 713.3L471.6 713.3L472.3 713.2L473 713.2L473.7 713.2L474.3 713.2L475 713.2L475.7 713.2L476.4 713.2L477.1 713.2L477.7 713.2L478.4 713.2L479.1 713.1L479.8 713.1L480.5 713.1L481.1 713.1L481.8 713.1L482.5 713.1L483.2 713.1L483.9 713.1L484.5 713.1L485.2 713L485.9 713L486.6 713L487.3 713L487.9 713L488.6 713L489.3 713L490 713L490.7 713L491.3 712.9L492 712.9L492.7 712.9L493.4 712.9L494.1 712.9L494.7 712.9L495.4 712.9L496.1 712.9L496.8 712.9L497.5 712.8L498.2 712.8L498.8 712.8L499.5 712.8L500.2 712.8L500.9 712.8L501.6 712.8L502.2 712.8L502.9 712.8L503.6 712.8L504.3 712.7L505 712.7L505.6 712.7L506.3 712.7L507 712.7L507.7 712.7L508.4 712.7L509 712.7L509.7 712.7L510.4 712.6L511.1 712.6L511.8 712.6L512.4 712.6L513.1 712.6L513.8 712.6L514.5 712.6L515.2 712.6L515.8 712.6L516.5 712.6L517.2 712.5L517.9 712.5L518.6 712.5L519.2 712.5L519.9 712.5L520.6 712.5L521.3 712.5L522 712.5L522.6 712.5L523.3 712.4L524 712.4L524.7 712.4L525.4 712.4L526 712.4L526.7 712.4L527.4 712.4L528.1 712.4L528.8 712.4L529.5 712.4L530.1 712.3L530.8 712.3L531.5 712.3L532.2 712.3L532.9 712.3L533.5 712.3L534.2 712.3L534.9 712.3L535.6 712.3L536.3 712.3L536.9 712.2L537.6 712.2L538.3 712.2L539 712.2L539.7 712.2L540.3 712.2L541 712.2L541.7 712.2L542.4 712.2L543.1 712.2L543.7 712.1L544.4 712.1L545.1 712.1L545.8 712.1L546.5 712.1L547.1 712.1L547.8 712.1L548.5 712.1L549.2 712.1L549.9 712.1L550.5 712L551.2 712L551.9 712L552.6 712L553.3 712L553.9 712L554.6 712L555.3 712L556 712L556.7 712L557.3 711.9L558 711.9L558.7 711.9L559.4 711.9L560.1 711.9L560.8 711.9L561.4 711.9L562.1 711.9L562.8 711.9L563.5 711.9L564.2 711.9L564.8 711.8L565.5 711.8L566.2 711.8L566.9 711.8L567.6 711.8L568.2 711.8L568.9 711.8L569.6 711.8L570.3 711.8L571 711.8L571.6 711.7L572.3 711.7L573 711.7L573.7 711.7L574.4 711.7L575 711.7L575.7 711.7L576.4 711.7L577.1 711.7L577.8 711.7L578.4 711.7L579.1 711.6L579.8 711.6L580.5 711.6L581.2 711.6L581.8 711.6L582.5 711.6L583.2 711.6L583.9 711.6L584.6 711.6L585.2 711.6L585.9 711.6L586.6 711.5L587.3 711.5L588 711.5L588.6 711.5L589.3 711.5L590 711.5L590.7 711.5L591.4 711.5L592.1 711.5L592.7 711.5L593.4 711.5L594.1 711.4L594.8 711.4L595.5 711.4L596.1 711.4L596.8 711.4L597.5 711.4L598.2 711.4L598.9 711.4L599.5 711.4L600.2 711.4L600.9 711.4L601.6 711.4L602.3 711.3L602.9 711.3L603.6 711.3L604.3 711.3" fill="none" stroke="#f39104" stroke-width="3.5" stroke-linejoin="round" stroke-linecap="round" stroke-dasharray="9.2 7.5"/>
<path d="M118.5 912.2L118.7 900.1L118.9 888L119 875.9L119.2 863.8L119.4 851.8L119.6 839.7L119.8 827.6L120 815.5L120.2 803.4L120.4 791.3L120.6 779.2L120.8 767.1L121 755.1L121.2 743L121.4 730.9L121.6 718.8L121.8 706.7L122 694.6L122.2 682.5L122.4 670.4L122.6 658.4L122.8 646.3L122.9 640.9L123 640.6L123.2 640L123.4 639.3L123.6 638.7L123.8 638.1L124 637.5L124.1 636.9L124.3 636.3L124.5 635.7L124.7 635.1L124.9 634.5L125.1 633.9L125.3 633.2L125.5 632.6L125.7 632L125.9 631.4L126.1 630.8L126.3 630.2L126.5 629.6L126.7 629L126.9 628.4L127.1 627.8L127.3 627.1L127.5 626.5L127.7 625.9L127.8 625.7L127.9 626.1L128.1 626.8L128.3 627.5L128.5 628.1L128.7 628.8L128.9 629.4L129.1 630.1L129.2 630.7L129.4 631.3L129.6 632L129.8 632.6L130 633.2L130.2 633.8L130.4 634.4L130.6 635L130.8 635.6L131 636.2L131.2 636.8L131.4 637.3L131.5 637.6L131.6 637.9L131.8 638.5L132 639L132.2 639.6L132.4 640.1L132.6 640.7L132.8 641.2L133 641.7L133.2 642.3L133.4 642.8L133.6 643.3L133.8 643.8L134 644.3L134.2 644.8L134.3 645.3L134.5 645.8L134.7 646.3L134.9 646.7L135.1 647.2L135.3 647.7L135.5 648.2L135.7 648.6L135.9 649.1L136.1 649.5L136.3 650L136.4 650.2L136.5 650.4L136.7 650.9L136.9 651.3L137.1 651.7L137.3 652.1L137.5 652.6L137.7 653L137.9 653.4L138.1 653.8L138.3 654.2L138.5 654.6L138.7 655L138.9 655.4L139.1 655.8L139.3 656.2L139.4 656.6L139.6 656.9L139.8 657.3L140 657.7L140.2 658L140.4 658.4L140.6 658.8L140.8 659.1L141 659.5L141.2 659.8L141.4 660.2L141.6 660.5L141.8 660.8L142 661.2L142.2 661.5L142.4 661.8L142.6 662.2L142.8 662.5L143 662.8L143.2 663.1L143.4 663.4L143.6 663.8L143.8 664.1L144 664.4L144.1 664.5L144.2 664.7L144.3 665L144.5 665.3L144.7 665.5L144.9 665.8L145.1 666.1L145.3 666.4L145.5 666.7L145.7 667L145.9 667.2L146.1 667.5L146.3 667.8L146.5 668L146.7 668.3L146.9 668.6L147.1 668.8L147.3 669.1L147.5 669.3L147.7 669.6L147.9 669.8L148.1 670.1L148.3 670.3L148.5 670.6L148.7 670.8L148.9 671L149.1 671.3L149.3 671.5L149.4 671.7L149.6 672L149.8 672.2L150 672.4L150.2 672.6L150.4 672.9L150.6 673.1L150.8 673.3L151 673.5L151.2 673.7L151.4 673.9L151.6 674.1L151.8 674.3L152 674.5L152.2 674.7L152.4 674.9L152.6 675.1L152.7 675.2L152.8 675.3L153 675.5L153.2 675.7L153.4 675.9L153.6 676.1L153.8 676.3L154 676.4L154.2 676.6L154.4 676.8L154.5 677L154.7 677.2L154.9 677.3L155.1 677.5L155.3 677.7L155.5 677.8L155.7 678L155.9 678.2L156.1 678.3L156.3 678.5L156.5 678.7L156.7 678.8L156.9 679L157.1 679.1L157.3 679.3L157.5 679.4L157.7 679.6L157.9 679.7L158.1 679.9L158.3 680L158.5 680.2L158.7 680.3L158.9 680.5L159.1 680.6L159.3 680.7L159.5 680.9L159.6 681L159.8 681.2L160 681.3L160.2 681.4L160.4 681.6L160.6 681.7L160.8 681.8L161 681.9L161 681.9L161.2 682.1L161.4 682.2L161.6 682.3L161.8 682.4L162 682.6L162.2 682.7L162.4 682.8L162.6 682.9L162.8 683L163 683.2L163.2 683.3L163.4 683.4L163.6 683.5L163.8 683.6L164 683.7L164.2 683.8L164.4 683.9L164.6 684L164.7 684.2L164.9 684.3L165.1 684.4L165.3 684.5L165.5 684.6L165.7 684.7L165.9 684.8L166.1 684.9L166.3 685L166.5 685.1L166.7 685.2L166.9 685.3L167.1 685.3L167.3 685.4L167.5 685.5L167.7 685.6L167.9 685.7L168.1 685.8L168.3 685.9L168.5 686L168.7 686.1L168.9 686.2L169.1 686.2L169.3 686.3L169.5 686.4L169.7 686.5L169.8 686.6L170 686.7L170.2 686.7L170.4 686.8L170.6 686.9L170.8 687L171 687L171.2 687.1L171.4 687.2L171.6 687.3L171.8 687.4L172 687.4L172.2 687.5L172.4 687.6L172.6 687.6L172.8 687.7L173 687.8L173.2 687.9L173.4 687.9L173.6 688L173.8 688.1L174 688.1L174.2 688.2L174.4 688.3L174.6 688.3L174.8 688.4L174.9 688.4L175.1 688.5L175.3 688.6L175.5 688.6L175.7 688.7L175.9 688.8L176.1 688.8L176.3 688.9L176.5 688.9L176.7 689L176.9 689L177.1 689.1L177.3 689.2L177.5 689.2L177.7 689.3L177.9 689.3L178 689.4L178.1 689.4L178.3 689.4L178.5 689.5L178.7 689.5L178.9 689.6L179.1 689.6L179.3 689.7L179.5 689.7L179.7 689.8L179.8 689.8L180 689.9L180.2 689.9L180.4 690L180.6 690L180.8 690.1L181 690.1L181.2 690.2L181.4 690.2L181.6 690.3L181.8 690.3L182 690.4L182.2 690.4L182.4 690.5L182.6 690.5L182.8 690.5L183 690.6L183.2 690.6L183.4 690.7L183.6 690.7L183.8 690.7L184 690.8L184.2 690.8L184.4 690.9L184.6 690.9L184.8 690.9L184.9 691L185.1 691L185.3 691.1L185.5 691.1L185.7 691.1L185.9 691.2L186.1 691.2L186.3 691.2L186.5 691.3L186.7 691.3L186.9 691.3L187.1 691.4L187.3 691.4L187.5 691.5L187.7 691.5L187.9 691.5L188.1 691.5L188.3 691.6L188.5 691.6L188.7 691.6L188.9 691.7L189.1 691.7L189.3 691.7L189.5 691.8L189.7 691.8L189.9 691.8L190 691.9L190.2 691.9L190.4 691.9L190.6 691.9L190.8 692L191 692L191.2 692L191.4 692.1L191.6 692.1L191.8 692.1L192 692.1L192.2 692.2L192.4 692.2L192.6 692.2L192.8 692.2L193 692.3L193.2 692.3L193.4 692.3L193.6 692.3L193.8 692.4L194 692.4L194.2 692.4L194.4 692.4L194.6 692.5L194.8 692.5L195 692.5L195.1 692.5L195.3 692.6L195.5 692.6L195.7 692.6L195.9 692.6L196.1 692.6L196.3 692.7L196.5 692.7L196.7 692.7L197.4 692.8L198.1 692.9L198.8 692.9L199.4 693L200.1 693.1L200.8 693.1L201.5 693.2L202.2 693.2L202.8 693.3L203.5 693.3L204.2 693.4L204.9 693.4L205.6 693.5L206.2 693.5L206.9 693.6L207.6 693.6L208.3 693.7L209 693.7L209.6 693.7L210.3 693.8L211 693.8L211.7 693.8L212.4 693.9L213 693.9L213.7 693.9L214.4 694L215.1 694L215.8 694L216.4 694L217.1 694.1L217.8 694.1L218.5 694.1L219.2 694.1L219.9 694.2L220.5 694.2L221.2 694.2L221.9 694.2L222.6 694.2L223.3 694.3L223.9 694.3L224.6 694.3L225.3 694.3L226 694.3L226.7 694.3L227.3 694.4L228 694.4L228.7 694.4L229.3 694.4L229.4 694.4L230.1 694.4L230.7 694.4L231.4 694.4L232.1 694.4L232.8 694.5L233.5 694.5L234.1 694.5L234.8 694.5L235.5 694.5L236.2 694.5L236.9 694.5L237.5 694.5L238.2 694.5L238.9 694.5L239.6 694.6L240.3 694.6L240.9 694.6L241.6 694.6L242.3 694.6L243 694.6L243.7 694.6L244.3 694.6L245 694.6L245.7 694.6L246.4 694.6L247.1 694.6L247.7 694.6L248.4 694.6L249.1 694.6L249.8 694.6L250.5 694.6L251.2 694.7L251.8 694.7L252.5 694.7L253.2 694.7L253.9 694.7L254.6 694.7L255.2 694.7L255.9 694.7L256.6 694.7L257.3 694.7L258 694.7L258.6 694.7L259.3 694.7L260 694.7L260.7 694.7L261.4 694.7L262 694.7L262.7 694.7L263.4 694.7L264.1 694.7L264.8 694.7L265.4 694.7L266.1 694.7L266.8 694.7L267.5 694.7L268.2 694.7L268.8 694.7L269.5 694.7L270.2 694.7L270.9 694.7L271.6 694.7L272.2 694.7L272.9 694.7L273.6 694.7L274.3 694.7L275 694.7L275.6 694.7L276.3 694.7L277 694.7L277.7 694.7L278.2 694.7L278.4 694.7L279 694.7L279.7 694.7L280.4 694.7L281.1 694.7L281.8 694.7L282.5 694.7L283.1 694.7L283.8 694.7L284.5 694.7L285.2 694.7L285.9 694.7L286.5 694.7L287.2 694.7L287.9 694.7L288.6 694.7L289.3 694.7L289.9 694.7L290.6 694.7L291.3 694.7L292 694.7L292.7 694.7L293.3 694.7L294 694.7L294.7 694.7L295.4 694.7L296.1 694.7L296.7 694.7L297.4 694.7L298.1 694.7L298.8 694.7L299.5 694.7L300.1 694.7L300.8 694.7L301.5 694.7L302.2 694.7L302.9 694.7L303.5 694.7L304.2 694.7L304.9 694.7L305.6 694.7L306.3 694.7L306.9 694.7L307.6 694.7L308.3 694.7L309 694.7L309.7 694.7L310.4 694.7L311 694.7L311.7 694.7L312.4 694.7L313.1 694.7L313.8 694.7L314.4 694.7L315.1 694.7L315.8 694.7L316.5 694.7L317.2 694.7L317.8 694.7L318.5 694.7L319.2 694.7L319.9 694.7L320.6 694.7L321.2 694.7L321.9 694.7L322.6 694.7L323.3 694.7L324 694.7L324.6 694.7L325.3 694.7L326 694.7L326.7 694.7L327.4 694.7L328 694.7L328.7 694.7L329.4 694.7L330.1 694.7L330.8 694.7L331.4 694.7L332.1 694.7L332.8 694.7L333.5 694.7L334.2 694.7L334.8 694.7L335.5 694.7L336.2 694.7L336.9 694.7L337.6 694.7L338.2 694.7L338.9 694.7L339.6 694.7L340.3 694.7L341 694.7L341.7 694.7L342.3 694.7L343 694.7L343.7 694.7L344.4 694.7L345.1 694.7L345.7 694.7L346.4 694.7L347.1 694.7L347.8 694.7L348.5 694.7L349.1 694.7L349.8 694.7L350.5 694.7L351.2 694.7L351.9 694.7L352.5 694.7L353.2 694.7L353.9 694.7L354.6 694.7L355.3 694.7L355.9 694.7L356.6 694.7L357.3 694.7L358 694.7L358.7 694.7L359.3 694.7L359.8 694.7L360 694.7L360.7 694.7L361.4 694.7L362.1 694.7L362.7 694.7L363.4 694.7L364.1 694.7L364.8 694.7L365.5 694.7L366.1 694.7L366.8 694.7L367.5 694.7L368.2 694.7L368.9 694.7L369.5 694.7L370.2 694.7L370.9 694.7L371.6 694.7L372.3 694.7L373 694.7L373.6 694.7L374.3 694.7L375 694.7L375.7 694.7L376.4 694.7L377 694.7L377.7 694.7L378.4 694.7L379.1 694.7L379.8 694.7L380.4 694.7L381.1 694.7L381.8 694.7L382.5 694.7L383.2 694.7L383.8 694.7L384.5 694.7L385.2 694.7L385.9 694.7L386.6 694.7L387.2 694.7L387.9 694.7L388.6 694.7L389.3 694.7L390 694.7L390.6 694.7L391.3 694.7L392 694.7L392.7 694.7L393.4 694.7L394 694.7L394.7 694.7L395.4 694.7L396.1 694.7L396.8 694.7L397.4 694.7L398.1 694.7L398.8 694.7L399.5 694.7L400.2 694.7L400.8 694.7L401.5 694.7L402.2 694.7L402.9 694.7L403.6 694.7L404.3 694.7L404.9 694.7L405.6 694.7L406.3 694.7L407 694.7L407.7 694.7L408.3 694.7L409 694.7L409.7 694.7L410.4 694.7L411.1 694.7L411.7 694.7L412.4 694.7L413.1 694.7L413.8 694.7L414.5 694.7L415.1 694.7L415.8 694.7L416.5 694.7L417.2 694.7L417.9 694.7L418.5 694.7L419.2 694.7L419.9 694.7L420.6 694.7L421.3 694.7L421.9 694.7L422.6 694.7L423.3 694.7L424 694.7L424.7 694.7L425.3 694.7L426 694.7L426.7 694.7L427.4 694.7L428.1 694.7L428.7 694.7L429.4 694.7L430.1 694.7L430.8 694.7L431.5 694.7L432.1 694.7L432.8 694.7L433.5 694.7L434.2 694.7L434.9 694.7L435.6 694.7L436.2 694.7L436.9 694.7L437.6 694.7L438.3 694.7L439 694.7L439.6 694.7L440.3 694.7L441 694.7L441.7 694.7L442.4 694.7L443 694.7L443.7 694.7L444.4 694.6L445.1 694.6L445.8 694.6L446.4 694.6L447.1 694.6L447.8 694.6L448.5 694.6L449.2 694.6L449.8 694.6L450.5 694.6L451.2 694.6L451.9 694.6L452.6 694.6L453.2 694.6L453.9 694.6L454.6 694.6L455.3 694.6L456 694.6L456.6 694.6L457.3 694.6L458 694.6L458.7 694.6L459.4 694.6L460 694.6L460.7 694.6L461.4 694.6L462.1 694.6L462.8 694.6L463.4 694.6L464.1 694.6L464.8 694.6L465.5 694.6L466.2 694.6L466.9 694.6L467.5 694.6L468.2 694.6L468.9 694.6L469.6 694.6L470.3 694.6L470.9 694.6L471.6 694.6L472.3 694.6L473 694.6L473.7 694.6L474.3 694.6L475 694.6L475.7 694.6L476.4 694.6L477.1 694.6L477.7 694.6L478.4 694.6L479.1 694.6L479.8 694.6L480.5 694.6L481.1 694.6L481.8 694.6L482.5 694.6L483.2 694.6L483.9 694.6L484.5 694.6L485.2 694.6L485.9 694.6L486.6 694.6L487.3 694.6L487.9 694.6L488.6 694.6L489.3 694.6L490 694.6L490.7 694.6L491.3 694.6L492 694.6L492.7 694.6L493.4 694.6L494.1 694.6L494.7 694.6L495.4 694.6L496.1 694.6L496.8 694.6L497.5 694.6L498.2 694.6L498.8 694.6L499.5 694.6L500.2 694.6L500.9 694.6L501.6 694.6L502.2 694.6L502.9 694.6L503.6 694.6L504.3 694.6L505 694.6L505.6 694.6L506.3 694.6L507 694.6L507.7 694.6L508.4 694.6L509 694.6L509.7 694.6L510.4 694.6L511.1 694.6L511.8 694.6L512.4 694.6L513.1 694.5L513.8 694.5L514.5 694.5L515.2 694.5L515.8 694.5L516.5 694.5L517.2 694.5L517.9 694.5L518.6 694.5L519.2 694.5L519.9 694.5L520.6 694.5L521.3 694.5L522 694.5L522.6 694.5L523.3 694.5L524 694.5L524.7 694.5L525.4 694.5L526 694.5L526.7 694.5L527.4 694.5L528.1 694.5L528.8 694.5L529.5 694.5L530.1 694.5L530.8 694.5L531.5 694.5L532.2 694.5L532.9 694.5L533.5 694.5L534.2 694.5L534.9 694.5L535.6 694.5L536.3 694.5L536.9 694.5L537.6 694.5L538.3 694.5L539 694.5L539.7 694.5L540.3 694.5L541 694.5L541.7 694.5L542.4 694.5L543.1 694.5L543.7 694.5L544.4 694.5L545.1 694.5L545.8 694.5L546.5 694.5L547.1 694.5L547.8 694.5L548.5 694.5L549.2 694.5L549.9 694.5L550.5 694.5L551.2 694.5L551.9 694.5L552.6 694.5L553.3 694.5L553.9 694.5L554.6 694.5L555.3 694.5L556 694.5L556.7 694.5L557.3 694.5L558 694.5L558.7 694.5L559.4 694.5L560.1 694.5L560.8 694.5L561.4 694.5L562.1 694.5L562.8 694.5L563.5 694.5L564.2 694.5L564.8 694.5L565.5 694.5L566.2 694.5L566.9 694.5L567.6 694.5L568.2 694.5L568.9 694.5L569.6 694.5L570.3 694.5L571 694.5L571.6 694.5L572.3 694.5L573 694.5L573.7 694.5L574.4 694.5L575 694.5L575.7 694.5L576.4 694.5L577.1 694.4L577.8 694.4L578.4 694.4L579.1 694.4L579.8 694.4L580.5 694.4L581.2 694.4L581.8 694.4L582.5 694.4L583.2 694.4L583.9 694.4L584.6 694.4L585.2 694.4L585.9 694.4L586.6 694.4L587.3 694.4L588 694.4L588.6 694.4L589.3 694.4L590 694.4L590.7 694.4L591.4 694.4L592.1 694.4L592.7 694.4L593.4 694.4L594.1 694.4L594.8 694.4L595.5 694.4L596.1 694.4L596.8 694.4L597.5 694.4L598.2 694.4L598.9 694.4L599.5 694.4L600.2 694.4L600.9 694.4L601.6 694.4L602.3 694.4L602.9 694.4L603.6 694.4L604.3 694.4" fill="none" stroke="#8e0f4b" stroke-width="3.5" stroke-linejoin="round" stroke-linecap="round"/>
<path d="M118.8 912.2L119 908.6L119.2 905L119.4 901.4L119.6 897.8L119.8 894.2L120 890.5L120.2 886.9L120.3 883.3L120.5 879.7L120.7 876.1L120.9 872.5L121.1 868.9L121.3 865.3L121.5 861.7L121.7 858.1L121.9 854.5L122.1 850.9L122.3 847.2L122.5 843.6L122.7 840L122.9 836.4L123.1 832.8L123.3 829.2L123.5 825.6L123.6 823L123.7 823.1L123.9 823.8L124.1 824.5L124.3 825.2L124.5 825.9L124.6 826.6L124.8 827.3L125 828L125.2 828.7L125.4 829.4L125.6 830.1L125.8 830.9L126 831.6L126.2 832.3L126.4 833L126.6 833.8L126.6 833.8L126.8 834.5L127 835.2L127.2 836L127.4 836.7L127.6 837.5L127.8 838.3L128 839L128.2 839.8L128.4 840.5L128.6 841.2L128.7 842L128.9 842.7L129.1 843.4L129.3 844.1L129.5 844.8L129.7 845.5L129.9 846.2L130.1 846.8L130.3 847.4L130.5 848.1L130.7 848.7L130.9 849.3L131.1 849.8L131.3 850.4L131.5 850.9L131.5 851L131.7 851.4L131.9 851.9L132.1 852.4L132.3 852.9L132.5 853.3L132.7 853.7L132.8 854.1L133 854.5L133.2 854.9L133.4 855.2L133.6 855.6L133.8 855.9L134 856.2L134.2 856.5L134.4 856.8L134.6 857L134.8 857.3L135 857.5L135.2 857.8L135.4 858L135.6 858.2L135.8 858.4L136 858.5L136.2 858.7L136.4 858.9L136.6 859L136.8 859.1L137 859.3L137.1 859.4L137.3 859.5L137.5 859.6L137.7 859.6L137.9 859.7L138.1 859.8L138.3 859.8L138.5 859.9L138.7 859.9L138.9 860L139.1 860L139.3 860L139.5 860L139.7 860L139.9 860L140.1 860L140.3 859.9L140.4 859.9L140.5 859.9L140.7 859.9L140.9 859.8L141.1 859.8L141.2 859.7L141.4 859.7L141.6 859.6L141.8 859.5L142 859.4L142.2 859.3L142.4 859.2L142.6 859.1L142.8 859L143 858.9L143.2 858.8L143.4 858.7L143.6 858.6L143.8 858.4L144 858.3L144.2 858.1L144.4 858L144.6 857.8L144.8 857.7L145 857.5L145.2 857.3L145.3 857.2L145.5 857L145.7 856.8L145.9 856.6L146.1 856.4L146.3 856.2L146.5 856L146.7 855.8L146.9 855.6L147.1 855.4L147.3 855.2L147.5 855L147.7 854.8L147.9 854.5L148.1 854.3L148.3 854.1L148.5 853.8L148.7 853.6L148.9 853.3L148.9 853.2L149.1 853.1L149.3 852.8L149.5 852.6L149.6 852.3L149.8 852.1L150 851.8L150.2 851.5L150.4 851.3L150.6 851L150.8 850.7L151 850.4L151.2 850.2L151.4 849.9L151.6 849.6L151.8 849.3L152 849L152.2 848.7L152.4 848.4L152.6 848.1L152.8 847.8L153 847.5L153.2 847.2L153.4 846.9L153.6 846.6L153.7 846.3L153.9 846L154.1 845.6L154.3 845.3L154.5 845L154.7 844.7L154.9 844.4L155.1 844L155.3 843.7L155.5 843.4L155.7 843.1L155.9 842.7L156.1 842.4L156.3 842.1L156.5 841.7L156.7 841.4L156.9 841.1L157.1 840.7L157.3 840.4L157.5 840.1L157.7 839.7L157.8 839.4L158 839L158.2 838.7L158.4 838.3L158.6 838.1L158.6 838L158.8 837.7L159 837.3L159.2 837L159.4 836.6L159.6 836.3L159.8 835.9L160 835.6L160.2 835.2L160.4 834.9L160.6 834.5L160.8 834.2L161 833.8L161.2 833.5L161.4 833.1L161.6 832.8L161.8 832.4L162 832.1L162.1 831.7L162.3 831.4L162.5 831L162.7 830.7L162.9 830.3L163.1 830L163.3 829.6L163.5 829.3L163.7 828.9L163.9 828.5L164.1 828.2L164.3 827.8L164.5 827.5L164.7 827.1L164.9 826.8L165.1 826.4L165.3 826.1L165.5 825.7L165.7 825.3L165.9 825L166.1 824.6L166.2 824.3L166.4 823.9L166.6 823.6L166.8 823.2L167 822.9L167.2 822.5L167.4 822.1L167.6 821.8L167.8 821.4L168 821.1L168 821L168.2 820.7L168.4 820.4L168.6 820L168.8 819.7L169 819.3L169.2 819L169.4 818.6L169.6 818.2L169.8 817.9L170 817.5L170.2 817.2L170.3 816.8L170.5 816.5L170.7 816.1L170.9 815.8L171.1 815.4L171.3 815.1L171.5 814.7L171.7 814.4L171.9 814L172.1 813.7L172.3 813.3L172.5 813L172.7 812.6L172.9 812.3L173.1 811.9L173.3 811.6L173.5 811.2L173.7 810.9L173.9 810.6L174.1 810.2L174.3 809.9L174.5 809.5L174.6 809.2L174.8 808.8L175 808.5L175.2 808.1L175.4 807.8L175.6 807.5L175.8 807.1L176 806.8L176.2 806.4L176.4 806.1L176.6 805.8L176.8 805.4L177 805.1L177.2 804.7L177.4 804.4L177.5 804.2L177.6 804.1L177.8 803.7L178 803.4L178.2 803.1L178.4 802.7L178.6 802.4L178.7 802.1L178.9 801.7L179.1 801.4L179.3 801.1L179.5 800.8L179.7 800.4L179.9 800.1L180.1 799.8L180.3 799.4L180.5 799.1L180.7 798.8L180.9 798.5L181.1 798.1L181.3 797.8L181.5 797.5L181.7 797.2L181.9 796.8L182.1 796.5L182.3 796.2L182.5 795.9L182.7 795.6L182.8 795.2L183 794.9L183.2 794.6L183.4 794.3L183.6 794L183.8 793.6L184 793.3L184.2 793L184.4 792.7L184.6 792.4L184.8 792.1L185 791.8L185.2 791.5L185.4 791.1L185.6 790.8L185.8 790.5L186 790.2L186.2 789.9L186.4 789.6L186.6 789.3L186.8 789L186.9 788.7L187 788.7L187.1 788.4L187.3 788.1L187.5 787.8L187.7 787.5L187.9 787.1L188.1 786.8L188.3 786.5L188.5 786.2L188.7 785.9L188.9 785.6L189.1 785.3L189.3 785L189.5 784.7L189.7 784.4L189.9 784.2L190.1 783.9L190.3 783.6L190.5 783.3L190.7 783L190.9 782.7L191.1 782.4L191.2 782.1L191.4 781.8L191.6 781.5L191.8 781.2L192 780.9L192.2 780.6L192.4 780.3L192.6 780.1L192.8 779.8L193 779.5L193.2 779.2L193.4 778.9L193.6 778.6L193.8 778.3L194 778.1L194.2 777.8L194.4 777.5L194.6 777.2L194.8 776.9L195 776.7L195.2 776.4L195.3 776.1L195.5 775.8L195.7 775.5L195.9 775.3L196.1 775L196.3 774.7L196.5 774.4L196.6 774.4L196.7 774.2L197.4 773.2L198.1 772.3L198.8 771.3L199.4 770.4L200.1 769.5L200.8 768.6L201.5 767.7L202.2 766.8L202.8 765.9L203.5 765L204.2 764.1L204.9 763.3L205.6 762.4L205.8 762L206.2 761.5L206.9 760.7L207.6 759.9L208.3 759L209 758.2L209.6 757.4L210.3 756.6L211 755.8L211.7 755L212.4 754.3L213 753.5L213.7 752.7L214.4 752L215.1 751.2L215.5 750.8L215.8 750.5L216.4 749.8L217.1 749L217.8 748.3L218.5 747.6L219.2 746.9L219.9 746.2L220.5 745.6L221.2 744.9L221.9 744.2L222.6 743.6L223.3 742.9L223.9 742.3L224.6 741.6L224.9 741.3L225.3 741L226 740.4L226.7 739.8L227.3 739.2L228 738.6L228.7 738L229.4 737.4L230.1 736.8L230.7 736.3L231.4 735.7L232.1 735.2L232.8 734.6L233.5 734.1L234.1 733.6L234.4 733.4L234.8 733L235.5 732.5L236.2 732L236.9 731.5L237.5 731L238.2 730.5L238.9 730.1L239.6 729.6L240.3 729.1L240.9 728.6L241.6 728.2L242.3 727.7L243 727.3L243.7 726.9L244.3 726.4L245 726L245 726L245.7 725.6L246.4 725.2L247.1 724.8L247.7 724.4L248.4 724L249.1 723.6L249.8 723.2L250.5 722.8L251.2 722.4L251.8 722.1L252.5 721.7L253.2 721.3L253.9 721L254.6 720.6L255.2 720.3L255.9 719.9L256.6 719.6L257.3 719.2L258 718.9L258.6 718.6L259.3 718.2L260 717.9L260 717.9L260.7 717.6L261.4 717.3L262 716.9L262.7 716.6L263.4 716.3L264.1 716L264.8 715.7L265.4 715.4L266.1 715.1L266.8 714.8L267.5 714.5L268.2 714.2L268.8 713.9L269.5 713.6L270.2 713.4L270.9 713.1L271.6 712.8L272.2 712.5L272.9 712.3L273.6 712L274.3 711.7L275 711.5L275 711.5L275.6 711.2L276.3 710.9L277 710.7L277.7 710.4L278.4 710.2L279 709.9L279.7 709.7L280.4 709.4L281.1 709.2L281.8 709L282.5 708.7L283.1 708.5L283.8 708.3L284.5 708.1L285.2 707.8L285.9 707.6L286.5 707.4L287.2 707.2L287.9 707L288.6 706.7L289.3 706.5L289.9 706.3L290 706.3L290.6 706.1L291.3 705.9L292 705.7L292.7 705.5L293.3 705.3L294 705.1L294.7 704.9L295.4 704.8L296.1 704.6L296.7 704.4L297.4 704.2L298.1 704L298.8 703.8L299.5 703.7L300.1 703.5L300.8 703.3L301.5 703.1L302.2 703L302.9 702.8L303.5 702.6L304.2 702.5L304.9 702.3L305 702.3L305.6 702.2L306.3 702L306.9 701.8L307.6 701.7L308.3 701.5L309 701.4L309.7 701.2L310.4 701.1L311 700.9L311.7 700.8L312.4 700.7L313.1 700.5L313.8 700.4L314.4 700.2L315.1 700.1L315.8 700L316.5 699.8L317.2 699.7L317.8 699.6L318.5 699.4L319.2 699.3L319.9 699.2L320 699.2L320.6 699.1L321.2 698.9L321.9 698.8L322.6 698.7L323.3 698.6L324 698.5L324.6 698.4L325.3 698.2L326 698.1L326.7 698L327.4 697.9L328 697.8L328.7 697.7L329.4 697.6L330.1 697.5L330.8 697.4L331.4 697.3L332.1 697.2L332.8 697.1L333.5 697L334.2 696.9L334.8 696.8L335 696.8L335.5 696.7L336.2 696.6L336.9 696.5L337.6 696.4L338.2 696.3L338.9 696.3L339.6 696.2L340.3 696.1L341 696L341.7 695.9L342.3 695.8L343 695.8L343.7 695.7L344.4 695.6L345.1 695.5L345.7 695.4L346.4 695.4L347.1 695.3L347.8 695.2L348.5 695.1L349.1 695.1L349.8 695L350 695L350.5 694.9L351.2 694.9L351.9 694.8L352.5 694.7L353.2 694.7L353.9 694.6L354.6 694.5L355.3 694.5L355.9 694.4L356.6 694.3L357.3 694.3L358 694.2L358.7 694.2L359.3 694.1L360 694.1L360.7 694L361.4 693.9L362.1 693.9L362.7 693.8L363.4 693.8L364.1 693.7L364.8 693.7L365.5 693.6L366.1 693.6L366.8 693.5L367.5 693.5L368.2 693.4L368.9 693.4L369.5 693.3L370.2 693.3L370.9 693.2L371.6 693.2L372.3 693.2L373 693.1L373.6 693.1L374.3 693L375 693L375.7 692.9L376.4 692.9L377 692.9L377.7 692.8L378.4 692.8L379.1 692.8L379.8 692.7L380 692.7L380.4 692.7L381.1 692.6L381.8 692.6L382.5 692.6L383.2 692.5L383.8 692.5L384.5 692.5L385.2 692.4L385.9 692.4L386.6 692.4L387.2 692.3L387.9 692.3L388.6 692.3L389.3 692.2L390 692.2L390.6 692.2L391.3 692.2L392 692.1L392.7 692.1L393.4 692.1L394 692L394.7 692L395.4 692L396.1 692L396.8 691.9L397.4 691.9L398.1 691.9L398.8 691.9L399.5 691.8L400.2 691.8L400.8 691.8L401.5 691.8L402.2 691.8L402.9 691.7L403.6 691.7L404.3 691.7L404.9 691.7L405.6 691.6L406.3 691.6L407 691.6L407.7 691.6L408.3 691.6L409 691.5L409.7 691.5L410.4 691.5L411.1 691.5L411.7 691.5L412.4 691.5L413.1 691.4L413.8 691.4L414.5 691.4L415.1 691.4L415.8 691.4L416.5 691.3L417.2 691.3L417.9 691.3L418.5 691.3L419.2 691.3L419.9 691.3L420.6 691.3L421.3 691.2L421.9 691.2L422.6 691.2L423.3 691.2L424 691.2L424.7 691.2L425.3 691.2L426 691.1L426.7 691.1L427.4 691.1L428.1 691.1L428.7 691.1L429.4 691.1L430.1 691.1L430.8 691L431.5 691L432.1 691L432.8 691L433.5 691L434.2 691L434.9 691L435.6 691L436.2 690.9L436.9 690.9L437.6 690.9L438.3 690.9L439 690.9L439.6 690.9L440.3 690.9L441 690.9L441.3 690.9L441.7 690.9L442.4 690.8L443 690.8L443.7 690.8L444.4 690.8L445.1 690.8L445.8 690.8L446.4 690.8L447.1 690.8L447.8 690.8L448.5 690.8L449.2 690.7L449.8 690.7L450.5 690.7L451.2 690.7L451.9 690.7L452.6 690.7L453.2 690.7L453.9 690.7L454.6 690.7L455.3 690.7L456 690.6L456.6 690.6L457.3 690.6L458 690.6L458.7 690.6L459.4 690.6L460 690.6L460.7 690.6L461.4 690.6L462.1 690.6L462.8 690.6L463.4 690.5L464.1 690.5L464.8 690.5L465.5 690.5L466.2 690.5L466.9 690.5L467.5 690.5L468.2 690.5L468.9 690.5L469.6 690.5L470.3 690.5L470.9 690.5L471.6 690.4L472.3 690.4L473 690.4L473.7 690.4L474.3 690.4L475 690.4L475.7 690.4L476.4 690.4L477.1 690.4L477.7 690.4L478.4 690.4L479.1 690.4L479.8 690.4L480.5 690.3L481.1 690.3L481.8 690.3L482.5 690.3L483.2 690.3L483.9 690.3L484.5 690.3L485.2 690.3L485.9 690.3L486.6 690.3L487.3 690.3L487.9 690.3L488.6 690.3L489.3 690.3L490 690.2L490.7 690.2L491.3 690.2L492 690.2L492.7 690.2L493.4 690.2L494.1 690.2L494.7 690.2L495.4 690.2L496.1 690.2L496.8 690.2L497.5 690.2L498.2 690.2L498.8 690.2L499.5 690.2L500.2 690.2L500.9 690.1L501.6 690.1L502.2 690.1L502.9 690.1L503.6 690.1L504.3 690.1L505 690.1L505.6 690.1L506.3 690.1L507 690.1L507.7 690.1L508.4 690.1L509 690.1L509.7 690.1L510.4 690.1L511.1 690.1L511.8 690.1L512.4 690L513.1 690L513.8 690L514.5 690L515.2 690L515.8 690L516.5 690L517.2 690L517.9 690L518.6 690L519.2 690L519.9 690L520.6 690L521.3 690L522 690L522.6 690L523.3 690L524 690L524.7 690L525.4 690L526 689.9L526.7 689.9L527.4 689.9L528.1 689.9L528.8 689.9L529.5 689.9L530.1 689.9L530.8 689.9L531.5 689.9L532.2 689.9L532.9 689.9L533.5 689.9L534.2 689.9L534.9 689.9L535.6 689.9L536.3 689.9L536.9 689.9L537.6 689.9L538.3 689.9L539 689.9L539.7 689.9L540.3 689.8L541 689.8L541.7 689.8L542.4 689.8L543.1 689.8L543.7 689.8L544.4 689.8L545.1 689.8L545.8 689.8L546.5 689.8L547.1 689.8L547.8 689.8L548.5 689.8L549.2 689.8L549.9 689.8L550.5 689.8L551.2 689.8L551.9 689.8L552.6 689.8L553.3 689.8L553.9 689.8L554.6 689.8L555.3 689.8L556 689.8L556.7 689.8L557.3 689.7L558 689.7L558.7 689.7L559.4 689.7L560.1 689.7L560.8 689.7L561.4 689.7L562.1 689.7L562.8 689.7L563.5 689.7L564.2 689.7L564.8 689.7L565.5 689.7L566.2 689.7L566.9 689.7L567.6 689.7L568.2 689.7L568.9 689.7L569.6 689.7L570.3 689.7L571 689.7L571.6 689.7L572.3 689.7L573 689.7L573.7 689.7L574.4 689.7L575 689.7L575.7 689.6L576.4 689.6L577.1 689.6L577.8 689.6L578.4 689.6L579.1 689.6L579.8 689.6L580.5 689.6L581.2 689.6L581.8 689.6L582.5 689.6L583.2 689.6L583.9 689.6L584.6 689.6L585.2 689.6L585.9 689.6L586.6 689.6L587.3 689.6L588 689.6L588.6 689.6L589.3 689.6L590 689.6L590.7 689.6L591.4 689.6L592.1 689.6L592.7 689.6L593.4 689.6L594.1 689.6L594.8 689.6L595.5 689.6L596.1 689.5L596.8 689.5L597.5 689.5L598.2 689.5L598.9 689.5L599.5 689.5L600.2 689.5L600.9 689.5L601.6 689.5L602.3 689.5L602.9 689.5L603.6 689.5L604.3 689.5" fill="none" stroke="#f39104" stroke-width="3.5" stroke-linejoin="round" stroke-linecap="round"/>
<path d="M120.1 912.2L120.3 901.6L120.5 891.1L120.7 880.5L120.9 869.9L121.1 859.4L121.2 848.8L121.4 838.2L121.6 827.7L121.8 817.1L122 806.5L122.2 796L122.4 785.4L122.6 774.8L122.8 764.3L123 753.7L123.2 743.1L123.4 732.8L123.4 732.7L123.5 727.4L123.7 722.2L123.9 717.4L124.1 713.2L124.3 709.7L124.5 707.2L124.6 706.3L124.7 705.7L124.9 704.5L125.1 703.5L125.3 702.6L125.5 701.8L125.7 701.1L125.9 700.5L126 699.9L126.2 699.4L126.4 699L126.6 698.5L126.6 698.5L126.8 698.1L127 697.7L127.2 697.3L127.4 696.9L127.6 696.6L127.8 696.3L128 696L128.2 695.7L128.3 695.5L128.5 695.3L128.7 695.1L128.7 695.1L128.9 694.9L129.1 694.8L129.3 694.6L129.5 694.5L129.7 694.3L129.9 694.2L130.1 694L130.3 693.9L130.5 693.8L130.7 693.7L130.8 693.6L131 693.4L131.2 693.3L131.4 693.2L131.6 693.1L131.8 693.1L132 693L132.2 692.9L132.4 692.8L132.6 692.7L132.8 692.7L133 692.6L133.1 692.6L133.2 692.6L133.3 692.5L133.5 692.4L133.7 692.4L133.9 692.3L134.1 692.3L134.3 692.2L134.5 692.2L134.7 692.1L134.9 692.1L135.1 692.1L135.3 692L135.5 692L135.6 691.9L135.8 691.9L136 691.9L136.2 691.8L136.4 691.8L136.6 691.8L136.8 691.8L137 691.8L137.2 691.7L137.2 691.7L137.4 691.7L137.6 691.7L137.8 691.7L138 691.7L138.1 691.7L138.3 691.7L138.5 691.7L138.7 691.6L138.9 691.6L139.1 691.6L139.3 691.6L139.5 691.6L139.7 691.6L139.9 691.6L140.1 691.6L140.3 691.6L140.4 691.5L140.6 691.5L140.8 691.5L141 691.5L141.2 691.5L141.4 691.5L141.6 691.5L141.8 691.5L142 691.5L142.2 691.5L142.4 691.4L142.6 691.4L142.8 691.4L142.9 691.4L143.1 691.4L143.3 691.4L143.5 691.4L143.7 691.4L143.9 691.4L144.1 691.4L144.3 691.4L144.5 691.3L144.7 691.3L144.9 691.3L145.1 691.3L145.2 691.3L145.4 691.3L145.6 691.3L145.8 691.3L146 691.3L146.2 691.3L146.4 691.3L146.6 691.3L146.8 691.3L147 691.2L147.2 691.2L147.4 691.2L147.6 691.2L147.7 691.2L147.9 691.2L148.1 691.2L148.3 691.2L148.5 691.2L148.7 691.2L148.9 691.2L149.1 691.2L149.3 691.2L149.5 691.2L149.7 691.1L149.9 691.1L150 691.1L150.2 691.1L150.4 691.1L150.6 691.1L150.8 691.1L151 691.1L151.2 691.1L151.4 691.1L151.6 691.1L151.8 691.1L152 691.1L152.2 691.1L152.4 691.1L152.5 691.1L152.7 691.1L152.9 691.1L153.1 691.1L153.3 691L153.5 691L153.7 691L153.9 691L154.1 691L154.3 691L154.5 691L154.7 691L154.9 691L155 691L155.2 691L155.4 691L155.6 691L155.8 691L156 691L156.2 691L156.4 691L156.6 691L156.8 691L157 691L157.2 691L157.3 691L157.5 691L157.7 691L157.9 691L158.1 691L158.3 691L158.5 691L158.7 691L158.9 691L159.1 691L159.3 691L159.5 690.9L159.7 690.9L159.8 690.9L160 690.9L160.2 690.9L160.4 690.9L160.6 690.9L160.8 690.9L161 690.9L161.2 690.9L161.4 690.9L161.6 690.9L161.8 690.9L162 690.9L162.1 690.9L162.3 690.9L162.5 690.9L162.7 690.9L162.9 690.9L163.1 690.9L163.3 690.9L163.5 690.9L163.7 690.9L163.9 690.9L164.1 690.9L164.1 690.9L164.3 690.9L164.5 690.9L164.6 690.9L164.8 690.9L165 690.9L165.2 690.9L165.4 690.9L165.6 690.9L165.8 690.9L166 690.9L166.2 690.9L166.4 690.9L166.6 690.9L166.8 690.9L166.9 690.9L167.1 690.9L167.3 690.9L167.5 690.9L167.7 690.9L167.9 690.9L168.1 690.9L168.3 690.9L168.5 690.9L168.7 690.9L168.9 690.9L169.1 690.9L169.3 690.9L169.4 690.9L169.6 690.9L169.8 690.9L170 690.9L170.2 690.9L170.4 690.9L170.6 690.9L170.8 690.9L171 690.9L171.2 690.9L171.4 690.9L171.6 690.9L171.8 690.9L171.9 690.9L172.1 690.9L172.3 690.9L172.5 690.9L172.7 690.9L172.9 690.9L173.1 690.9L173.3 690.9L173.5 690.9L173.7 690.9L173.9 690.9L174.1 690.9L174.2 690.9L174.4 690.9L174.6 690.9L174.8 690.9L175 690.9L175.2 690.9L175.4 690.9L175.6 690.9L175.8 690.9L176 690.9L176.2 690.9L176.4 690.9L176.6 690.9L176.7 690.9L176.9 690.9L177.1 690.9L177.3 690.9L177.5 690.9L177.7 690.9L177.9 690.9L178.1 690.9L178.3 690.9L178.5 690.9L178.7 690.9L178.9 690.9L179 690.9L179.2 690.9L179.4 690.9L179.6 690.9L179.8 690.9L180 690.9L180.2 690.9L180.4 690.9L180.6 690.9L180.8 690.9L181 690.9L181.2 690.9L181.4 690.9L181.5 690.9L181.7 690.9L181.9 690.9L182.1 690.9L182.3 690.9L182.5 690.9L182.7 690.9L182.9 690.9L183.1 690.9L183.3 690.9L183.5 690.9L183.7 690.9L183.8 690.9L184 690.9L184.2 690.9L184.4 690.9L184.6 690.9L184.8 690.9L185 690.9L185.2 690.9L185.4 690.9L185.6 690.9L185.8 690.9L186 690.9L186.2 690.9L186.3 690.9L186.5 690.9L186.7 690.9L186.9 690.9L187.1 690.9L187.3 690.9L187.5 690.9L187.7 690.9L187.9 690.9L188.1 690.9L188.3 690.9L188.5 690.9L188.7 690.9L188.8 690.9L189 690.9L189.2 690.9L189.4 690.9L189.6 690.9L189.8 690.9L190 690.9L190.2 690.9L190.4 690.9L190.6 690.9L190.8 690.9L191 690.9L191.1 690.9L191.3 690.9L191.5 690.9L191.7 690.9L191.9 690.9L192.1 690.9L192.3 690.9L192.5 690.9L192.7 690.9L192.9 690.9L193.1 690.9L193.3 690.9L193.5 690.9L193.6 690.9L193.8 690.9L194 690.9L194.2 690.9L194.4 690.9L194.6 690.9L194.8 690.9L195 690.9L195.2 690.9L195.4 690.9L195.6 690.9L195.8 690.9L195.9 690.9L196.1 690.9L196.3 690.9L196.5 690.9L196.7 690.9L197.4 690.9L198.1 690.9L198.8 690.9L199.4 690.9L200.1 690.9L200.8 690.9L201.5 690.9L202.2 690.9L202.8 690.9L203.5 690.9L204.2 690.9L204.9 690.9L205.6 690.9L206.2 690.9L206.9 690.9L207.6 690.9L208.3 690.9L209 690.9L209.6 690.9L210.3 690.9L211 690.9L211.7 690.9L212.4 690.9L213 690.9L213.7 690.9L214.4 690.9L215.1 690.9L215.8 690.9L216.4 690.9L217.1 690.9L217.8 690.9L218.5 690.9L219.2 690.9L219.9 690.9L220.5 690.9L221.2 690.9L221.9 690.9L222.6 690.9L223.3 690.9L223.9 690.9L224.6 690.9L225.3 690.9L226 690.9L226.7 690.9L227.3 690.9L228 690.9L228.7 690.9L229.4 690.9L230.1 690.9L230.7 690.9L231.4 690.9L232.1 690.9L232.8 690.9L233.5 690.9L234.1 690.9L234.8 690.9L235.5 690.9L236.2 690.9L236.9 690.9L237.5 690.9L238.2 690.9L238.9 690.9L239.6 690.9L240.3 690.9L240.9 690.9L241.6 690.9L242.3 690.9L243 690.9L243.7 690.9L244.3 690.9L245 690.9L245.7 690.9L246.4 690.9L247.1 690.9L247.7 690.9L248.4 690.9L249.1 690.9L249.8 690.9L250.5 690.9L251.2 690.9L251.8 690.9L252.5 690.9L253.2 690.9L253.9 690.9L254.6 690.9L255.2 690.9L255.9 690.9L256.6 690.9L257.3 690.9L258 690.9L258.6 690.9L259.3 690.9L260 690.9L260.7 690.9L261.4 690.9L262 690.9L262.7 690.9L263.4 690.9L264.1 690.9L264.8 690.9L265.4 690.9L266.1 690.9L266.8 690.9L267.5 690.9L268.2 690.9L268.8 690.9L269.5 690.9L270.2 690.9L270.9 690.9L271.6 690.9L272.2 690.9L272.9 690.9L273.6 690.9L274.3 690.9L275 690.9L275.6 690.9L276.3 690.9L277 690.9L277.7 690.9L278.4 690.9L279 690.9L279.7 690.9L280.4 690.9L281.1 690.9L281.8 690.9L282.5 690.9L283.1 690.9L283.8 690.9L284.5 690.9L285.2 690.9L285.9 690.9L286.5 690.9L287.2 690.9L287.9 690.9L288.6 690.9L289.3 690.9L289.9 690.9L290.6 690.9L291.3 690.9L292 690.9L292.7 690.9L293.3 690.9L294 690.9L294.7 690.9L295.4 690.9L296.1 690.9L296.7 690.9L297.4 690.9L298.1 690.9L298.8 690.9L299.5 690.9L300.1 690.9L300.8 690.9L301.5 690.9L302.2 690.9L302.9 690.9L303.5 690.9L304.2 690.9L304.9 690.9L305.6 690.9L306.3 690.9L306.9 690.9L307.6 690.9L308.3 690.9L309 690.9L309.7 690.9L310.4 690.9L311 690.9L311.7 690.9L312.4 690.9L313.1 690.9L313.8 690.9L314.4 690.9L315.1 690.9L315.8 690.9L316.5 690.9L317.2 690.9L317.8 690.9L318.5 690.9L319.2 690.9L319.9 690.9L320.6 690.9L321.2 690.9L321.9 690.9L322.6 690.9L323.3 690.9L324 690.9L324.6 690.9L325.3 690.9L326 690.9L326.7 690.9L327.4 690.9L328 690.9L328.7 690.9L329.4 690.9L330.1 690.9L330.8 690.9L331.4 690.9L332.1 690.9L332.8 690.9L333.5 690.9L334.2 690.9L334.8 690.9L335.5 690.9L336.2 690.9L336.9 690.9L337.6 690.9L338.2 690.9L338.9 690.9L339.6 690.9L340.3 690.9L341 690.9L341.7 690.9L342.3 690.9L343 690.9L343.7 690.9L344.4 690.9L345.1 690.9L345.7 690.9L346.4 690.9L347.1 690.9L347.8 690.9L348.5 690.9L349.1 690.9L349.8 690.9L350.5 690.9L351.2 690.9L351.9 690.9L352.5 690.9L353.2 690.9L353.9 690.9L354.6 690.9L355.3 690.9L355.9 690.9L356.6 690.9L357.3 690.9L358 690.9L358.7 690.9L359.3 690.9L360 690.9L360.7 690.9L361.4 690.9L362.1 690.9L362.7 690.9L363.4 690.9L364.1 690.9L364.8 690.9L365.5 690.9L366.1 690.9L366.8 690.9L367.5 690.9L368.2 690.9L368.9 690.9L369.5 690.9L370.2 690.9L370.9 691L371.6 691L372.3 691L373 691L373.6 691L374.3 691L375 691L375.7 691L376.4 691L377 691L377.7 691L378.4 691L379.1 691L379.8 691L380.4 691L381.1 691L381.8 691L382.5 691L383.2 691L383.8 691L384.5 691L385.2 691L385.9 691L386.6 691L387.2 691L387.9 691L388.6 691L389.3 691L390 691L390.6 691L391.3 691L392 691L392.7 691L393.4 691L394 691L394.7 691L395.4 691L396.1 691L396.8 691L397.4 691L398.1 691L398.8 691L399.5 691L400.2 691L400.8 691L401.5 691L402.2 691L402.9 691L403.6 691L404.3 691L404.9 691L405.6 691L406.3 691L407 691L407.7 691L408.3 691L409 691L409.7 691L410.4 691L411.1 691L411.7 691L412.4 691L413.1 691L413.8 691L414.5 691L415.1 691L415.8 691L416.5 691L417.2 691L417.9 691L418.5 691L419.2 691L419.9 691L420.6 691L421.3 691L421.9 691L422.6 691L423.3 691L424 691L424.7 691L425.3 691L426 691L426.7 691L427.4 691L428.1 691L428.7 691L429.4 691L430.1 691L430.8 691L431.5 691L432.1 691L432.8 691L433.5 691L434.2 691L434.9 691L435.6 691L436.2 691L436.9 691L437.6 691L438.3 691L439 691L439.6 691L440.3 691L441 691L441.7 691L442.4 691L443 691L443.7 691L444.4 691L445.1 691L445.8 691L446.4 691L447.1 691L447.8 691L448.5 691L449.2 691L449.8 691L450.5 691L451.2 691L451.9 691L452.6 691L453.2 691L453.9 691L454.6 691L455.3 691L456 691L456.6 691L457.3 691L458 691L458.7 691L459.4 691L460 691L460.7 691L461.4 691L462.1 691L462.8 691L463.4 691L464.1 691L464.8 691L465.5 691L466.2 691L466.9 691L467.5 691L468.2 691L468.9 691L469.6 691L470.3 691L470.9 691L471.6 691L472.3 691L473 691L473.7 691L474.3 691L475 691L475.7 691L476.4 691L477.1 691L477.7 691L478.4 691L479.1 691L479.8 691L480.5 691L481.1 691L481.8 691L482.5 691L483.2 691L483.9 691L484.5 691L485.2 691L485.9 691L486.6 691L487.3 691L487.9 691L488.6 691L489.3 691L490 691L490.7 691L491.3 691L492 691L492.7 691L493.4 691L494.1 691L494.7 691L495.4 691L496.1 691L496.8 691L497.5 691L498.2 691L498.8 691L499.5 691L500.2 691L500.9 691L501.6 691L502.2 691L502.9 691L503.6 691L504.3 691L505 691L505.6 691L506.3 691L507 691L507.7 691L508.4 691L509 691L509.7 691L510.4 691L511.1 691L511.8 691L512.4 691L513.1 691L513.8 691L514.5 691L515.2 691L515.8 691L516.5 691L517.2 691L517.9 691L518.6 691L519.2 691L519.9 691L520.6 691L521.3 691L522 691L522.6 691L523.3 691L524 691L524.7 691L525.4 691L526 691L526.7 691L527.4 691L528.1 691.1L528.8 691.1L529.5 691.1L530.1 691.1L530.8 691.1L531.5 691.1L532.2 691.1L532.9 691.1L533.5 691.1L534.2 691.1L534.9 691.1L535.6 691.1L536.3 691.1L536.9 691.1L537.6 691.1L538.3 691.1L539 691.1L539.7 691.1L540.3 691.1L541 691.1L541.7 691.1L542.4 691.1L543.1 691.1L543.7 691.1L544.4 691.1L545.1 691.1L545.8 691.1L546.5 691.1L547.1 691.1L547.8 691.1L548.5 691.1L549.2 691.1L549.9 691.1L550.5 691.1L551.2 691.1L551.9 691.1L552.6 691.1L553.3 691.1L553.9 691.1L554.6 691.1L555.3 691.1L556 691.1L556.7 691.1L557.3 691.1L558 691.1L558.7 691.1L559.4 691.1L560.1 691.1L560.8 691.1L561.4 691.1L562.1 691.1L562.8 691.1L563.5 691.1L564.2 691.1L564.8 691.1L565.5 691.1L566.2 691.1L566.9 691.1L567.6 691.1L568.2 691.1L568.9 691.1L569.6 691.1L570.3 691.1L571 691.1L571.6 691.1L572.3 691.1L573 691.1L573.7 691.1L574.4 691.1L575 691.1L575.7 691.1L576.4 691.1L577.1 691.1L577.8 691.1L578.4 691.1L579.1 691.1L579.8 691.1L580.5 691.1L581.2 691.1L581.8 691.1L582.5 691.1L583.2 691.1L583.9 691.1L584.6 691.1L585.2 691.1L585.9 691.1L586.6 691.1L587.3 691.1L588 691.1L588.6 691.1L589.3 691.1L590 691.1L590.7 691.1L591.4 691.1L592.1 691.1L592.7 691.1L593.4 691.1L594.1 691.1L594.8 691.1L595.5 691.1L596.1 691.1L596.8 691.1L597.5 691.1L598.2 691.1L598.9 691.1L599.5 691.1L600.2 691.1L600.9 691.1L601.6 691.1L602.3 691.1L602.9 691.1L603.6 691.1L604.3 691.1" fill="none" stroke="#8e0f4b" stroke-width="3.5" stroke-linejoin="round" stroke-linecap="round" stroke-dasharray="9.2 7.5"/>
<path d="M823.1 886.4L823.3 878.6L823.5 870.9L823.7 863.2L823.9 855.4L824.1 847.7L824.3 840L824.5 832.2L824.7 824.5L824.9 816.8L825.1 812.6L825.3 811.4L825.5 810.3L825.7 809.4L825.9 808.6L826.1 808L826.3 807.7L826.5 807.7L826.7 807.8L826.9 808.2L827.1 806L827.3 802.6L827.5 799.2L827.7 795.9L827.9 792.5L828.1 791.4L828.3 790.4L828.5 789.3L828.7 788.4L828.8 787.5L829 786.7L829.2 786L829.4 785.5L829.6 785.1L829.8 784.8L830 784.6L830.2 784.3L830.4 784.1L830.6 783.9L830.8 783.7L831 783.5L831.2 783.4L831.4 783.2L831.6 783.1L831.8 783L832 783L832.2 782.9L832.4 782.9L832.6 782.9L832.8 782.9L833 782.9L833.2 782.9L833.4 782.9L833.6 783L833.8 783L834 783L834.2 783L834.4 783.1L834.6 783.1L834.8 783.1L835 783.1L835.2 783.2L835.4 783.2L835.5 783.3L835.7 783.3L835.9 783.3L836.1 783.4L836.3 783.4L836.5 783.5L836.7 783.5L836.9 783.6L837.1 783.6L837.3 783.7L837.5 783.8L837.7 783.8L837.9 783.9L838.1 783.9L838.3 784L838.5 784L838.7 784.1L838.9 784.1L839.1 784.2L839.3 784.3L839.5 784.3L839.7 784.4L839.9 784.4L840.1 784.5L840.3 784.6L840.5 784.6L840.7 784.7L840.9 784.7L841.1 784.8L841.3 784.8L841.5 784.9L841.7 784.9L841.9 785L842.1 785L842.2 785.1L842.4 785.1L842.6 785.2L842.8 785.2L843 785.3L843.2 785.3L843.4 785.3L843.6 785.4L843.8 785.4L844 785.4L844.2 785.5L844.4 785.5L844.6 785.5L844.8 785.5L845 785.5L845.2 785.6L845.4 785.6L845.6 785.6L845.8 785.6L846 785.6L846.2 785.7L846.4 785.7L846.6 785.7L846.8 785.7L847 785.7L847.2 785.8L847.4 785.8L847.6 785.8L847.8 785.8L848 785.8L848.2 785.9L848.4 785.9L848.6 785.9L848.7 785.9L848.9 785.9L849.1 785.9L849.3 786L849.5 786L849.7 786L849.9 786L850.1 786L850.3 786L850.5 786.1L850.7 786.1L850.9 786.1L851.1 786.1L851.3 786.1L851.5 786.1L851.7 786.1L851.9 786.2L852.1 786.2L852.3 786.2L852.5 786.2L852.7 786.2L852.9 786.2L853.1 786.2L853.3 786.3L853.5 786.3L853.7 786.3L853.9 786.3L854.1 786.3L854.3 786.3L854.5 786.3L854.7 786.4L854.9 786.4L855.1 786.4L855.3 786.4L855.4 786.4L855.6 786.4L855.8 786.4L856 786.4L856.2 786.4L856.4 786.5L856.6 786.5L856.8 786.5L857 786.5L857.2 786.5L857.4 786.5L857.6 786.5L857.8 786.5L858 786.5L858.2 786.6L858.4 786.6L858.6 786.6L858.8 786.6L859 786.6L859.2 786.6L859.4 786.6L859.6 786.6L859.8 786.6L860 786.6L860.2 786.7L860.4 786.7L860.6 786.7L860.8 786.7L861 786.7L861.2 786.7L861.4 786.7L861.6 786.7L861.8 786.7L862 786.7L862.1 786.7L862.3 786.7L862.5 786.7L862.7 786.8L862.9 786.8L863.1 786.8L863.3 786.8L863.5 786.8L863.7 786.8L863.9 786.8L864.1 786.8L864.3 786.8L864.5 786.8L864.7 786.8L864.9 786.8L865.1 786.8L865.3 786.8L865.5 786.8L865.7 786.8L865.9 786.9L866.1 786.9L866.3 786.9L866.5 786.9L866.7 786.9L866.9 786.9L867.1 786.9L867.3 786.9L867.5 786.9L867.7 786.9L867.9 786.9L868.1 786.9L868.3 786.9L868.5 786.9L868.6 786.9L868.8 786.9L869 786.9L869.2 787L869.4 787L869.6 787L869.8 787L870 787L870.2 787L870.4 787L870.6 787L870.8 787L871 787L871.2 787L871.4 787L871.6 787L871.8 787L872 787L872.2 787L872.4 787L872.6 787L872.8 787.1L873 787.1L873.2 787.1L873.4 787.1L873.6 787.1L873.8 787.1L874 787.1L874.2 787.1L874.4 787.1L874.6 787.1L874.8 787.1L875 787.1L875.2 787.1L875.3 787.1L875.5 787.1L875.7 787.1L875.9 787.1L876.1 787.1L876.3 787.1L876.5 787.2L876.7 787.2L876.9 787.2L877.1 787.2L877.3 787.2L877.5 787.2L877.7 787.2L877.9 787.2L878.1 787.2L878.3 787.2L878.5 787.2L878.7 787.2L878.9 787.2L879.1 787.2L879.3 787.2L879.5 787.2L879.7 787.2L879.9 787.2L880.1 787.2L880.3 787.2L880.5 787.2L880.7 787.3L880.9 787.3L881.1 787.3L881.3 787.3L881.5 787.3L881.7 787.3L881.9 787.3L882 787.3L882.2 787.3L882.4 787.3L882.6 787.3L882.8 787.3L883 787.3L883.2 787.3L883.4 787.3L883.6 787.3L883.8 787.3L884 787.3L884.2 787.3L884.4 787.3L884.6 787.3L884.8 787.3L885 787.3L885.2 787.4L885.4 787.4L885.6 787.4L885.8 787.4L886 787.4L886.2 787.4L886.4 787.4L886.6 787.4L886.8 787.4L887 787.4L887.2 787.4L887.4 787.4L887.6 787.4L887.8 787.4L888 787.4L888.2 787.4L888.4 787.4L888.5 787.4L888.7 787.4L888.9 787.4L889.1 787.4L889.3 787.4L889.5 787.4L889.7 787.4L889.9 787.4L890.1 787.5L890.3 787.5L890.5 787.5L890.7 787.5L890.9 787.5L891.1 787.5L891.3 787.5L891.5 787.5L891.7 787.5L891.9 787.5L892.1 787.5L892.3 787.5L892.5 787.5L892.7 787.5L892.9 787.5L893.1 787.5L893.3 787.5L893.5 787.5L893.7 787.5L893.9 787.5L894.1 787.5L894.3 787.5L894.5 787.5L894.7 787.5L894.9 787.5L895.1 787.5L895.2 787.5L895.4 787.5L895.6 787.5L895.8 787.5L896 787.5L896.2 787.6L896.4 787.6L896.6 787.6L896.8 787.6L897 787.6L897.2 787.6L897.4 787.6L897.6 787.6L897.8 787.6L898 787.6L898.2 787.6L898.4 787.6L898.6 787.6L898.8 787.6L899 787.6L899.2 787.6L899.4 787.6L899.6 787.6L899.8 787.6L900 787.6L900.2 787.6L900.4 787.6L900.6 787.6L900.8 787.6L901 787.6L901.2 787.6L901.4 787.6L901.6 787.6L901.8 787.6L903.1 787.1L904.5 786.3L905.8 785.4L907.2 784.7L908.6 783.9L909.9 783.2L911.3 782.5L912.7 781.9L914 781.3L915.4 780.7L916.8 780.1L918.1 779.6L919.5 779.1L920.8 778.6L922.2 778.2L923.6 777.8L924.9 777.4L926.3 777L927.7 776.7L929 776.3L930.4 776L931.8 775.7L933.1 775.4L934.5 775.2L935.8 774.9L937.2 774.7L938.6 774.5L939.9 774.3L941.3 774.1L942.7 773.9L944 773.7L945.4 773.6L946.8 773.4L948.1 773.3L949.5 773.2L950.8 773L952.2 772.9L953.6 772.8L954.9 772.7L956.3 772.7L957.7 772.6L959 772.5L960.4 772.4L961.8 772.4L963.1 772.3L964.5 772.3L965.8 772.3L967.2 772.2L968.6 772.2L969.9 772.2L971.3 772.2L972.7 772.1L974 772.1L975.4 772.1L976.8 772.1L978.1 772.1L979.5 772.1L980.8 772.1L982.2 772.1L983.6 772.2L984.9 772.2L986.3 772.2L987.7 772.2L989 772.2L990.4 772.2L991.8 772.3L993.1 772.3L994.5 772.3L995.8 772.3L997.2 772.4L998.6 772.4L999.9 772.4L1001.3 772.5L1002.7 772.5L1004 772.5L1005.4 772.6L1006.8 772.6L1008.1 772.6L1009.5 772.7L1010.8 772.7L1012.2 772.7L1013.6 772.8L1014.9 772.8L1016.3 772.8L1017.7 772.9L1019 772.9L1020.4 772.9L1021.8 773L1023.1 773L1024.5 773L1025.8 773.1L1027.2 773.1L1028.6 773.2L1029.9 773.2L1031.3 773.2L1032.7 773.3L1034 773.3L1035.4 773.3L1036.8 773.4L1038.1 773.4L1039.5 773.5L1040.8 773.5L1042.2 773.5L1043.6 773.6L1044.9 773.6L1046.3 773.6L1047.7 773.7L1049 773.7L1050.4 773.8L1051.8 773.8L1053.1 773.8L1054.5 773.9L1055.8 773.9L1057.2 773.9L1058.6 774L1059.9 774L1061.3 774L1062.7 774.1L1064 774.1L1065.4 774.1L1066.8 774.2L1068.1 774.2L1069.5 774.2L1070.9 774.3L1072.2 774.3L1073.6 774.3L1074.9 774.4L1076.3 774.4L1077.7 774.4L1079 774.5L1080.4 774.5L1081.8 774.5L1083.1 774.6L1084.5 774.6L1085.9 774.6L1087.2 774.7L1088.6 774.7L1089.9 774.7L1091.3 774.8L1092.7 774.8L1094 774.8L1095.4 774.9L1096.8 774.9L1098.1 774.9L1099.5 774.9L1100.9 775L1102.2 775L1103.6 775L1104.9 775.1L1106.3 775.1L1107.7 775.1L1109 775.2L1110.4 775.2L1111.8 775.2L1113.1 775.2L1114.5 775.3L1115.9 775.3L1117.2 775.3L1118.6 775.4L1119.9 775.4L1121.3 775.4L1122.7 775.4L1124 775.5L1125.4 775.5L1126.8 775.5L1128.1 775.6L1129.5 775.6L1130.9 775.6L1132.2 775.6L1133.6 775.7L1134.9 775.7L1136.3 775.7L1137.7 775.7L1139 775.8L1140.4 775.8L1141.8 775.8L1143.1 775.9L1144.5 775.9L1145.9 775.9L1147.2 775.9L1148.6 776L1149.9 776L1151.3 776L1152.7 776L1154 776.1L1155.4 776.1L1156.8 776.1L1158.1 776.1L1159.5 776.2L1160.9 776.2L1162.2 776.2L1163.6 776.2L1164.9 776.3L1166.3 776.3L1167.7 776.3L1169 776.3L1170.4 776.4L1171.8 776.4L1173.1 776.4L1174.5 776.4L1175.9 776.5L1177.2 776.5L1178.6 776.5L1179.9 776.5L1181.3 776.6L1182.7 776.6L1184 776.6L1185.4 776.6L1186.8 776.7L1188.1 776.7L1189.5 776.7L1190.9 776.7L1192.2 776.8L1193.6 776.8L1194.9 776.8L1196.3 776.8L1197.7 776.8L1199 776.9L1200.4 776.9L1201.8 776.9L1203.1 776.9L1204.5 777L1205.9 777L1207.2 777L1208.6 777L1209.9 777.1L1211.3 777.1L1212.7 777.1L1214 777.1L1215.4 777.1L1216.8 777.2L1218.1 777.2L1219.5 777.2L1220.9 777.2L1222.2 777.3L1223.6 777.3L1224.9 777.3L1226.3 777.3L1227.7 777.3L1229 777.4L1230.4 777.4L1231.8 777.4L1233.1 777.4L1234.5 777.5L1235.9 777.5L1237.2 777.5L1238.6 777.5L1240 777.5L1241.3 777.6L1242.7 777.6L1244 777.6L1245.4 777.6L1246.8 777.7L1248.1 777.7L1249.5 777.7L1250.9 777.7L1252.2 777.7L1253.6 777.8L1255 777.8L1256.3 777.8L1257.7 777.8L1259 777.8L1260.4 777.9L1261.8 777.9L1263.1 777.9L1264.5 777.9L1265.9 778L1267.2 778L1268.6 778L1270 778L1271.3 778L1272.7 778.1L1274 778.1L1275.4 778.1L1276.8 778.1L1278.1 778.1L1279.5 778.2L1280.9 778.2L1282.2 778.2L1283.6 778.2L1285 778.2L1286.3 778.3L1287.7 778.3L1289 778.3L1290.4 778.3L1291.8 778.3L1293.1 778.4L1294.5 778.4L1295.9 778.4L1297.2 778.4L1298.6 778.4L1300 778.5L1301.3 778.5L1302.7 778.5L1304 778.5L1305.4 778.5L1306.8 778.6L1308.1 778.6L1309.5 778.6L1309.5 782.2L1308.1 782.2L1306.8 782.2L1305.4 782.2L1304 782.2L1302.7 782.2L1301.3 782.2L1300 782.2L1298.6 782.3L1297.2 782.3L1295.9 782.3L1294.5 782.3L1293.1 782.3L1291.8 782.3L1290.4 782.3L1289 782.3L1287.7 782.3L1286.3 782.3L1285 782.3L1283.6 782.3L1282.2 782.3L1280.9 782.3L1279.5 782.4L1278.1 782.4L1276.8 782.4L1275.4 782.4L1274 782.4L1272.7 782.4L1271.3 782.4L1270 782.4L1268.6 782.4L1267.2 782.4L1265.9 782.4L1264.5 782.4L1263.1 782.5L1261.8 782.5L1260.4 782.5L1259 782.5L1257.7 782.5L1256.3 782.5L1255 782.5L1253.6 782.5L1252.2 782.5L1250.9 782.5L1249.5 782.6L1248.1 782.6L1246.8 782.6L1245.4 782.6L1244 782.6L1242.7 782.6L1241.3 782.6L1240 782.6L1238.6 782.6L1237.2 782.7L1235.9 782.7L1234.5 782.7L1233.1 782.7L1231.8 782.7L1230.4 782.7L1229 782.7L1227.7 782.7L1226.3 782.7L1224.9 782.8L1223.6 782.8L1222.2 782.8L1220.9 782.8L1219.5 782.8L1218.1 782.8L1216.8 782.8L1215.4 782.8L1214 782.9L1212.7 782.9L1211.3 782.9L1209.9 782.9L1208.6 782.9L1207.2 782.9L1205.9 782.9L1204.5 783L1203.1 783L1201.8 783L1200.4 783L1199 783L1197.7 783L1196.3 783L1194.9 783.1L1193.6 783.1L1192.2 783.1L1190.9 783.1L1189.5 783.1L1188.1 783.1L1186.8 783.1L1185.4 783.2L1184 783.2L1182.7 783.2L1181.3 783.2L1179.9 783.2L1178.6 783.2L1177.2 783.2L1175.9 783.3L1174.5 783.3L1173.1 783.3L1171.8 783.3L1170.4 783.3L1169 783.3L1167.7 783.4L1166.3 783.4L1164.9 783.4L1163.6 783.4L1162.2 783.4L1160.9 783.4L1159.5 783.4L1158.1 783.5L1156.8 783.5L1155.4 783.5L1154 783.5L1152.7 783.5L1151.3 783.5L1149.9 783.6L1148.6 783.6L1147.2 783.6L1145.9 783.6L1144.5 783.6L1143.1 783.6L1141.8 783.7L1140.4 783.7L1139 783.7L1137.7 783.7L1136.3 783.7L1134.9 783.7L1133.6 783.8L1132.2 783.8L1130.9 783.8L1129.5 783.8L1128.1 783.8L1126.8 783.9L1125.4 783.9L1124 783.9L1122.7 783.9L1121.3 783.9L1119.9 783.9L1118.6 784L1117.2 784L1115.9 784L1114.5 784L1113.1 784L1111.8 784.1L1110.4 784.1L1109 784.1L1107.7 784.1L1106.3 784.1L1104.9 784.1L1103.6 784.2L1102.2 784.2L1100.9 784.2L1099.5 784.2L1098.1 784.2L1096.8 784.3L1095.4 784.3L1094 784.3L1092.7 784.3L1091.3 784.3L1089.9 784.3L1088.6 784.4L1087.2 784.4L1085.9 784.4L1084.5 784.4L1083.1 784.4L1081.8 784.5L1080.4 784.5L1079 784.5L1077.7 784.5L1076.3 784.5L1074.9 784.6L1073.6 784.6L1072.2 784.6L1070.9 784.6L1069.5 784.6L1068.1 784.6L1066.8 784.7L1065.4 784.7L1064 784.7L1062.7 784.7L1061.3 784.7L1059.9 784.8L1058.6 784.8L1057.2 784.8L1055.8 784.8L1054.5 784.8L1053.1 784.9L1051.8 784.9L1050.4 784.9L1049 784.9L1047.7 784.9L1046.3 785L1044.9 785L1043.6 785L1042.2 785L1040.8 785.1L1039.5 785.1L1038.1 785.1L1036.8 785.1L1035.4 785.2L1034 785.2L1032.7 785.2L1031.3 785.2L1029.9 785.3L1028.6 785.3L1027.2 785.3L1025.8 785.4L1024.5 785.4L1023.1 785.4L1021.8 785.5L1020.4 785.5L1019 785.5L1017.7 785.6L1016.3 785.6L1014.9 785.6L1013.6 785.7L1012.2 785.7L1010.8 785.7L1009.5 785.8L1008.1 785.8L1006.8 785.9L1005.4 785.9L1004 785.9L1002.7 786L1001.3 786L999.9 786L998.6 786.1L997.2 786.1L995.8 786.2L994.5 786.2L993.1 786.2L991.8 786.3L990.4 786.3L989 786.3L987.7 786.4L986.3 786.4L984.9 786.5L983.6 786.5L982.2 786.5L980.8 786.6L979.5 786.6L978.1 786.6L976.8 786.7L975.4 786.7L974 786.8L972.7 786.8L971.3 786.8L969.9 786.9L968.6 786.9L967.2 786.9L965.8 787L964.5 787L963.1 787L961.8 787.1L960.4 787.1L959 787.1L957.7 787.1L956.3 787.2L954.9 787.2L953.6 787.2L952.2 787.3L950.8 787.3L949.5 787.3L948.1 787.3L946.8 787.4L945.4 787.4L944 787.4L942.7 787.4L941.3 787.5L939.9 787.5L938.6 787.5L937.2 787.5L935.8 787.5L934.5 787.6L933.1 787.6L931.8 787.6L930.4 787.6L929 787.6L927.7 787.6L926.3 787.6L924.9 787.6L923.6 787.7L922.2 787.7L920.8 787.7L919.5 787.7L918.1 787.7L916.8 787.7L915.4 787.7L914 787.7L912.7 787.7L911.3 787.7L909.9 787.7L908.6 787.7L907.2 787.7L905.8 787.7L904.5 787.6L903.1 787.6L901.8 788.1L901.6 788.2L901.4 788.3L901.2 788.5L901 788.6L900.8 788.7L900.6 788.9L900.4 789L900.2 789.2L900 789.3L899.8 789.5L899.6 789.6L899.4 789.7L899.2 789.9L899 790L898.8 790.2L898.6 790.3L898.4 790.5L898.2 790.6L898 790.8L897.8 790.9L897.6 791.1L897.4 791.3L897.2 791.4L897 791.6L896.8 791.7L896.6 791.9L896.4 792.1L896.2 792.2L896 792.4L895.8 792.5L895.6 792.7L895.4 792.9L895.2 793L895.1 793.2L894.9 793.4L894.7 793.6L894.5 793.7L894.3 793.9L894.1 794.1L893.9 794.3L893.7 794.4L893.5 794.6L893.3 794.8L893.1 795L892.9 795.2L892.7 795.3L892.5 795.5L892.3 795.7L892.1 795.9L891.9 796.1L891.7 796.3L891.5 796.5L891.3 796.7L891.1 796.8L890.9 797L890.7 797.2L890.5 797.4L890.3 797.6L890.1 797.8L889.9 798L889.7 798.2L889.5 798.4L889.3 798.6L889.1 798.9L888.9 799.1L888.7 799.3L888.5 799.5L888.4 799.7L888.2 799.9L888 800.1L887.8 800.3L887.6 800.6L887.4 800.8L887.2 801L887 801.2L886.8 801.4L886.6 801.7L886.4 801.9L886.2 802.1L886 802.3L885.8 802.6L885.6 802.8L885.4 803L885.2 803.3L885 803.5L884.8 803.8L884.6 804L884.4 804.2L884.2 804.5L884 804.7L883.8 805L883.6 805.2L883.4 805.5L883.2 805.7L883 806L882.8 806.2L882.6 806.5L882.4 806.7L882.2 807L882 807.2L881.9 807.5L881.7 807.8L881.5 808L881.3 808.3L881.1 808.6L880.9 808.8L880.7 809.1L880.5 809.4L880.3 809.6L880.1 809.9L879.9 810.2L879.7 810.5L879.5 810.8L879.3 811L879.1 811.3L878.9 811.6L878.7 811.9L878.5 812.2L878.3 812.5L878.1 812.8L877.9 813.1L877.7 813.4L877.5 813.7L877.3 814L877.1 814.3L876.9 814.6L876.7 814.9L876.5 815.2L876.3 815.5L876.1 815.8L875.9 816.1L875.7 816.4L875.5 816.8L875.3 817.1L875.2 817.4L875 817.7L874.8 818.1L874.6 818.4L874.4 818.7L874.2 819L874 819.4L873.8 819.7L873.6 820.1L873.4 820.4L873.2 820.7L873 821.1L872.8 821.4L872.6 821.8L872.4 822.1L872.2 822.5L872 822.8L871.8 823.2L871.6 823.6L871.4 823.9L871.2 824.3L871 824.7L870.8 825L870.6 825.4L870.4 825.8L870.2 826.2L870 826.5L869.8 826.9L869.6 827.3L869.4 827.7L869.2 828.1L869 828.5L868.8 828.9L868.6 829.3L868.5 829.7L868.3 830.1L868.1 830.5L867.9 830.9L867.7 831.3L867.5 831.7L867.3 832.1L867.1 832.5L866.9 832.9L866.7 833.3L866.5 833.8L866.3 834.2L866.1 834.6L865.9 835L865.7 835.5L865.5 835.9L865.3 836.3L865.1 836.8L864.9 837.2L864.7 837.7L864.5 838.1L864.3 838.5L864.1 839L863.9 839.4L863.7 839.9L863.5 840.3L863.3 840.8L863.1 841.2L862.9 841.7L862.7 842.1L862.5 842.6L862.3 843L862.1 843.5L862 844L861.8 844.4L861.6 844.9L861.4 845.3L861.2 845.8L861 846.3L860.8 846.7L860.6 847.2L860.4 847.7L860.2 848.1L860 848.6L859.8 849.1L859.6 849.5L859.4 850L859.2 850.5L859 851L858.8 851.4L858.6 851.9L858.4 852.4L858.2 852.9L858 853.4L857.8 853.8L857.6 854.3L857.4 854.8L857.2 855.3L857 855.8L856.8 856.3L856.6 856.8L856.4 857.3L856.2 857.8L856 858.3L855.8 858.8L855.6 859.3L855.4 859.8L855.3 860.3L855.1 860.8L854.9 861.3L854.7 861.8L854.5 862.3L854.3 862.8L854.1 863.3L853.9 863.8L853.7 864.3L853.5 864.8L853.3 865.4L853.1 865.9L852.9 866.4L852.7 866.9L852.5 867.4L852.3 868L852.1 868.5L851.9 869L851.7 869.5L851.5 870.1L851.3 870.6L851.1 871.1L850.9 871.6L850.7 872.2L850.5 872.7L850.3 873.2L850.1 873.8L849.9 874.3L849.7 874.8L849.5 875.3L849.3 875.9L849.1 876.4L848.9 876.9L848.7 877.5L848.6 878L848.4 878.5L848.2 879.1L848 879.6L847.8 880.1L847.6 880.7L847.4 881.2L847.2 881.7L847 882.2L846.8 882.7L846.6 883.3L846.4 883.8L846.2 884.3L846 884.7L845.8 885.2L845.6 885.7L845.4 886.1L845.2 886.6L845 887L844.8 887.4L844.6 887.8L844.4 888.2L844.2 888.5L844 888.9L843.8 889.2L843.6 889.5L843.4 889.7L843.2 890L843 890.2L842.8 890.4L842.6 890.6L842.4 890.8L842.2 890.9L842.1 891.1L841.9 891.2L841.7 891.2L841.5 891.3L841.3 891.3L841.1 891.2L840.9 891.2L840.7 891.1L840.5 891L840.3 890.9L840.1 890.7L839.9 890.5L839.7 890.3L839.5 890L839.3 889.7L839.1 889.4L838.9 889L838.7 888.6L838.5 888.2L838.3 887.7L838.1 887.2L837.9 886.6L837.7 886L837.5 885.4L837.3 884.7L837.1 883.9L836.9 883.2L836.7 882.4L836.5 881.5L836.3 880.6L836.1 879.6L835.9 878.6L835.7 877.6L835.5 876.5L835.4 875.4L835.2 874.3L835 873.1L834.8 871.8L834.6 870.6L834.4 869.3L834.2 867.9L834 866.6L833.8 865.2L833.6 863.7L833.4 862.3L833.2 860.8L833 859.2L832.8 857.7L832.6 856.1L832.4 854.5L832.2 852.8L832 851.1L831.8 849.4L831.6 847.6L831.4 845.8L831.2 843.9L831 842L830.8 840.1L830.6 838.2L830.4 836.2L830.2 834.2L830 832.2L829.8 830.2L829.6 828.3L829.4 826.3L829.2 824.4L829 822.5L828.8 820.7L828.7 819L828.5 817.3L828.3 815.7L828.1 814.2L827.9 812.8L827.7 811.6L827.5 810.5L827.3 809.6L827.1 808.8L826.9 809.4L826.7 813.2L826.5 818.7L826.3 824.2L826.1 829.7L825.9 835.1L825.7 840.6L825.5 846.1L825.3 851.6L825.1 857.1L824.9 862.6L824.7 868.1L824.5 873.6L824.3 879.1L824.1 884.6L823.9 890L823.7 895.5L823.5 901L823.3 906.5L823.1 912Z" fill="#cccccc"/>
<path d="M823.1 912L823.1 912L823.3 906.5L823.5 901L823.7 895.5L823.9 890L824.1 884.6L824.3 879.1L824.5 873.6L824.7 868.1L824.9 862.6L825.1 857.1L825.3 851.6L825.5 846.1L825.7 840.6L825.9 835.1L826.1 829.7L826.3 824.2L826.5 818.7L826.7 813.2L826.9 809.4L827.1 808.8L827.3 809.6L827.5 810.5L827.7 811.6L827.9 812.8L828.1 814.2L828.3 815.7L828.5 817.3L828.7 819L828.8 820.7L829 822.5L829.2 824.4L829.4 826.3L829.6 828.3L829.8 830.2L830 832.2L830.2 834.2L830.4 836.2L830.6 838.2L830.8 840.1L831 842L831.2 843.9L831.4 845.8L831.6 847.6L831.8 849.4L832 851.1L832.2 852.8L832.4 854.5L832.6 856.1L832.8 857.7L833 859.2L833.2 860.8L833.4 862.3L833.6 863.7L833.8 865.2L834 866.6L834.2 867.9L834.4 869.3L834.6 870.6L834.8 871.8L835 873.1L835.2 874.3L835.4 875.4L835.5 876.5L835.7 877.6L835.9 878.6L836.1 879.6L836.3 880.6L836.5 881.5L836.7 882.4L836.9 883.2L837.1 883.9L837.3 884.7L837.5 885.4L837.7 886L837.9 886.6L838.1 887.2L838.3 887.7L838.5 888.2L838.7 888.6L838.9 889L839.1 889.4L839.3 889.7L839.5 890L839.7 890.3L839.9 890.5L840.1 890.7L840.3 890.9L840.5 891L840.7 891.1L840.9 891.2L841.1 891.2L841.3 891.3L841.5 891.3L841.7 891.2L841.9 891.2L842.1 891.1L842.2 890.9L842.4 890.8L842.6 890.6L842.8 890.4L843 890.2L843.2 890L843.4 889.7L843.6 889.5L843.8 889.2L844 888.9L844.2 888.5L844.4 888.2L844.6 887.8L844.8 887.4L845 887L845.2 886.6L845.4 886.1L845.6 885.7L845.8 885.2L846 884.7L846.2 884.3L846.4 883.8L846.6 883.3L846.8 882.7L847 882.2L847.2 881.7L847.4 881.2L847.6 880.7L847.8 880.1L848 879.6L848.2 879.1L848.4 878.5L848.6 878L848.7 877.5L848.9 876.9L849.1 876.4L849.3 875.9L849.5 875.3L849.7 874.8L849.9 874.3L850.1 873.8L850.3 873.2L850.5 872.7L850.7 872.2L850.9 871.6L851.1 871.1L851.3 870.6L851.5 870.1L851.7 869.5L851.9 869L852.1 868.5L852.3 868L852.5 867.4L852.7 866.9L852.9 866.4L853.1 865.9L853.3 865.4L853.5 864.8L853.7 864.3L853.9 863.8L854.1 863.3L854.3 862.8L854.5 862.3L854.7 861.8L854.9 861.3L855.1 860.8L855.3 860.3L855.4 859.8L855.6 859.3L855.8 858.8L856 858.3L856.2 857.8L856.4 857.3L856.6 856.8L856.8 856.3L857 855.8L857.2 855.3L857.4 854.8L857.6 854.3L857.8 853.8L858 853.4L858.2 852.9L858.4 852.4L858.6 851.9L858.8 851.4L859 851L859.2 850.5L859.4 850L859.6 849.5L859.8 849.1L860 848.6L860.2 848.1L860.4 847.7L860.6 847.2L860.8 846.7L861 846.3L861.2 845.8L861.4 845.3L861.6 844.9L861.8 844.4L862 844L862.1 843.5L862.3 843L862.5 842.6L862.7 842.1L862.9 841.7L863.1 841.2L863.3 840.8L863.5 840.3L863.7 839.9L863.9 839.4L864.1 839L864.3 838.5L864.5 838.1L864.7 837.7L864.9 837.2L865.1 836.8L865.3 836.3L865.5 835.9L865.7 835.5L865.9 835L866.1 834.6L866.3 834.2L866.5 833.8L866.7 833.3L866.9 832.9L867.1 832.5L867.3 832.1L867.5 831.7L867.7 831.3L867.9 830.9L868.1 830.5L868.3 830.1L868.5 829.7L868.6 829.3L868.8 828.9L869 828.5L869.2 828.1L869.4 827.7L869.6 827.3L869.8 826.9L870 826.5L870.2 826.2L870.4 825.8L870.6 825.4L870.8 825L871 824.7L871.2 824.3L871.4 823.9L871.6 823.6L871.8 823.2L872 822.8L872.2 822.5L872.4 822.1L872.6 821.8L872.8 821.4L873 821.1L873.2 820.7L873.4 820.4L873.6 820.1L873.8 819.7L874 819.4L874.2 819L874.4 818.7L874.6 818.4L874.8 818.1L875 817.7L875.2 817.4L875.3 817.1L875.5 816.8L875.7 816.4L875.9 816.1L876.1 815.8L876.3 815.5L876.5 815.2L876.7 814.9L876.9 814.6L877.1 814.3L877.3 814L877.5 813.7L877.7 813.4L877.9 813.1L878.1 812.8L878.3 812.5L878.5 812.2L878.7 811.9L878.9 811.6L879.1 811.3L879.3 811L879.5 810.8L879.7 810.5L879.9 810.2L880.1 809.9L880.3 809.6L880.5 809.4L880.7 809.1L880.9 808.8L881.1 808.6L881.3 808.3L881.5 808L881.7 807.8L881.9 807.5L882 807.2L882.2 807L882.4 806.7L882.6 806.5L882.8 806.2L883 806L883.2 805.7L883.4 805.5L883.6 805.2L883.8 805L884 804.7L884.2 804.5L884.4 804.2L884.6 804L884.8 803.8L885 803.5L885.2 803.3L885.4 803L885.6 802.8L885.8 802.6L886 802.3L886.2 802.1L886.4 801.9L886.6 801.7L886.8 801.4L887 801.2L887.2 801L887.4 800.8L887.6 800.6L887.8 800.3L888 800.1L888.2 799.9L888.4 799.7L888.5 799.5L888.7 799.3L888.9 799.1L889.1 798.9L889.3 798.6L889.5 798.4L889.7 798.2L889.9 798L890.1 797.8L890.3 797.6L890.5 797.4L890.7 797.2L890.9 797L891.1 796.8L891.3 796.7L891.5 796.5L891.7 796.3L891.9 796.1L892.1 795.9L892.3 795.7L892.5 795.5L892.7 795.3L892.9 795.2L893.1 795L893.3 794.8L893.5 794.6L893.7 794.4L893.9 794.3L894.1 794.1L894.3 793.9L894.5 793.7L894.7 793.6L894.9 793.4L895.1 793.2L895.2 793L895.4 792.9L895.6 792.7L895.8 792.5L896 792.4L896.2 792.2L896.4 792.1L896.6 791.9L896.8 791.7L897 791.6L897.2 791.4L897.4 791.3L897.6 791.1L897.8 790.9L898 790.8L898.2 790.6L898.4 790.5L898.6 790.3L898.8 790.2L899 790L899.2 789.9L899.4 789.7L899.6 789.6L899.8 789.5L900 789.3L900.2 789.2L900.4 789L900.6 788.9L900.8 788.7L901 788.6L901.2 788.5L901.4 788.3L901.6 788.2L901.8 788.1L903.1 787.6L904.5 787.6L905.8 787.7L907.2 787.7L908.6 787.7L909.9 787.7L911.3 787.7L912.7 787.7L914 787.7L915.4 787.7L916.8 787.7L918.1 787.7L919.5 787.7L920.8 787.7L922.2 787.7L923.6 787.7L924.9 787.6L926.3 787.6L927.7 787.6L929 787.6L930.4 787.6L931.8 787.6L933.1 787.6L934.5 787.6L935.8 787.5L937.2 787.5L938.6 787.5L939.9 787.5L941.3 787.5L942.7 787.4L944 787.4L945.4 787.4L946.8 787.4L948.1 787.3L949.5 787.3L950.8 787.3L952.2 787.3L953.6 787.2L954.9 787.2L956.3 787.2L957.7 787.1L959 787.1L960.4 787.1L961.8 787.1L963.1 787L964.5 787L965.8 787L967.2 786.9L968.6 786.9L969.9 786.9L971.3 786.8L972.7 786.8L974 786.8L975.4 786.7L976.8 786.7L978.1 786.6L979.5 786.6L980.8 786.6L982.2 786.5L983.6 786.5L984.9 786.5L986.3 786.4L987.7 786.4L989 786.3L990.4 786.3L991.8 786.3L993.1 786.2L994.5 786.2L995.8 786.2L997.2 786.1L998.6 786.1L999.9 786L1001.3 786L1002.7 786L1004 785.9L1005.4 785.9L1006.8 785.9L1008.1 785.8L1009.5 785.8L1010.8 785.7L1012.2 785.7L1013.6 785.7L1014.9 785.6L1016.3 785.6L1017.7 785.6L1019 785.5L1020.4 785.5L1021.8 785.5L1023.1 785.4L1024.5 785.4L1025.8 785.4L1027.2 785.3L1028.6 785.3L1029.9 785.3L1031.3 785.2L1032.7 785.2L1034 785.2L1035.4 785.2L1036.8 785.1L1038.1 785.1L1039.5 785.1L1040.8 785.1L1042.2 785L1043.6 785L1044.9 785L1046.3 785L1047.7 784.9L1049 784.9L1050.4 784.9L1051.8 784.9L1053.1 784.9L1054.5 784.8L1055.8 784.8L1057.2 784.8L1058.6 784.8L1059.9 784.8L1061.3 784.7L1062.7 784.7L1064 784.7L1065.4 784.7L1066.8 784.7L1068.1 784.6L1069.5 784.6L1070.9 784.6L1072.2 784.6L1073.6 784.6L1074.9 784.6L1076.3 784.5L1077.7 784.5L1079 784.5L1080.4 784.5L1081.8 784.5L1083.1 784.4L1084.5 784.4L1085.9 784.4L1087.2 784.4L1088.6 784.4L1089.9 784.3L1091.3 784.3L1092.7 784.3L1094 784.3L1095.4 784.3L1096.8 784.3L1098.1 784.2L1099.5 784.2L1100.9 784.2L1102.2 784.2L1103.6 784.2L1104.9 784.1L1106.3 784.1L1107.7 784.1L1109 784.1L1110.4 784.1L1111.8 784.1L1113.1 784L1114.5 784L1115.9 784L1117.2 784L1118.6 784L1119.9 783.9L1121.3 783.9L1122.7 783.9L1124 783.9L1125.4 783.9L1126.8 783.9L1128.1 783.8L1129.5 783.8L1130.9 783.8L1132.2 783.8L1133.6 783.8L1134.9 783.7L1136.3 783.7L1137.7 783.7L1139 783.7L1140.4 783.7L1141.8 783.7L1143.1 783.6L1144.5 783.6L1145.9 783.6L1147.2 783.6L1148.6 783.6L1149.9 783.6L1151.3 783.5L1152.7 783.5L1154 783.5L1155.4 783.5L1156.8 783.5L1158.1 783.5L1159.5 783.4L1160.9 783.4L1162.2 783.4L1163.6 783.4L1164.9 783.4L1166.3 783.4L1167.7 783.4L1169 783.3L1170.4 783.3L1171.8 783.3L1173.1 783.3L1174.5 783.3L1175.9 783.3L1177.2 783.2L1178.6 783.2L1179.9 783.2L1181.3 783.2L1182.7 783.2L1184 783.2L1185.4 783.2L1186.8 783.1L1188.1 783.1L1189.5 783.1L1190.9 783.1L1192.2 783.1L1193.6 783.1L1194.9 783.1L1196.3 783L1197.7 783L1199 783L1200.4 783L1201.8 783L1203.1 783L1204.5 783L1205.9 782.9L1207.2 782.9L1208.6 782.9L1209.9 782.9L1211.3 782.9L1212.7 782.9L1214 782.9L1215.4 782.8L1216.8 782.8L1218.1 782.8L1219.5 782.8L1220.9 782.8L1222.2 782.8L1223.6 782.8L1224.9 782.8L1226.3 782.7L1227.7 782.7L1229 782.7L1230.4 782.7L1231.8 782.7L1233.1 782.7L1234.5 782.7L1235.9 782.7L1237.2 782.7L1238.6 782.6L1240 782.6L1241.3 782.6L1242.7 782.6L1244 782.6L1245.4 782.6L1246.8 782.6L1248.1 782.6L1249.5 782.6L1250.9 782.5L1252.2 782.5L1253.6 782.5L1255 782.5L1256.3 782.5L1257.7 782.5L1259 782.5L1260.4 782.5L1261.8 782.5L1263.1 782.5L1264.5 782.4L1265.9 782.4L1267.2 782.4L1268.6 782.4L1270 782.4L1271.3 782.4L1272.7 782.4L1274 782.4L1275.4 782.4L1276.8 782.4L1278.1 782.4L1279.5 782.4L1280.9 782.3L1282.2 782.3L1283.6 782.3L1285 782.3L1286.3 782.3L1287.7 782.3L1289 782.3L1290.4 782.3L1291.8 782.3L1293.1 782.3L1294.5 782.3L1295.9 782.3L1297.2 782.3L1298.6 782.3L1300 782.2L1301.3 782.2L1302.7 782.2L1304 782.2L1305.4 782.2L1306.8 782.2L1308.1 782.2L1309.5 782.2L1309.5 912Z" fill="#a3a3a3"/>
<path d="M822.5 912L822.7 904.2L822.9 896.4L823.1 888.6L823.3 880.8L823.5 873L823.7 865.2L823.9 857.4L824.1 849.6L824.3 841.8L824.5 834L824.7 826.2L824.9 818.4L824.9 815.9L825.1 812.8L825.3 811.6L825.5 810.5L825.7 809.5L825.9 808.7L826.1 808.1L826.3 807.8L826.3 807.7L826.5 807.7L826.7 807.8L826.9 808.2L827.1 808.7L827.3 809.5L827.4 810.4L827.6 811.5L827.8 812.7L828 814.1L828.2 815.6L828.4 816.5L828.4 817.2L828.6 818.9L828.8 820.6L829 822.5L829.2 824.4L829.4 826.3L829.6 828.3L829.8 830.2L830 832.2L830.2 834.2L830.4 836.2L830.6 838.2L830.8 840.2L831 842.1L831.1 843.1L831.2 844L831.4 845.9L831.6 847.7L831.8 849.5L832 851.2L832.2 852.9L832.4 854.6L832.6 856.3L832.8 857.9L833 859.4L833.2 861L833.4 862.5L833.6 864L833.8 865.4L834 866.7L834 866.8L834.2 868.2L834.4 869.5L834.6 870.8L834.8 872.1L835 873.3L835.2 874.5L835.4 875.7L835.6 876.8L835.8 877.9L836 878.9L836.2 879.9L836.4 880.8L836.6 881.7L836.8 882.6L836.8 882.8L837 883.4L837.2 884.2L837.4 884.9L837.6 885.6L837.8 886.2L838 886.8L838.2 887.3L838.4 887.8L838.6 888.3L838.8 888.8L839 889.2L839.2 889.5L839.4 889.8L839.6 890.1L839.8 890.4L840 890.6L840.2 890.8L840.4 890.9L840.6 891.1L840.8 891.2L841 891.2L841 891.2L841.2 891.3L841.4 891.3L841.6 891.2L841.8 891.2L842 891.1L842.2 891L842.3 890.9L842.5 890.7L842.7 890.5L842.9 890.3L843.1 890.1L843.3 889.9L843.5 889.6L843.7 889.3L843.9 889L844.1 888.7L844.3 888.3L844.5 887.9L844.7 887.7L844.7 887.6L844.9 887.1L845.1 886.7L845.3 886.3L845.5 885.8L845.7 885.4L845.9 884.9L846.1 884.4L846.3 883.9L846.5 883.4L846.7 882.9L846.9 882.4L847.1 881.9L847.3 881.3L847.5 880.8L847.7 880.3L847.9 879.7L848 879.5L848.1 879.2L848.3 878.7L848.5 878.1L848.7 877.6L848.9 877L849.1 876.5L849.3 876L849.5 875.4L849.7 874.9L849.9 874.4L850.1 873.8L850.3 873.3L850.5 872.8L850.7 872.2L850.9 871.7L851.1 871.2L851.3 870.6L851.5 870.1L851.7 869.6L851.9 869L852.1 868.5L852.3 868L852.5 867.5L852.7 866.9L852.9 866.4L853.1 865.9L853.3 865.4L853.5 864.9L853.7 864.3L853.9 863.8L854.1 863.3L854.3 862.8L854.5 862.3L854.7 861.8L854.9 861.2L855 860.9L855.1 860.7L855.3 860.2L855.5 859.7L855.7 859.2L855.9 858.7L856.1 858.2L856.3 857.7L856.5 857.2L856.7 856.7L856.9 856.2L857.1 855.7L857.2 855.2L857.4 854.7L857.6 854.3L857.8 853.8L858 853.3L858.2 852.8L858.4 852.3L858.6 851.8L858.8 851.3L859 850.9L859.2 850.4L859.4 849.9L859.6 849.4L859.8 849L860 848.5L860.2 848L860.4 847.5L860.6 847.1L860.8 846.6L861 846.1L861.2 845.7L861.4 845.2L861.6 844.7L861.8 844.3L862 843.9L862 843.8L862.2 843.3L862.4 842.9L862.6 842.4L862.8 842L863 841.5L863.2 841L863.4 840.6L863.6 840.1L863.8 839.7L864 839.2L864.2 838.8L864.4 838.3L864.6 837.9L864.8 837.5L865 837L865.2 836.6L865.4 836.1L865.6 835.7L865.8 835.3L866 834.8L866.2 834.4L866.4 834L866.6 833.5L866.8 833.1L867 832.7L867.2 832.3L867.4 831.9L867.6 831.4L867.8 831L868 830.6L868.2 830.2L868.4 829.8L868.6 829.4L868.8 829L869 828.6L869 828.6L869.2 828.2L869.4 827.8L869.6 827.4L869.8 827L870 826.7L870.2 826.3L870.4 825.9L870.6 825.5L870.8 825.1L871 824.8L871.2 824.4L871.4 824L871.6 823.7L871.8 823.3L872 822.9L872.1 822.6L872.3 822.2L872.5 821.9L872.7 821.5L872.9 821.2L873.1 820.8L873.3 820.5L873.5 820.1L873.7 819.8L873.9 819.4L874.1 819.1L874.3 818.8L874.5 818.4L874.7 818.1L874.9 817.8L875.1 817.4L875.3 817.1L875.5 816.8L875.7 816.5L875.9 816.2L876 816.1L876.1 815.8L876.3 815.5L876.5 815.2L876.7 814.9L876.9 814.6L877.1 814.3L877.3 814L877.5 813.7L877.7 813.4L877.9 813.1L878.1 812.8L878.3 812.5L878.5 812.2L878.7 811.9L878.9 811.6L879.1 811.3L879.3 811L879.5 810.7L879.7 810.5L879.9 810.2L880.1 809.9L880.3 809.6L880.5 809.3L880.7 809.1L880.9 808.8L881.1 808.5L881.3 808.3L881.5 808L881.7 807.7L881.9 807.5L882.1 807.2L882.3 806.9L882.5 806.7L882.7 806.4L882.9 806.2L883 806L883.1 805.9L883.3 805.7L883.5 805.4L883.7 805.1L883.9 804.9L884.1 804.7L884.3 804.4L884.5 804.2L884.7 803.9L884.9 803.7L885.1 803.4L885.3 803.2L885.5 803L885.7 802.7L885.9 802.5L886.1 802.3L886.3 802L886.5 801.8L886.7 801.6L886.9 801.4L887 801.1L887.2 800.9L887.4 800.7L887.6 800.5L887.8 800.2L888 800L888.2 799.8L888.4 799.6L888.6 799.4L888.8 799.2L889 799L889.2 798.8L889.4 798.5L889.6 798.3L889.8 798.1L890 798L890 797.9L890.2 797.7L890.4 797.5L890.6 797.3L890.8 797.1L891 796.9L891.2 796.7L891.4 796.5L891.6 796.4L891.8 796.2L892 796L892.2 795.8L892.4 795.6L892.6 795.4L892.8 795.2L893 795L893.2 794.9L893.4 794.7L893.6 794.5L893.8 794.3L894 794.1L894.2 794L894.4 793.8L894.6 793.6L894.8 793.4L895 793.3L895.2 793.1L895.4 792.9L895.6 792.8L895.8 792.6L896 792.4L896.2 792.3L896.4 792.1L896.6 791.9L896.8 791.8L897 791.6L897.2 791.4L897.4 791.3L897.6 791.1L897.8 791L898 790.8L898.2 790.7L898.4 790.5L898.6 790.4L898.8 790.2L899 790.1L899.2 789.9L899.4 789.8L899.6 789.6L899.8 789.5L900 789.3L900.2 789.2L900.4 789L900.6 788.9L900.8 788.7L901 788.6L901.2 788.5L901.4 788.3L901.6 788.2L901.8 788.1L902.4 787.6L903.1 787.1L903.8 786.7L904 786.6L904.5 786.3L905.2 785.9L905.8 785.5L906.5 785.1L907.2 784.7L907.9 784.3L908.6 783.9L909.2 783.6L909.9 783.2L910.6 782.9L911.3 782.5L912 782.2L912.6 781.9L913.3 781.6L914 781.3L914.7 781L915.4 780.7L916 780.4L916.7 780.1L917.4 779.9L918.1 779.6L918.1 779.6L918.8 779.4L919.4 779.1L920.1 778.9L920.8 778.7L921.5 778.4L922.2 778.2L922.9 778L923.5 777.8L924.2 777.6L924.9 777.4L925.6 777.2L926.3 777L926.9 776.9L927.6 776.7L928.3 776.5L929 776.3L929.7 776.2L930.3 776L931 775.9L931.7 775.7L932.4 775.6L933.1 775.5L933.7 775.3L934.4 775.2L935.1 775.1L935.8 774.9L936.5 774.8L937.1 774.7L937.8 774.6L938.5 774.5L938.9 774.4L939.2 774.4L939.9 774.3L940.6 774.2L941.2 774.1L941.9 774L942.6 773.9L943.3 773.8L944 773.7L944.6 773.7L945.3 773.6L946 773.5L946.7 773.4L947.4 773.4L948 773.3L948.7 773.2L949.4 773.2L950.1 773.1L950.8 773.1L951.4 773L952.1 772.9L952.8 772.9L953.5 772.8L954.2 772.8L954.8 772.7L955.5 772.7L956.2 772.7L956.9 772.6L957.6 772.6L958.2 772.6L958.9 772.5L959.6 772.5L960 772.5L960.3 772.5L961 772.4L961.7 772.4L962.3 772.4L963 772.3L963.7 772.3L964.4 772.3L965.1 772.3L965.7 772.3L966.4 772.2L967.1 772.2L967.8 772.2L968.5 772.2L969.1 772.2L969.8 772.2L970.5 772.2L971.2 772.2L971.9 772.1L972.5 772.1L973.2 772.1L973.9 772.1L974.6 772.1L975.3 772.1L975.9 772.1L976.6 772.1L977.3 772.1L978 772.1L978.7 772.1L979.4 772.1L980 772.1L980.7 772.1L981.4 772.1L982.1 772.1L982.8 772.1L983.4 772.2L984.1 772.2L984.8 772.2L985.5 772.2L986.2 772.2L986.8 772.2L987.5 772.2L988.2 772.2L988.9 772.2L989.6 772.2L990.2 772.2L990.9 772.3L991.6 772.3L992.3 772.3L993 772.3L993.6 772.3L994.3 772.3L995 772.3L995.7 772.3L996.3 772.4L996.4 772.4L997.1 772.4L997.7 772.4L998.4 772.4L999.1 772.4L999.8 772.4L1000.5 772.4L1001.1 772.5L1001.8 772.5L1002.5 772.5L1003.2 772.5L1003.9 772.5L1004.5 772.5L1005.2 772.6L1005.9 772.6L1006.6 772.6L1007.3 772.6L1007.9 772.6L1008.6 772.6L1009.3 772.7L1010 772.7L1010.7 772.7L1011.3 772.7L1012 772.7L1012.7 772.7L1013.4 772.8L1014.1 772.8L1014.7 772.8L1015.4 772.8L1016.1 772.8L1016.8 772.8L1017.5 772.9L1018.2 772.9L1018.8 772.9L1019.5 772.9L1020.2 772.9L1020.9 773L1021.6 773L1022.2 773L1022.9 773L1023.6 773L1024.3 773L1025 773.1L1025.6 773.1L1026.3 773.1L1027 773.1L1027.7 773.1L1028.4 773.2L1029 773.2L1029.7 773.2L1030.4 773.2L1031.1 773.2L1031.8 773.2L1032.4 773.3L1033.1 773.3L1033.8 773.3L1034.5 773.3L1035.2 773.3L1035.9 773.4L1036.5 773.4L1037.2 773.4L1037.9 773.4L1038.6 773.4L1039.3 773.5L1039.9 773.5L1040.6 773.5L1041.3 773.5L1042 773.5L1042.7 773.5L1043.3 773.6L1044 773.6L1044.7 773.6L1045.4 773.6L1046.1 773.6L1046.7 773.7L1047.4 773.7L1048.1 773.7L1048.8 773.7L1049.5 773.7L1050.1 773.7L1050.2 773.7L1050.8 773.8L1051.5 773.8L1052.2 773.8L1052.9 773.8L1053.6 773.8L1054.2 773.9L1054.9 773.9L1055.6 773.9L1056.3 773.9L1057 773.9L1057.6 773.9L1058.3 774L1059 774L1059.7 774L1060.4 774L1061 774L1061.7 774L1062.4 774.1L1063.1 774.1L1063.8 774.1L1064.4 774.1L1065.1 774.1L1065.8 774.2L1066.5 774.2L1067.2 774.2L1067.8 774.2L1068.5 774.2L1069.2 774.2L1069.9 774.3L1070.6 774.3L1071.2 774.3L1071.9 774.3L1072.6 774.3L1073.3 774.3L1074 774.4L1074.7 774.4L1075.3 774.4L1076 774.4L1076.7 774.4L1077.4 774.4L1078.1 774.5L1078.7 774.5L1079.4 774.5L1080.1 774.5L1080.8 774.5L1081.5 774.5L1082.1 774.5L1082.8 774.6L1083.5 774.6L1084.2 774.6L1084.9 774.6L1085.5 774.6L1086.2 774.6L1086.9 774.7L1087.6 774.7L1088.3 774.7L1088.9 774.7L1089.6 774.7L1090.3 774.7L1091 774.8L1091.7 774.8L1092.4 774.8L1093 774.8L1093.7 774.8L1094.4 774.8L1095.1 774.8L1095.8 774.9L1096.4 774.9L1097.1 774.9L1097.8 774.9L1098.5 774.9L1099.2 774.9L1099.8 775L1100.5 775L1101.2 775L1101.9 775L1102.6 775L1103.2 775L1103.9 775L1104.6 775.1L1105.3 775.1L1106 775.1L1106.6 775.1L1107.3 775.1L1108 775.1L1108.7 775.1L1109.4 775.2L1110 775.2L1110.7 775.2L1111.4 775.2L1112.1 775.2L1112.8 775.2L1113.5 775.2L1114.1 775.3L1114.8 775.3L1115.5 775.3L1116.2 775.3L1116.9 775.3L1117.5 775.3L1118.2 775.3L1118.9 775.4L1119.6 775.4L1120.3 775.4L1120.9 775.4L1121.6 775.4L1122.3 775.4L1123 775.4L1123.7 775.5L1124.3 775.5L1125 775.5L1125.7 775.5L1126.4 775.5L1127.1 775.5L1127.7 775.5L1128.4 775.6L1129.1 775.6L1129.8 775.6L1130.5 775.6L1131.2 775.6L1131.8 775.6L1132.5 775.6L1133.2 775.7L1133.9 775.7L1134.6 775.7L1135.2 775.7L1135.9 775.7L1136.6 775.7L1137.3 775.7L1138 775.8L1138.6 775.8L1139.3 775.8L1140 775.8L1140.7 775.8L1141.4 775.8L1142 775.8L1142.7 775.8L1143.4 775.9L1144.1 775.9L1144.8 775.9L1145.4 775.9L1146.1 775.9L1146.8 775.9L1147.5 775.9L1148.2 776L1148.9 776L1149.5 776L1150.2 776L1150.9 776L1151.6 776L1152.3 776L1152.9 776L1153.6 776.1L1154.3 776.1L1155 776.1L1155.7 776.1L1156.3 776.1L1157 776.1L1157.7 776.1L1158.4 776.1L1159.1 776.2L1159.7 776.2L1160.4 776.2L1161.1 776.2L1161.8 776.2L1162.5 776.2L1163.1 776.2L1163.8 776.2L1164.5 776.3L1165.2 776.3L1165.9 776.3L1166.5 776.3L1167.2 776.3L1167.9 776.3L1168.6 776.3L1169.3 776.3L1170 776.4L1170.6 776.4L1171.3 776.4L1172 776.4L1172.7 776.4L1173.4 776.4L1174 776.4L1174.7 776.4L1175.4 776.5L1176.1 776.5L1176.8 776.5L1177.4 776.5L1178.1 776.5L1178.8 776.5L1179.5 776.5L1180.2 776.5L1180.8 776.6L1181.5 776.6L1182.2 776.6L1182.9 776.6L1183.6 776.6L1184.2 776.6L1184.9 776.6L1185.6 776.6L1186.3 776.7L1187 776.7L1187.7 776.7L1188.3 776.7L1189 776.7L1189.7 776.7L1190.4 776.7L1191.1 776.7L1191.7 776.7L1192.4 776.8L1193.1 776.8L1193.8 776.8L1194.5 776.8L1195.1 776.8L1195.8 776.8L1196.5 776.8L1197.2 776.8L1197.9 776.9L1198.5 776.9L1199.2 776.9L1199.9 776.9L1200.6 776.9L1201.3 776.9L1201.9 776.9L1202.6 776.9L1203.3 776.9L1204 777L1204.7 777L1205.4 777L1206 777L1206.7 777L1207.4 777L1208.1 777L1208.8 777L1209.4 777L1210.1 777.1L1210.8 777.1L1211.5 777.1L1212.2 777.1L1212.8 777.1L1213.5 777.1L1214.2 777.1L1214.9 777.1L1215.6 777.2L1216.2 777.2L1216.9 777.2L1217.6 777.2L1218.3 777.2L1219 777.2L1219.6 777.2L1220.3 777.2L1221 777.2L1221.7 777.3L1222.4 777.3L1223 777.3L1223.7 777.3L1224.4 777.3L1225.1 777.3L1225.8 777.3L1226.5 777.3L1227.1 777.3L1227.8 777.4L1228.5 777.4L1229.2 777.4L1229.9 777.4L1230.5 777.4L1231.2 777.4L1231.9 777.4L1232.6 777.4L1233.3 777.4L1233.9 777.5L1234.6 777.5L1235.3 777.5L1236 777.5L1236.7 777.5L1237.3 777.5L1238 777.5L1238.7 777.5L1239.4 777.5L1240.1 777.5L1240.7 777.6L1241.4 777.6L1242.1 777.6L1242.8 777.6L1243.5 777.6L1244.2 777.6L1244.8 777.6L1245.5 777.6L1246.2 777.6L1246.9 777.7L1247.6 777.7L1248.2 777.7L1248.9 777.7L1249.6 777.7L1250.3 777.7L1251 777.7L1251.6 777.7L1252.3 777.7L1253 777.8L1253.7 777.8L1254.4 777.8L1255 777.8L1255.7 777.8L1256.4 777.8L1257.1 777.8L1257.8 777.8L1258.4 777.8L1259.1 777.8L1259.8 777.9L1260.5 777.9L1261.2 777.9L1261.8 777.9L1262.5 777.9L1263.2 777.9L1263.9 777.9L1264.6 777.9L1265.3 777.9L1265.9 778L1266.6 778L1267.3 778L1268 778L1268.7 778L1269.3 778L1270 778L1270.7 778L1271.4 778L1272.1 778L1272.7 778.1L1273.4 778.1L1274.1 778.1L1274.8 778.1L1275.5 778.1L1276.1 778.1L1276.8 778.1L1277.5 778.1L1278.2 778.1L1278.9 778.1L1279.5 778.2L1280.2 778.2L1280.9 778.2L1281.6 778.2L1282.3 778.2L1283 778.2L1283.6 778.2L1284.3 778.2L1285 778.2L1285.7 778.3L1286.4 778.3L1287 778.3L1287.7 778.3L1288.4 778.3L1289.1 778.3L1289.8 778.3L1290.4 778.3L1291.1 778.3L1291.8 778.3L1292.5 778.4L1293.2 778.4L1293.8 778.4L1294.5 778.4L1295.2 778.4L1295.9 778.4L1296.6 778.4L1297.2 778.4L1297.9 778.4L1298.6 778.4L1299.3 778.5L1300 778.5L1300.7 778.5L1301.3 778.5L1302 778.5L1302.7 778.5L1303.4 778.5L1304.1 778.5L1304.7 778.5L1305.4 778.5L1306.1 778.6L1306.8 778.6L1307.5 778.6L1308.1 778.6L1308.8 778.6L1309.5 778.6" fill="none" stroke="#f39104" stroke-width="3.5" stroke-linejoin="round" stroke-linecap="round"/>
<path d="M822.5 912L822.7 901.3L822.9 890.6L823.1 879.9L823.3 869.2L823.5 858.5L823.7 847.7L823.9 837L824.1 826.3L824.3 815.6L824.5 804.9L824.7 794.2L824.9 783.5L825.1 772.8L825.3 762.1L825.5 751.4L825.7 740.6L825.9 729.9L826.1 719.2L826.3 708.5L826.5 697.8L826.7 687.1L826.9 676.4L827.1 665.7L827.3 655L827.4 644.3L827.6 633.5L827.8 622.8L828 612.1L828.2 604.3L828.2 604.5L828.4 606.2L828.6 607.9L828.8 609.6L829 611.2L829.2 612.9L829.4 614.5L829.6 616.2L829.8 617.8L830 619.5L830.2 621.1L830.4 622.8L830.6 624.4L830.8 626.1L831 627.7L831.2 629.4L831.3 630L831.4 631.1L831.6 632.8L831.8 634.5L832 636.2L832.2 637.9L832.4 639.6L832.6 641.3L832.8 643L833 644.7L833.2 646.4L833.4 648.1L833.6 649.8L833.8 651.5L834 653.2L834.2 654.9L834.4 656.4L834.4 656.5L834.6 658.2L834.8 659.8L835 661.4L835.2 663L835.4 664.6L835.6 666.2L835.8 667.8L836 669.3L836.2 670.8L836.4 672.3L836.6 673.8L836.8 675.3L837 676.7L837.2 678.1L837.4 679.6L837.6 680.9L837.8 682.3L838 683.6L838.2 684.9L838.4 686.2L838.5 686.8L838.6 687.5L838.8 688.7L839 690L839.2 691.2L839.4 692.3L839.6 693.5L839.8 694.6L840 695.8L840.2 696.9L840.4 697.9L840.6 699L840.8 700.1L841 701.1L841.2 702.1L841.4 703.1L841.6 704.1L841.8 705.1L842 706.1L842.2 707L842.3 708L842.5 708.9L842.7 709.9L842.9 710.8L843.1 711.7L843.3 712.6L843.5 713.5L843.7 714.4L843.9 715.3L844.1 716.2L844.3 717.1L844.5 717.9L844.7 718.5L844.7 718.8L844.9 719.7L845.1 720.5L845.3 721.4L845.5 722.2L845.7 723.1L845.9 723.9L846.1 724.8L846.3 725.6L846.5 726.4L846.7 727.2L846.9 728L847.1 728.8L847.3 729.6L847.5 730.4L847.7 731.2L847.9 732L848.1 732.7L848.3 733.5L848.5 734.2L848.7 735L848.9 735.7L849.1 736.4L849.3 737.1L849.5 737.8L849.7 738.5L849.9 739.2L850.1 739.9L850.3 740.5L850.5 741.2L850.7 741.8L850.9 742.4L850.9 742.4L851.1 743.1L851.3 743.7L851.5 744.3L851.7 744.9L851.9 745.4L852.1 746L852.3 746.6L852.5 747.1L852.7 747.7L852.9 748.2L853.1 748.7L853.3 749.2L853.5 749.8L853.7 750.3L853.9 750.7L854.1 751.2L854.3 751.7L854.5 752.2L854.7 752.6L854.9 753.1L855.1 753.5L855.3 754L855.5 754.4L855.7 754.8L855.9 755.3L856.1 755.7L856.3 756.1L856.5 756.5L856.7 756.9L856.9 757.3L857.1 757.7L857.2 758.1L857.4 758.4L857.6 758.8L857.8 759.2L858 759.5L858.2 759.9L858.4 760.2L858.6 760.6L858.8 760.9L859 761.2L859 761.3L859.2 761.6L859.4 761.9L859.6 762.2L859.8 762.6L860 762.9L860.2 763.2L860.4 763.5L860.6 763.8L860.8 764.1L861 764.4L861.2 764.7L861.4 765L861.6 765.3L861.8 765.6L862 765.8L862.2 766.1L862.4 766.4L862.6 766.7L862.8 766.9L863 767.2L863.2 767.4L863.4 767.7L863.6 768L863.8 768.2L864 768.5L864.2 768.7L864.4 768.9L864.6 769.2L864.8 769.4L865 769.6L865.2 769.9L865.4 770.1L865.6 770.3L865.8 770.5L866 770.8L866.2 771L866.4 771.2L866.6 771.4L866.8 771.6L867 771.8L867.2 772L867.4 772.2L867.6 772.4L867.8 772.6L868 772.8L868.2 773L868.4 773.2L868.6 773.4L868.8 773.6L869 773.8L869.2 773.9L869.4 774.1L869.6 774.3L869.8 774.5L870 774.6L870.2 774.8L870.4 775L870.6 775.2L870.8 775.3L871 775.5L871.2 775.6L871.3 775.7L871.4 775.8L871.6 776L871.8 776.1L872 776.3L872.1 776.4L872.3 776.6L872.5 776.7L872.7 776.9L872.9 777L873.1 777.2L873.3 777.3L873.5 777.5L873.7 777.6L873.9 777.7L874.1 777.9L874.3 778L874.5 778.1L874.7 778.3L874.9 778.4L875.1 778.5L875.3 778.7L875.5 778.8L875.7 778.9L875.9 779L876.1 779.2L876.3 779.3L876.5 779.4L876.7 779.5L876.9 779.6L877.1 779.8L877.3 779.9L877.5 780L877.7 780.1L877.9 780.2L878.1 780.3L878.3 780.4L878.5 780.5L878.7 780.6L878.9 780.7L879.1 780.8L879.3 781L879.5 781.1L879.7 781.2L879.9 781.3L880.1 781.3L880.3 781.4L880.5 781.5L880.7 781.6L880.9 781.7L881.1 781.8L881.3 781.9L881.5 782L881.7 782.1L881.9 782.2L882.1 782.3L882.3 782.4L882.5 782.4L882.7 782.5L882.9 782.6L883.1 782.7L883.3 782.8L883.5 782.9L883.7 782.9L883.9 783L884.1 783.1L884.3 783.2L884.5 783.2L884.7 783.3L884.9 783.4L885.1 783.5L885.3 783.5L885.5 783.6L885.6 783.7L885.7 783.7L885.9 783.8L886.1 783.8L886.3 783.9L886.5 784L886.7 784L886.9 784.1L887 784.2L887.2 784.2L887.4 784.3L887.6 784.4L887.8 784.4L888 784.5L888.2 784.5L888.4 784.6L888.6 784.7L888.8 784.7L889 784.8L889.2 784.8L889.4 784.9L889.6 785L889.8 785L890 785.1L890.2 785.1L890.4 785.2L890.6 785.2L890.8 785.3L891 785.3L891.2 785.4L891.4 785.4L891.6 785.5L891.8 785.5L892 785.6L892.2 785.6L892.4 785.7L892.6 785.7L892.8 785.8L893 785.8L893.2 785.9L893.4 785.9L893.6 786L893.8 786L894 786L894.2 786.1L894.4 786.1L894.6 786.2L894.8 786.2L895 786.2L895.2 786.3L895.4 786.3L895.6 786.4L895.8 786.4L896 786.4L896.2 786.5L896.4 786.5L896.6 786.5L896.8 786.6L897 786.6L897.2 786.7L897.4 786.7L897.6 786.7L897.8 786.8L898 786.8L898.2 786.8L898.4 786.8L898.6 786.9L898.8 786.9L899 786.9L899.2 787L899.4 787L899.6 787L899.8 787.1L900 787.1L900.2 787.1L900.4 787.1L900.6 787.2L900.8 787.2L901 787.2L901.2 787.2L901.4 787.3L901.6 787.3L901.8 787.3L902.4 787.4L903.1 787.5L903.8 787.5L904 787.6L904.5 787.6L905.2 787.7L905.8 787.7L906.5 787.8L907.2 787.8L907.9 787.9L908.6 787.9L909.2 788L909.9 788L910.6 788.1L911.3 788.1L912 788.1L912.6 788.1L913.3 788.2L914 788.2L914.7 788.2L915.4 788.2L916 788.3L916.7 788.3L917.4 788.3L918.1 788.3L918.8 788.3L919.4 788.3L920.1 788.3L920.8 788.3L921.5 788.3L922.2 788.3L922.9 788.3L923.5 788.3L924.2 788.3L924.9 788.3L925.6 788.3L926.2 788.3L926.3 788.3L926.9 788.3L927.6 788.3L928.3 788.3L929 788.3L929.7 788.3L930.3 788.3L931 788.3L931.7 788.3L932.4 788.3L933.1 788.3L933.7 788.3L934.4 788.3L935.1 788.3L935.8 788.3L936.5 788.3L937.1 788.2L937.8 788.2L938.5 788.2L939.2 788.2L939.9 788.2L940.6 788.2L941.2 788.2L941.9 788.2L942.6 788.2L943.3 788.2L944 788.1L944.6 788.1L945.3 788.1L946 788.1L946.7 788.1L947.4 788.1L948 788.1L948.7 788.1L949.4 788L950.1 788L950.8 788L951.4 788L952.1 788L952.8 788L953.5 788L954.2 787.9L954.8 787.9L955.5 787.9L956.2 787.9L956.9 787.9L957.6 787.9L958.2 787.9L958.9 787.8L959.6 787.8L960.3 787.8L961 787.8L961.7 787.8L962.3 787.8L963 787.7L963.7 787.7L964.4 787.7L965.1 787.7L965.7 787.7L966.4 787.7L967.1 787.7L967.8 787.6L968.5 787.6L969.1 787.6L969.8 787.6L970.5 787.6L971.2 787.6L971.9 787.5L972.5 787.5L973.2 787.5L973.9 787.5L974.6 787.5L975.3 787.5L975.9 787.4L976.6 787.4L977.3 787.4L978 787.4L978.7 787.4L979.4 787.4L980 787.4L980.7 787.3L981.4 787.3L982.1 787.3L982.8 787.3L983.3 787.3L983.4 787.3L984.1 787.3L984.8 787.3L985.5 787.2L986.2 787.2L986.8 787.2L987.5 787.2L988.2 787.2L988.9 787.2L989.6 787.2L990.2 787.2L990.9 787.1L991.6 787.1L992.3 787.1L993 787.1L993.6 787.1L994.3 787.1L995 787.1L995.7 787L996.4 787L997.1 787L997.7 787L998.4 787L999.1 787L999.8 787L1000.5 787L1001.1 786.9L1001.8 786.9L1002.5 786.9L1003.2 786.9L1003.9 786.9L1004.5 786.9L1005.2 786.9L1005.9 786.9L1006.6 786.9L1007.3 786.8L1007.9 786.8L1008.6 786.8L1009.3 786.8L1010 786.8L1010.7 786.8L1011.3 786.8L1012 786.8L1012.7 786.8L1013.4 786.7L1014.1 786.7L1014.7 786.7L1015.4 786.7L1016.1 786.7L1016.8 786.7L1017.5 786.7L1018.2 786.7L1018.8 786.7L1019.5 786.6L1020.2 786.6L1020.9 786.6L1021.6 786.6L1022.2 786.6L1022.9 786.6L1023.6 786.6L1024.3 786.6L1025 786.6L1025.6 786.6L1026.3 786.5L1027 786.5L1027.7 786.5L1028.4 786.5L1029 786.5L1029.7 786.5L1030.4 786.5L1031.1 786.5L1031.8 786.5L1032.4 786.5L1033.1 786.4L1033.8 786.4L1034.5 786.4L1035.2 786.4L1035.9 786.4L1036.5 786.4L1037.2 786.4L1037.9 786.4L1038.6 786.4L1039.3 786.4L1039.9 786.3L1040.6 786.3L1041.3 786.3L1042 786.3L1042.7 786.3L1043.3 786.3L1044 786.3L1044.7 786.3L1045.4 786.3L1046.1 786.3L1046.7 786.2L1047.4 786.2L1048.1 786.2L1048.8 786.2L1049.5 786.2L1050.1 786.2L1050.2 786.2L1050.8 786.2L1051.5 786.2L1052.2 786.2L1052.9 786.2L1053.6 786.1L1054.2 786.1L1054.9 786.1L1055.6 786.1L1056.3 786.1L1057 786.1L1057.6 786.1L1058.3 786.1L1059 786.1L1059.7 786.1L1060.4 786L1061 786L1061.7 786L1062.4 786L1063.1 786L1063.8 786L1064.4 786L1065.1 786L1065.8 786L1066.5 786L1067.2 785.9L1067.8 785.9L1068.5 785.9L1069.2 785.9L1069.9 785.9L1070.6 785.9L1071.2 785.9L1071.9 785.9L1072.6 785.9L1073.3 785.9L1074 785.8L1074.7 785.8L1075.3 785.8L1076 785.8L1076.7 785.8L1077.4 785.8L1078.1 785.8L1078.7 785.8L1079.4 785.8L1080.1 785.8L1080.8 785.7L1081.5 785.7L1082.1 785.7L1082.8 785.7L1083.5 785.7L1084.2 785.7L1084.9 785.7L1085.5 785.7L1086.2 785.7L1086.9 785.7L1087.6 785.6L1088.3 785.6L1088.9 785.6L1089.6 785.6L1090.3 785.6L1091 785.6L1091.7 785.6L1092.4 785.6L1093 785.6L1093.7 785.6L1094.4 785.5L1095.1 785.5L1095.8 785.5L1096.4 785.5L1097.1 785.5L1097.8 785.5L1098.5 785.5L1099.2 785.5L1099.8 785.5L1100.5 785.5L1101.2 785.4L1101.9 785.4L1102.6 785.4L1103.2 785.4L1103.9 785.4L1104.6 785.4L1105.3 785.4L1106 785.4L1106.6 785.4L1107.3 785.4L1108 785.3L1108.7 785.3L1109.4 785.3L1110 785.3L1110.7 785.3L1111.4 785.3L1112.1 785.3L1112.8 785.3L1113.5 785.3L1114.1 785.3L1114.8 785.2L1115.5 785.2L1116.2 785.2L1116.9 785.2L1117.5 785.2L1118.2 785.2L1118.9 785.2L1119.6 785.2L1120.3 785.2L1120.9 785.1L1121.6 785.1L1122.3 785.1L1123 785.1L1123.7 785.1L1124.3 785.1L1125 785.1L1125.7 785.1L1126.4 785.1L1127.1 785.1L1127.7 785L1128.4 785L1129.1 785L1129.8 785L1130.5 785L1131.2 785L1131.8 785L1132.5 785L1133.2 785L1133.9 785L1134.6 784.9L1135.2 784.9L1135.9 784.9L1136.6 784.9L1137.3 784.9L1138 784.9L1138.6 784.9L1139.3 784.9L1140 784.9L1140.7 784.9L1141.4 784.8L1142 784.8L1142.7 784.8L1143.4 784.8L1144.1 784.8L1144.8 784.8L1145.4 784.8L1146.1 784.8L1146.8 784.8L1147.5 784.8L1148.2 784.7L1148.9 784.7L1149.5 784.7L1150.2 784.7L1150.9 784.7L1151.6 784.7L1152.3 784.7L1152.9 784.7L1153.6 784.7L1154.3 784.7L1155 784.6L1155.7 784.6L1156.3 784.6L1157 784.6L1157.7 784.6L1158.4 784.6L1159.1 784.6L1159.7 784.6L1160.4 784.6L1161.1 784.6L1161.8 784.5L1162.5 784.5L1163.1 784.5L1163.8 784.5L1164.5 784.5L1165.2 784.5L1165.9 784.5L1166.5 784.5L1167.2 784.5L1167.9 784.5L1168.6 784.4L1169.3 784.4L1170 784.4L1170.6 784.4L1171.3 784.4L1172 784.4L1172.7 784.4L1173.4 784.4L1174 784.4L1174.7 784.4L1175.4 784.3L1176.1 784.3L1176.8 784.3L1177.4 784.3L1178.1 784.3L1178.8 784.3L1179.5 784.3L1180.2 784.3L1180.8 784.3L1181.5 784.3L1182.2 784.2L1182.9 784.2L1183.6 784.2L1184.2 784.2L1184.9 784.2L1185.6 784.2L1186.3 784.2L1187 784.2L1187.7 784.2L1188.3 784.2L1189 784.1L1189.7 784.1L1190.4 784.1L1191.1 784.1L1191.7 784.1L1192.4 784.1L1193.1 784.1L1193.8 784.1L1194.5 784.1L1195.1 784.1L1195.8 784L1196.5 784L1197.2 784L1197.9 784L1198.5 784L1199.2 784L1199.9 784L1200.6 784L1201.3 784L1201.9 784L1202.6 783.9L1203.3 783.9L1204 783.9L1204.7 783.9L1205.4 783.9L1206 783.9L1206.7 783.9L1207.4 783.9L1208.1 783.9L1208.8 783.9L1209.4 783.9L1210.1 783.8L1210.8 783.8L1211.5 783.8L1212.2 783.8L1212.8 783.8L1213.5 783.8L1214.2 783.8L1214.9 783.8L1215.6 783.8L1216.2 783.8L1216.9 783.7L1217.6 783.7L1218.3 783.7L1219 783.7L1219.6 783.7L1220.3 783.7L1221 783.7L1221.7 783.7L1222.4 783.7L1223 783.7L1223.7 783.6L1224.4 783.6L1225.1 783.6L1225.8 783.6L1226.5 783.6L1227.1 783.6L1227.8 783.6L1228.5 783.6L1229.2 783.6L1229.9 783.6L1230.5 783.5L1231.2 783.5L1231.9 783.5L1232.6 783.5L1233.3 783.5L1233.9 783.5L1234.6 783.5L1235.3 783.5L1236 783.5L1236.7 783.5L1237.3 783.5L1238 783.4L1238.7 783.4L1239.4 783.4L1240.1 783.4L1240.7 783.4L1241.4 783.4L1242.1 783.4L1242.8 783.4L1243.5 783.4L1244.2 783.4L1244.8 783.3L1245.5 783.3L1246.2 783.3L1246.9 783.3L1247.6 783.3L1248.2 783.3L1248.9 783.3L1249.6 783.3L1250.3 783.3L1251 783.3L1251.6 783.3L1252.3 783.2L1253 783.2L1253.7 783.2L1254.4 783.2L1255 783.2L1255.7 783.2L1256.4 783.2L1257.1 783.2L1257.8 783.2L1258.4 783.2L1259.1 783.1L1259.8 783.1L1260.5 783.1L1261.2 783.1L1261.8 783.1L1262.5 783.1L1263.2 783.1L1263.9 783.1L1264.6 783.1L1265.3 783.1L1265.9 783.1L1266.6 783L1267.3 783L1268 783L1268.7 783L1269.3 783L1270 783L1270.7 783L1271.4 783L1272.1 783L1272.7 783L1273.4 783L1274.1 782.9L1274.8 782.9L1275.5 782.9L1276.1 782.9L1276.8 782.9L1277.5 782.9L1278.2 782.9L1278.9 782.9L1279.5 782.9L1280.2 782.9L1280.9 782.9L1281.6 782.8L1282.3 782.8L1283 782.8L1283.6 782.8L1284.3 782.8L1285 782.8L1285.7 782.8L1286.4 782.8L1287 782.8L1287.7 782.8L1288.4 782.8L1289.1 782.7L1289.8 782.7L1290.4 782.7L1291.1 782.7L1291.8 782.7L1292.5 782.7L1293.2 782.7L1293.8 782.7L1294.5 782.7L1295.2 782.7L1295.9 782.6L1296.6 782.6L1297.2 782.6L1297.9 782.6L1298.6 782.6L1299.3 782.6L1300 782.6L1300.7 782.6L1301.3 782.6L1302 782.6L1302.7 782.6L1303.4 782.6L1304.1 782.5L1304.7 782.5L1305.4 782.5L1306.1 782.5L1306.8 782.5L1307.5 782.5L1308.1 782.5L1308.8 782.5L1309.5 782.5" fill="none" stroke="#8e0f4b" stroke-width="3.5" stroke-linejoin="round" stroke-linecap="round"/>
<path d="M823.1 912L823.3 907.1L823.5 902.3L823.7 897.4L823.9 892.6L824.1 887.7L824.3 882.8L824.5 878L824.7 873.1L824.9 868.2L825.1 863.4L825.3 858.5L825.5 853.7L825.7 848.8L825.9 843.9L826.1 839.1L826.3 834.2L826.5 829.3L826.7 824.5L826.9 819.6L827.1 814.8L827.3 809.9L827.5 805L827.5 803.3L827.7 802L827.9 799.9L828.1 797.8L828.3 795.7L828.5 793.6L828.7 791.5L828.8 789.4L829 787.3L829.2 785.9L829.2 785.6L829.4 784.7L829.6 783.8L829.8 782.8L830 782L830.2 781.2L830.4 780.6L830.6 780.1L830.8 779.9L830.8 779.8L831 779.7L831.2 779.5L831.4 779.3L831.6 779.2L831.8 779L832 778.9L832.2 778.7L832.4 778.6L832.6 778.5L832.8 778.4L833 778.2L833.2 778.1L833.4 778L833.6 777.9L833.8 777.9L834 777.8L834.2 777.7L834.4 777.6L834.6 777.6L834.8 777.5L835 777.5L835.2 777.4L835.4 777.4L835.5 777.4L835.7 777.3L835.9 777.3L836.1 777.3L836.3 777.3L836.5 777.3L836.5 777.3L836.7 777.3L836.9 777.3L837.1 777.3L837.3 777.3L837.5 777.3L837.7 777.3L837.9 777.3L838.1 777.3L838.3 777.3L838.5 777.3L838.7 777.3L838.9 777.3L839.1 777.3L839.3 777.3L839.5 777.3L839.7 777.3L839.9 777.3L840.1 777.3L840.3 777.3L840.5 777.3L840.7 777.3L840.9 777.3L841.1 777.3L841.3 777.3L841.5 777.3L841.7 777.3L841.9 777.3L842.1 777.3L842.2 777.3L842.4 777.3L842.6 777.3L842.8 777.3L843 777.3L843.2 777.3L843.4 777.3L843.6 777.3L843.8 777.3L844 777.3L844.2 777.3L844.4 777.3L844.6 777.3L844.8 777.3L845 777.3L845.2 777.3L845.4 777.3L845.6 777.3L845.8 777.3L846 777.3L846.2 777.3L846.4 777.3L846.6 777.3L846.8 777.3L847 777.3L847.2 777.3L847.4 777.3L847.6 777.3L847.8 777.3L848 777.3L848.2 777.3L848.4 777.3L848.6 777.3L848.7 777.3L848.9 777.3L849.1 777.3L849.3 777.3L849.5 777.3L849.7 777.3L849.9 777.3L850.1 777.3L850.3 777.3L850.5 777.3L850.7 777.3L850.9 777.3L851.1 777.3L851.3 777.3L851.5 777.3L851.7 777.3L851.9 777.3L852.1 777.3L852.3 777.3L852.5 777.3L852.7 777.3L852.9 777.3L853.1 777.3L853.3 777.3L853.5 777.3L853.7 777.3L853.9 777.3L854.1 777.3L854.3 777.3L854.5 777.3L854.7 777.3L854.9 777.3L855.1 777.3L855.3 777.3L855.4 777.3L855.6 777.3L855.8 777.3L856 777.3L856.2 777.3L856.4 777.3L856.6 777.3L856.8 777.3L857 777.3L857.2 777.3L857.4 777.3L857.6 777.3L857.8 777.3L858 777.3L858.2 777.3L858.4 777.3L858.6 777.3L858.8 777.3L859 777.3L859.2 777.3L859.4 777.3L859.6 777.3L859.8 777.3L860 777.3L860.2 777.3L860.4 777.3L860.6 777.3L860.8 777.3L861 777.3L861.2 777.3L861.4 777.3L861.6 777.3L861.8 777.3L862 777.3L862.1 777.3L862.3 777.3L862.5 777.3L862.7 777.3L862.9 777.3L863.1 777.3L863.3 777.3L863.5 777.3L863.7 777.3L863.9 777.3L864.1 777.3L864.3 777.3L864.5 777.3L864.7 777.3L864.9 777.3L865.1 777.3L865.3 777.3L865.5 777.3L865.7 777.3L865.9 777.3L866.1 777.3L866.3 777.3L866.5 777.3L866.7 777.3L866.9 777.3L867.1 777.3L867.3 777.3L867.5 777.3L867.7 777.4L867.9 777.4L868.1 777.4L868.3 777.4L868.5 777.4L868.6 777.4L868.8 777.4L869 777.4L869.2 777.4L869.4 777.4L869.6 777.4L869.8 777.4L870 777.4L870.2 777.4L870.4 777.4L870.6 777.4L870.8 777.4L871 777.4L871.2 777.4L871.4 777.4L871.6 777.4L871.8 777.4L872 777.4L872.2 777.4L872.4 777.4L872.6 777.4L872.8 777.4L873 777.4L873.2 777.4L873.4 777.4L873.6 777.4L873.8 777.4L874 777.4L874.2 777.4L874.4 777.4L874.6 777.4L874.8 777.4L875 777.4L875.2 777.4L875.3 777.4L875.5 777.4L875.7 777.4L875.9 777.4L876.1 777.4L876.3 777.4L876.5 777.4L876.7 777.4L876.9 777.4L877.1 777.4L877.3 777.4L877.5 777.4L877.7 777.4L877.9 777.4L878.1 777.4L878.3 777.4L878.5 777.4L878.7 777.4L878.9 777.4L879.1 777.4L879.3 777.4L879.5 777.4L879.7 777.4L879.9 777.4L880.1 777.4L880.3 777.4L880.5 777.4L880.7 777.4L880.9 777.4L881.1 777.4L881.3 777.4L881.5 777.4L881.7 777.4L881.9 777.4L882 777.4L882.2 777.4L882.4 777.4L882.6 777.4L882.8 777.4L883 777.4L883.2 777.4L883.4 777.4L883.6 777.4L883.8 777.4L884 777.4L884.2 777.4L884.4 777.4L884.6 777.4L884.8 777.4L885 777.4L885.2 777.4L885.4 777.4L885.6 777.4L885.8 777.4L886 777.4L886.2 777.4L886.4 777.4L886.6 777.4L886.8 777.4L887 777.4L887.2 777.4L887.4 777.4L887.6 777.4L887.8 777.4L888 777.4L888.2 777.4L888.4 777.4L888.5 777.4L888.7 777.4L888.9 777.4L889.1 777.4L889.3 777.4L889.5 777.4L889.7 777.4L889.9 777.4L890.1 777.4L890.3 777.4L890.5 777.5L890.7 777.5L890.9 777.5L891.1 777.5L891.3 777.5L891.5 777.5L891.7 777.5L891.9 777.5L892.1 777.5L892.3 777.5L892.5 777.5L892.7 777.5L892.9 777.5L893.1 777.5L893.3 777.5L893.5 777.5L893.7 777.5L893.9 777.5L894.1 777.5L894.3 777.5L894.5 777.5L894.7 777.5L894.9 777.5L895.1 777.5L895.2 777.5L895.4 777.5L895.6 777.5L895.8 777.5L896 777.5L896.2 777.5L896.4 777.5L896.6 777.5L896.8 777.5L897 777.5L897.2 777.5L897.4 777.5L897.6 777.5L897.8 777.5L898 777.5L898.2 777.5L898.4 777.5L898.6 777.5L898.8 777.5L899 777.5L899.2 777.5L899.4 777.5L899.6 777.5L899.8 777.5L900 777.5L900.2 777.5L900.4 777.5L900.6 777.5L900.8 777.5L901 777.5L901.2 777.5L901.4 777.5L901.6 777.5L901.8 777.5L902.4 777.5L903.1 777.5L903.8 777.5L904.5 777.5L905.2 777.5L905.8 777.5L906.5 777.5L907.2 777.5L907.9 777.6L908.6 777.6L909.2 777.6L909.9 777.6L910.6 777.6L911.3 777.6L912 777.6L912.6 777.6L913.3 777.6L914 777.6L914.7 777.6L915.4 777.6L916 777.6L916.7 777.6L917.4 777.6L918.1 777.6L918.8 777.6L919.4 777.6L920.1 777.6L920.8 777.6L921.5 777.6L922.2 777.6L922.9 777.7L923.5 777.7L924.2 777.7L924.9 777.7L925.6 777.7L926.3 777.7L926.9 777.7L927.6 777.7L928.3 777.7L929 777.7L929.7 777.7L930.3 777.7L931 777.7L931.7 777.7L932.4 777.7L933.1 777.7L933.7 777.7L934.4 777.7L935.1 777.7L935.8 777.7L936.5 777.8L937.1 777.8L937.8 777.8L938.5 777.8L939.2 777.8L939.9 777.8L940.6 777.8L941.2 777.8L941.9 777.8L942.6 777.8L943.3 777.8L944 777.8L944.6 777.8L945.3 777.8L946 777.8L946.7 777.8L947.4 777.8L948 777.8L948.7 777.8L949.4 777.9L950.1 777.9L950.8 777.9L951.4 777.9L952.1 777.9L952.8 777.9L953.5 777.9L954.2 777.9L954.8 777.9L955.5 777.9L956.2 777.9L956.9 777.9L957.6 777.9L958.2 777.9L958.9 777.9L959.6 777.9L960.3 777.9L961 777.9L961.7 777.9L962.3 778L963 778L963.7 778L964.4 778L965.1 778L965.7 778L966.4 778L967.1 778L967.8 778L968.5 778L969.1 778L969.8 778L970.5 778L971.2 778L971.9 778L972.5 778L973.2 778L973.9 778L974.6 778.1L975.3 778.1L975.9 778.1L976.6 778.1L977.3 778.1L978 778.1L978.7 778.1L979.4 778.1L980 778.1L980.7 778.1L981.4 778.1L982.1 778.1L982.8 778.1L983.4 778.1L984.1 778.1L984.8 778.1L985.5 778.1L986.2 778.1L986.8 778.1L987.5 778.2L988.2 778.2L988.9 778.2L989.6 778.2L990.2 778.2L990.9 778.2L991.6 778.2L992.3 778.2L993 778.2L993.6 778.2L994.3 778.2L995 778.2L995.7 778.2L996.4 778.2L997.1 778.2L997.7 778.2L998.4 778.2L999.1 778.2L999.8 778.2L1000.5 778.2L1001.1 778.3L1001.8 778.3L1002.5 778.3L1003.2 778.3L1003.9 778.3L1004.5 778.3L1005.2 778.3L1005.9 778.3L1006.6 778.3L1007.3 778.3L1007.9 778.3L1008.6 778.3L1009.3 778.3L1010 778.3L1010.7 778.3L1011.3 778.3L1012 778.3L1012.7 778.3L1013.4 778.3L1014.1 778.3L1014.7 778.4L1015.4 778.4L1016.1 778.4L1016.8 778.4L1017.5 778.4L1018.2 778.4L1018.8 778.4L1019.5 778.4L1020.2 778.4L1020.9 778.4L1021.6 778.4L1022.2 778.4L1022.9 778.4L1023.6 778.4L1024.3 778.4L1025 778.4L1025.6 778.4L1026.3 778.4L1027 778.4L1027.7 778.4L1028.4 778.4L1029 778.4L1029.7 778.4L1030.4 778.5L1031.1 778.5L1031.8 778.5L1032.4 778.5L1033.1 778.5L1033.8 778.5L1034.5 778.5L1035.2 778.5L1035.9 778.5L1036.5 778.5L1037.2 778.5L1037.9 778.5L1038.6 778.5L1039.3 778.5L1039.9 778.5L1040.6 778.5L1041.3 778.5L1042 778.5L1042.7 778.5L1043.3 778.5L1044 778.5L1044.7 778.5L1045.4 778.5L1046.1 778.5L1046.7 778.5L1047.4 778.5L1048.1 778.5L1048.8 778.5L1049.5 778.6L1050.1 778.6L1050.2 778.6L1050.8 778.6L1051.5 778.6L1052.2 778.6L1052.9 778.6L1053.6 778.6L1054.2 778.6L1054.9 778.6L1055.6 778.6L1056.3 778.6L1057 778.6L1057.6 778.6L1058.3 778.6L1059 778.6L1059.7 778.6L1060.4 778.6L1061 778.6L1061.7 778.6L1062.4 778.6L1063.1 778.6L1063.8 778.6L1064.4 778.6L1065.1 778.6L1065.8 778.6L1066.5 778.6L1067.2 778.6L1067.8 778.6L1068.5 778.6L1069.2 778.6L1069.9 778.6L1070.6 778.6L1071.2 778.7L1071.9 778.7L1072.6 778.7L1073.3 778.7L1074 778.7L1074.7 778.7L1075.3 778.7L1076 778.7L1076.7 778.7L1077.4 778.7L1078.1 778.7L1078.7 778.7L1079.4 778.7L1080.1 778.7L1080.8 778.7L1081.5 778.7L1082.1 778.7L1082.8 778.7L1083.5 778.7L1084.2 778.7L1084.9 778.7L1085.5 778.7L1086.2 778.7L1086.9 778.7L1087.6 778.7L1088.3 778.7L1088.9 778.7L1089.6 778.7L1090.3 778.7L1091 778.7L1091.7 778.7L1092.4 778.7L1093 778.7L1093.7 778.8L1094.4 778.8L1095.1 778.8L1095.8 778.8L1096.4 778.8L1097.1 778.8L1097.8 778.8L1098.5 778.8L1099.2 778.8L1099.8 778.8L1100.5 778.8L1101.2 778.8L1101.9 778.8L1102.6 778.8L1103.2 778.8L1103.9 778.8L1104.6 778.8L1105.3 778.8L1106 778.8L1106.6 778.8L1107.3 778.8L1108 778.8L1108.7 778.8L1109.4 778.8L1110 778.8L1110.7 778.8L1111.4 778.8L1112.1 778.8L1112.8 778.8L1113.5 778.8L1114.1 778.8L1114.8 778.8L1115.5 778.8L1116.2 778.8L1116.9 778.9L1117.5 778.9L1118.2 778.9L1118.9 778.9L1119.6 778.9L1120.3 778.9L1120.9 778.9L1121.6 778.9L1122.3 778.9L1123 778.9L1123.7 778.9L1124.3 778.9L1125 778.9L1125.7 778.9L1126.4 778.9L1127.1 778.9L1127.7 778.9L1128.4 778.9L1129.1 778.9L1129.8 778.9L1130.5 778.9L1131.2 778.9L1131.8 778.9L1132.5 778.9L1133.2 778.9L1133.9 778.9L1134.6 778.9L1135.2 778.9L1135.9 778.9L1136.6 778.9L1137.3 778.9L1138 778.9L1138.6 778.9L1139.3 778.9L1140 778.9L1140.7 778.9L1141.4 779L1142 779L1142.7 779L1143.4 779L1144.1 779L1144.8 779L1145.4 779L1146.1 779L1146.8 779L1147.5 779L1148.2 779L1148.9 779L1149.5 779L1150.2 779L1150.9 779L1151.6 779L1152.3 779L1152.9 779L1153.6 779L1154.3 779L1155 779L1155.7 779L1156.3 779L1157 779L1157.7 779L1158.4 779L1159.1 779L1159.7 779L1160.4 779L1161.1 779L1161.8 779L1162.5 779L1163.1 779L1163.8 779L1164.5 779L1165.2 779L1165.9 779L1166.5 779.1L1167.2 779.1L1167.9 779.1L1168.6 779.1L1169.3 779.1L1170 779.1L1170.6 779.1L1171.3 779.1L1172 779.1L1172.7 779.1L1173.4 779.1L1174 779.1L1174.7 779.1L1175.4 779.1L1176.1 779.1L1176.8 779.1L1177.4 779.1L1178.1 779.1L1178.8 779.1L1179.5 779.1L1180.2 779.1L1180.8 779.1L1181.5 779.1L1182.2 779.1L1182.9 779.1L1183.6 779.1L1184.2 779.1L1184.9 779.1L1185.6 779.1L1186.3 779.1L1187 779.1L1187.7 779.1L1188.3 779.1L1189 779.1L1189.7 779.1L1190.4 779.1L1191.1 779.1L1191.7 779.1L1192.4 779.1L1193.1 779.2L1193.8 779.2L1194.5 779.2L1195.1 779.2L1195.8 779.2L1196.5 779.2L1197.2 779.2L1197.9 779.2L1198.5 779.2L1199.2 779.2L1199.9 779.2L1200.6 779.2L1201.3 779.2L1201.9 779.2L1202.6 779.2L1203.3 779.2L1204 779.2L1204.7 779.2L1205.4 779.2L1206 779.2L1206.7 779.2L1207.4 779.2L1208.1 779.2L1208.8 779.2L1209.4 779.2L1210.1 779.2L1210.8 779.2L1211.5 779.2L1212.2 779.2L1212.8 779.2L1213.5 779.2L1214.2 779.2L1214.9 779.2L1215.6 779.2L1216.2 779.2L1216.9 779.2L1217.6 779.2L1218.3 779.2L1219 779.2L1219.6 779.2L1220.3 779.2L1221 779.3L1221.7 779.3L1222.4 779.3L1223 779.3L1223.7 779.3L1224.4 779.3L1225.1 779.3L1225.8 779.3L1226.5 779.3L1227.1 779.3L1227.8 779.3L1228.5 779.3L1229.2 779.3L1229.9 779.3L1230.5 779.3L1231.2 779.3L1231.9 779.3L1232.6 779.3L1233.3 779.3L1233.9 779.3L1234.6 779.3L1235.3 779.3L1236 779.3L1236.7 779.3L1237.3 779.3L1238 779.3L1238.7 779.3L1239.4 779.3L1240.1 779.3L1240.7 779.3L1241.4 779.3L1242.1 779.3L1242.8 779.3L1243.5 779.3L1244.2 779.3L1244.8 779.3L1245.5 779.3L1246.2 779.3L1246.9 779.3L1247.6 779.3L1248.2 779.3L1248.9 779.3L1249.6 779.3L1250.3 779.3L1251 779.3L1251.6 779.4L1252.3 779.4L1253 779.4L1253.7 779.4L1254.4 779.4L1255 779.4L1255.7 779.4L1256.4 779.4L1257.1 779.4L1257.8 779.4L1258.4 779.4L1259.1 779.4L1259.8 779.4L1260.5 779.4L1261.2 779.4L1261.8 779.4L1262.5 779.4L1263.2 779.4L1263.9 779.4L1264.6 779.4L1265.3 779.4L1265.9 779.4L1266.6 779.4L1267.3 779.4L1268 779.4L1268.7 779.4L1269.3 779.4L1270 779.4L1270.7 779.4L1271.4 779.4L1272.1 779.4L1272.7 779.4L1273.4 779.4L1274.1 779.4L1274.8 779.4L1275.5 779.4L1276.1 779.4L1276.8 779.4L1277.5 779.4L1278.2 779.4L1278.9 779.4L1279.5 779.4L1280.2 779.4L1280.9 779.4L1281.6 779.4L1282.3 779.4L1283 779.4L1283.6 779.4L1284.3 779.4L1285 779.4L1285.7 779.5L1286.4 779.5L1287 779.5L1287.7 779.5L1288.4 779.5L1289.1 779.5L1289.8 779.5L1290.4 779.5L1291.1 779.5L1291.8 779.5L1292.5 779.5L1293.2 779.5L1293.8 779.5L1294.5 779.5L1295.2 779.5L1295.9 779.5L1296.6 779.5L1297.2 779.5L1297.9 779.5L1298.6 779.5L1299.3 779.5L1300 779.5L1300.7 779.5L1301.3 779.5L1302 779.5L1302.7 779.5L1303.4 779.5L1304.1 779.5L1304.7 779.5L1305.4 779.5L1306.1 779.5L1306.8 779.5L1307.5 779.5L1308.1 779.5L1308.8 779.5L1309.5 779.5" fill="none" stroke="#8e0f4b" stroke-width="3.5" stroke-linejoin="round" stroke-linecap="round" stroke-dasharray="9.2 7.5"/>
<path d="M823.1 912L823.3 906.5L823.5 901L823.7 895.5L823.9 890L824.1 884.6L824.3 879.1L824.5 873.6L824.7 868.1L824.9 862.6L825.1 857.1L825.3 851.6L825.5 846.1L825.7 840.6L825.9 835.1L826.1 829.7L826.3 824.2L826.5 818.7L826.7 813.2L826.7 812L826.9 809.4L827.1 806L827.3 802.6L827.5 799.2L827.7 795.9L827.9 792.5L827.9 792.5L828.1 791.4L828.3 790.4L828.5 789.3L828.7 788.4L828.8 787.5L829 786.7L829.2 786L829.4 785.5L829.6 785.1L829.7 785.1L829.8 784.8L830 784.6L830.2 784.3L830.4 784.1L830.6 783.9L830.8 783.7L831 783.5L831.2 783.4L831.4 783.2L831.6 783.1L831.8 783L832 783L832.2 782.9L832.4 782.9L832.4 782.9L832.6 782.9L832.8 782.9L833 782.9L833.2 782.9L833.4 782.9L833.6 783L833.8 783L834 783L834.2 783L834.4 783.1L834.6 783.1L834.8 783.1L835 783.1L835.2 783.2L835.4 783.2L835.5 783.3L835.7 783.3L835.9 783.3L836.1 783.4L836.3 783.4L836.5 783.5L836.7 783.5L836.9 783.6L837.1 783.6L837.3 783.7L837.5 783.8L837.7 783.8L837.9 783.9L838.1 783.9L838.3 784L838.5 784L838.7 784.1L838.9 784.1L839.1 784.2L839.3 784.3L839.5 784.3L839.7 784.4L839.9 784.4L840.1 784.5L840.3 784.6L840.5 784.6L840.7 784.7L840.9 784.7L841.1 784.8L841.3 784.8L841.5 784.9L841.7 784.9L841.9 785L842.1 785L842.2 785.1L842.4 785.1L842.6 785.2L842.8 785.2L843 785.3L843.2 785.3L843.4 785.3L843.6 785.4L843.8 785.4L844 785.4L844.2 785.5L844.4 785.5L844.6 785.5L844.7 785.5L844.8 785.5L845 785.5L845.2 785.6L845.4 785.6L845.6 785.6L845.8 785.6L846 785.6L846.2 785.7L846.4 785.7L846.6 785.7L846.8 785.7L847 785.7L847.2 785.8L847.4 785.8L847.6 785.8L847.8 785.8L848 785.8L848.2 785.9L848.4 785.9L848.6 785.9L848.7 785.9L848.9 785.9L849.1 785.9L849.3 786L849.5 786L849.7 786L849.9 786L850.1 786L850.3 786L850.5 786.1L850.7 786.1L850.9 786.1L851.1 786.1L851.3 786.1L851.5 786.1L851.7 786.1L851.9 786.2L852.1 786.2L852.3 786.2L852.5 786.2L852.7 786.2L852.9 786.2L853.1 786.2L853.3 786.3L853.5 786.3L853.7 786.3L853.9 786.3L854.1 786.3L854.3 786.3L854.5 786.3L854.7 786.4L854.9 786.4L855.1 786.4L855.3 786.4L855.4 786.4L855.6 786.4L855.8 786.4L856 786.4L856.2 786.4L856.4 786.5L856.6 786.5L856.8 786.5L857 786.5L857.2 786.5L857.4 786.5L857.6 786.5L857.8 786.5L858 786.5L858.2 786.6L858.4 786.6L858.6 786.6L858.8 786.6L859 786.6L859.2 786.6L859.4 786.6L859.6 786.6L859.8 786.6L860 786.6L860.2 786.7L860.4 786.7L860.6 786.7L860.8 786.7L861 786.7L861.2 786.7L861.4 786.7L861.6 786.7L861.8 786.7L862 786.7L862.1 786.7L862.3 786.7L862.5 786.7L862.7 786.8L862.9 786.8L863.1 786.8L863.3 786.8L863.5 786.8L863.7 786.8L863.9 786.8L864.1 786.8L864.3 786.8L864.5 786.8L864.6 786.8L864.7 786.8L864.9 786.8L865.1 786.8L865.3 786.8L865.5 786.8L865.7 786.8L865.9 786.9L866.1 786.9L866.3 786.9L866.5 786.9L866.7 786.9L866.9 786.9L867.1 786.9L867.3 786.9L867.5 786.9L867.7 786.9L867.9 786.9L868.1 786.9L868.3 786.9L868.5 786.9L868.6 786.9L868.8 786.9L869 786.9L869.2 787L869.4 787L869.6 787L869.8 787L870 787L870.2 787L870.4 787L870.6 787L870.8 787L871 787L871.2 787L871.4 787L871.6 787L871.8 787L872 787L872.2 787L872.4 787L872.6 787L872.8 787.1L873 787.1L873.2 787.1L873.4 787.1L873.6 787.1L873.8 787.1L874 787.1L874.2 787.1L874.4 787.1L874.6 787.1L874.8 787.1L875 787.1L875.2 787.1L875.3 787.1L875.5 787.1L875.7 787.1L875.9 787.1L876.1 787.1L876.3 787.1L876.5 787.2L876.7 787.2L876.9 787.2L877.1 787.2L877.3 787.2L877.5 787.2L877.7 787.2L877.9 787.2L878.1 787.2L878.3 787.2L878.5 787.2L878.7 787.2L878.9 787.2L879.1 787.2L879.3 787.2L879.5 787.2L879.7 787.2L879.9 787.2L880.1 787.2L880.3 787.2L880.5 787.2L880.7 787.3L880.9 787.3L881.1 787.3L881.3 787.3L881.5 787.3L881.7 787.3L881.9 787.3L882 787.3L882.2 787.3L882.4 787.3L882.6 787.3L882.8 787.3L883 787.3L883.2 787.3L883.4 787.3L883.6 787.3L883.8 787.3L884 787.3L884.2 787.3L884.4 787.3L884.6 787.3L884.8 787.3L885 787.3L885.2 787.4L885.4 787.4L885.6 787.4L885.8 787.4L886 787.4L886.2 787.4L886.4 787.4L886.6 787.4L886.8 787.4L887 787.4L887.2 787.4L887.4 787.4L887.6 787.4L887.8 787.4L888 787.4L888.2 787.4L888.4 787.4L888.5 787.4L888.7 787.4L888.9 787.4L889.1 787.4L889.3 787.4L889.5 787.4L889.7 787.4L889.9 787.4L890.1 787.5L890.3 787.5L890.5 787.5L890.7 787.5L890.9 787.5L891.1 787.5L891.3 787.5L891.5 787.5L891.7 787.5L891.9 787.5L892.1 787.5L892.3 787.5L892.5 787.5L892.7 787.5L892.9 787.5L893.1 787.5L893.3 787.5L893.5 787.5L893.7 787.5L893.9 787.5L894.1 787.5L894.3 787.5L894.5 787.5L894.7 787.5L894.9 787.5L895.1 787.5L895.2 787.5L895.4 787.5L895.6 787.5L895.8 787.5L896 787.5L896.2 787.6L896.4 787.6L896.6 787.6L896.8 787.6L897 787.6L897.2 787.6L897.4 787.6L897.6 787.6L897.8 787.6L898 787.6L898.2 787.6L898.4 787.6L898.6 787.6L898.8 787.6L899 787.6L899.2 787.6L899.4 787.6L899.6 787.6L899.8 787.6L900 787.6L900.2 787.6L900.4 787.6L900.6 787.6L900.8 787.6L901 787.6L901.2 787.6L901.4 787.6L901.6 787.6L901.8 787.6L902.4 787.6L903.1 787.6L903.8 787.6L904.5 787.6L905.2 787.6L905.8 787.7L906.5 787.7L907.2 787.7L907.9 787.7L908.6 787.7L909.2 787.7L909.9 787.7L910.6 787.7L911.3 787.7L912 787.7L912.6 787.7L913.3 787.7L914 787.7L914.1 787.7L914.7 787.7L915.4 787.7L916 787.7L916.7 787.7L917.4 787.7L918.1 787.7L918.8 787.7L919.4 787.7L920.1 787.7L920.8 787.7L921.5 787.7L922.2 787.7L922.9 787.7L923.5 787.7L924.2 787.7L924.9 787.6L925.6 787.6L926.3 787.6L926.9 787.6L927.6 787.6L928.3 787.6L929 787.6L929.7 787.6L930.3 787.6L931 787.6L931.7 787.6L932.4 787.6L933.1 787.6L933.7 787.6L934.4 787.6L935.1 787.5L935.8 787.5L936.5 787.5L937.1 787.5L937.8 787.5L938.5 787.5L939.2 787.5L939.9 787.5L940.6 787.5L941.2 787.5L941.9 787.4L942.6 787.4L943.3 787.4L944 787.4L944.6 787.4L945.3 787.4L946 787.4L946.7 787.4L947.4 787.4L948 787.3L948.7 787.3L949.4 787.3L950.1 787.3L950.8 787.3L951.4 787.3L952.1 787.3L952.8 787.3L953.5 787.2L954.2 787.2L954.8 787.2L955.5 787.2L956.2 787.2L956.9 787.2L957.6 787.1L958.2 787.1L958.9 787.1L959.6 787.1L960.3 787.1L961 787.1L961.7 787.1L962.3 787L963 787L963.7 787L964.4 787L965.1 787L965.7 787L966.4 786.9L967.1 786.9L967.8 786.9L968.5 786.9L969.1 786.9L969.8 786.9L970.5 786.8L971.2 786.8L971.9 786.8L972.5 786.8L973.2 786.8L973.9 786.8L974.6 786.7L975.3 786.7L975.9 786.7L976.6 786.7L977.3 786.7L978 786.6L978.7 786.6L979.4 786.6L980 786.6L980.7 786.6L981.4 786.6L982.1 786.5L982.8 786.5L983.4 786.5L984.1 786.5L984.8 786.5L985.5 786.4L986.2 786.4L986.8 786.4L987.5 786.4L988.2 786.4L988.9 786.4L989.6 786.3L990.2 786.3L990.9 786.3L991.6 786.3L992.3 786.3L993 786.2L993.6 786.2L994.3 786.2L995 786.2L995.7 786.2L996.4 786.1L997.1 786.1L997.7 786.1L998.4 786.1L999.1 786.1L999.8 786.1L1000.5 786L1001.1 786L1001.8 786L1002.5 786L1003.2 786L1003.9 785.9L1004.5 785.9L1005.2 785.9L1005.9 785.9L1006.6 785.9L1007.3 785.8L1007.9 785.8L1008.6 785.8L1009.3 785.8L1010 785.8L1010.7 785.8L1011.3 785.7L1012 785.7L1012.7 785.7L1013.4 785.7L1014.1 785.7L1014.7 785.6L1015.4 785.6L1016.1 785.6L1016.8 785.6L1017.5 785.6L1018.2 785.6L1018.8 785.5L1019.5 785.5L1020.2 785.5L1020.9 785.5L1021.6 785.5L1022.2 785.5L1022.9 785.4L1023.6 785.4L1024.3 785.4L1025 785.4L1025.6 785.4L1026.3 785.4L1027 785.3L1027.7 785.3L1028.4 785.3L1029 785.3L1029.7 785.3L1030.4 785.3L1031.1 785.3L1031.8 785.2L1032.4 785.2L1033.1 785.2L1033.8 785.2L1034.5 785.2L1035.2 785.2L1035.9 785.2L1036.5 785.1L1037.2 785.1L1037.9 785.1L1038.6 785.1L1039.3 785.1L1039.9 785.1L1040.6 785.1L1041.3 785L1042 785L1042.7 785L1043.3 785L1044 785L1044.7 785L1045.4 785L1046.1 785L1046.7 785L1047.4 784.9L1048.1 784.9L1048.8 784.9L1049.5 784.9L1050.1 784.9L1050.2 784.9L1050.8 784.9L1051.5 784.9L1052.2 784.9L1052.9 784.9L1053.6 784.9L1054.2 784.8L1054.9 784.8L1055.6 784.8L1056.3 784.8L1057 784.8L1057.6 784.8L1058.3 784.8L1059 784.8L1059.7 784.8L1060.4 784.8L1061 784.7L1061.7 784.7L1062.4 784.7L1063.1 784.7L1063.8 784.7L1064.4 784.7L1065.1 784.7L1065.8 784.7L1066.5 784.7L1067.2 784.7L1067.8 784.7L1068.5 784.6L1069.2 784.6L1069.9 784.6L1070.6 784.6L1071.2 784.6L1071.9 784.6L1072.6 784.6L1073.3 784.6L1074 784.6L1074.7 784.6L1075.3 784.5L1076 784.5L1076.7 784.5L1077.4 784.5L1078.1 784.5L1078.7 784.5L1079.4 784.5L1080.1 784.5L1080.8 784.5L1081.5 784.5L1082.1 784.5L1082.8 784.4L1083.5 784.4L1084.2 784.4L1084.9 784.4L1085.5 784.4L1086.2 784.4L1086.9 784.4L1087.6 784.4L1088.3 784.4L1088.9 784.4L1089.6 784.3L1090.3 784.3L1091 784.3L1091.7 784.3L1092.4 784.3L1093 784.3L1093.7 784.3L1094.4 784.3L1095.1 784.3L1095.8 784.3L1096.4 784.3L1097.1 784.2L1097.8 784.2L1098.5 784.2L1099.2 784.2L1099.8 784.2L1100.5 784.2L1101.2 784.2L1101.9 784.2L1102.6 784.2L1103.2 784.2L1103.9 784.2L1104.6 784.1L1105.3 784.1L1106 784.1L1106.6 784.1L1107.3 784.1L1108 784.1L1108.7 784.1L1109.4 784.1L1110 784.1L1110.7 784.1L1111.4 784.1L1112.1 784L1112.8 784L1113.5 784L1114.1 784L1114.8 784L1115.5 784L1116.2 784L1116.9 784L1117.5 784L1118.2 784L1118.9 784L1119.6 783.9L1120.3 783.9L1120.9 783.9L1121.6 783.9L1122.3 783.9L1123 783.9L1123.7 783.9L1124.3 783.9L1125 783.9L1125.7 783.9L1126.4 783.9L1127.1 783.9L1127.7 783.8L1128.4 783.8L1129.1 783.8L1129.8 783.8L1130.5 783.8L1131.2 783.8L1131.8 783.8L1132.5 783.8L1133.2 783.8L1133.9 783.8L1134.6 783.8L1135.2 783.7L1135.9 783.7L1136.6 783.7L1137.3 783.7L1138 783.7L1138.6 783.7L1139.3 783.7L1140 783.7L1140.7 783.7L1141.4 783.7L1142 783.7L1142.7 783.7L1143.4 783.6L1144.1 783.6L1144.8 783.6L1145.4 783.6L1146.1 783.6L1146.8 783.6L1147.5 783.6L1148.2 783.6L1148.9 783.6L1149.5 783.6L1150.2 783.6L1150.9 783.6L1151.6 783.5L1152.3 783.5L1152.9 783.5L1153.6 783.5L1154.3 783.5L1155 783.5L1155.7 783.5L1156.3 783.5L1157 783.5L1157.7 783.5L1158.4 783.5L1159.1 783.5L1159.7 783.4L1160.4 783.4L1161.1 783.4L1161.8 783.4L1162.5 783.4L1163.1 783.4L1163.8 783.4L1164.5 783.4L1165.2 783.4L1165.9 783.4L1166.5 783.4L1167.2 783.4L1167.9 783.4L1168.6 783.3L1169.3 783.3L1170 783.3L1170.6 783.3L1171.3 783.3L1172 783.3L1172.7 783.3L1173.4 783.3L1174 783.3L1174.7 783.3L1175.4 783.3L1176.1 783.3L1176.8 783.2L1177.4 783.2L1178.1 783.2L1178.8 783.2L1179.5 783.2L1180.2 783.2L1180.8 783.2L1181.5 783.2L1182.2 783.2L1182.9 783.2L1183.6 783.2L1184.2 783.2L1184.9 783.2L1185.6 783.2L1186.3 783.1L1187 783.1L1187.7 783.1L1188.3 783.1L1189 783.1L1189.7 783.1L1190.4 783.1L1191.1 783.1L1191.7 783.1L1192.4 783.1L1193.1 783.1L1193.8 783.1L1194.5 783.1L1195.1 783.1L1195.8 783L1196.5 783L1197.2 783L1197.9 783L1198.5 783L1199.2 783L1199.9 783L1200.6 783L1201.3 783L1201.9 783L1202.6 783L1203.3 783L1204 783L1204.7 783L1205.4 782.9L1206 782.9L1206.7 782.9L1207.4 782.9L1208.1 782.9L1208.8 782.9L1209.4 782.9L1210.1 782.9L1210.8 782.9L1211.5 782.9L1212.2 782.9L1212.8 782.9L1213.5 782.9L1214.2 782.9L1214.9 782.9L1215.6 782.8L1216.2 782.8L1216.9 782.8L1217.6 782.8L1218.3 782.8L1219 782.8L1219.6 782.8L1220.3 782.8L1221 782.8L1221.7 782.8L1222.4 782.8L1223 782.8L1223.7 782.8L1224.4 782.8L1225.1 782.8L1225.8 782.8L1226.5 782.7L1227.1 782.7L1227.8 782.7L1228.5 782.7L1229.2 782.7L1229.9 782.7L1230.5 782.7L1231.2 782.7L1231.9 782.7L1232.6 782.7L1233.3 782.7L1233.9 782.7L1234.6 782.7L1235.3 782.7L1236 782.7L1236.7 782.7L1237.3 782.7L1238 782.6L1238.7 782.6L1239.4 782.6L1240.1 782.6L1240.7 782.6L1241.4 782.6L1242.1 782.6L1242.8 782.6L1243.5 782.6L1244.2 782.6L1244.8 782.6L1245.5 782.6L1246.2 782.6L1246.9 782.6L1247.6 782.6L1248.2 782.6L1248.9 782.6L1249.6 782.6L1250.3 782.5L1251 782.5L1251.6 782.5L1252.3 782.5L1253 782.5L1253.7 782.5L1254.4 782.5L1255 782.5L1255.7 782.5L1256.4 782.5L1257.1 782.5L1257.8 782.5L1258.4 782.5L1259.1 782.5L1259.8 782.5L1260.5 782.5L1261.2 782.5L1261.8 782.5L1262.5 782.5L1263.2 782.5L1263.9 782.5L1264.6 782.4L1265.3 782.4L1265.9 782.4L1266.6 782.4L1267.3 782.4L1268 782.4L1268.7 782.4L1269.3 782.4L1270 782.4L1270.7 782.4L1271.4 782.4L1272.1 782.4L1272.7 782.4L1273.4 782.4L1274.1 782.4L1274.8 782.4L1275.5 782.4L1276.1 782.4L1276.8 782.4L1277.5 782.4L1278.2 782.4L1278.9 782.4L1279.5 782.4L1280.2 782.3L1280.9 782.3L1281.6 782.3L1282.3 782.3L1283 782.3L1283.6 782.3L1284.3 782.3L1285 782.3L1285.7 782.3L1286.4 782.3L1287 782.3L1287.7 782.3L1288.4 782.3L1289.1 782.3L1289.8 782.3L1290.4 782.3L1291.1 782.3L1291.8 782.3L1292.5 782.3L1293.2 782.3L1293.8 782.3L1294.5 782.3L1295.2 782.3L1295.9 782.3L1296.6 782.3L1297.2 782.3L1297.9 782.3L1298.6 782.3L1299.3 782.2L1300 782.2L1300.7 782.2L1301.3 782.2L1302 782.2L1302.7 782.2L1303.4 782.2L1304.1 782.2L1304.7 782.2L1305.4 782.2L1306.1 782.2L1306.8 782.2L1307.5 782.2L1308.1 782.2L1308.8 782.2L1309.5 782.2" fill="none" stroke="#f39104" stroke-width="3.5" stroke-linejoin="round" stroke-linecap="round" stroke-dasharray="9.2 7.5"/>
<path d="M1496 911.7L1496.2 911.6L1496.4 911.4L1496.6 911.3L1496.8 911.2L1497 911.1L1497.2 910.9L1497.4 910.8L1497.6 910.7L1497.8 910.5L1498 910.4L1498.3 910.3L1498.5 910.2L1498.7 910L1498.9 909.9L1499.1 909.8L1499.3 909.7L1499.5 909.5L1499.7 909.4L1499.9 909.3L1500.1 909.2L1500.3 909L1500.5 908.9L1500.7 908.8L1500.9 908.7L1501.1 908.6L1501.3 908.4L1501.5 908.3L1501.7 908.2L1501.9 908.1L1502.1 908L1502.3 907.9L1502.5 907.8L1502.8 907.6L1503 907.5L1503.2 907.4L1503.4 907.3L1503.6 907.2L1503.8 907.1L1504 907L1504.2 906.9L1504.4 906.8L1504.6 906.7L1504.8 906.6L1505 906.5L1505.2 906.4L1505.4 906.3L1505.6 906.2L1505.8 906.1L1505.8 906.1L1506 906L1506.2 905.9L1506.4 905.8L1506.6 905.7L1506.8 905.6L1507.1 905.5L1507.3 905.4L1507.5 905.4L1507.7 905.3L1507.9 905.2L1508.1 905.1L1508.3 905L1508.5 904.9L1508.7 904.8L1508.9 904.7L1509.1 904.6L1509.3 904.5L1509.5 904.4L1509.7 904.3L1509.9 904.2L1510.1 904.2L1510.3 904.1L1510.5 904L1510.7 903.9L1510.9 903.8L1511.1 903.7L1511.4 903.6L1511.6 903.5L1511.8 903.4L1512 903.4L1512.2 903.3L1512.4 903.2L1512.6 903.1L1512.8 903L1513 902.9L1513.2 902.8L1513.4 902.8L1513.6 902.7L1513.8 902.6L1514 902.5L1514.2 902.4L1514.4 902.4L1514.6 902.3L1514.8 902.2L1515 902.1L1515.2 902L1515.4 902L1515.6 901.9L1515.9 901.8L1516.1 901.7L1516.3 901.6L1516.5 901.6L1516.7 901.5L1516.9 901.4L1517.1 901.3L1517.3 901.3L1517.5 901.2L1517.7 901.1L1517.9 901.1L1518.1 901L1518.3 900.9L1518.5 900.8L1518.7 900.8L1518.9 900.7L1519.1 900.6L1519.3 900.6L1519.5 900.5L1519.7 900.4L1519.9 900.4L1520.2 900.3L1520.4 900.3L1520.6 900.2L1520.8 900.1L1521 900.1L1521.2 900L1521.4 900L1521.6 899.9L1521.8 899.8L1522 899.8L1522.2 899.7L1522.4 899.7L1522.6 899.6L1522.8 899.6L1523 899.5L1523.2 899.5L1523.4 899.4L1523.6 899.4L1523.8 899.3L1523.9 899.3L1524 899.3L1524.2 899.2L1524.5 899.2L1524.7 899.2L1524.9 899.1L1525.1 899.1L1525.3 899L1525.5 899L1525.7 898.9L1525.9 898.9L1526.1 898.8L1526.3 898.8L1526.5 898.7L1526.7 898.7L1526.9 898.7L1527.1 898.6L1527.3 898.6L1527.5 898.5L1527.7 898.5L1527.9 898.4L1528.1 898.4L1528.3 898.3L1528.5 898.3L1528.7 898.3L1529 898.2L1529.2 898.2L1529.4 898.1L1529.6 898.1L1529.8 898L1530 898L1530.2 898L1530.4 897.9L1530.6 897.9L1530.8 897.8L1531 897.8L1531.2 897.7L1531.4 897.7L1531.6 897.7L1531.8 897.6L1532 897.6L1532.2 897.5L1532.4 897.5L1532.6 897.4L1532.8 897.4L1533 897.4L1533.3 897.3L1533.5 897.3L1533.7 897.2L1533.9 897.2L1534.1 897.2L1534.3 897.1L1534.5 897.1L1534.7 897L1534.9 897L1535.1 897L1535.3 896.9L1535.5 896.9L1535.7 896.8L1535.9 896.8L1536.1 896.8L1536.3 896.7L1536.5 896.7L1536.7 896.7L1536.9 896.6L1537.1 896.6L1537.3 896.5L1537.5 896.5L1537.8 896.5L1538 896.4L1538.2 896.4L1538.4 896.4L1538.6 896.3L1538.8 896.3L1539 896.3L1539.2 896.2L1539.4 896.2L1539.6 896.1L1539.8 896.1L1540 896.1L1540.2 896L1540.4 896L1540.6 896L1540.8 895.9L1541 895.9L1541.2 895.9L1541.4 895.8L1541.6 895.8L1541.8 895.8L1542.1 895.7L1542.3 895.7L1542.5 895.7L1542.7 895.7L1542.9 895.6L1543.1 895.6L1543.3 895.6L1543.5 895.5L1543.7 895.5L1543.9 895.5L1544.1 895.4L1544.3 895.4L1544.5 895.4L1544.7 895.4L1544.9 895.3L1545.1 895.3L1545.3 895.3L1545.5 895.2L1545.7 895.2L1545.9 895.2L1546.1 895.2L1546.4 895.1L1546.6 895.1L1546.8 895.1L1547 895.1L1547.2 895L1547.4 895L1547.6 895L1547.8 895L1548 894.9L1548.2 894.9L1548.4 894.9L1548.6 894.9L1548.8 894.8L1549 894.8L1549.2 894.8L1549.4 894.8L1549.6 894.8L1549.8 894.7L1550 894.7L1550.2 894.7L1550.4 894.7L1550.6 894.7L1550.9 894.6L1551.1 894.6L1551.3 894.6L1551.5 894.6L1551.7 894.6L1551.9 894.5L1552.1 894.5L1552.3 894.5L1552.5 894.5L1552.7 894.5L1552.9 894.5L1553.1 894.4L1553.3 894.4L1553.5 894.4L1553.7 894.4L1553.9 894.4L1554.1 894.4L1554.3 894.4L1554.5 894.4L1554.7 894.3L1554.9 894.3L1555.2 894.3L1555.4 894.3L1555.6 894.3L1555.8 894.3L1556 894.3L1556.2 894.3L1556.4 894.3L1556.6 894.2L1556.8 894.2L1557 894.2L1557.2 894.2L1557.4 894.2L1557.6 894.2L1557.8 894.2L1557.9 894.2L1558 894.2L1558.2 894.2L1558.4 894.2L1558.6 894.2L1558.8 894.2L1559 894.2L1559.2 894.2L1559.5 894.1L1559.7 894.1L1559.9 894.1L1560.1 894.1L1560.3 894.1L1560.5 894.1L1560.7 894.1L1560.9 894.1L1561.1 894.1L1561.3 894.1L1561.5 894.1L1561.7 894.1L1561.9 894.1L1562.1 894.1L1562.3 894.1L1562.5 894.1L1562.7 894.1L1562.9 894L1563.1 894L1563.3 894L1563.5 894L1563.7 894L1564 894L1564.2 894L1564.4 894L1564.6 894L1564.8 894L1565 894L1565.2 894L1565.4 894L1565.6 894L1565.8 894L1566 894L1566.2 894L1566.4 894L1566.6 893.9L1566.8 893.9L1567 893.9L1567.2 893.9L1567.4 893.9L1567.6 893.9L1567.8 893.9L1568 893.9L1568.3 893.9L1568.5 893.9L1568.7 893.9L1568.9 893.9L1569.1 893.9L1569.3 893.9L1569.5 893.9L1569.7 893.9L1569.9 893.9L1570.1 893.9L1570.3 893.9L1570.5 893.8L1570.7 893.8L1570.9 893.8L1571.1 893.8L1571.3 893.8L1571.5 893.8L1571.7 893.8L1571.9 893.8L1572.1 893.8L1572.3 893.8L1572.5 893.8L1572.8 893.8L1573 893.8L1573.2 893.8L1573.4 893.8L1573.6 893.8L1573.8 893.8L1574 893.8L1574.2 893.8L1574.4 893.8L1574.6 893.8L1574.8 893.7L1575 893.7L1575.2 893.7L1575.4 893.7L1575.6 893.7L1575.8 893.7L1576 893.7L1576.2 893.7L1576.4 893.7L1576.6 893.7L1576.8 893.7L1577.1 893.7L1577.3 893.7L1577.5 893.7L1577.7 893.7L1578.3 893.7L1579 893.7L1579.7 893.6L1580.4 893.6L1581.1 893.6L1581.8 893.6L1582.4 893.6L1583.1 893.6L1583.8 893.6L1584.5 893.5L1585.2 893.5L1585.8 893.5L1586.5 893.5L1587.2 893.5L1587.9 893.5L1588.6 893.5L1589.3 893.5L1589.9 893.5L1590.6 893.4L1591.3 893.4L1592 893.4L1592.7 893.4L1593.3 893.4L1594 893.4L1594.7 893.4L1595.4 893.4L1596.1 893.4L1596.8 893.4L1597.4 893.3L1598.1 893.3L1598.8 893.3L1599.5 893.3L1600.2 893.3L1600.8 893.3L1601.5 893.3L1602.2 893.3L1602.9 893.3L1603.6 893.3L1604.3 893.3L1604.9 893.3L1605.6 893.3L1606.3 893.3L1607 893.2L1607.7 893.2L1608.3 893.2L1609 893.2L1609.7 893.2L1610.4 893.2L1611.1 893.2L1611.8 893.2L1612.4 893.2L1613.1 893.2L1613.8 893.2L1614.5 893.2L1615.2 893.2L1615.8 893.2L1616.5 893.2L1617.2 893.2L1617.9 893.2L1618.6 893.2L1619.2 893.2L1619.9 893.2L1620.6 893.2L1621.3 893.2L1622 893.2L1622.7 893.2L1623.3 893.2L1624 893.2L1624.7 893.2L1625.4 893.2L1625.8 893.2L1626.1 893.2L1626.7 893.2L1627.4 893.2L1628.1 893.2L1628.8 893.2L1629.5 893.2L1630.2 893.2L1630.8 893.2L1631.5 893.2L1632.2 893.2L1632.9 893.2L1633.6 893.2L1634.2 893.2L1634.9 893.2L1635.6 893.2L1636.3 893.2L1637 893.2L1637.7 893.2L1638.3 893.2L1639 893.2L1639.7 893.2L1640.4 893.2L1641.1 893.2L1641.7 893.2L1642.4 893.2L1643.1 893.2L1643.8 893.2L1644.5 893.3L1645.2 893.3L1645.8 893.3L1646.5 893.3L1647.2 893.3L1647.9 893.3L1648.6 893.3L1649.2 893.3L1649.9 893.3L1650.6 893.3L1651.3 893.3L1652 893.3L1652.7 893.3L1653.3 893.3L1654 893.3L1654.7 893.4L1655.4 893.4L1656.1 893.4L1656.7 893.4L1657.4 893.4L1658.1 893.4L1658.8 893.4L1659.5 893.4L1660.2 893.4L1660.8 893.4L1661.5 893.4L1662.2 893.5L1662.9 893.5L1663.6 893.5L1664.2 893.5L1664.9 893.5L1665.6 893.5L1666.3 893.5L1667 893.5L1667.6 893.5L1668.3 893.5L1669 893.6L1669.7 893.6L1670.4 893.6L1671.1 893.6L1671.7 893.6L1672.4 893.6L1673.1 893.6L1673.8 893.6L1674.5 893.6L1675.1 893.7L1675.8 893.7L1676.5 893.7L1677.2 893.7L1677.9 893.7L1678.6 893.7L1679.2 893.7L1679.9 893.7L1680.6 893.8L1681.3 893.8L1682 893.8L1682.6 893.8L1683.3 893.8L1684 893.8L1684.7 893.8L1685.4 893.8L1686.1 893.9L1686.7 893.9L1687.4 893.9L1688.1 893.9L1688.8 893.9L1689.5 893.9L1690.1 893.9L1690.8 893.9L1691.5 894L1692.2 894L1692.9 894L1693.6 894L1694.2 894L1694.9 894L1695.6 894L1696.3 894L1697 894.1L1697.6 894.1L1698.3 894.1L1699 894.1L1699.7 894.1L1700.4 894.1L1701.1 894.1L1701.7 894.2L1702.4 894.2L1703.1 894.2L1703.8 894.2L1704.5 894.2L1705.1 894.2L1705.8 894.2L1706.5 894.2L1707.2 894.3L1707.9 894.3L1708.6 894.3L1709.2 894.3L1709.9 894.3L1710.6 894.3L1711.3 894.3L1712 894.3L1712.6 894.4L1713.3 894.4L1714 894.4L1714.7 894.4L1715.4 894.4L1716.1 894.4L1716.7 894.4L1717.4 894.4L1718.1 894.5L1718.8 894.5L1719.5 894.5L1720.1 894.5L1720.8 894.5L1721.5 894.5L1722.2 894.5L1722.9 894.5L1723.5 894.6L1724.2 894.6L1724.9 894.6L1725.6 894.6L1726.3 894.6L1727 894.6L1727.6 894.6L1728.3 894.6L1729 894.6L1729.7 894.7L1730.1 894.7L1730.4 894.7L1731 894.7L1731.7 894.7L1732.4 894.7L1733.1 894.7L1733.8 894.7L1734.5 894.7L1735.1 894.7L1735.8 894.8L1736.5 894.8L1737.2 894.8L1737.9 894.8L1738.5 894.8L1739.2 894.8L1739.9 894.8L1740.6 894.8L1741.3 894.8L1742 894.9L1742.6 894.9L1743.3 894.9L1744 894.9L1744.7 894.9L1745.4 894.9L1746 894.9L1746.7 894.9L1747.4 894.9L1748.1 894.9L1748.8 895L1749.5 895L1750.1 895L1750.8 895L1751.5 895L1752.2 895L1752.9 895L1753.5 895L1754.2 895L1754.9 895.1L1755.6 895.1L1756.3 895.1L1757 895.1L1757.6 895.1L1758.3 895.1L1759 895.1L1759.7 895.1L1760.4 895.1L1761 895.2L1761.7 895.2L1762.4 895.2L1763.1 895.2L1763.8 895.2L1764.5 895.2L1765.1 895.2L1765.8 895.2L1766.5 895.3L1767.2 895.3L1767.9 895.3L1768.5 895.3L1769.2 895.3L1769.9 895.3L1770.6 895.3L1771.3 895.3L1771.9 895.3L1772.6 895.4L1773.3 895.4L1774 895.4L1774.7 895.4L1775.4 895.4L1776 895.4L1776.7 895.4L1777.4 895.4L1778.1 895.4L1778.8 895.5L1779.4 895.5L1780.1 895.5L1780.8 895.5L1781.5 895.5L1782.2 895.5L1782.9 895.5L1783.5 895.5L1784.2 895.5L1784.9 895.6L1785.6 895.6L1786.3 895.6L1786.9 895.6L1787.6 895.6L1788.3 895.6L1789 895.6L1789.7 895.6L1790.4 895.7L1791 895.7L1791.7 895.7L1792.4 895.7L1793.1 895.7L1793.8 895.7L1794.4 895.7L1795.1 895.7L1795.8 895.7L1796.5 895.8L1797.2 895.8L1797.9 895.8L1798.5 895.8L1799.2 895.8L1799.9 895.8L1800.6 895.8L1801.3 895.8L1801.9 895.8L1802.6 895.9L1803.3 895.9L1804 895.9L1804.7 895.9L1805.4 895.9L1806 895.9L1806.7 895.9L1807.4 895.9L1808.1 896L1808.8 896L1809.4 896L1810.1 896L1810.8 896L1811.5 896L1812.2 896L1812.9 896L1813.5 896.1L1814.2 896.1L1814.9 896.1L1815.6 896.1L1816.3 896.1L1816.9 896.1L1817.6 896.1L1818.3 896.1L1819 896.1L1819.7 896.2L1820.3 896.2L1821 896.2L1821.7 896.2L1822.4 896.2L1823.1 896.2L1823.8 896.2L1824.4 896.2L1825.1 896.3L1825.8 896.3L1826.5 896.3L1827.2 896.3L1827.8 896.3L1828.5 896.3L1829.2 896.3L1829.9 896.3L1830.6 896.4L1831.3 896.4L1831.9 896.4L1832.6 896.4L1833.3 896.4L1834 896.4L1834.7 896.4L1835.3 896.4L1836 896.5L1836.7 896.5L1837.4 896.5L1838.1 896.5L1838.8 896.5L1839.4 896.5L1840.1 896.5L1840.8 896.5L1841.5 896.5L1842.2 896.6L1842.8 896.6L1843.5 896.6L1844.2 896.6L1844.9 896.6L1845.6 896.6L1846.3 896.6L1846.9 896.6L1847.6 896.7L1848.3 896.7L1849 896.7L1849.7 896.7L1850.3 896.7L1851 896.7L1851.7 896.7L1852.4 896.7L1853.1 896.8L1853.8 896.8L1854.4 896.8L1855.1 896.8L1855.8 896.8L1856.5 896.8L1857.2 896.8L1857.8 896.8L1858.5 896.9L1859.2 896.9L1859.9 896.9L1860.6 896.9L1861.3 896.9L1861.9 896.9L1862.6 896.9L1863.3 896.9L1864 897L1864.7 897L1865.3 897L1866 897L1866.7 897L1867.4 897L1868.1 897L1868.7 897.1L1869.4 897.1L1870.1 897.1L1870.8 897.1L1871.5 897.1L1872.2 897.1L1872.8 897.1L1873.5 897.1L1874.2 897.2L1874.9 897.2L1875.6 897.2L1876.2 897.2L1876.9 897.2L1877.6 897.2L1878.3 897.2L1879 897.2L1879.7 897.3L1880.3 897.3L1881 897.3L1881.7 897.3L1882.4 897.3L1883.1 897.3L1883.7 897.3L1884.4 897.3L1885.1 897.4L1885.8 897.4L1886.5 897.4L1887.2 897.4L1887.8 897.4L1888.5 897.4L1889.2 897.4L1889.9 897.5L1890.6 897.5L1891.2 897.5L1891.9 897.5L1892.6 897.5L1893.3 897.5L1894 897.5L1894.7 897.5L1895.3 897.6L1896 897.6L1896.7 897.6L1897.4 897.6L1898.1 897.6L1898.7 897.6L1899.4 897.6L1900.1 897.6L1900.8 897.7L1901.5 897.7L1902.2 897.7L1902.8 897.7L1903.5 897.7L1904.2 897.7L1904.9 897.7L1905.6 897.8L1906.2 897.8L1906.9 897.8L1907.6 897.8L1908.3 897.8L1909 897.8L1909.7 897.8L1910.3 897.8L1911 897.9L1911.7 897.9L1912.4 897.9L1913.1 897.9L1913.7 897.9L1914.4 897.9L1915.1 897.9L1915.8 898L1916.5 898L1917.1 898L1917.8 898L1918.5 898L1919.2 898L1919.9 898L1920.6 898.1L1921.2 898.1L1921.9 898.1L1922.6 898.1L1923.3 898.1L1924 898.1L1924.6 898.1L1925.3 898.1L1926 898.2L1926.7 898.2L1927.4 898.2L1928.1 898.2L1928.7 898.2L1929.4 898.2L1930.1 898.2L1930.8 898.3L1931.5 898.3L1932.1 898.3L1932.8 898.3L1933.5 898.3L1934.2 898.3L1934.9 898.3L1935.6 898.4L1936.2 898.4L1936.9 898.4L1937.6 898.4L1938.3 898.4L1939 898.4L1939.6 898.4L1940.3 898.5L1941 898.5L1941.7 898.5L1942.4 898.5L1943.1 898.5L1943.7 898.5L1944.4 898.5L1945.1 898.5L1945.8 898.6L1946.5 898.6L1947.1 898.6L1947.8 898.6L1948.5 898.6L1949.2 898.6L1949.9 898.6L1950.6 898.7L1951.2 898.7L1951.9 898.7L1952.6 898.7L1953.3 898.7L1954 898.7L1954.6 898.7L1955.3 898.8L1956 898.8L1956.7 898.8L1957.4 898.8L1958.1 898.8L1958.7 898.8L1959.4 898.8L1960.1 898.9L1960.8 898.9L1961.5 898.9L1962.1 898.9L1962.8 898.9L1963.5 898.9L1964.2 898.9L1964.9 899L1965.5 899L1966.2 899L1966.9 899L1967.6 899L1968.3 899L1969 899L1969.6 899.1L1970.3 899.1L1971 899.1L1971.7 899.1L1972.4 899.1L1973 899.1L1973.7 899.1L1974.4 899.2L1975.1 899.2L1975.8 899.2L1976.5 899.2L1977.1 899.2L1977.8 899.2L1978.5 899.2L1979.2 899.3L1979.9 899.3L1980.5 899.3L1981.2 899.3L1981.9 899.3L1982.6 899.3L1983.3 899.4L1984 899.4L1984.6 899.4L1985.3 899.4L1986 899.4" fill="none" stroke="#000000" stroke-width="3.5" stroke-linejoin="round" stroke-linecap="round" stroke-dasharray="9.2 7.5"/>
<path d="M1496 911.7L1496.2 906.8L1496.4 902L1496.6 897.1L1496.8 892.3L1497 887.4L1497.2 882.5L1497.4 877.7L1497.6 872.8L1497.8 867.9L1498 865.1L1498 861.2L1498.3 851.9L1498.5 842.5L1498.7 833.2L1498.9 823.8L1499.1 814.5L1499.3 805.2L1499.5 795.8L1499.6 790.7L1499.7 785.5L1499.9 773.8L1500.1 762.1L1500.3 750.5L1500.5 738.8L1500.7 727.1L1500.9 716.2L1500.9 714.4L1501.1 708.4L1501.3 702.6L1501.5 697L1501.7 691.6L1501.9 686.3L1502.1 681.3L1502.3 676.6L1502.5 672L1502.8 667.8L1503 663.8L1503.1 660.8L1503.2 660L1503.4 656.6L1503.6 653.4L1503.8 650.4L1504 647.7L1504.2 645.1L1504.4 642.7L1504.6 640.5L1504.8 638.4L1505 636.4L1505.2 634.6L1505.4 632.8L1505.6 631.2L1505.8 629.8L1505.8 629.6L1506 628.1L1506.2 626.7L1506.4 625.4L1506.6 624.1L1506.8 622.8L1507.1 621.6L1507.3 620.5L1507.5 619.4L1507.7 618.3L1507.9 617.3L1508.1 616.4L1508.3 615.4L1508.4 614.8L1508.5 614.5L1508.7 613.7L1508.9 612.8L1509.1 612L1509.3 611.2L1509.5 610.5L1509.7 609.8L1509.9 609.1L1510.1 608.4L1510.3 607.7L1510.5 607.1L1510.7 606.5L1510.9 605.9L1511.1 605.3L1511.4 604.8L1511.6 604.3L1511.8 603.8L1512 603.3L1512.2 602.8L1512.3 602.5L1512.4 602.4L1512.6 601.9L1512.8 601.5L1513 601.1L1513.2 600.7L1513.4 600.4L1513.6 600L1513.8 599.7L1514 599.4L1514.2 599.1L1514.4 598.8L1514.6 598.5L1514.8 598.2L1515 598L1515.2 597.8L1515.4 597.6L1515.6 597.4L1515.9 597.2L1516.1 597L1516.3 596.9L1516.5 596.8L1516.7 596.6L1516.9 596.5L1517.1 596.4L1517.3 596.4L1517.5 596.3L1517.7 596.3L1517.8 596.2L1517.9 596.2L1518.1 596.2L1518.3 596.2L1518.5 596.2L1518.7 596.2L1518.9 596.3L1519.1 596.3L1519.3 596.4L1519.5 596.4L1519.7 596.5L1519.9 596.6L1520.2 596.7L1520.4 596.8L1520.6 597L1520.8 597.1L1521 597.2L1521.2 597.4L1521.4 597.6L1521.6 597.7L1521.8 597.9L1522 598.1L1522.2 598.3L1522.4 598.5L1522.6 598.7L1522.8 599L1523 599.2L1523.2 599.4L1523.4 599.7L1523.6 599.9L1523.8 600.2L1524 600.5L1524.2 600.7L1524.5 601L1524.7 601.3L1524.9 601.6L1525.1 601.9L1525.3 602.2L1525.5 602.5L1525.7 602.8L1525.9 603.2L1526.1 603.5L1526.3 603.8L1526.5 604.2L1526.7 604.5L1526.9 604.9L1527.1 605.2L1527.3 605.5L1527.3 605.6L1527.5 605.9L1527.7 606.3L1527.9 606.6L1528.1 607L1528.3 607.4L1528.5 607.8L1528.7 608.2L1529 608.5L1529.2 608.9L1529.4 609.3L1529.6 609.7L1529.8 610.1L1530 610.5L1530.2 610.9L1530.4 611.3L1530.6 611.8L1530.8 612.2L1531 612.6L1531.2 613L1531.4 613.4L1531.6 613.9L1531.8 614.3L1532 614.7L1532.2 615.2L1532.4 615.6L1532.6 616L1532.8 616.5L1533 616.9L1533.3 617.4L1533.5 617.8L1533.7 618.2L1533.9 618.7L1534.1 619.1L1534.3 619.6L1534.5 620.1L1534.7 620.5L1534.9 621L1535.1 621.4L1535.3 621.9L1535.5 622.4L1535.7 622.8L1535.9 623.3L1536.1 623.8L1536.3 624.2L1536.5 624.7L1536.7 625.2L1536.9 625.6L1537.1 626.1L1537.3 626.6L1537.5 627.1L1537.8 627.5L1537.8 627.7L1538 628L1538.2 628.5L1538.4 629L1538.6 629.4L1538.8 629.9L1539 630.4L1539.2 630.9L1539.4 631.4L1539.6 631.8L1539.8 632.3L1540 632.8L1540.2 633.3L1540.4 633.8L1540.6 634.3L1540.8 634.8L1541 635.2L1541.2 635.7L1541.4 636.2L1541.6 636.7L1541.8 637.2L1542.1 637.7L1542.3 638.2L1542.5 638.7L1542.7 639.2L1542.9 639.7L1543.1 640.2L1543.3 640.7L1543.5 641.1L1543.7 641.6L1543.9 642.1L1544.1 642.6L1544.3 643.1L1544.5 643.6L1544.7 644.1L1544.9 644.6L1545.1 645.1L1545.3 645.6L1545.5 646.1L1545.7 646.6L1545.9 647.1L1546.1 647.7L1546.4 648.2L1546.6 648.7L1546.8 649.2L1547 649.7L1547.2 650.2L1547.4 650.7L1547.6 651.2L1547.8 651.7L1548 652.2L1548.2 652.7L1548.3 652.9L1548.4 653.2L1548.6 653.7L1548.8 654.3L1549 654.8L1549.2 655.3L1549.4 655.8L1549.6 656.3L1549.8 656.8L1550 657.3L1550.2 657.8L1550.4 658.4L1550.6 658.9L1550.9 659.4L1551.1 659.9L1551.3 660.4L1551.5 660.9L1551.7 661.5L1551.9 662L1552.1 662.5L1552.3 663L1552.5 663.5L1552.7 664L1552.9 664.6L1553.1 665.1L1553.3 665.6L1553.5 666.1L1553.7 666.6L1553.9 667.2L1554.1 667.7L1554.3 668.2L1554.5 668.7L1554.7 669.3L1554.9 669.8L1555.2 670.3L1555.4 670.8L1555.6 671.4L1555.8 671.9L1556 672.4L1556.2 672.9L1556.4 673.5L1556.6 674L1556.8 674.5L1557 675L1557.2 675.6L1557.4 676.1L1557.6 676.6L1557.8 677.1L1558 677.7L1558.2 678.2L1558.4 678.7L1558.6 679.3L1558.8 679.7L1558.8 679.8L1559 680.3L1559.2 680.9L1559.5 681.4L1559.7 681.9L1559.9 682.4L1560.1 683L1560.3 683.5L1560.5 684L1560.7 684.6L1560.9 685.1L1561.1 685.6L1561.3 686.2L1561.5 686.7L1561.7 687.2L1561.9 687.7L1562.1 688.3L1562.3 688.8L1562.5 689.3L1562.7 689.9L1562.9 690.4L1563.1 690.9L1563.3 691.5L1563.5 692L1563.7 692.5L1564 693L1564.2 693.6L1564.4 694.1L1564.6 694.6L1564.8 695.1L1565 695.7L1565.2 696.2L1565.4 696.7L1565.6 697.2L1565.8 697.8L1566 698.3L1566.2 698.8L1566.4 699.3L1566.6 699.8L1566.8 700.4L1567 700.9L1567.2 701.4L1567.4 701.9L1567.6 702.4L1567.8 702.9L1568 703.5L1568.3 704L1568.5 704.5L1568.7 705L1568.9 705.5L1569.1 706L1569.3 706.5L1569.3 706.7L1569.5 707L1569.7 707.5L1569.9 708L1570.1 708.5L1570.3 709L1570.5 709.5L1570.7 710L1570.9 710.5L1571.1 711L1571.3 711.5L1571.5 712L1571.7 712.5L1571.9 713L1572.1 713.5L1572.3 714L1572.5 714.5L1572.8 715L1573 715.5L1573.2 716L1573.4 716.5L1573.6 716.9L1573.8 717.4L1574 717.9L1574.2 718.4L1574.4 718.9L1574.6 719.4L1574.8 719.8L1575 720.3L1575.2 720.8L1575.4 721.3L1575.6 721.7L1575.8 722.2L1576 722.7L1576.2 723.1L1576.4 723.6L1576.6 724.1L1576.8 724.5L1577.1 725L1577.3 725.5L1577.5 725.9L1577.7 726.4L1578.3 727.9L1579 729.4L1579.7 730.9L1580.4 732.4L1581.1 733.8L1581.8 735.3L1582.4 736.7L1582.9 737.6L1583.1 738.1L1583.8 739.5L1584.5 740.9L1585.2 742.2L1585.8 743.6L1586.5 744.9L1587.2 746.2L1587.9 747.5L1588.6 748.8L1589.3 750.1L1589.9 751.3L1590.6 752.6L1591.3 753.8L1592 755L1592.7 756.2L1593.3 757.4L1594 758.6L1594.7 759.7L1594.9 760L1595.4 760.9L1596.1 762L1596.8 763.1L1597.4 764.3L1598.1 765.4L1598.8 766.5L1599.5 767.5L1600.2 768.6L1600.8 769.7L1601.5 770.7L1602.2 771.7L1602.9 772.8L1603.6 773.8L1604.3 774.8L1604.9 775.7L1605.6 776.7L1606.3 777.7L1607 778.6L1607.7 779.6L1608.3 780.5L1609 781.4L1609.7 782.3L1609.8 782.5L1610.4 783.2L1611.1 784.1L1611.8 785L1612.4 785.8L1613.1 786.7L1613.8 787.5L1614.5 788.4L1615.2 789.2L1615.8 790L1616.5 790.8L1617.2 791.6L1617.9 792.4L1618.6 793.1L1619.2 793.9L1619.9 794.7L1620.6 795.4L1621.3 796.1L1622 796.9L1622.7 797.6L1623.3 798.3L1624 799L1624.7 799.7L1624.9 799.9L1625.4 800.4L1626.1 801.1L1626.7 801.8L1627.4 802.5L1628.1 803.1L1628.8 803.8L1629.5 804.5L1630.2 805.1L1630.8 805.8L1631.5 806.4L1632.2 807L1632.9 807.7L1633.6 808.3L1634.2 808.9L1634.9 809.5L1635.6 810.1L1636.3 810.7L1637 811.3L1637.7 811.9L1638.3 812.5L1639 813.1L1639.7 813.7L1639.9 813.8L1640.4 814.2L1641.1 814.8L1641.7 815.4L1642.4 816L1643.1 816.5L1643.8 817.1L1644.5 817.6L1645.2 818.2L1645.8 818.7L1646.5 819.3L1647.2 819.8L1647.9 820.3L1648.6 820.9L1649.2 821.4L1649.9 821.9L1650.6 822.4L1651.3 823L1652 823.5L1652.7 824L1653.3 824.5L1654 825L1654.7 825.5L1654.8 825.5L1655.4 826L1656.1 826.5L1656.7 827L1657.4 827.4L1658.1 827.9L1658.8 828.4L1659.5 828.9L1660.2 829.3L1660.8 829.8L1661.5 830.3L1662.2 830.7L1662.9 831.2L1663.6 831.6L1664.2 832.1L1664.9 832.5L1665.6 833L1666.3 833.4L1667 833.9L1667.6 834.3L1668.3 834.7L1669 835.1L1669.7 835.6L1670.4 836L1671.1 836.4L1671.7 836.8L1672.4 837.2L1673.1 837.6L1673.8 838L1674.5 838.4L1675.1 838.8L1675.8 839.2L1676.5 839.6L1677.2 840L1677.9 840.4L1678.6 840.7L1679.2 841.1L1679.9 841.5L1680 841.5L1680.6 841.9L1681.3 842.2L1682 842.6L1682.6 842.9L1683.3 843.3L1684 843.7L1684.7 844L1685.4 844.3L1686.1 844.7L1686.7 845L1687.4 845.4L1688.1 845.7L1688.8 846L1689.5 846.4L1690.1 846.7L1690.8 847L1691.5 847.3L1692.2 847.6L1692.9 848L1693.6 848.3L1694.2 848.6L1694.9 848.9L1695.6 849.2L1696.3 849.5L1697 849.8L1697.6 850.1L1698.3 850.4L1699 850.7L1699.7 850.9L1700.4 851.2L1701.1 851.5L1701.7 851.8L1702.4 852.1L1703.1 852.4L1703.8 852.6L1704.5 852.9L1705.1 853.2L1705.8 853.4L1706.5 853.7L1707.2 854L1707.9 854.2L1708.6 854.5L1709.2 854.8L1709.9 855L1710.6 855.3L1711.3 855.5L1712 855.8L1712.6 856L1713.3 856.3L1714 856.5L1714.7 856.8L1715.4 857L1716.1 857.2L1716.7 857.5L1717.4 857.7L1718.1 858L1718.8 858.2L1719.5 858.4L1720.1 858.7L1720.8 858.9L1721.5 859.1L1722.2 859.3L1722.9 859.6L1723.5 859.8L1724.2 860L1724.9 860.2L1725.6 860.5L1726.3 860.7L1727 860.9L1727.6 861.1L1728.3 861.3L1729 861.5L1729.7 861.8L1730.1 861.9L1730.4 862L1731 862.2L1731.7 862.4L1732.4 862.6L1733.1 862.8L1733.8 863L1734.5 863.2L1735.1 863.4L1735.8 863.6L1736.5 863.8L1737.2 864L1737.9 864.2L1738.5 864.4L1739.2 864.6L1739.9 864.8L1740.6 865L1741.3 865.2L1742 865.4L1742.6 865.6L1743.3 865.8L1744 866L1744.7 866.2L1745.4 866.3L1746 866.5L1746.7 866.7L1747.4 866.9L1748.1 867.1L1748.8 867.3L1749.5 867.5L1750.1 867.6L1750.8 867.8L1751.5 868L1752.2 868.2L1752.9 868.3L1753.5 868.5L1754.2 868.7L1754.9 868.9L1755.6 869L1756.3 869.2L1757 869.4L1757.6 869.6L1758.3 869.7L1759 869.9L1759.7 870.1L1760.4 870.2L1761 870.4L1761.7 870.6L1762.4 870.7L1763.1 870.9L1763.8 871L1764.5 871.2L1765.1 871.4L1765.8 871.5L1766.5 871.7L1767.2 871.8L1767.9 872L1768.5 872.2L1769.2 872.3L1769.9 872.5L1770.6 872.6L1771.3 872.8L1771.9 872.9L1772.6 873.1L1773.3 873.2L1774 873.4L1774.7 873.5L1775.4 873.7L1776 873.8L1776.7 874L1777.4 874.1L1778.1 874.3L1778.8 874.4L1779.4 874.5L1780.1 874.7L1780.8 874.8L1781.5 875L1782.2 875.1L1782.9 875.2L1783.5 875.4L1784.2 875.5L1784.9 875.7L1785.6 875.8L1786.3 875.9L1786.9 876.1L1787.6 876.2L1788.3 876.3L1789 876.5L1789.7 876.6L1790.4 876.7L1791 876.8L1791.7 877L1792.4 877.1L1793.1 877.2L1793.8 877.4L1794.4 877.5L1795.1 877.6L1795.8 877.7L1796.5 877.9L1797.2 878L1797.9 878.1L1798.2 878.2L1798.5 878.2L1799.2 878.3L1799.9 878.5L1800.6 878.6L1801.3 878.7L1801.9 878.8L1802.6 878.9L1803.3 879.1L1804 879.2L1804.7 879.3L1805.4 879.4L1806 879.5L1806.7 879.6L1807.4 879.8L1808.1 879.9L1808.8 880L1809.4 880.1L1810.1 880.2L1810.8 880.3L1811.5 880.4L1812.2 880.5L1812.9 880.6L1813.5 880.7L1814.2 880.8L1814.9 881L1815.6 881.1L1816.3 881.2L1816.9 881.3L1817.6 881.4L1818.3 881.5L1819 881.6L1819.7 881.7L1820.3 881.8L1821 881.9L1821.7 882L1822.4 882.1L1823.1 882.2L1823.8 882.3L1824.4 882.4L1825.1 882.5L1825.8 882.6L1826.5 882.7L1827.2 882.8L1827.8 882.9L1828.5 883L1829.2 883.1L1829.9 883.1L1830.6 883.2L1831.3 883.3L1831.9 883.4L1832.6 883.5L1833.3 883.6L1834 883.7L1834.7 883.8L1835.3 883.9L1836 884L1836.7 884.1L1837.4 884.1L1838.1 884.2L1838.8 884.3L1839.4 884.4L1840.1 884.5L1840.8 884.6L1841.5 884.7L1842.2 884.7L1842.8 884.8L1843.5 884.9L1844.2 885L1844.9 885.1L1845.6 885.2L1846.3 885.2L1846.9 885.3L1847.6 885.4L1848.3 885.5L1849 885.6L1849.7 885.6L1850.3 885.7L1851 885.8L1851.7 885.9L1852.4 886L1853.1 886L1853.8 886.1L1854.4 886.2L1855.1 886.3L1855.8 886.3L1856.5 886.4L1857.2 886.5L1857.8 886.6L1858.5 886.6L1859.2 886.7L1859.9 886.8L1860.6 886.9L1861.3 886.9L1861.9 887L1862.6 887.1L1863.3 887.2L1864 887.2L1864.6 887.3L1864.7 887.3L1865.3 887.4L1866 887.4L1866.7 887.5L1867.4 887.6L1868.1 887.6L1868.7 887.7L1869.4 887.8L1870.1 887.8L1870.8 887.9L1871.5 888L1872.2 888L1872.8 888.1L1873.5 888.2L1874.2 888.2L1874.9 888.3L1875.6 888.4L1876.2 888.4L1876.9 888.5L1877.6 888.6L1878.3 888.6L1879 888.7L1879.7 888.8L1880.3 888.8L1881 888.9L1881.7 888.9L1882.4 889L1883.1 889.1L1883.7 889.1L1884.4 889.2L1885.1 889.2L1885.8 889.3L1886.5 889.4L1887.2 889.4L1887.8 889.5L1888.5 889.5L1889.2 889.6L1889.9 889.7L1890.6 889.7L1891.2 889.8L1891.9 889.8L1892.6 889.9L1893.3 889.9L1894 890L1894.7 890.1L1895.3 890.1L1896 890.2L1896.7 890.2L1897.4 890.3L1898.1 890.3L1898.7 890.4L1899.4 890.4L1900.1 890.5L1900.8 890.6L1901.5 890.6L1902.2 890.7L1902.8 890.7L1903.5 890.8L1904.2 890.8L1904.9 890.9L1905.6 890.9L1906.2 891L1906.9 891L1907.6 891.1L1908.3 891.1L1909 891.2L1909.7 891.2L1910.3 891.3L1911 891.3L1911.7 891.4L1912.4 891.4L1913.1 891.5L1913.7 891.5L1914.4 891.6L1915.1 891.6L1915.8 891.7L1916.5 891.7L1917.1 891.8L1917.8 891.8L1918.5 891.9L1919.2 891.9L1919.9 892L1920.6 892L1921.2 892.1L1921.9 892.1L1922.6 892.2L1923.3 892.2L1924 892.3L1924.6 892.3L1925.3 892.3L1926 892.4L1926.7 892.4L1927.4 892.5L1928.1 892.5L1928.7 892.6L1929.4 892.6L1930.1 892.7L1930.8 892.7L1931.5 892.8L1932.1 892.8L1932.8 892.8L1933.5 892.9L1934.2 892.9L1934.9 893L1935.6 893L1936.2 893.1L1936.9 893.1L1937.6 893.2L1938.3 893.2L1939 893.2L1939.6 893.3L1940.3 893.3L1941 893.4L1941.7 893.4L1942.4 893.5L1943.1 893.5L1943.7 893.5L1944.4 893.6L1945.1 893.6L1945.8 893.7L1946.5 893.7L1947.1 893.8L1947.8 893.8L1948.5 893.8L1949.2 893.9L1949.9 893.9L1950.6 894L1951.2 894L1951.9 894L1952.6 894.1L1953.3 894.1L1954 894.2L1954.6 894.2L1955.3 894.2L1956 894.3L1956.7 894.3L1957.4 894.4L1958.1 894.4L1958.7 894.4L1959.4 894.5L1960.1 894.5L1960.8 894.6L1961.5 894.6L1962.1 894.6L1962.8 894.7L1963.5 894.7L1964.2 894.8L1964.9 894.8L1965.5 894.8L1966.2 894.9L1966.9 894.9L1967.6 895L1968.3 895L1969 895L1969.6 895.1L1970.3 895.1L1971 895.2L1971.7 895.2L1972.4 895.2L1973 895.3L1973.7 895.3L1974.4 895.4L1975.1 895.4L1975.8 895.4L1976.5 895.5L1977.1 895.5L1977.8 895.5L1978.5 895.6L1979.2 895.6L1979.9 895.7L1980.5 895.7L1981.2 895.7L1981.9 895.8L1982.6 895.8L1983.3 895.9L1984 895.9L1984.6 895.9L1985.3 896L1986 896" fill="none" stroke="#0a8b8d" stroke-width="3.5" stroke-linejoin="round" stroke-linecap="round" stroke-dasharray="9.2 7.5"/>
<path d="M1496 911.7L1496.2 906.5L1496.4 901.4L1496.6 896.2L1496.8 891L1497 885.8L1497.2 880.7L1497.4 875.5L1497.6 870.3L1497.8 865.2L1498 860L1498.3 854.8L1498.5 849.6L1498.7 844.5L1498.9 839.3L1499.1 834.1L1499.3 829L1499.5 823.8L1499.7 818.6L1499.7 818L1499.9 815.5L1500.1 813L1500.3 810.5L1500.5 808.1L1500.7 805.8L1500.9 803.6L1501.1 801.4L1501.3 799.3L1501.5 797.3L1501.7 795.4L1501.9 793.5L1502.1 791.8L1502.3 790.1L1502.5 788.4L1502.8 786.9L1502.9 786.1L1503 785.4L1503.2 784L1503.4 782.7L1503.6 781.4L1503.8 780.2L1504 779L1504.2 777.9L1504.4 776.9L1504.6 775.9L1504.8 774.9L1505 774L1505.2 773.1L1505.4 772.3L1505.6 771.5L1505.8 770.8L1506 770L1506.2 769.3L1506.4 768.7L1506.6 768L1506.8 767.4L1507.1 766.8L1507.2 766.4L1507.3 766.3L1507.5 765.7L1507.7 765.2L1507.9 764.7L1508.1 764.2L1508.3 763.8L1508.5 763.3L1508.7 762.9L1508.9 762.5L1509.1 762.1L1509.3 761.7L1509.5 761.4L1509.7 761L1509.9 760.7L1510.1 760.4L1510.3 760.1L1510.5 759.7L1510.7 759.5L1510.9 759.2L1511.1 758.9L1511.4 758.6L1511.6 758.4L1511.8 758.1L1512 757.9L1512.2 757.7L1512.3 757.5L1512.4 757.4L1512.6 757.2L1512.8 757L1513 756.8L1513.2 756.6L1513.4 756.4L1513.6 756.2L1513.8 756L1514 755.8L1514.2 755.7L1514.4 755.5L1514.6 755.4L1514.8 755.2L1515 755.1L1515.2 754.9L1515.4 754.8L1515.6 754.7L1515.9 754.6L1516.1 754.5L1516.3 754.4L1516.5 754.3L1516.7 754.2L1516.9 754.2L1517.1 754.1L1517.3 754L1517.5 754L1517.7 754L1517.9 753.9L1518 753.9L1518.1 753.9L1518.3 753.9L1518.5 753.9L1518.7 753.9L1518.9 753.9L1519.1 753.9L1519.3 753.9L1519.5 754L1519.7 754L1519.9 754.1L1520.2 754.1L1520.4 754.2L1520.6 754.3L1520.8 754.3L1521 754.4L1521.2 754.5L1521.4 754.6L1521.6 754.7L1521.8 754.8L1522 755L1522.2 755.1L1522.4 755.2L1522.6 755.4L1522.8 755.5L1523 755.7L1523.2 755.8L1523.4 756L1523.6 756.2L1523.8 756.3L1523.8 756.4L1524 756.5L1524.2 756.7L1524.5 756.9L1524.7 757.2L1524.9 757.4L1525.1 757.6L1525.3 757.8L1525.5 758L1525.7 758.3L1525.9 758.5L1526.1 758.7L1526.3 759L1526.5 759.2L1526.7 759.5L1526.9 759.7L1527.1 760L1527.3 760.3L1527.5 760.5L1527.7 760.8L1527.9 761.1L1528.1 761.4L1528.3 761.6L1528.5 761.9L1528.7 762.2L1529 762.5L1529.2 762.8L1529.4 763.1L1529.6 763.4L1529.8 763.7L1530 764L1530.2 764.3L1530.4 764.6L1530.6 764.9L1530.8 765.2L1531 765.5L1531.2 765.8L1531.4 766.1L1531.6 766.4L1531.8 766.7L1532 767L1532.2 767.3L1532.4 767.6L1532.6 767.9L1532.8 768.2L1533 768.5L1533.3 768.8L1533.5 769.1L1533.7 769.4L1533.9 769.7L1534.1 770L1534.3 770.3L1534.5 770.7L1534.7 771L1534.9 771.3L1535 771.5L1535.1 771.6L1535.3 771.9L1535.5 772.2L1535.7 772.5L1535.9 772.8L1536.1 773L1536.3 773.3L1536.5 773.6L1536.7 773.9L1536.9 774.2L1537.1 774.5L1537.3 774.8L1537.5 775.1L1537.8 775.4L1538 775.7L1538.2 776L1538.4 776.3L1538.6 776.5L1538.8 776.8L1539 777.1L1539.2 777.4L1539.4 777.7L1539.6 778L1539.8 778.2L1540 778.5L1540.2 778.8L1540.4 779.1L1540.6 779.4L1540.8 779.6L1541 779.9L1541.2 780.2L1541.4 780.5L1541.6 780.7L1541.8 781L1542.1 781.3L1542.3 781.6L1542.5 781.8L1542.7 782.1L1542.9 782.4L1543.1 782.7L1543.3 782.9L1543.5 783.2L1543.7 783.5L1543.9 783.7L1544.1 784L1544.3 784.3L1544.5 784.5L1544.7 784.8L1544.9 785.1L1545.1 785.3L1545.3 785.6L1545.5 785.9L1545.7 786.1L1545.9 786.4L1546.1 786.7L1546.4 786.9L1546.6 787.2L1546.8 787.4L1547 787.7L1547.2 788L1547.4 788.2L1547.6 788.5L1547.8 788.8L1548 789L1548.2 789.3L1548.4 789.5L1548.6 789.8L1548.8 790L1549 790.3L1549.2 790.6L1549.4 790.8L1549.6 791.1L1549.8 791.3L1550 791.6L1550.1 791.6L1550.2 791.8L1550.4 792.1L1550.6 792.3L1550.9 792.6L1551.1 792.8L1551.3 793.1L1551.5 793.4L1551.7 793.6L1551.9 793.9L1552.1 794.1L1552.3 794.4L1552.5 794.6L1552.7 794.9L1552.9 795.1L1553.1 795.4L1553.3 795.6L1553.5 795.9L1553.7 796.1L1553.9 796.4L1554.1 796.6L1554.3 796.8L1554.5 797.1L1554.7 797.3L1554.9 797.6L1555.2 797.8L1555.4 798.1L1555.6 798.3L1555.8 798.6L1556 798.8L1556.2 799.1L1556.4 799.3L1556.6 799.5L1556.8 799.8L1557 800L1557.2 800.3L1557.4 800.5L1557.6 800.7L1557.8 801L1558 801.2L1558.2 801.5L1558.4 801.7L1558.6 801.9L1558.8 802.2L1559 802.4L1559.2 802.6L1559.5 802.9L1559.7 803.1L1559.9 803.3L1560.1 803.6L1560.3 803.8L1560.5 804L1560.7 804.3L1560.9 804.5L1561.1 804.7L1561.3 805L1561.5 805.2L1561.7 805.4L1561.9 805.7L1562.1 805.9L1562.3 806.1L1562.5 806.3L1562.7 806.6L1562.9 806.8L1563.1 807L1563.3 807.3L1563.5 807.5L1563.7 807.7L1564 807.9L1564.2 808.2L1564.4 808.4L1564.6 808.6L1564.8 808.8L1565 809L1565 809.1L1565.2 809.3L1565.4 809.5L1565.6 809.7L1565.8 809.9L1566 810.1L1566.2 810.4L1566.4 810.6L1566.6 810.8L1566.8 811L1567 811.2L1567.2 811.4L1567.4 811.7L1567.6 811.9L1567.8 812.1L1568 812.3L1568.3 812.5L1568.5 812.7L1568.7 812.9L1568.9 813.2L1569.1 813.4L1569.3 813.6L1569.5 813.8L1569.7 814L1569.9 814.2L1570.1 814.4L1570.3 814.6L1570.5 814.8L1570.7 815L1570.9 815.2L1571.1 815.4L1571.3 815.7L1571.5 815.9L1571.7 816.1L1571.9 816.3L1572.1 816.5L1572.3 816.7L1572.5 816.9L1572.8 817.1L1573 817.3L1573.2 817.5L1573.4 817.7L1573.6 817.9L1573.8 818.1L1574 818.3L1574.2 818.5L1574.4 818.7L1574.6 818.9L1574.8 819.1L1575 819.3L1575.2 819.5L1575.4 819.6L1575.6 819.8L1575.8 820L1576 820.2L1576.2 820.4L1576.4 820.6L1576.6 820.8L1576.8 821L1577.1 821.2L1577.3 821.4L1577.5 821.6L1577.7 821.8L1578.3 822.4L1579 823L1579.7 823.6L1580 823.8L1580.4 824.2L1581.1 824.8L1581.8 825.4L1582.4 826L1583.1 826.6L1583.8 827.2L1584.5 827.8L1585.2 828.3L1585.8 828.9L1586.5 829.5L1587.2 830L1587.9 830.6L1588.6 831.1L1589.3 831.6L1589.9 832.2L1590.6 832.7L1591.3 833.2L1592 833.7L1592.7 834.3L1593.3 834.8L1594 835.3L1594.7 835.8L1594.9 835.9L1595.4 836.3L1596.1 836.8L1596.8 837.3L1597.4 837.7L1598.1 838.2L1598.8 838.7L1599.5 839.2L1600.2 839.6L1600.8 840.1L1601.5 840.6L1602.2 841L1602.9 841.5L1603.6 841.9L1604.3 842.4L1604.9 842.8L1605.6 843.2L1606.3 843.6L1607 844.1L1607.7 844.5L1608.3 844.9L1609 845.3L1609.7 845.7L1609.8 845.8L1610.4 846.1L1611.1 846.5L1611.8 846.9L1612.4 847.3L1613.1 847.7L1613.8 848.1L1614.5 848.5L1615.2 848.8L1615.8 849.2L1616.5 849.6L1617.2 849.9L1617.9 850.3L1618.6 850.6L1619.2 851L1619.9 851.3L1620.6 851.7L1621.3 852L1622 852.4L1622.7 852.7L1623.3 853L1624 853.4L1624.7 853.7L1625.4 854L1626.1 854.3L1626.7 854.6L1627.4 855L1628.1 855.3L1628.8 855.6L1629.5 855.9L1630.2 856.2L1630.8 856.5L1631.5 856.8L1632.2 857.1L1632.9 857.3L1633.6 857.6L1634.2 857.9L1634.9 858.2L1635.6 858.5L1636.3 858.7L1637 859L1637.7 859.3L1638.3 859.5L1639 859.8L1639.7 860.1L1639.9 860.1L1640.4 860.3L1641.1 860.6L1641.7 860.8L1642.4 861.1L1643.1 861.3L1643.8 861.6L1644.5 861.8L1645.2 862.1L1645.8 862.3L1646.5 862.5L1647.2 862.8L1647.9 863L1648.6 863.2L1649.2 863.5L1649.9 863.7L1650.6 863.9L1651.3 864.1L1652 864.4L1652.7 864.6L1653.3 864.8L1654 865L1654.7 865.2L1655.4 865.4L1656.1 865.6L1656.7 865.8L1657.4 866L1658.1 866.2L1658.8 866.5L1659.5 866.7L1660.2 866.9L1660.8 867L1661.5 867.2L1662.2 867.4L1662.9 867.6L1663.6 867.8L1664.2 868L1664.9 868.2L1665.6 868.4L1666.3 868.6L1667 868.8L1667.6 868.9L1668.3 869.1L1669 869.3L1669.7 869.5L1670.4 869.7L1671.1 869.8L1671.7 870L1672.4 870.2L1673.1 870.4L1673.8 870.5L1674.5 870.7L1675.1 870.9L1675.8 871L1676.5 871.2L1677.2 871.4L1677.9 871.5L1678.6 871.7L1679.2 871.9L1679.9 872L1680 872.1L1680.6 872.2L1681.3 872.4L1682 872.5L1682.6 872.7L1683.3 872.8L1684 873L1684.7 873.2L1685.4 873.3L1686.1 873.5L1686.7 873.6L1687.4 873.8L1688.1 873.9L1688.8 874.1L1689.5 874.2L1690.1 874.4L1690.8 874.5L1691.5 874.7L1692.2 874.8L1692.9 875L1693.6 875.1L1694.2 875.3L1694.9 875.4L1695.6 875.6L1696.3 875.7L1697 875.8L1697.6 876L1698.3 876.1L1699 876.3L1699.7 876.4L1700.4 876.5L1701.1 876.7L1701.7 876.8L1702.4 877L1703.1 877.1L1703.8 877.2L1704.5 877.4L1705.1 877.5L1705.8 877.6L1706.5 877.8L1707.2 877.9L1707.9 878L1708.6 878.2L1709.2 878.3L1709.9 878.4L1710.6 878.5L1711.3 878.7L1712 878.8L1712.6 878.9L1713.3 879L1714 879.2L1714.7 879.3L1715.4 879.4L1716.1 879.5L1716.7 879.7L1717.4 879.8L1718.1 879.9L1718.8 880L1719.5 880.1L1720.1 880.2L1720.8 880.4L1721.5 880.5L1722.2 880.6L1722.9 880.7L1723.5 880.8L1724.2 880.9L1724.9 881.1L1725.6 881.2L1726.3 881.3L1727 881.4L1727.6 881.5L1728.3 881.6L1729 881.7L1729.7 881.8L1730.1 881.9L1730.4 881.9L1731 882L1731.7 882.1L1732.4 882.3L1733.1 882.4L1733.8 882.5L1734.5 882.6L1735.1 882.7L1735.8 882.8L1736.5 882.9L1737.2 883L1737.9 883.1L1738.5 883.2L1739.2 883.3L1739.9 883.4L1740.6 883.5L1741.3 883.6L1742 883.7L1742.6 883.8L1743.3 883.9L1744 884L1744.7 884.1L1745.4 884.1L1746 884.2L1746.7 884.3L1747.4 884.4L1748.1 884.5L1748.8 884.6L1749.5 884.7L1750.1 884.8L1750.8 884.9L1751.5 885L1752.2 885.1L1752.9 885.2L1753.5 885.2L1754.2 885.3L1754.9 885.4L1755.6 885.5L1756.3 885.6L1757 885.7L1757.6 885.8L1758.3 885.8L1759 885.9L1759.7 886L1760.4 886.1L1761 886.2L1761.7 886.3L1762.4 886.3L1763.1 886.4L1763.8 886.5L1764.5 886.6L1765.1 886.7L1765.8 886.7L1766.5 886.8L1767.2 886.9L1767.9 887L1768.5 887.1L1769.2 887.1L1769.9 887.2L1770.6 887.3L1771.3 887.4L1771.9 887.4L1772.6 887.5L1773.3 887.6L1774 887.7L1774.7 887.7L1775.4 887.8L1776 887.9L1776.7 888L1777.4 888L1778.1 888.1L1778.8 888.2L1779.4 888.2L1780.1 888.3L1780.8 888.4L1781.5 888.5L1782.2 888.5L1782.9 888.6L1783.5 888.7L1784.2 888.7L1784.9 888.8L1785.6 888.9L1786.3 888.9L1786.9 889L1787.6 889.1L1788.3 889.1L1789 889.2L1789.7 889.3L1790.4 889.3L1791 889.4L1791.7 889.5L1792.4 889.5L1793.1 889.6L1793.8 889.6L1794.4 889.7L1795.1 889.8L1795.8 889.8L1796.5 889.9L1797.2 890L1797.9 890L1798.5 890.1L1799.2 890.1L1799.9 890.2L1800.6 890.3L1801.3 890.3L1801.9 890.4L1802.6 890.4L1803.3 890.5L1804 890.5L1804.7 890.6L1805.4 890.7L1806 890.7L1806.7 890.8L1807.4 890.8L1808.1 890.9L1808.8 890.9L1809.4 891L1810.1 891.1L1810.8 891.1L1811.5 891.2L1812.2 891.2L1812.9 891.3L1813.5 891.3L1814.2 891.4L1814.9 891.4L1815.6 891.5L1816.3 891.5L1816.9 891.6L1817.6 891.6L1818.3 891.7L1819 891.7L1819.7 891.8L1820.3 891.9L1821 891.9L1821.7 892L1822.4 892L1823.1 892.1L1823.8 892.1L1824.4 892.2L1825.1 892.2L1825.8 892.2L1826.5 892.3L1827.2 892.3L1827.8 892.4L1828.5 892.4L1829.2 892.5L1829.9 892.5L1830.6 892.6L1831.3 892.6L1831.9 892.7L1832.6 892.7L1833.3 892.8L1834 892.8L1834.7 892.9L1835.3 892.9L1836 893L1836.7 893L1837.4 893L1838.1 893.1L1838.8 893.1L1839.4 893.2L1840.1 893.2L1840.8 893.3L1841.5 893.3L1842.2 893.3L1842.8 893.4L1843.5 893.4L1844.2 893.5L1844.9 893.5L1845.6 893.6L1846.3 893.6L1846.9 893.6L1847.6 893.7L1848.3 893.7L1849 893.8L1849.7 893.8L1850.3 893.9L1851 893.9L1851.7 893.9L1852.4 894L1853.1 894L1853.8 894.1L1854.4 894.1L1855.1 894.1L1855.8 894.2L1856.5 894.2L1857.2 894.2L1857.8 894.3L1858.5 894.3L1859.2 894.4L1859.9 894.4L1860.6 894.4L1861.3 894.5L1861.9 894.5L1862.6 894.5L1863.3 894.6L1864 894.6L1864.6 894.7L1864.7 894.7L1865.3 894.7L1866 894.7L1866.7 894.8L1867.4 894.8L1868.1 894.8L1868.7 894.9L1869.4 894.9L1870.1 894.9L1870.8 895L1871.5 895L1872.2 895.1L1872.8 895.1L1873.5 895.1L1874.2 895.2L1874.9 895.2L1875.6 895.2L1876.2 895.3L1876.9 895.3L1877.6 895.3L1878.3 895.4L1879 895.4L1879.7 895.4L1880.3 895.5L1881 895.5L1881.7 895.5L1882.4 895.6L1883.1 895.6L1883.7 895.6L1884.4 895.7L1885.1 895.7L1885.8 895.7L1886.5 895.7L1887.2 895.8L1887.8 895.8L1888.5 895.8L1889.2 895.9L1889.9 895.9L1890.6 895.9L1891.2 896L1891.9 896L1892.6 896L1893.3 896.1L1894 896.1L1894.7 896.1L1895.3 896.1L1896 896.2L1896.7 896.2L1897.4 896.2L1898.1 896.3L1898.7 896.3L1899.4 896.3L1900.1 896.4L1900.8 896.4L1901.5 896.4L1902.2 896.4L1902.8 896.5L1903.5 896.5L1904.2 896.5L1904.9 896.6L1905.6 896.6L1906.2 896.6L1906.9 896.6L1907.6 896.7L1908.3 896.7L1909 896.7L1909.7 896.8L1910.3 896.8L1911 896.8L1911.7 896.8L1912.4 896.9L1913.1 896.9L1913.7 896.9L1914.4 896.9L1915.1 897L1915.8 897L1916.5 897L1917.1 897.1L1917.8 897.1L1918.5 897.1L1919.2 897.1L1919.9 897.2L1920.6 897.2L1921.2 897.2L1921.9 897.2L1922.6 897.3L1923.3 897.3L1924 897.3L1924.6 897.3L1925.3 897.4L1926 897.4L1926.7 897.4L1927.4 897.4L1928.1 897.5L1928.7 897.5L1929.4 897.5L1930.1 897.5L1930.8 897.6L1931.5 897.6L1932.1 897.6L1932.8 897.6L1933.5 897.7L1934.2 897.7L1934.9 897.7L1935.6 897.7L1936.2 897.8L1936.9 897.8L1937.6 897.8L1938.3 897.8L1939 897.9L1939.6 897.9L1940.3 897.9L1941 897.9L1941.7 898L1942.4 898L1943.1 898L1943.7 898L1944.4 898.1L1945.1 898.1L1945.8 898.1L1946.5 898.1L1947.1 898.1L1947.8 898.2L1948.5 898.2L1949.2 898.2L1949.9 898.2L1950.6 898.3L1951.2 898.3L1951.9 898.3L1952.6 898.3L1953.3 898.4L1954 898.4L1954.6 898.4L1955.3 898.4L1956 898.5L1956.7 898.5L1957.4 898.5L1958.1 898.5L1958.7 898.5L1959.4 898.6L1960.1 898.6L1960.8 898.6L1961.5 898.6L1962.1 898.7L1962.8 898.7L1963.5 898.7L1964.2 898.7L1964.9 898.7L1965.5 898.8L1966.2 898.8L1966.9 898.8L1967.6 898.8L1968.3 898.9L1969 898.9L1969.6 898.9L1970.3 898.9L1971 898.9L1971.7 899L1972.4 899L1973 899L1973.7 899L1974.4 899.1L1975.1 899.1L1975.8 899.1L1976.5 899.1L1977.1 899.1L1977.8 899.2L1978.5 899.2L1979.2 899.2L1979.9 899.2L1980.5 899.3L1981.2 899.3L1981.9 899.3L1982.6 899.3L1983.3 899.3L1984 899.4L1984.6 899.4L1985.3 899.4L1986 899.4" fill="none" stroke="#8e0f4b" stroke-width="3.5" stroke-linejoin="round" stroke-linecap="round"/>
<path d="M1496 911.7L1496.2 907L1496.4 902.3L1496.6 897.6L1496.8 892.9L1497 888.2L1497.2 883.5L1497.4 878.8L1497.6 874.2L1497.8 869.5L1498 864.8L1498.3 860.1L1498.5 855.4L1498.7 850.7L1498.9 846L1499.1 841.3L1499.3 836.6L1499.5 831.9L1499.7 827.2L1499.7 826.7L1499.9 825.4L1500.1 823.9L1500.3 822.5L1500.5 821.2L1500.7 819.8L1500.9 818.5L1501.1 817.3L1501.3 816L1501.5 814.8L1501.7 813.6L1501.9 812.4L1502.1 811.3L1502.3 810.1L1502.5 809L1502.8 808L1502.9 807.4L1503 806.9L1503.2 805.8L1503.4 804.8L1503.6 803.8L1503.8 802.8L1504 801.8L1504.2 800.8L1504.4 799.9L1504.6 799L1504.8 798.1L1505 797.2L1505.2 796.3L1505.4 795.4L1505.6 794.6L1505.8 793.7L1506 792.9L1506.2 792.1L1506.4 791.3L1506.6 790.5L1506.8 789.7L1507.1 789L1507.3 788.2L1507.5 787.5L1507.7 786.8L1507.9 786.1L1508.1 785.4L1508.3 784.7L1508.5 784L1508.7 783.4L1508.9 782.7L1509.1 782.1L1509.3 781.5L1509.3 781.5L1509.5 780.9L1509.7 780.3L1509.9 779.7L1510.1 779.1L1510.3 778.6L1510.5 778L1510.7 777.5L1510.9 776.9L1511.1 776.4L1511.4 775.9L1511.6 775.4L1511.8 774.9L1512 774.5L1512.2 774L1512.4 773.5L1512.6 773.1L1512.8 772.7L1513 772.3L1513.2 771.8L1513.4 771.5L1513.6 771.1L1513.8 770.7L1514 770.3L1514.2 770L1514.4 769.6L1514.6 769.3L1514.8 769L1515 768.7L1515.2 768.4L1515.4 768.1L1515.6 767.9L1515.6 767.8L1515.9 767.6L1516.1 767.3L1516.3 767.1L1516.5 766.8L1516.7 766.6L1516.9 766.4L1517.1 766.2L1517.3 766L1517.5 765.8L1517.7 765.6L1517.9 765.4L1518.1 765.3L1518.3 765.1L1518.5 765L1518.7 764.9L1518.9 764.7L1519.1 764.6L1519.3 764.5L1519.5 764.4L1519.7 764.3L1519.9 764.2L1520.2 764.1L1520.4 764.1L1520.6 764L1520.8 764L1521 763.9L1521.2 763.9L1521.4 763.8L1521.6 763.8L1521.8 763.8L1522 763.8L1522.2 763.8L1522.4 763.8L1522.6 763.8L1522.8 763.8L1523 763.8L1523.2 763.9L1523.4 763.9L1523.6 763.9L1523.8 764L1523.8 764L1524 764L1524.2 764.1L1524.5 764.2L1524.7 764.2L1524.9 764.3L1525.1 764.4L1525.3 764.5L1525.5 764.6L1525.7 764.7L1525.9 764.8L1526.1 764.9L1526.3 765L1526.5 765.1L1526.7 765.2L1526.9 765.4L1527.1 765.5L1527.3 765.6L1527.5 765.8L1527.7 765.9L1527.9 766L1528.1 766.2L1528.3 766.4L1528.5 766.5L1528.7 766.7L1529 766.8L1529.2 767L1529.4 767.2L1529.6 767.3L1529.8 767.5L1530 767.7L1530.2 767.9L1530.4 768.1L1530.6 768.3L1530.8 768.5L1531 768.7L1531.2 768.9L1531.4 769.1L1531.6 769.3L1531.8 769.5L1532 769.7L1532.2 769.9L1532.4 770.1L1532.6 770.3L1532.8 770.5L1533 770.7L1533.3 771L1533.5 771.2L1533.7 771.4L1533.9 771.6L1534.1 771.9L1534.3 772.1L1534.5 772.3L1534.7 772.5L1534.9 772.8L1535 772.9L1535.1 773L1535.3 773.2L1535.5 773.5L1535.7 773.7L1535.9 774L1536.1 774.2L1536.3 774.4L1536.5 774.7L1536.7 774.9L1536.9 775.2L1537.1 775.4L1537.3 775.7L1537.5 775.9L1537.8 776.2L1538 776.4L1538.2 776.7L1538.4 776.9L1538.6 777.2L1538.8 777.4L1539 777.7L1539.2 777.9L1539.4 778.2L1539.6 778.4L1539.8 778.7L1540 779L1540.2 779.2L1540.4 779.5L1540.6 779.7L1540.8 780L1541 780.3L1541.2 780.5L1541.4 780.8L1541.6 781L1541.8 781.3L1542.1 781.6L1542.3 781.8L1542.5 782.1L1542.7 782.4L1542.9 782.6L1543.1 782.9L1543.3 783.2L1543.5 783.4L1543.7 783.7L1543.9 783.9L1544.1 784.2L1544.3 784.5L1544.5 784.7L1544.7 785L1544.9 785.3L1545.1 785.5L1545.3 785.8L1545.5 786.1L1545.7 786.3L1545.9 786.6L1546.1 786.9L1546.4 787.1L1546.6 787.4L1546.8 787.7L1547 787.9L1547.2 788.2L1547.4 788.5L1547.6 788.7L1547.8 789L1548 789.3L1548.2 789.5L1548.4 789.8L1548.6 790.1L1548.8 790.3L1549 790.6L1549.2 790.9L1549.4 791.1L1549.6 791.4L1549.8 791.7L1550 791.9L1550.1 792L1550.2 792.2L1550.4 792.5L1550.6 792.7L1550.9 793L1551.1 793.2L1551.3 793.5L1551.5 793.8L1551.7 794L1551.9 794.3L1552.1 794.5L1552.3 794.8L1552.5 795.1L1552.7 795.3L1552.9 795.6L1553.1 795.8L1553.3 796.1L1553.5 796.4L1553.7 796.6L1553.9 796.9L1554.1 797.1L1554.3 797.4L1554.5 797.6L1554.7 797.9L1554.9 798.1L1555.2 798.4L1555.4 798.7L1555.6 798.9L1555.8 799.2L1556 799.4L1556.2 799.7L1556.4 799.9L1556.6 800.2L1556.8 800.4L1557 800.7L1557.2 800.9L1557.4 801.2L1557.6 801.4L1557.8 801.7L1558 801.9L1558.2 802.2L1558.4 802.4L1558.6 802.7L1558.8 802.9L1559 803.1L1559.2 803.4L1559.5 803.6L1559.7 803.9L1559.9 804.1L1560.1 804.4L1560.3 804.6L1560.5 804.8L1560.7 805.1L1560.9 805.3L1561.1 805.6L1561.3 805.8L1561.5 806.1L1561.7 806.3L1561.9 806.5L1562.1 806.8L1562.3 807L1562.5 807.2L1562.7 807.5L1562.9 807.7L1563.1 807.9L1563.3 808.2L1563.5 808.4L1563.7 808.6L1564 808.9L1564.2 809.1L1564.4 809.3L1564.6 809.6L1564.8 809.8L1565 810L1565 810.1L1565.2 810.3L1565.4 810.5L1565.6 810.7L1565.8 810.9L1566 811.2L1566.2 811.4L1566.4 811.6L1566.6 811.8L1566.8 812.1L1567 812.3L1567.2 812.5L1567.4 812.7L1567.6 812.9L1567.8 813.2L1568 813.4L1568.3 813.6L1568.5 813.8L1568.7 814L1568.9 814.3L1569.1 814.5L1569.3 814.7L1569.5 814.9L1569.7 815.1L1569.9 815.3L1570.1 815.6L1570.3 815.8L1570.5 816L1570.7 816.2L1570.9 816.4L1571.1 816.6L1571.3 816.8L1571.5 817L1571.7 817.3L1571.9 817.5L1572.1 817.7L1572.3 817.9L1572.5 818.1L1572.8 818.3L1573 818.5L1573.2 818.7L1573.4 818.9L1573.6 819.1L1573.8 819.3L1574 819.5L1574.2 819.7L1574.4 819.9L1574.6 820.1L1574.8 820.3L1575 820.5L1575.2 820.7L1575.4 820.9L1575.6 821.1L1575.8 821.3L1576 821.5L1576.2 821.7L1576.4 821.9L1576.6 822.1L1576.8 822.3L1577.1 822.5L1577.3 822.7L1577.5 822.9L1577.7 823.1L1578.3 823.7L1579 824.4L1579.7 825L1580 825.2L1580.4 825.6L1581.1 826.2L1581.8 826.8L1582.4 827.4L1583.1 828L1583.8 828.6L1584.5 829.2L1585.2 829.8L1585.8 830.4L1586.5 830.9L1587.2 831.5L1587.9 832.1L1588.6 832.6L1589.3 833.2L1589.9 833.7L1590.6 834.3L1591.3 834.8L1592 835.3L1592.7 835.8L1593.3 836.4L1594 836.9L1594.7 837.4L1594.9 837.5L1595.4 837.9L1596.1 838.4L1596.8 838.9L1597.4 839.4L1598.1 839.9L1598.8 840.4L1599.5 840.9L1600.2 841.3L1600.8 841.8L1601.5 842.3L1602.2 842.8L1602.9 843.2L1603.6 843.7L1604.3 844.1L1604.9 844.6L1605.6 845L1606.3 845.5L1607 845.9L1607.7 846.3L1608.3 846.8L1609 847.2L1609.7 847.6L1609.8 847.7L1610.4 848L1611.1 848.4L1611.8 848.8L1612.4 849.3L1613.1 849.7L1613.8 850.1L1614.5 850.4L1615.2 850.8L1615.8 851.2L1616.5 851.6L1617.2 852L1617.9 852.4L1618.6 852.7L1619.2 853.1L1619.9 853.5L1620.6 853.8L1621.3 854.2L1622 854.5L1622.7 854.9L1623.3 855.2L1624 855.6L1624.7 855.9L1625.4 856.3L1626.1 856.6L1626.7 856.9L1627.4 857.3L1628.1 857.6L1628.8 857.9L1629.5 858.2L1630.2 858.5L1630.8 858.9L1631.5 859.2L1632.2 859.5L1632.9 859.8L1633.6 860.1L1634.2 860.4L1634.9 860.7L1635.6 861L1636.3 861.3L1637 861.6L1637.7 861.8L1638.3 862.1L1639 862.4L1639.7 862.7L1639.9 862.8L1640.4 863L1641.1 863.2L1641.7 863.5L1642.4 863.8L1643.1 864L1643.8 864.3L1644.5 864.6L1645.2 864.8L1645.8 865.1L1646.5 865.3L1647.2 865.6L1647.9 865.8L1648.6 866.1L1649.2 866.3L1649.9 866.6L1650.6 866.8L1651.3 867.1L1652 867.3L1652.7 867.5L1653.3 867.8L1654 868L1654.7 868.2L1655.4 868.5L1656.1 868.7L1656.7 868.9L1657.4 869.1L1658.1 869.4L1658.8 869.6L1659.5 869.8L1660.2 870L1660.8 870.2L1661.5 870.4L1662.2 870.6L1662.9 870.9L1663.6 871.1L1664.2 871.3L1664.9 871.5L1665.6 871.7L1666.3 871.9L1667 872.1L1667.6 872.3L1668.3 872.5L1669 872.7L1669.7 872.9L1670.4 873.1L1671.1 873.3L1671.7 873.4L1672.4 873.6L1673.1 873.8L1673.8 874L1674.5 874.2L1675.1 874.4L1675.8 874.6L1676.5 874.7L1677.2 874.9L1677.9 875.1L1678.6 875.3L1679.2 875.5L1679.9 875.6L1680 875.7L1680.6 875.8L1681.3 876L1682 876.2L1682.6 876.3L1683.3 876.5L1684 876.7L1684.7 876.8L1685.4 877L1686.1 877.2L1686.7 877.3L1687.4 877.5L1688.1 877.7L1688.8 877.8L1689.5 878L1690.1 878.2L1690.8 878.3L1691.5 878.5L1692.2 878.6L1692.9 878.8L1693.6 878.9L1694.2 879.1L1694.9 879.3L1695.6 879.4L1696.3 879.6L1697 879.7L1697.6 879.9L1698.3 880L1699 880.2L1699.7 880.3L1700.4 880.4L1701.1 880.6L1701.7 880.7L1702.4 880.9L1703.1 881L1703.8 881.2L1704.5 881.3L1705.1 881.4L1705.8 881.6L1706.5 881.7L1707.2 881.9L1707.9 882L1708.6 882.1L1709.2 882.3L1709.9 882.4L1710.6 882.5L1711.3 882.7L1712 882.8L1712.6 882.9L1713.3 883.1L1714 883.2L1714.7 883.3L1715.4 883.4L1716.1 883.6L1716.7 883.7L1717.4 883.8L1718.1 883.9L1718.8 884.1L1719.5 884.2L1720.1 884.3L1720.8 884.4L1721.5 884.5L1722.2 884.7L1722.9 884.8L1723.5 884.9L1724.2 885L1724.9 885.1L1725.6 885.2L1726.3 885.4L1727 885.5L1727.6 885.6L1728.3 885.7L1729 885.8L1729.7 885.9L1730.1 886L1730.4 886L1731 886.1L1731.7 886.2L1732.4 886.3L1733.1 886.5L1733.8 886.6L1734.5 886.7L1735.1 886.8L1735.8 886.9L1736.5 887L1737.2 887.1L1737.9 887.2L1738.5 887.3L1739.2 887.4L1739.9 887.5L1740.6 887.6L1741.3 887.7L1742 887.8L1742.6 887.9L1743.3 888L1744 888.1L1744.7 888.2L1745.4 888.3L1746 888.3L1746.7 888.4L1747.4 888.5L1748.1 888.6L1748.8 888.7L1749.5 888.8L1750.1 888.9L1750.8 889L1751.5 889.1L1752.2 889.2L1752.9 889.2L1753.5 889.3L1754.2 889.4L1754.9 889.5L1755.6 889.6L1756.3 889.7L1757 889.8L1757.6 889.8L1758.3 889.9L1759 890L1759.7 890.1L1760.4 890.2L1761 890.3L1761.7 890.3L1762.4 890.4L1763.1 890.5L1763.8 890.6L1764.5 890.6L1765.1 890.7L1765.8 890.8L1766.5 890.9L1767.2 891L1767.9 891L1768.5 891.1L1769.2 891.2L1769.9 891.3L1770.6 891.3L1771.3 891.4L1771.9 891.5L1772.6 891.5L1773.3 891.6L1774 891.7L1774.7 891.8L1775.4 891.8L1776 891.9L1776.7 892L1777.4 892L1778.1 892.1L1778.8 892.2L1779.4 892.2L1780.1 892.3L1780.8 892.4L1781.5 892.4L1782.2 892.5L1782.9 892.6L1783.5 892.6L1784.2 892.7L1784.9 892.8L1785.6 892.8L1786.3 892.9L1786.9 893L1787.6 893L1788.3 893.1L1789 893.1L1789.7 893.2L1790.4 893.3L1791 893.3L1791.7 893.4L1792.4 893.4L1793.1 893.5L1793.8 893.6L1794.4 893.6L1795.1 893.7L1795.8 893.7L1796.5 893.8L1797.2 893.9L1797.9 893.9L1798.5 894L1799.2 894L1799.9 894.1L1800.6 894.1L1801.3 894.2L1801.9 894.2L1802.6 894.3L1803.3 894.4L1804 894.4L1804.7 894.5L1805.4 894.5L1806 894.6L1806.7 894.6L1807.4 894.7L1808.1 894.7L1808.8 894.8L1809.4 894.8L1810.1 894.9L1810.8 894.9L1811.5 895L1812.2 895L1812.9 895.1L1813.5 895.1L1814.2 895.2L1814.9 895.2L1815.6 895.3L1816.3 895.3L1816.9 895.4L1817.6 895.4L1818.3 895.5L1819 895.5L1819.7 895.6L1820.3 895.6L1821 895.6L1821.7 895.7L1822.4 895.7L1823.1 895.8L1823.8 895.8L1824.4 895.9L1825.1 895.9L1825.8 896L1826.5 896L1827.2 896L1827.8 896.1L1828.5 896.1L1829.2 896.2L1829.9 896.2L1830.6 896.3L1831.3 896.3L1831.9 896.3L1832.6 896.4L1833.3 896.4L1834 896.5L1834.7 896.5L1835.3 896.6L1836 896.6L1836.7 896.6L1837.4 896.7L1838.1 896.7L1838.8 896.8L1839.4 896.8L1840.1 896.8L1840.8 896.9L1841.5 896.9L1842.2 896.9L1842.8 897L1843.5 897L1844.2 897.1L1844.9 897.1L1845.6 897.1L1846.3 897.2L1846.9 897.2L1847.6 897.2L1848.3 897.3L1849 897.3L1849.7 897.4L1850.3 897.4L1851 897.4L1851.7 897.5L1852.4 897.5L1853.1 897.5L1853.8 897.6L1854.4 897.6L1855.1 897.6L1855.8 897.7L1856.5 897.7L1857.2 897.7L1857.8 897.8L1858.5 897.8L1859.2 897.8L1859.9 897.9L1860.6 897.9L1861.3 898L1861.9 898L1862.6 898L1863.3 898.1L1864 898.1L1864.6 898.1L1864.7 898.1L1865.3 898.1L1866 898.2L1866.7 898.2L1867.4 898.2L1868.1 898.3L1868.7 898.3L1869.4 898.3L1870.1 898.4L1870.8 898.4L1871.5 898.4L1872.2 898.5L1872.8 898.5L1873.5 898.5L1874.2 898.6L1874.9 898.6L1875.6 898.6L1876.2 898.6L1876.9 898.7L1877.6 898.7L1878.3 898.7L1879 898.8L1879.7 898.8L1880.3 898.8L1881 898.9L1881.7 898.9L1882.4 898.9L1883.1 898.9L1883.7 899L1884.4 899L1885.1 899L1885.8 899.1L1886.5 899.1L1887.2 899.1L1887.8 899.1L1888.5 899.2L1889.2 899.2L1889.9 899.2L1890.6 899.3L1891.2 899.3L1891.9 899.3L1892.6 899.3L1893.3 899.4L1894 899.4L1894.7 899.4L1895.3 899.4L1896 899.5L1896.7 899.5L1897.4 899.5L1898.1 899.6L1898.7 899.6L1899.4 899.6L1900.1 899.6L1900.8 899.7L1901.5 899.7L1902.2 899.7L1902.8 899.7L1903.5 899.8L1904.2 899.8L1904.9 899.8L1905.6 899.8L1906.2 899.9L1906.9 899.9L1907.6 899.9L1908.3 899.9L1909 900L1909.7 900L1910.3 900L1911 900L1911.7 900.1L1912.4 900.1L1913.1 900.1L1913.7 900.1L1914.4 900.2L1915.1 900.2L1915.8 900.2L1916.5 900.2L1917.1 900.3L1917.8 900.3L1918.5 900.3L1919.2 900.3L1919.9 900.4L1920.6 900.4L1921.2 900.4L1921.9 900.4L1922.6 900.4L1923.3 900.5L1924 900.5L1924.6 900.5L1925.3 900.5L1926 900.6L1926.7 900.6L1927.4 900.6L1928.1 900.6L1928.7 900.7L1929.4 900.7L1930.1 900.7L1930.8 900.7L1931.5 900.7L1932.1 900.8L1932.8 900.8L1933.5 900.8L1934.2 900.8L1934.9 900.9L1935.6 900.9L1936.2 900.9L1936.9 900.9L1937.6 900.9L1938.3 901L1939 901L1939.6 901L1940.3 901L1941 901.1L1941.7 901.1L1942.4 901.1L1943.1 901.1L1943.7 901.1L1944.4 901.2L1945.1 901.2L1945.8 901.2L1946.5 901.2L1947.1 901.2L1947.8 901.3L1948.5 901.3L1949.2 901.3L1949.9 901.3L1950.6 901.4L1951.2 901.4L1951.9 901.4L1952.6 901.4L1953.3 901.4L1954 901.5L1954.6 901.5L1955.3 901.5L1956 901.5L1956.7 901.5L1957.4 901.6L1958.1 901.6L1958.7 901.6L1959.4 901.6L1960.1 901.6L1960.8 901.7L1961.5 901.7L1962.1 901.7L1962.8 901.7L1963.5 901.7L1964.2 901.8L1964.9 901.8L1965.5 901.8L1966.2 901.8L1966.9 901.8L1967.6 901.9L1968.3 901.9L1969 901.9L1969.6 901.9L1970.3 901.9L1971 902L1971.7 902L1972.4 902L1973 902L1973.7 902L1974.4 902.1L1975.1 902.1L1975.8 902.1L1976.5 902.1L1977.1 902.1L1977.8 902.2L1978.5 902.2L1979.2 902.2L1979.9 902.2L1980.5 902.2L1981.2 902.3L1981.9 902.3L1982.6 902.3L1983.3 902.3L1984 902.3L1984.6 902.4L1985.3 902.4L1986 902.4" fill="none" stroke="#f39104" stroke-width="3.5" stroke-linejoin="round" stroke-linecap="round"/>
<g stroke="#000" stroke-width="1.5" fill="none" stroke-linecap="butt"><path d="M115.3 67H604.5V393.4H115.3Z"/><path d="M115.3 67V54"/><path d="M115.3 393.4V406.4"/><path d="M278.4 67V54"/><path d="M278.4 393.4V406.4"/><path d="M441.4 67V54"/><path d="M441.4 393.4V406.4"/><path d="M604.5 67V54"/><path d="M604.5 393.4V406.4"/><path d="M115.3 393.4H102.3"/><path d="M604.5 393.4H617.5"/><path d="M115.3 328.1H102.3"/><path d="M604.5 328.1H617.5"/><path d="M115.3 262.8H102.3"/><path d="M604.5 262.8H617.5"/><path d="M115.3 197.6H102.3"/><path d="M604.5 197.6H617.5"/><path d="M115.3 132.3H102.3"/><path d="M604.5 132.3H617.5"/><path d="M115.3 67H102.3"/><path d="M604.5 67H617.5"/></g>
<g font-family='"Liberation Sans", Arial, Helvetica, sans-serif' font-size="24.5" fill="#000"><text transform="translate(100.80 401.40) scale(1 1.04)" text-anchor="end">0.6</text><text transform="translate(100.80 336.12) scale(1 1.04)" text-anchor="end">0.7</text><text transform="translate(100.80 270.84) scale(1 1.04)" text-anchor="end">0.8</text><text transform="translate(100.80 205.56) scale(1 1.04)" text-anchor="end">0.9</text><text transform="translate(100.80 140.28) scale(1 1.04)" text-anchor="end">1.0</text><text transform="translate(100.80 75.00) scale(1 1.04)" text-anchor="end">1.1</text><text transform="translate(115.30 430.20) scale(1 1.04)" text-anchor="middle">0</text><text transform="translate(279.47 430.20) scale(1 1.04)" text-anchor="middle">1</text><text transform="translate(441.43 430.20) scale(1 1.04)" text-anchor="middle">2</text><text transform="translate(604.50 430.20) scale(1 1.04)" text-anchor="middle">3</text></g>
<g stroke="#000" stroke-width="1.5" fill="none" stroke-linecap="butt"><path d="M818.1 67H1307.2V393.5H818.1Z"/><path d="M818.1 67V54"/><path d="M818.1 393.5V406.5"/><path d="M981.1 67V54"/><path d="M981.1 393.5V406.5"/><path d="M1144.2 67V54"/><path d="M1144.2 393.5V406.5"/><path d="M1307.2 67V54"/><path d="M1307.2 393.5V406.5"/><path d="M818.1 393.5H805.1"/><path d="M1307.2 393.5H1320.2"/><path d="M818.1 331.4H805.1"/><path d="M1307.2 331.4H1320.2"/><path d="M818.1 269.2H805.1"/><path d="M1307.2 269.2H1320.2"/><path d="M818.1 207H805.1"/><path d="M1307.2 207H1320.2"/><path d="M818.1 144.9H805.1"/><path d="M1307.2 144.9H1320.2"/><path d="M818.1 82.7H805.1"/><path d="M1307.2 82.7H1320.2"/></g>
<g font-family='"Liberation Sans", Arial, Helvetica, sans-serif' font-size="24.5" fill="#000"><text transform="translate(803.60 401.50) scale(1 1.04)" text-anchor="end">0.6</text><text transform="translate(803.60 339.35) scale(1 1.04)" text-anchor="end">0.7</text><text transform="translate(803.60 277.20) scale(1 1.04)" text-anchor="end">0.8</text><text transform="translate(803.60 215.05) scale(1 1.04)" text-anchor="end">0.9</text><text transform="translate(803.60 152.90) scale(1 1.04)" text-anchor="end">1.0</text><text transform="translate(803.60 90.75) scale(1 1.04)" text-anchor="end">1.1</text><text transform="translate(818.10 430.30) scale(1 1.04)" text-anchor="middle">0</text><text transform="translate(982.23 430.30) scale(1 1.04)" text-anchor="middle">1</text><text transform="translate(1144.17 430.30) scale(1 1.04)" text-anchor="middle">2</text><text transform="translate(1307.20 430.30) scale(1 1.04)" text-anchor="middle">3</text></g>
<g stroke="#000" stroke-width="1.5" fill="none" stroke-linecap="butt"><path d="M1496 66.7H1986V393.5H1496Z"/><path d="M1496 66.7V53.7"/><path d="M1496 393.5V406.5"/><path d="M1659.3 66.7V53.7"/><path d="M1659.3 393.5V406.5"/><path d="M1822.7 66.7V53.7"/><path d="M1822.7 393.5V406.5"/><path d="M1986 66.7V53.7"/><path d="M1986 393.5V406.5"/><path d="M1496 393.5H1483"/><path d="M1986 393.5H1999"/><path d="M1496 300.1H1483"/><path d="M1986 300.1H1999"/><path d="M1496 206.8H1483"/><path d="M1986 206.8H1999"/><path d="M1496 113.4H1483"/><path d="M1986 113.4H1999"/></g>
<g font-family='"Liberation Sans", Arial, Helvetica, sans-serif' font-size="24.5" fill="#000"><text transform="translate(1481.50 401.50) scale(1 1.04)" text-anchor="end">0.0</text><text transform="translate(1481.50 308.13) scale(1 1.04)" text-anchor="end">0.1</text><text transform="translate(1481.50 214.76) scale(1 1.04)" text-anchor="end">0.2</text><text transform="translate(1481.50 121.39) scale(1 1.04)" text-anchor="end">0.3</text><text transform="translate(1496.00 430.30) scale(1 1.04)" text-anchor="middle">0</text><text transform="translate(1660.43 430.30) scale(1 1.04)" text-anchor="middle">1</text><text transform="translate(1822.67 430.30) scale(1 1.04)" text-anchor="middle">2</text><text transform="translate(1986.00 430.30) scale(1 1.04)" text-anchor="middle">3</text></g>
<g stroke="#000" stroke-width="1.5" fill="none" stroke-linecap="butt"><path d="M115.2 586H604.3V912.2H115.2Z"/><path d="M115.2 586V573"/><path d="M115.2 912.2V925.2"/><path d="M278.2 586V573"/><path d="M278.2 912.2V925.2"/><path d="M441.3 586V573"/><path d="M441.3 912.2V925.2"/><path d="M604.3 586V573"/><path d="M604.3 912.2V925.2"/><path d="M115.2 912.2H102.2"/><path d="M604.3 912.2H617.3"/><path d="M115.2 803.5H102.2"/><path d="M604.3 803.5H617.3"/><path d="M115.2 694.7H102.2"/><path d="M604.3 694.7H617.3"/><path d="M115.2 586H102.2"/><path d="M604.3 586H617.3"/></g>
<g font-family='"Liberation Sans", Arial, Helvetica, sans-serif' font-size="24.5" fill="#000"><text transform="translate(100.70 920.20) scale(1 1.04)" text-anchor="end">0.6</text><text transform="translate(100.70 811.47) scale(1 1.04)" text-anchor="end">0.8</text><text transform="translate(100.70 702.73) scale(1 1.04)" text-anchor="end">1.0</text><text transform="translate(100.70 594.00) scale(1 1.04)" text-anchor="end">1.2</text><text transform="translate(115.20 949.00) scale(1 1.04)" text-anchor="middle">0</text><text transform="translate(279.33 949.00) scale(1 1.04)" text-anchor="middle">1</text><text transform="translate(441.27 949.00) scale(1 1.04)" text-anchor="middle">2</text><text transform="translate(604.30 949.00) scale(1 1.04)" text-anchor="middle">3</text></g>
<g stroke="#000" stroke-width="1.5" fill="none" stroke-linecap="butt"><path d="M820.2 586H1309.5V912H820.2Z"/><path d="M820.2 586V573"/><path d="M820.2 912V925"/><path d="M983.3 586V573"/><path d="M983.3 912V925"/><path d="M1146.4 586V573"/><path d="M1146.4 912V925"/><path d="M1309.5 586V573"/><path d="M1309.5 912V925"/><path d="M820.2 868.5H807.2"/><path d="M1309.5 868.5H1322.5"/><path d="M820.2 781.6H807.2"/><path d="M1309.5 781.6H1322.5"/><path d="M820.2 694.7H807.2"/><path d="M1309.5 694.7H1322.5"/><path d="M820.2 607.7H807.2"/><path d="M1309.5 607.7H1322.5"/></g>
<g font-family='"Liberation Sans", Arial, Helvetica, sans-serif' font-size="24.5" fill="#000"><text transform="translate(805.70 876.53) scale(1 1.04)" text-anchor="end">0.8</text><text transform="translate(805.70 789.60) scale(1 1.04)" text-anchor="end">1.0</text><text transform="translate(805.70 702.66) scale(1 1.04)" text-anchor="end">1.2</text><text transform="translate(805.70 615.73) scale(1 1.04)" text-anchor="end">1.4</text><text transform="translate(820.20 948.80) scale(1 1.04)" text-anchor="middle">0</text><text transform="translate(984.40 948.80) scale(1 1.04)" text-anchor="middle">1</text><text transform="translate(1146.40 948.80) scale(1 1.04)" text-anchor="middle">2</text><text transform="translate(1309.50 948.80) scale(1 1.04)" text-anchor="middle">3</text></g>
<g stroke="#000" stroke-width="1.5" fill="none" stroke-linecap="butt"><path d="M1496 585.8H1986V911.7H1496Z"/><path d="M1496 585.8V572.8"/><path d="M1496 911.7V924.7"/><path d="M1659.3 585.8V572.8"/><path d="M1659.3 911.7V924.7"/><path d="M1822.7 585.8V572.8"/><path d="M1822.7 911.7V924.7"/><path d="M1986 585.8V572.8"/><path d="M1986 911.7V924.7"/><path d="M1496 911.7H1483"/><path d="M1986 911.7H1999"/><path d="M1496 818.6H1483"/><path d="M1986 818.6H1999"/><path d="M1496 725.5H1483"/><path d="M1986 725.5H1999"/><path d="M1496 632.4H1483"/><path d="M1986 632.4H1999"/></g>
<g font-family='"Liberation Sans", Arial, Helvetica, sans-serif' font-size="24.5" fill="#000"><text transform="translate(1481.50 919.70) scale(1 1.04)" text-anchor="end">0.0</text><text transform="translate(1481.50 826.59) scale(1 1.04)" text-anchor="end">0.1</text><text transform="translate(1481.50 733.47) scale(1 1.04)" text-anchor="end">0.2</text><text transform="translate(1481.50 640.36) scale(1 1.04)" text-anchor="end">0.3</text><text transform="translate(1496.00 948.50) scale(1 1.04)" text-anchor="middle">0</text><text transform="translate(1660.43 948.50) scale(1 1.04)" text-anchor="middle">1</text><text transform="translate(1822.67 948.50) scale(1 1.04)" text-anchor="middle">2</text><text transform="translate(1986.00 948.50) scale(1 1.04)" text-anchor="middle">3</text></g>
<text x="2.66" y="37.90" font-size="52.5" text-anchor="start" font-weight="bold" fill="#262626">a</text>
<text x="690.64" y="37.80" font-size="52.5" text-anchor="start" font-weight="bold" fill="#262626">b</text>
<text x="1395.65" y="37.90" font-size="52.5" text-anchor="start" font-weight="bold" fill="#262626">c</text>
<text x="-1.85" y="572.70" font-size="52.5" text-anchor="start" font-weight="bold" fill="#262626">d</text>
<text x="695.05" y="572.90" font-size="52.5" text-anchor="start" font-weight="bold" fill="#262626">e</text>
<text x="1399.50" y="572.70" font-size="52.5" text-anchor="start" font-weight="bold" fill="#262626">f</text>
<text transform="translate(301.34 44.30) scale(1 1.041)" font-size="48.0" text-anchor="start" font-weight="normal" fill="#262626"><tspan dx="2.3">1</tspan><tspan dx="-2.3"> mW</tspan></text>
<text transform="translate(998.74 45.60) scale(1 1.041)" font-size="48.0" text-anchor="start" font-weight="normal" fill="#262626">3 mW</text>
<text transform="translate(1699.84 44.90) scale(1 1.041)" font-size="48.0" text-anchor="start" font-weight="normal" fill="#262626"><tspan dx="2.3">1</tspan><tspan dx="-2.3"> mW</tspan></text>
<text transform="translate(301.74 562.40) scale(1 1.041)" font-size="48.0" text-anchor="start" font-weight="normal" fill="#262626"><tspan dx="2.3">1</tspan><tspan dx="-2.3"> mW</tspan></text>
<text transform="translate(998.74 562.30) scale(1 1.041)" font-size="48.0" text-anchor="start" font-weight="normal" fill="#262626">3 mW</text>
<text transform="translate(1699.84 557.90) scale(1 1.041)" font-size="48.0" text-anchor="start" font-weight="normal" fill="#262626">3 mW</text>
<g fill="#000">
<text transform="translate(294.60 474.60) scale(1 1.040)" font-size="31.1" text-anchor="start" font-weight="normal" fill="#000">Time (µs)</text>
<text transform="translate(1005.70 474.80) scale(1 1.040)" font-size="31.1" text-anchor="start" font-weight="normal" fill="#000">Time (µs)</text>
<text transform="translate(1602.13 474.80) scale(1 1.040)" font-size="31.1" text-anchor="start" font-weight="normal" fill="#000">Integration time (µs)</text>
<text transform="translate(300.30 993.80) scale(1 1.040)" font-size="31.1" text-anchor="start" font-weight="normal" fill="#000">Time (µs)</text>
<text transform="translate(1005.70 993.60) scale(1 1.040)" font-size="31.1" text-anchor="start" font-weight="normal" fill="#000">Time (µs)</text>
<text transform="translate(1602.13 993.80) scale(1 1.040)" font-size="31.1" text-anchor="start" font-weight="normal" fill="#000">Integration time (µs)</text>
<text transform="translate(52.00 390.52) rotate(-90) scale(1 1.040)" font-size="30.75">Normalized PL intensity</text>
<text transform="translate(754.80 390.22) rotate(-90) scale(1 1.040)" font-size="30.75">Normalized PL intensity</text>
<text transform="translate(1434.80 287.47) rotate(-90) scale(1 1.040)" font-size="31.0">Contrast</text>
<text transform="translate(47.60 878.12) rotate(-90) scale(1 1.040)" font-size="30.75">Normalized current</text>
<text transform="translate(757.50 877.92) rotate(-90) scale(1 1.040)" font-size="30.75">Normalized current</text>
<text transform="translate(1435.00 806.57) rotate(-90) scale(1 1.040)" font-size="31.0">Contrast</text>
</g>
<g fill="#000" font-size="26.4">
<path d="M470.10 266.80H503.50" stroke="#000000" stroke-width="4.0" stroke-linecap="round"/>
<text transform="translate(523.60 276.10) scale(1 1.030)" font-size="26.4" text-anchor="start" font-weight="normal" fill="#000">|0,1&gt;</text>
<path d="M469.85 302.70H503.75" stroke="#ad3340" stroke-width="3.5" stroke-linecap="round"/>
<text transform="translate(523.60 312.00) scale(1 1.030)" font-size="26.4" text-anchor="start" font-weight="normal" fill="#000">|0,0&gt;</text>
<path d="M469.85 339.90H503.75" stroke="#5a934c" stroke-width="3.5" stroke-linecap="round"/>
<text transform="translate(523.60 349.20) scale(1 1.030)" font-size="26.4" text-anchor="start" font-weight="normal" fill="#000">|-1,1&gt;</text>
<path d="M468.35 375.00H502.25" stroke="#f39104" stroke-width="3.5" stroke-linecap="round"/>
<text transform="translate(522.40 384.30) scale(1 1.030)" font-size="26.4" text-anchor="start" font-weight="normal" fill="#000">|-1,0&gt;</text>
<path d="M1173.20 268.20H1206.30" stroke="#000000" stroke-width="4.0" stroke-linecap="round"/>
<text transform="translate(1227.00 277.50) scale(1 1.030)" font-size="26.4" text-anchor="start" font-weight="normal" fill="#000">|0,1&gt;</text>
<path d="M1172.95 304.30H1206.55" stroke="#ad3340" stroke-width="3.5" stroke-linecap="round"/>
<text transform="translate(1227.00 313.60) scale(1 1.030)" font-size="26.4" text-anchor="start" font-weight="normal" fill="#000">|0,0&gt;</text>
<path d="M1172.95 337.80H1206.55" stroke="#5a934c" stroke-width="3.5" stroke-linecap="round"/>
<text transform="translate(1227.00 347.10) scale(1 1.030)" font-size="26.4" text-anchor="start" font-weight="normal" fill="#000">|-1,1&gt;</text>
<path d="M1171.35 372.80H1204.95" stroke="#f39104" stroke-width="3.5" stroke-linecap="round"/>
<text transform="translate(1225.56 382.10) scale(1 1.030)" font-size="26.4" text-anchor="start" font-weight="normal" fill="#000">|-1,0&gt;</text>
<path d="M1748.05 90.30H1781.75" stroke="#f39104" stroke-width="3.5" stroke-linecap="round"/>
<text transform="translate(1801.50 99.25) scale(1 1.030)" font-size="26.4" text-anchor="start" font-weight="normal" fill="#000">ODMR</text>
<path d="M1748.05 135.60H1781.75" stroke="#0a8b8d" stroke-width="3.5" stroke-linecap="round" stroke-dasharray="9.2 7.5"/>
<text transform="translate(1801.50 151.30) scale(1 1.030)" font-size="26.4" text-anchor="start" font-weight="normal" fill="#000"><tspan font-style="italic">e</tspan><tspan font-size="19" dy="-10.5">-</tspan><tspan dy="10.5" dx="-1.6"> </tspan>current</text>
<path d="M1748.05 177.90H1781.75" stroke="#000000" stroke-width="3.5" stroke-linecap="round" stroke-dasharray="9.2 7.5"/>
<text transform="translate(1801.70 193.70) scale(1 1.030)" font-size="26.4" text-anchor="start" font-weight="normal" fill="#000"><tspan font-style="italic">h</tspan><tspan font-size="20" dy="-11.6">+</tspan><tspan dy="11.6" dx="-2.6"> </tspan>current</text>
<path d="M1748.05 219.30H1781.75" stroke="#8e0f4b" stroke-width="3.5" stroke-linecap="round"/>
<text transform="translate(1802.00 235.20) scale(1 1.030)" font-size="26.4" text-anchor="start" font-weight="normal" fill="#000"><tspan font-style="italic">e</tspan><tspan font-size="19" dy="-10.5">-</tspan><tspan dy="10.5" dx="-1.6"> </tspan>+ <tspan font-style="italic">h</tspan><tspan font-size="20" dy="-11.6">+</tspan><tspan dy="11.6" dx="-2.6"> </tspan>current</text>
<path d="M341.35 600.90H375.45" stroke="#8e0f4b" stroke-width="3.5" stroke-linecap="round"/>
<text transform="translate(396.00 616.50) scale(1 1.030)" font-size="26.4" text-anchor="start" font-weight="normal" fill="#000"><tspan font-style="italic">e</tspan><tspan font-size="19" dy="-10.5">-</tspan><tspan dy="10.5" dx="-1.6"> </tspan>current, |0,1&gt;</text>
<path d="M341.35 636.70H375.45" stroke="#f39104" stroke-width="3.5" stroke-linecap="round"/>
<text transform="translate(396.00 652.30) scale(1 1.030)" font-size="26.4" text-anchor="start" font-weight="normal" fill="#000"><tspan font-style="italic">e</tspan><tspan font-size="19" dy="-10.5">-</tspan><tspan dy="10.5" dx="-1.6"> </tspan>current, |-1,1&gt;</text>
<path d="M341.35 838.50H375.45" stroke="#8e0f4b" stroke-width="3.5" stroke-linecap="round" stroke-dasharray="9.2 7.5"/>
<text transform="translate(396.20 854.40) scale(1 1.030)" font-size="26.4" text-anchor="start" font-weight="normal" fill="#000"><tspan font-style="italic">h</tspan><tspan font-size="20" dy="-11.6">+</tspan><tspan dy="11.6" dx="-2.6"> </tspan>current, |0,1&gt;</text>
<path d="M341.35 883.50H375.45" stroke="#f39104" stroke-width="3.5" stroke-linecap="round" stroke-dasharray="9.2 7.5"/>
<text transform="translate(396.20 899.60) scale(1 1.030)" font-size="26.4" text-anchor="start" font-weight="normal" fill="#000"><tspan font-style="italic">h</tspan><tspan font-size="20" dy="-11.6">+</tspan><tspan dy="11.6" dx="-2.6"> </tspan>current, |-1,1&gt;</text>
<path d="M1035.05 604.40H1069.15" stroke="#8e0f4b" stroke-width="3.5" stroke-linecap="round"/>
<text transform="translate(1089.40 620.20) scale(1 1.030)" font-size="26.4" text-anchor="start" font-weight="normal" fill="#000"><tspan font-style="italic">e</tspan><tspan font-size="19" dy="-10.5">-</tspan><tspan dy="10.5" dx="-1.6"> </tspan>current, |0,1&gt;</text>
<path d="M1035.05 649.70H1069.15" stroke="#f39104" stroke-width="3.5" stroke-linecap="round"/>
<text transform="translate(1089.40 665.50) scale(1 1.030)" font-size="26.4" text-anchor="start" font-weight="normal" fill="#000"><tspan font-style="italic">e</tspan><tspan font-size="19" dy="-10.5">-</tspan><tspan dy="10.5" dx="-1.6"> </tspan>current, |-1,1&gt;</text>
<path d="M1035.05 693.40H1069.15" stroke="#8e0f4b" stroke-width="3.5" stroke-linecap="round" stroke-dasharray="9.2 7.5"/>
<text transform="translate(1089.60 709.20) scale(1 1.030)" font-size="26.4" text-anchor="start" font-weight="normal" fill="#000"><tspan font-style="italic">h</tspan><tspan font-size="20" dy="-11.6">+</tspan><tspan dy="11.6" dx="-2.6"> </tspan>current, |0,1&gt;</text>
<path d="M1035.05 737.80H1069.15" stroke="#f39104" stroke-width="3.5" stroke-linecap="round" stroke-dasharray="9.2 7.5"/>
<text transform="translate(1089.60 753.80) scale(1 1.030)" font-size="26.4" text-anchor="start" font-weight="normal" fill="#000"><tspan font-style="italic">h</tspan><tspan font-size="20" dy="-11.6">+</tspan><tspan dy="11.6" dx="-2.6"> </tspan>current, |-1,1&gt;</text>
<path d="M1745.35 606.20H1779.35" stroke="#f39104" stroke-width="3.5" stroke-linecap="round"/>
<text transform="translate(1798.80 615.50) scale(1 1.030)" font-size="26.4" text-anchor="start" font-weight="normal" fill="#000">ODMR</text>
<path d="M1745.35 651.70H1779.35" stroke="#0a8b8d" stroke-width="3.5" stroke-linecap="round" stroke-dasharray="9.2 7.5"/>
<text transform="translate(1798.80 667.30) scale(1 1.030)" font-size="26.4" text-anchor="start" font-weight="normal" fill="#000"><tspan font-style="italic">e</tspan><tspan font-size="19" dy="-10.5">-</tspan><tspan dy="10.5" dx="-1.6"> </tspan>current</text>
<path d="M1745.35 699.10H1779.35" stroke="#000000" stroke-width="3.5" stroke-linecap="round" stroke-dasharray="9.2 7.5"/>
<text transform="translate(1799.00 715.10) scale(1 1.030)" font-size="26.4" text-anchor="start" font-weight="normal" fill="#000"><tspan font-style="italic">h</tspan><tspan font-size="20" dy="-11.6">+</tspan><tspan dy="11.6" dx="-2.6"> </tspan>current</text>
<path d="M1745.35 742.50H1779.35" stroke="#8e0f4b" stroke-width="3.5" stroke-linecap="round"/>
<text transform="translate(1799.30 757.80) scale(1 1.030)" font-size="26.4" text-anchor="start" font-weight="normal" fill="#000"><tspan font-style="italic">e</tspan><tspan font-size="19" dy="-10.5">-</tspan><tspan dy="10.5" dx="-1.6"> </tspan>+ <tspan font-style="italic">h</tspan><tspan font-size="20" dy="-11.6">+</tspan><tspan dy="11.6" dx="-2.6"> </tspan>current</text>
</g>
</svg>
</body></html>
